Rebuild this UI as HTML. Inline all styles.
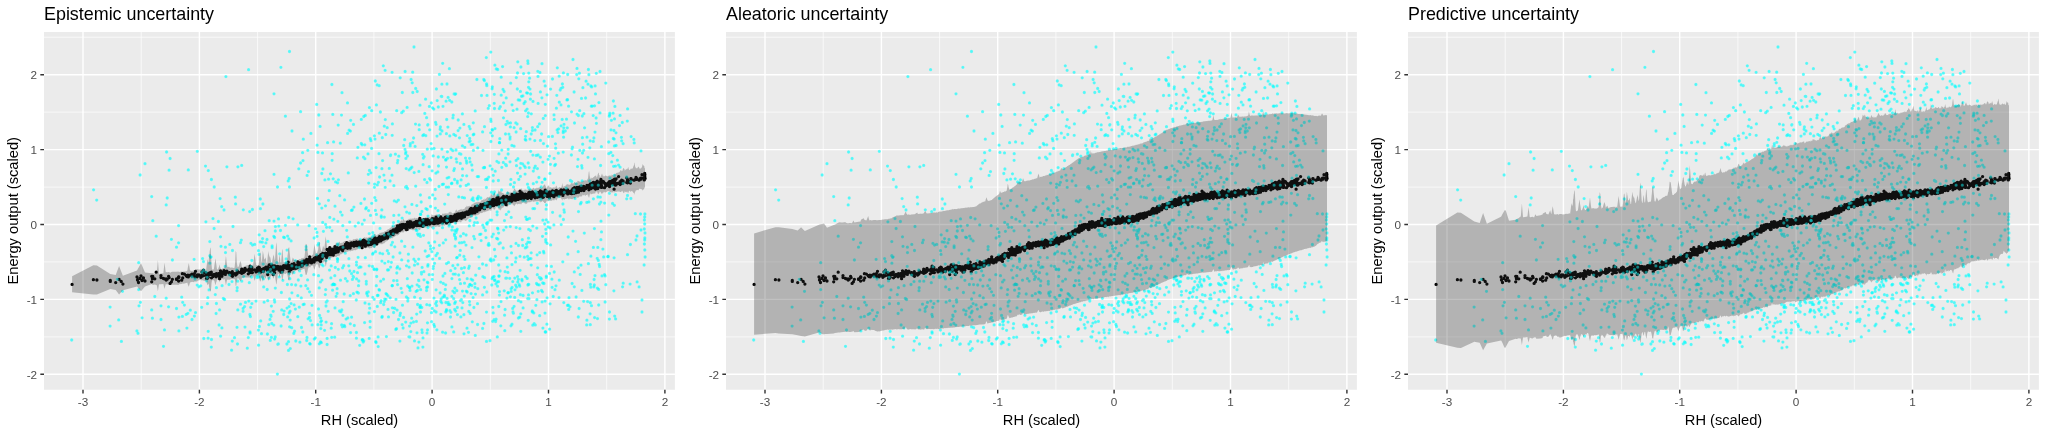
<!DOCTYPE html>
<html><head><meta charset="utf-8"><title>Uncertainty plots</title>
<style>html,body{margin:0;padding:0;background:#fff}svg{display:block;will-change:transform}text{font-family:"Liberation Sans",Arial,Helvetica,sans-serif}</style>
</head><body>
<svg width="2046" height="436" viewBox="0 0 2046 436">
<rect width="2046" height="436" fill="#fff"/>
<g transform="translate(0,0)"><rect x="44" y="31.96" width="630.9" height="357.79" fill="#ebebeb"/><path d="M141.2 31.96V389.75M257.6 31.96V389.75M373.9 31.96V389.75M490.3 31.96V389.75M606.7 31.96V389.75M44 336.9H674.9M44 261.9H674.9M44 187.1H674.9M44 112.1H674.9M44 37.2H674.9" stroke="#fff" stroke-width=".71" fill="none"/><path d="M83 31.96V389.75M199.4 31.96V389.75M315.7 31.96V389.75M432.1 31.96V389.75M548.5 31.96V389.75M664.9 31.96V389.75M44 374.3H674.9M44 299.4H674.9M44 224.5H674.9M44 149.6H674.9M44 74.7H674.9" stroke="#fff" stroke-width="1.42" fill="none"/><path d="M72.1 284.4h0M93.4 279.7h0M96.9 280h0M110.3 280.5h0M110.3 281.4h0M115.7 282.6h0M119.1 279.3h0M121.2 281.4h0M122.9 284.1h0M137 277h0M137.5 280h0M138.5 282.5h0M140 278.5h0M141 276h0M142 280.5h0M143.5 278h0M145 281h0M151.7 281.8h0M151.7 276.3h0M152.4 278.7h0M152.8 276.5h0M154.8 278.8h0M156.2 272.2h0M161 275.7h0M161 277.6h0M163.5 278.5h0M164.5 278.8h0M166.2 278.8h0M166.2 280h0M166.6 279.2h0M167.2 279.3h0M168.6 276.3h0M169.1 277.7h0M170.1 283.4h0M171.4 281.8h0M172.4 279.3h0M176.5 278.9h0M176.5 279.4h0M178.6 276.9h0M178.6 281h0M178.9 276.9h0M178.9 277.4h0M181.7 280.2h0M182.4 273.7h0M182.7 277.9h0M184.4 274.1h0M186.2 275.7h0M186.9 276.6h0M187.9 275.2h0M188.3 276.9h0M190.3 275.1h0M192 276.1h0M192 274.2h0M194.1 275.3h0M194.4 273.6h0M195 277h0M195.5 271.3h0M197.2 276.8h0M197.3 274.9h0M198.9 275h0M200.8 277.3h0M201.7 275.4h0M202 272h0M202.6 276.1h0M203.5 270.2h0M203.5 275.6h0M203.8 272.3h0M205.5 272.7h0M205.9 275.2h0M206.1 274.5h0M206.5 278.4h0M207.2 274.2h0M207.4 278.3h0M207.8 277.3h0M208.1 273.9h0M208.2 273.5h0M208.3 277.2h0M209 274.6h0M209.8 272.9h0M209.8 274.4h0M209.9 272.8h0M210.6 274.2h0M211.1 273.1h0M211.3 272.2h0M211.4 274.3h0M211.5 277.8h0M213 276.5h0M214.1 274.5h0M214.2 274.8h0M215.3 275.4h0M216.1 276.8h0M216.4 275h0M216.4 273.7h0M218.4 273.7h0M219.1 276.3h0M219.6 278.7h0M220.1 273.2h0M220.5 270.8h0M220.6 275.6h0M221 274.1h0M221.7 274.5h0M221.9 276.3h0M222.1 274.3h0M223.3 271.9h0M224 270.7h0M224.6 273.9h0M225.2 271.9h0M225.4 274.4h0M225.5 271.7h0M225.9 273.2h0M226.9 271.2h0M229 272.8h0M229.7 272.6h0M229.8 274.3h0M231.6 275.4h0M232 272.7h0M232.3 271.6h0M232.5 276.3h0M233 273.5h0M234.5 273.8h0M235.3 273.7h0M235.6 275.1h0M236.7 274.2h0M237 273.6h0M237 273.7h0M237.2 271h0M237.5 271.4h0M237.7 272.2h0M237.8 272.5h0M237.9 272.4h0M240.5 272.5h0M240.5 272.1h0M241.3 271.2h0M241.7 269.2h0M241.8 273.3h0M243.1 272.7h0M243.1 270.2h0M243.3 272.5h0M243.7 272.3h0M244.6 271.6h0M245 268.4h0M245.5 269.4h0M247.3 270.2h0M248.3 273.8h0M248.6 269.7h0M248.8 270.5h0M249.3 269.2h0M249.7 270.2h0M249.9 271.5h0M250 267.5h0M250.1 266.2h0M250.4 272h0M250.7 270.9h0M250.9 269.9h0M251.1 272.5h0M251.5 272.4h0M251.8 267.3h0M251.9 269.3h0M252.4 272.6h0M252.5 269.6h0M254.7 270h0M256 271.9h0M257.1 269.8h0M257.4 268.2h0M258.4 269h0M258.5 267.9h0M258.6 271h0M258.7 267.2h0M259 271.7h0M259.2 267.3h0M259.2 270.1h0M259.4 267.6h0M260.2 269.4h0M260.3 271.6h0M260.4 271.8h0M260.7 272h0M261.5 269.7h0M262.3 269.9h0M262.3 270.1h0M262.6 270.7h0M262.9 269h0M263.2 271.4h0M263.3 270.2h0M263.4 271.5h0M263.7 270.4h0M263.7 270.7h0M264.1 268.3h0M265 268.8h0M265.9 267.2h0M267 268.8h0M267.2 268.9h0M267.4 270.6h0M267.5 267.1h0M267.7 274.5h0M268.6 268.9h0M268.8 271.1h0M269.1 270.8h0M269.2 264.9h0M270 268.5h0M270.3 271.4h0M270.5 265h0M270.8 270.2h0M271.1 267.4h0M271.4 268.1h0M271.4 269.2h0M271.4 265.8h0M271.5 269.2h0M271.8 267.8h0M272.1 265.2h0M272.1 270h0M273.2 274.5h0M273.7 269.3h0M273.8 269.6h0M273.8 268.6h0M273.8 267.5h0M274 269.1h0M274 271.1h0M274 269h0M274.4 270.1h0M274.6 268.2h0M274.6 272.7h0M274.7 265.9h0M275.2 269.5h0M275.3 269.4h0M275.3 269h0M275.4 266.7h0M276.7 266.6h0M277.4 268h0M277.5 268.5h0M277.8 266.4h0M278.3 266.6h0M278.5 269.2h0M278.8 270h0M279.3 267.3h0M279.7 267.1h0M280.5 267h0M280.9 272.1h0M281.1 267h0M281.4 268h0M281.7 269.7h0M282.1 271.8h0M282.9 269.9h0M283.6 265.6h0M283.7 267.8h0M284.1 267.2h0M284.5 267.3h0M285.4 265.8h0M285.4 267.1h0M286.1 264.6h0M286.1 268.2h0M286.2 267.8h0M286.9 265.3h0M287 264.9h0M287 266.8h0M287.4 268.7h0M287.6 268.4h0M287.7 267.5h0M288.2 262.2h0M288.5 266.7h0M288.5 266.3h0M288.7 266.9h0M288.9 265.5h0M289.1 266.8h0M289.2 266.4h0M289.2 271.8h0M289.2 268.6h0M289.5 267.1h0M289.5 267.4h0M289.6 267.2h0M289.6 267.7h0M289.9 266.7h0M290.1 267.4h0M290.2 269h0M290.3 268.7h0M291.1 267.8h0M291.1 269.5h0M291.6 267.6h0M291.7 265.7h0M291.9 264.4h0M291.9 266.1h0M292 267.1h0M293.1 267.5h0M293.8 268.4h0M294 263.6h0M294.1 265.3h0M294.6 267.6h0M295.4 268.1h0M295.4 265.4h0M295.7 266.6h0M295.8 268.3h0M296.4 266.4h0M297.7 264.5h0M297.8 262h0M297.8 267.5h0M298.3 266.3h0M298.8 265.3h0M299.3 264.2h0M299.3 262.9h0M299.6 264.7h0M299.9 264.6h0M300.6 266.3h0M300.6 262.6h0M300.9 265.2h0M301.2 264.4h0M301.3 266.2h0M301.5 262.7h0M301.9 264.6h0M302.2 265.9h0M302.6 264h0M302.8 261.5h0M303 263.2h0M303.1 264.5h0M303.3 261.4h0M304.2 261h0M305.8 263.1h0M306 261.1h0M306.1 263.7h0M306.4 260.6h0M306.7 259.4h0M307 261h0M307.1 264.6h0M307.6 260.6h0M307.8 261.9h0M307.8 262.3h0M308.1 260.3h0M308.5 261.9h0M309.1 261.7h0M309.5 262h0M309.6 258.6h0M309.6 258.5h0M309.7 256.8h0M310.2 260.7h0M310.5 260.6h0M310.9 261.9h0M311.5 262.9h0M312 260h0M312.1 259.9h0M313.8 260.4h0M314.1 262h0M314.3 258.2h0M315.3 260.1h0M315.6 257.4h0M316.6 258.1h0M316.7 259.8h0M317 257.2h0M317.1 256.7h0M317.1 259.4h0M317.5 258.2h0M317.9 257.7h0M317.9 256.5h0M317.9 258.8h0M318.5 257.2h0M318.5 259h0M318.6 258.4h0M318.8 260h0M319.2 259.5h0M319.3 256.7h0M319.3 257.2h0M319.6 257.6h0M320.1 256.2h0M320.5 261.4h0M320.5 255.3h0M320.7 257.8h0M320.7 259h0M320.8 254.7h0M321.2 255.4h0M321.3 256h0M321.6 255h0M321.8 254.5h0M321.8 255.6h0M321.9 258.4h0M322 257.4h0M322.5 256.2h0M322.7 256.1h0M322.7 253.4h0M322.9 257h0M322.9 256.6h0M323.1 254.2h0M323.4 256h0M324.6 254.9h0M324.9 254.2h0M325.3 253.3h0M325.5 253.8h0M325.6 253.3h0M325.7 255.4h0M326 255.1h0M326 255h0M326.1 254.2h0M326.2 253.9h0M326.6 257.4h0M327.1 249.5h0M327.1 255.9h0M327.2 254.6h0M327.6 254h0M328 252.9h0M328.2 253.3h0M328.5 251.6h0M328.6 249.3h0M329.3 252.9h0M329.3 250.5h0M329.5 254.3h0M329.7 254.7h0M329.8 247.6h0M330.5 250.2h0M330.9 252.8h0M331.2 252.6h0M331.2 252.4h0M331.6 251.7h0M331.7 253.2h0M331.9 253.3h0M332 254.7h0M332.1 251.9h0M332.1 253.2h0M332.2 249.3h0M332.6 251.5h0M332.8 249.7h0M333.2 253.6h0M333.3 255h0M333.6 252.1h0M333.6 249.2h0M333.9 250.9h0M334 251.1h0M334.7 251.1h0M334.8 252.4h0M334.9 252.1h0M335 246.6h0M335 252.7h0M335.3 247.6h0M335.6 249.5h0M336.1 252.3h0M337.1 249.3h0M337.1 247.6h0M337.4 247.6h0M337.5 249.6h0M337.6 250.9h0M337.6 251.8h0M337.7 249.2h0M337.8 248.7h0M337.8 251.9h0M338.2 248.6h0M338.3 251.5h0M338.4 249.6h0M339.5 249.2h0M339.8 248.4h0M340.3 249.1h0M340.5 247.8h0M340.5 247.5h0M341 248.2h0M341.5 247.2h0M341.7 248.6h0M341.8 248.3h0M342 247.6h0M342.1 247.7h0M342.4 247.6h0M342.6 250.5h0M342.8 247.8h0M342.9 246.9h0M343 247.3h0M343.2 248.7h0M343.7 247.2h0M344.2 247.1h0M344.2 246.9h0M344.6 247.5h0M344.8 247.7h0M345.3 247.6h0M345.4 244.5h0M346.1 245.1h0M346.7 242.6h0M347.2 247.6h0M347.3 248.1h0M347.5 248.3h0M347.6 246.5h0M347.8 248h0M348.3 246h0M348.8 245.7h0M348.9 243.6h0M349.1 244.7h0M349.7 244.8h0M349.8 247.1h0M350.2 248.1h0M350.3 244.9h0M350.4 246.1h0M350.6 246h0M350.7 244.4h0M351.4 242.8h0M351.6 244.2h0M351.6 243.2h0M352.3 244.7h0M352.4 245h0M353.1 244.8h0M353.4 244.7h0M353.5 245.7h0M353.6 243.5h0M353.9 246.2h0M354 242.4h0M354.3 244.9h0M355.2 245.2h0M356.3 243.2h0M356.4 242h0M356.4 244.5h0M356.5 243.4h0M356.5 245.5h0M356.6 243.3h0M356.9 244.3h0M357.3 244.2h0M357.5 245.6h0M357.9 244.6h0M357.9 242.7h0M358.1 244.3h0M358.4 244.8h0M358.4 244.3h0M358.5 244.2h0M358.8 243.7h0M358.8 243.7h0M359.2 242.4h0M359.7 241.6h0M359.8 245.4h0M360.3 242.7h0M360.9 242.3h0M361 241.3h0M361.3 243.7h0M361.3 242.2h0M362.1 247.7h0M362.1 241.8h0M362.2 241.9h0M362.6 244.6h0M363.2 244.9h0M363.5 240.1h0M363.8 243.5h0M363.8 244.4h0M364.3 241.2h0M364.5 244h0M364.6 242.2h0M364.8 241.5h0M364.9 242.4h0M364.9 242.3h0M365 240.9h0M365.3 246.2h0M365.3 242.2h0M365.7 241.7h0M366.3 242.1h0M366.3 242.6h0M366.3 244.7h0M366.8 242.3h0M366.9 243.2h0M367.7 242.7h0M368 242.8h0M368.3 242.2h0M368.3 242.3h0M368.4 244.9h0M368.6 241.4h0M368.6 241.6h0M368.7 241.9h0M369 243.2h0M369.1 242.9h0M369.2 242.6h0M369.2 240.4h0M369.2 242.7h0M369.4 242.1h0M369.4 241.9h0M369.7 242.5h0M370.1 239.4h0M370.1 242.6h0M370.2 242.4h0M370.3 240.1h0M370.5 242h0M370.9 244.4h0M370.9 241.5h0M371.6 241.8h0M371.7 241.7h0M371.7 240.8h0M372.3 240.5h0M372.5 241.2h0M372.6 243.6h0M372.8 242.9h0M372.8 240.6h0M373.2 241.2h0M373.6 241.2h0M373.7 240.4h0M374.1 241.8h0M374.2 239.9h0M374.2 238.9h0M374.3 243h0M374.4 238.5h0M374.4 241.9h0M374.5 238.9h0M374.5 241h0M374.6 240.8h0M374.8 240.4h0M375 237.8h0M375.3 240.7h0M375.4 240.7h0M375.5 239.5h0M375.7 240.6h0M375.9 242h0M376.1 239.5h0M376.1 240.9h0M376.3 238.8h0M376.4 241h0M376.4 241.4h0M376.7 243.9h0M376.7 241.6h0M376.8 240.9h0M377.2 242.2h0M377.3 238.7h0M377.3 241.6h0M377.4 239.3h0M378.1 239h0M378.1 241.4h0M378.2 240.1h0M378.4 241.6h0M379 237.5h0M379 239.9h0M379.2 238.7h0M379.3 239h0M379.5 236.6h0M379.6 240.6h0M380 239.5h0M380 237.8h0M380.4 237.1h0M380.7 237.7h0M380.7 240.9h0M381.1 238.7h0M381.2 238.3h0M381.3 239.4h0M381.8 238.6h0M381.9 238.9h0M381.9 239.6h0M381.9 239h0M382.2 239.7h0M382.3 236.7h0M382.6 238.4h0M382.7 237.8h0M383.3 238.2h0M383.5 237.9h0M383.7 236.9h0M383.9 237.2h0M384.2 238.8h0M384.3 236.7h0M384.3 235.7h0M384.3 238.2h0M384.7 238.5h0M384.8 236.7h0M384.8 237.2h0M385.1 235.7h0M385.2 236.5h0M385.3 238.3h0M385.8 237.5h0M386 236.5h0M386 235.9h0M386.4 233.7h0M386.8 236.1h0M387.2 236.1h0M387.3 236.9h0M387.5 238h0M388 235.4h0M388 236.2h0M388.3 233.1h0M388.5 236.2h0M388.6 235.7h0M388.6 236.3h0M388.7 235.3h0M389.3 234.6h0M390.1 235.5h0M390.2 232.5h0M390.5 234.1h0M390.6 234.7h0M390.6 232.1h0M390.7 231.5h0M391.3 233.4h0M391.4 232.9h0M392 233.2h0M392.1 233.2h0M392.1 231.3h0M392.2 232.8h0M392.3 233.8h0M392.3 231.7h0M392.4 231.8h0M392.5 230.6h0M393.1 232.9h0M393.1 234.5h0M393.2 229.8h0M393.5 232.6h0M393.6 232.8h0M393.6 230.8h0M393.8 230.9h0M393.9 229.9h0M394.3 230.1h0M394.5 231.2h0M394.8 231.8h0M394.8 231h0M395.4 231.7h0M395.8 230.6h0M396 228.6h0M396.5 231.9h0M396.6 231.5h0M396.7 228.8h0M396.8 232.2h0M396.9 230.3h0M397 229.8h0M397.1 232.2h0M397.4 225.9h0M397.6 227h0M397.6 230.2h0M397.8 228.8h0M398.3 227.5h0M398.4 230.8h0M398.5 229.4h0M398.8 226.8h0M398.9 227.6h0M399.8 229.1h0M399.9 230.3h0M399.9 225.1h0M400 228.2h0M400.2 227.2h0M400.4 225.2h0M401.1 227h0M401.6 224.7h0M401.7 226.1h0M401.7 229h0M402 227.3h0M402.1 227.6h0M402.2 227.3h0M402.3 226.9h0M402.5 227.7h0M403.1 224.4h0M403.3 225.5h0M403.6 227.1h0M403.7 224.9h0M404.7 225.2h0M404.8 227.4h0M405 227.8h0M405 224.9h0M405.1 224.6h0M405.6 226.4h0M405.6 226h0M405.7 224.7h0M405.9 226.4h0M405.9 226.4h0M406.2 225.7h0M406.4 229.5h0M406.4 227.4h0M406.5 226.6h0M406.7 226.9h0M407.1 229.4h0M407.3 226.9h0M407.5 222.1h0M407.5 225.8h0M407.7 225.4h0M407.8 224.5h0M408 225.6h0M408.2 225.6h0M408.4 225.1h0M408.9 224.5h0M409.1 226.2h0M409.1 222.9h0M409.4 226.2h0M409.4 225.1h0M409.5 225.4h0M409.8 221.7h0M409.8 227.3h0M410 222.6h0M410.2 223.7h0M410.3 225.8h0M410.7 224h0M410.8 224.3h0M410.9 221.8h0M411.1 224.2h0M411.7 225h0M411.9 225.6h0M411.9 224.3h0M412 224.9h0M412.2 225.2h0M412.2 223.7h0M412.7 223.5h0M412.8 227.2h0M412.8 223.3h0M412.9 226.2h0M413.5 224.5h0M413.6 226.4h0M413.9 223.5h0M414 222.7h0M414.2 224.7h0M414.5 223.9h0M414.5 224.7h0M414.6 223.2h0M415.1 224h0M415.3 223.6h0M415.5 225.1h0M415.7 223.9h0M415.7 222.1h0M416.1 223.4h0M416.1 221.5h0M416.4 222.7h0M416.7 225.7h0M416.8 221.9h0M417 225h0M417 222.7h0M417.1 223.2h0M417.2 225.1h0M417.4 221.8h0M417.6 224.2h0M417.6 223.8h0M417.7 223h0M418 223.7h0M418.4 222.1h0M418.6 223.8h0M418.7 221.8h0M418.8 221.7h0M418.9 225.4h0M418.9 222.5h0M419.1 220.5h0M419.2 224.7h0M419.2 222.3h0M419.8 218.4h0M419.8 223.2h0M420 224.5h0M420 223.7h0M420.1 225.6h0M420.4 223h0M420.4 224h0M420.4 221.8h0M420.4 223.4h0M420.5 225.2h0M420.5 223.8h0M420.7 223.3h0M420.8 220.4h0M421.2 222.5h0M421.4 221.2h0M421.5 224h0M421.8 221.9h0M421.9 223.4h0M421.9 221.5h0M422.1 225.5h0M422.2 221.2h0M422.7 222.9h0M422.8 226.4h0M422.9 223h0M423 221.5h0M423 223.5h0M423.1 224h0M423.4 223.8h0M423.5 219.9h0M423.5 222.9h0M423.8 219.6h0M423.9 225.1h0M424 222.6h0M424.1 221.9h0M424.6 223.3h0M424.8 223h0M425.2 220.7h0M425.6 224.5h0M425.8 221.9h0M425.9 219.7h0M426.5 224h0M426.6 224.2h0M426.6 223.8h0M426.8 222.8h0M427 220.8h0M427 223.3h0M427.1 224.6h0M427.2 223.1h0M427.3 224.2h0M427.3 220.9h0M427.5 223.4h0M427.5 223.3h0M427.6 219.9h0M427.7 219.7h0M427.8 220.9h0M427.9 222h0M427.9 222.5h0M428 221.6h0M428 221.8h0M428 221.8h0M428.8 221.9h0M428.8 222.6h0M429.2 222.5h0M429.2 221.7h0M429.4 222.1h0M429.4 221.1h0M429.6 222.8h0M429.7 221h0M429.7 224h0M430.4 221.6h0M430.6 222h0M430.6 220.5h0M430.6 221.1h0M431.1 221.8h0M431.3 221.5h0M431.5 220.6h0M431.5 219.9h0M431.6 221.5h0M431.7 221.7h0M431.9 219.9h0M432.1 223.1h0M432.2 221h0M432.3 218.6h0M432.6 221.2h0M432.6 218.8h0M432.7 219.6h0M432.7 222.8h0M433.2 222.1h0M433.2 220.4h0M433.3 220.4h0M433.4 220.4h0M433.6 218.8h0M433.8 221.9h0M433.9 220.7h0M434 223.7h0M434.1 219.7h0M434.4 222.5h0M434.5 220.2h0M434.6 222.5h0M434.7 219.7h0M435.1 222.1h0M435.3 220.4h0M435.4 219.9h0M435.6 219.1h0M435.7 221.6h0M435.9 221.5h0M436 223.1h0M436.1 222.1h0M436.1 217.2h0M436.1 220.4h0M436.4 218.1h0M436.6 220.3h0M436.6 221.7h0M436.9 219h0M437 219.2h0M437.1 221h0M437.2 220.4h0M437.4 223h0M437.8 221.2h0M438 221.4h0M438.3 223.1h0M438.3 219.9h0M438.5 220.6h0M438.5 219.2h0M439 220.9h0M439.4 221.9h0M439.4 222.4h0M439.6 220.4h0M440.1 219.4h0M440.1 219.3h0M440.3 218.4h0M440.4 220.5h0M440.7 222.2h0M440.7 217h0M440.8 217.3h0M441.1 222.2h0M441.2 218h0M441.8 220.6h0M441.8 218.4h0M441.9 221.2h0M441.9 221.2h0M442 220.4h0M442.3 221.3h0M442.5 220.1h0M442.5 220.8h0M442.6 222.6h0M442.7 221.6h0M442.9 219.1h0M443 218.9h0M443 219.7h0M443.3 219.6h0M443.3 220.1h0M443.4 219.1h0M443.5 220.8h0M444.3 219.9h0M444.6 218.2h0M444.7 219.8h0M444.9 220.6h0M445.3 217.1h0M445.6 221.8h0M445.7 220.1h0M445.7 220.3h0M445.8 220.5h0M445.8 221.1h0M445.9 220.6h0M445.9 219.9h0M446.1 219.3h0M446.3 217.2h0M446.4 219.8h0M446.5 219.1h0M446.5 219.1h0M446.5 222.9h0M446.5 216.9h0M446.7 219.6h0M446.8 221.2h0M447 220.8h0M447.1 221.2h0M447.1 217.7h0M447.3 218.1h0M447.4 220.3h0M447.5 219h0M447.7 221.8h0M447.9 219.7h0M448.1 219.6h0M448.2 219.9h0M448.3 218.9h0M448.3 219.5h0M448.5 218.3h0M448.6 219.2h0M448.9 218.5h0M449 218.7h0M449.4 217.1h0M449.6 216.9h0M449.7 219.6h0M449.8 219.2h0M449.9 217.5h0M449.9 218.6h0M450.5 217.2h0M450.7 221.5h0M450.9 216.4h0M451 221h0M451 217.4h0M451.5 219h0M451.8 218h0M451.9 217.8h0M451.9 219.6h0M451.9 219.5h0M451.9 217.9h0M451.9 217h0M452.3 221.1h0M452.8 220h0M452.9 218.2h0M452.9 217.6h0M452.9 218.4h0M453.2 218h0M453.2 218.6h0M453.7 216.4h0M453.7 217.8h0M453.8 216.7h0M453.8 219.6h0M454.1 220.2h0M454.4 217.4h0M454.5 218.3h0M454.5 219.5h0M454.5 217.1h0M454.6 216.2h0M454.7 218.9h0M454.7 218.2h0M454.7 217.2h0M454.9 219.5h0M454.9 217.7h0M455.1 214.9h0M455.1 217.8h0M455.3 217.2h0M455.4 219.9h0M455.4 217.2h0M455.6 216.9h0M455.6 217.8h0M455.6 217.6h0M455.7 215.2h0M455.7 217.3h0M456 216.6h0M456.1 219h0M456.2 220.4h0M456.6 215.3h0M456.7 215.5h0M456.8 215.7h0M456.8 215.9h0M457.2 215.8h0M457.3 216.8h0M457.3 218.3h0M457.3 214.9h0M457.3 214.6h0M457.4 214.1h0M457.8 218.1h0M458.1 218.3h0M458.2 214.3h0M458.7 214h0M458.8 216.5h0M459.5 217.6h0M459.5 217.5h0M459.5 216.3h0M459.6 217h0M459.7 216.5h0M459.9 215.2h0M460.3 216.5h0M460.3 215.8h0M460.3 214.3h0M460.5 215.1h0M460.5 213.6h0M460.6 215.7h0M460.9 217.1h0M460.9 213.8h0M461.1 217.1h0M461.4 218.3h0M461.5 215.9h0M461.7 213.7h0M462 213.9h0M462.3 214.5h0M462.4 213.2h0M462.4 213.2h0M462.5 214.6h0M462.5 214.7h0M462.6 215.7h0M462.8 213.2h0M463.4 217.2h0M463.4 216h0M463.9 214.3h0M463.9 213.5h0M463.9 216.8h0M464 213.9h0M464.2 216.8h0M464.3 215.7h0M464.4 212.9h0M464.5 213.5h0M464.5 216.7h0M464.8 215.4h0M464.9 213.8h0M465.5 214h0M466 213.8h0M466.1 212.4h0M466.2 213.2h0M466.2 212.5h0M466.4 212.8h0M466.7 213.9h0M466.7 211.9h0M467 214.1h0M467.2 213.2h0M467.2 214.1h0M467.2 214.3h0M468.4 214.3h0M468.5 213.4h0M468.7 213.5h0M468.7 212.2h0M468.8 213.2h0M469.1 211h0M469.2 211.9h0M469.3 213.3h0M469.3 212.1h0M469.5 212.7h0M469.6 210.6h0M469.7 213.9h0M469.8 211.2h0M469.8 212.5h0M469.9 211.9h0M470 213.2h0M470.1 211.4h0M470.1 210.5h0M470.2 209.2h0M470.2 211.4h0M470.7 210h0M471.1 212.2h0M471.1 213.5h0M471.1 208.4h0M471.4 209.5h0M471.8 211.6h0M471.8 212.9h0M471.9 211.6h0M472 211.6h0M472.3 211.7h0M472.3 211.8h0M472.7 213.1h0M472.9 211.6h0M472.9 209h0M473.1 209.9h0M473.2 210.9h0M473.3 209.4h0M473.4 210.1h0M473.5 209.7h0M473.7 209.4h0M473.8 211.3h0M473.9 209.7h0M473.9 208.7h0M474.6 209h0M474.6 210h0M474.9 212.8h0M475 207.8h0M475.2 211.8h0M475.3 210.4h0M475.5 206.6h0M475.7 210h0M476.1 208.1h0M476.9 207.1h0M477 207.4h0M477.2 211.3h0M477.3 206.6h0M477.4 207.9h0M477.5 210.4h0M477.6 209.6h0M477.7 206.2h0M477.8 208.4h0M477.8 207.9h0M478.4 208h0M478.6 209.3h0M478.9 207.3h0M479.2 207.5h0M479.7 209.8h0M480.8 204.7h0M480.9 206.7h0M481.1 207.8h0M481.5 205.2h0M482.6 205.6h0M482.6 204.6h0M482.6 205.7h0M482.6 205.6h0M482.8 207.5h0M482.9 207.8h0M483 206.4h0M483.3 205.7h0M483.8 206.4h0M483.9 206h0M483.9 204.2h0M484.3 207.4h0M484.4 206.1h0M484.4 206.9h0M484.4 203.9h0M484.5 207h0M484.5 208.7h0M484.6 206.6h0M484.9 203.6h0M485.3 205.5h0M485.4 205.3h0M485.5 205.7h0M486 204.9h0M486.3 205.8h0M486.3 204.4h0M486.4 205.4h0M486.5 204.1h0M486.5 205.2h0M486.6 206.4h0M486.6 204.3h0M486.8 205.8h0M486.8 203.6h0M486.9 204.3h0M487 204.5h0M487 206.6h0M487.1 203.7h0M487.3 206.5h0M487.7 202.5h0M488.2 204.2h0M488.2 205.7h0M488.8 205.2h0M488.8 202.7h0M489.2 202.3h0M489.3 205.2h0M489.7 202.1h0M490 204.6h0M490 203h0M490.1 203.7h0M490.1 207h0M490.2 205.8h0M490.7 204.7h0M490.8 201.5h0M490.8 203.9h0M490.8 203.5h0M490.9 203.3h0M491 205.3h0M491.3 200.8h0M491.5 203.6h0M491.7 203.3h0M491.8 202h0M492 205.5h0M492 201.2h0M492.1 203h0M492.1 203.1h0M492.1 199.9h0M492.3 200.9h0M492.3 201.5h0M492.6 203.9h0M492.7 204.1h0M492.7 203.6h0M492.9 201.8h0M493.2 199.4h0M493.2 202.9h0M493.3 201.8h0M493.3 204.2h0M493.6 204.3h0M493.7 205.6h0M494.1 203.2h0M494.1 203.4h0M494.2 200.7h0M494.3 202.3h0M494.5 200.3h0M494.5 203.4h0M494.5 200.4h0M494.5 200h0M494.9 200.8h0M494.9 201.3h0M495 202.6h0M495.2 201.1h0M495.4 202.2h0M495.6 200.4h0M495.9 203.7h0M496.1 200.8h0M496.3 203.1h0M496.6 204.7h0M496.9 198.1h0M497.1 200.1h0M497.1 201.2h0M497.1 203.2h0M497.3 200.8h0M497.5 202h0M497.5 200.4h0M497.7 202.2h0M497.7 199.7h0M497.8 202.6h0M498 197.1h0M498.4 198.6h0M498.6 203.8h0M498.6 201.5h0M498.7 199.9h0M498.7 204.3h0M498.8 202.7h0M498.9 202.8h0M499 200.5h0M499 202h0M499 201.9h0M499 198.8h0M499.3 201.9h0M499.4 200.8h0M499.4 202.9h0M499.5 202.9h0M499.6 200.1h0M499.8 200.1h0M500.2 201.2h0M500.3 201.8h0M500.3 200.3h0M500.8 200.6h0M501 201.6h0M501.2 201.3h0M501.2 202.4h0M501.5 201h0M501.6 199.3h0M501.8 198h0M501.8 201.7h0M502.4 200h0M502.6 199.9h0M503 199.9h0M503.2 198h0M503.3 199.7h0M503.5 196.5h0M503.6 199.6h0M503.7 198.9h0M504.1 202.7h0M504.2 200.7h0M504.5 199.7h0M504.6 200.2h0M504.8 199.4h0M505.1 198.8h0M505.1 199.6h0M505.3 199.4h0M505.5 203.4h0M505.5 199.9h0M505.7 197h0M505.8 200.9h0M505.9 203.5h0M505.9 198.4h0M506.1 204.7h0M506.2 199.6h0M506.2 201.1h0M506.3 198.8h0M506.4 199.2h0M506.6 197.8h0M506.9 198h0M506.9 196.5h0M507.2 201.1h0M507.3 197.8h0M507.6 199.9h0M507.9 199.8h0M507.9 198.4h0M508.1 199.4h0M508.2 199.1h0M508.3 198.5h0M508.3 199.3h0M508.7 199.2h0M508.9 197.7h0M509.7 197.1h0M509.9 197.7h0M510 199.1h0M510 200.9h0M510.1 201h0M510.3 199.3h0M510.4 200.2h0M510.4 199h0M510.5 200.4h0M510.5 199h0M510.7 199.3h0M510.9 198.3h0M511 198.7h0M511 201.4h0M511.1 197h0M511.2 198.7h0M511.2 197.8h0M511.5 200h0M511.9 201.1h0M512 198.1h0M512 194.5h0M512 199.4h0M512.1 199.4h0M512.7 195.9h0M512.8 198h0M513 198.2h0M513.2 194.9h0M513.4 199.2h0M513.5 198.8h0M514.1 198.4h0M514.1 196.5h0M514.1 197h0M514.4 197.1h0M514.4 198.7h0M514.7 196.5h0M514.8 200.1h0M515 198.4h0M515.5 194.6h0M515.7 200.2h0M515.8 198h0M516 196.9h0M516 197.8h0M516.1 195h0M516.1 197.9h0M516.2 194.1h0M516.3 196.1h0M516.5 199.5h0M516.6 199.4h0M517 197h0M517.1 196.1h0M517.3 198.8h0M517.5 197.3h0M517.5 197.7h0M517.5 198.3h0M517.8 195.8h0M517.8 198.5h0M517.9 194.3h0M518.2 199.4h0M518.4 195h0M518.4 196.3h0M518.4 196.3h0M518.5 198.3h0M518.8 198.3h0M519.2 197.7h0M519.7 197.9h0M519.8 197.7h0M519.8 197h0M519.9 194.2h0M520 191.2h0M520.1 193.7h0M520.2 196.9h0M520.4 196.6h0M520.4 196.8h0M520.4 197.3h0M520.7 196.6h0M520.8 193.1h0M520.8 194.7h0M520.8 194.1h0M520.9 198.7h0M520.9 198.2h0M521.5 192.6h0M521.9 196.4h0M522.1 197.4h0M522.3 199h0M522.6 193.6h0M522.7 196.9h0M522.8 198.3h0M522.9 194.1h0M523 195.5h0M523.1 196.5h0M523.1 195.5h0M523.6 199.6h0M524 197.7h0M524.2 196.7h0M524.3 195h0M525.1 197.6h0M525.2 197.2h0M525.2 195.5h0M525.3 195.6h0M525.3 194.1h0M525.3 196.2h0M525.5 197.5h0M525.6 197.7h0M525.6 197.1h0M525.8 197.4h0M525.9 195.3h0M526.3 195.4h0M526.5 197.9h0M526.5 196.8h0M526.6 194.9h0M526.9 196.8h0M527.1 197.2h0M527.2 197h0M527.4 196.1h0M527.5 195.2h0M527.6 196.5h0M527.6 198.4h0M527.7 196.2h0M527.7 195h0M527.8 196.4h0M527.9 194.1h0M527.9 196.2h0M528 195.4h0M528.1 197.3h0M528.2 196h0M528.2 197.4h0M528.4 197.6h0M528.4 195.5h0M528.4 194.6h0M528.5 196.5h0M528.5 195.7h0M528.5 196h0M528.7 194.9h0M528.8 196.6h0M528.8 195.9h0M528.8 192.6h0M529 195.4h0M529.1 196.2h0M529.5 197.4h0M529.5 194.9h0M529.6 192.1h0M529.8 197.3h0M529.9 194.8h0M530 195.8h0M530 196.3h0M530.4 196.7h0M530.4 195.6h0M530.6 194h0M530.7 197.1h0M531 194.9h0M531.2 194.8h0M531.2 198.5h0M531.2 196.8h0M531.3 194h0M532.3 194.8h0M532.3 195.1h0M532.4 194.4h0M532.4 191.8h0M532.5 196.6h0M532.8 196.5h0M532.8 193.3h0M532.9 194.8h0M532.9 195.7h0M533 196.3h0M533.3 193.8h0M533.3 194.9h0M533.8 194.5h0M534.2 196.3h0M534.3 195.7h0M534.6 193.4h0M534.8 194.3h0M535.1 197.8h0M535.3 193.8h0M535.3 195.4h0M535.4 194.3h0M535.8 197h0M536.3 195h0M536.5 194.5h0M536.5 193.4h0M536.7 194.7h0M536.8 196.3h0M536.9 196h0M537.1 193.1h0M537.3 197.3h0M537.3 194.7h0M537.3 193.5h0M537.4 195.2h0M537.6 194.1h0M537.7 194.1h0M537.7 194.1h0M537.8 194.8h0M538 194.2h0M538.1 192.5h0M538.1 195.7h0M538.2 194.2h0M538.9 196.6h0M539.2 195.6h0M539.3 195.7h0M539.4 195.1h0M539.7 196.7h0M539.7 194.3h0M539.9 193.3h0M540.3 195.2h0M540.4 190.8h0M540.4 194.2h0M540.6 195h0M540.7 194.1h0M540.9 196.5h0M541.2 195.7h0M541.4 193.8h0M541.5 194.1h0M541.6 196.2h0M541.9 193.6h0M542 194h0M542.1 195.7h0M542.1 195.5h0M542.5 197.5h0M542.5 194.2h0M542.7 191.8h0M542.9 195.5h0M542.9 196.3h0M542.9 194.3h0M543.3 196.8h0M543.5 197.1h0M543.5 193.5h0M543.9 193.8h0M544 192.6h0M544.1 195.2h0M544.7 195.4h0M544.8 195.3h0M544.8 192.6h0M544.9 193.3h0M545 192.3h0M545.1 192h0M545.2 192.4h0M545.2 190.1h0M545.3 191.7h0M545.3 194.9h0M545.7 195.2h0M545.7 194.3h0M545.8 193.3h0M545.8 194.3h0M546.1 195.1h0M546.1 193.8h0M546.2 194.3h0M546.3 193.8h0M546.3 193.5h0M546.4 194.3h0M546.6 192.6h0M546.7 195.7h0M546.9 191.9h0M547 194.9h0M547.1 192.2h0M547.1 196.4h0M547.5 195.4h0M548.1 192.9h0M548.1 193.5h0M548.1 192.5h0M548.6 194h0M549.2 194.6h0M549.4 197.7h0M549.5 192h0M549.6 195.8h0M549.9 193.1h0M550 194.4h0M550.1 195.2h0M550.4 194.7h0M550.6 192.1h0M550.6 193.6h0M551.4 193.8h0M551.9 194h0M552.1 195.5h0M552.4 191.6h0M552.5 190.9h0M552.6 192h0M553.1 192.3h0M553.2 192.5h0M553.5 195.2h0M553.9 196.7h0M554 195.6h0M554.1 191.9h0M554.2 193.7h0M554.2 192h0M554.7 192.7h0M555 195.3h0M555.5 192.5h0M555.6 194.7h0M555.7 193.2h0M556 190.6h0M556.4 190.5h0M556.8 193.2h0M557.1 194.1h0M557.3 195.1h0M557.9 192.7h0M558.3 193.3h0M558.6 193.5h0M559 194.7h0M559 193h0M559.2 191.5h0M559.3 194.7h0M559.3 193.7h0M560.1 193.6h0M560.2 191.2h0M560.9 192.9h0M561 190.5h0M561.1 190h0M561.2 192.6h0M562.2 192.2h0M562.4 193.6h0M562.8 194.9h0M562.8 192.7h0M562.9 195.4h0M563.2 191.9h0M563.2 193.8h0M563.3 190.9h0M563.4 192.9h0M563.4 192.2h0M563.6 192.4h0M563.8 191.3h0M563.8 189.9h0M564 190.9h0M564 191.4h0M564.3 192.7h0M564.3 193.1h0M565.3 191.8h0M566.3 191.6h0M566.5 190.4h0M566.9 192.9h0M567.3 191h0M567.5 192.6h0M567.6 189.8h0M567.7 193.9h0M567.8 190.4h0M568.2 193.5h0M568.4 191.1h0M568.6 192.5h0M568.7 191.5h0M569 192.7h0M570 191.5h0M570.4 193.3h0M571.4 192.2h0M571.5 192.2h0M571.7 193.7h0M572.1 190h0M572.1 193h0M572.5 191.1h0M573 188.6h0M573 191.6h0M573.5 190.5h0M574 193.3h0M574.1 189.9h0M574.3 189.9h0M574.3 191h0M574.5 187.6h0M575 191.3h0M575.6 188.8h0M576.1 192.3h0M576.2 192.7h0M576.7 189.9h0M577 187.4h0M577.1 190.1h0M577.5 190h0M578 190.7h0M578.2 189h0M578.3 187.6h0M578.3 189.2h0M578.4 188h0M578.5 192.2h0M578.8 188.2h0M579.1 188.2h0M579.4 189h0M579.7 187h0M579.8 188.3h0M580.2 188.6h0M580.4 188h0M581 188.2h0M581.2 190.5h0M581.2 188.1h0M581.5 186.3h0M581.7 187.7h0M581.9 189.5h0M582 187.3h0M582.1 188.4h0M582.3 188.2h0M582.4 189.1h0M582.5 187.9h0M582.7 187.9h0M582.9 186.7h0M583.7 188.5h0M583.7 186.4h0M583.9 190.6h0M584.3 187.7h0M584.6 187.3h0M585.6 188.7h0M586.1 187.1h0M586.7 187.2h0M586.8 187h0M586.9 185.8h0M587 185.5h0M587.6 185.7h0M588 187.5h0M588 185.7h0M588.4 186h0M588.4 185.9h0M588.8 187.7h0M588.9 189.8h0M589.7 184.8h0M589.8 187.2h0M590.1 186.4h0M590.2 185.7h0M590.3 187h0M590.3 184h0M590.4 187.5h0M590.8 186.4h0M590.9 184.3h0M590.9 188.7h0M591.3 187.3h0M591.5 187.8h0M591.7 183.3h0M592.1 185.3h0M592.3 184.8h0M593.2 186.6h0M593.3 187.8h0M593.4 182.3h0M593.4 185.5h0M593.9 185.2h0M593.9 187.1h0M594.1 185.3h0M594.3 183.2h0M594.4 185h0M594.4 183.6h0M594.6 184h0M594.6 185.4h0M595 184.4h0M595 185.7h0M595.1 182.6h0M595.5 189.1h0M596.1 187.2h0M596.3 186.2h0M596.4 182.8h0M597.2 181.1h0M597.4 183.3h0M597.5 184.4h0M597.8 188.6h0M597.9 187h0M598.3 183.7h0M598.3 186.7h0M598.7 186.7h0M598.7 184.6h0M598.9 186.6h0M599.2 185.1h0M599.5 183.3h0M599.6 182.4h0M600 184.1h0M600 186.1h0M600.3 181.9h0M600.6 181.4h0M600.9 185.2h0M600.9 179.4h0M601 187.3h0M601.4 183.3h0M601.5 185.4h0M602 187.3h0M602.9 181.4h0M603.7 182h0M604.5 187.7h0M604.6 183.2h0M605.1 183.5h0M605.1 184.1h0M605.8 185.5h0M605.8 186h0M607.8 183.6h0M608.2 182.8h0M608.7 183.3h0M608.8 183.9h0M608.8 185.7h0M609.3 183.5h0M609.4 186.6h0M609.4 181.7h0M609.5 184.2h0M609.7 186.4h0M609.8 185.6h0M610 183.8h0M610.9 181.5h0M611 181.8h0M611.4 182.8h0M611.7 183.6h0M612.4 182.5h0M612.6 180.3h0M612.8 181.6h0M613.1 181.3h0M613.3 184.4h0M613.4 180.3h0M613.6 182.1h0M613.9 179.7h0M614 181.7h0M614.1 189.2h0M614.2 182.8h0M614.4 182h0M614.4 181.6h0M614.5 180.4h0M614.5 179.2h0M614.7 182.5h0M614.9 182.1h0M615.5 185.2h0M615.6 179.4h0M615.6 183.2h0M616 184.9h0M616.1 178.8h0M617.4 183.4h0M618.6 176.6h0M619.5 182.8h0M620.1 184.5h0M620.1 181.7h0M621.4 182h0M621.7 180.1h0M622.3 181.9h0M622.6 183.4h0M623.1 180.9h0M623.1 181h0M623.2 182h0M626.7 182.5h0M626.7 177.8h0M627.3 181h0M627.5 179.5h0M627.5 181.8h0M627.6 182.8h0M630.1 181.2h0M630.4 183h0M630.8 178.6h0M630.9 179.7h0M631.1 178.6h0M633.9 180.2h0M634.2 180.2h0M635.3 179.4h0M636 177.3h0M637 179.3h0M637.1 178.6h0M639.1 180.2h0M640.5 178.2h0M641 179.2h0M641 179.1h0M642 174.7h0M642 178.1h0M644.1 175.1h0M644.3 179.9h0M644.4 179.3h0M644.4 177.9h0M644.7 178.8h0M644.7 174.9h0M644.7 173.3h0M644.8 176.7h0M644.8 177.3h0M644.9 174.8h0M645 178h0M645.1 178.4h0" fill="none" stroke="#000" stroke-linecap="round" stroke-width="3.3"/><g fill="none" stroke="#0ff" stroke-linecap="round"><path d="M610.9 152.4h0M427.5 330h0M546.1 209.2h0M419.8 223h0M448.3 194.6h0M330.9 277.9h0M573 231.1h0M406.7 212.1h0M532.8 226.1h0M621.4 137.3h0M192 319.5h0M439.6 258.4h0M203.5 270.3h0M342 92.7h0M271.1 316.3h0M430.6 180.1h0M504.8 330.7h0M117.3 279.3h0M275.2 336.9h0M542.1 301.9h0M452.3 226.9h0M609.4 319.1h0M339.8 195.7h0M376.4 214.4h0M209.9 263.2h0M501.6 190h0M331.2 265.9h0M140.4 302.3h0M394.8 246.8h0M478.6 176.6h0M566.3 188.2h0M586.1 81.2h0M411.9 204.4h0M464.8 147.3h0M497.8 239h0M548.1 227h0M557.3 67.8h0M584.3 233.1h0M590.9 85.9h0M110.1 326.1h0M417.7 263.9h0M527.6 256.5h0M429.2 274.7h0M375.9 200.4h0M486.3 265.2h0M516 243.4h0M359.2 247.5h0M436.4 89h0M590.4 284.5h0M572.1 148.8h0M169.1 170.2h0M433.9 324.5h0M511.5 252.9h0M405 206.8h0M544 283.5h0M269.2 220.7h0M609.7 114.9h0M498 229h0M335 206.2h0M616 132.8h0M499.8 138.7h0M429.2 166.7h0M447.9 127.1h0M386.8 294.3h0M295.4 309.1h0M453.2 274.1h0M391.3 244.9h0M562.4 84h0M543.5 251.3h0M225.4 247.2h0M281.4 292.5h0M262.6 238.6h0M380.4 112h0M369.2 233.6h0M474.6 238.8h0M446.5 263.6h0M462.8 302.6h0M243.1 308.4h0M350.2 295.7h0M386 299.3h0M495.6 321.5h0M434.6 263.3h0M427.2 209.5h0M466 245.1h0M567.8 254.2h0M247.3 348.2h0M258.4 330.1h0M459.9 128.1h0M478.9 256.8h0M421.8 307.5h0M520.8 331.3h0M318.6 243.4h0M446.5 167.1h0M527.6 93.1h0M529.1 167.6h0M529.5 218.4h0M408.9 336.8h0M556 285.8h0M434.4 310.9h0M402 292.6h0M503.7 230.1h0M535.3 166.1h0M563.4 72.9h0M511.2 291.4h0M385.8 134.5h0M533.8 312.9h0M457.2 229.1h0M397.1 310.1h0M370.5 215.4h0M433.2 268.6h0M432.2 308.4h0M456.1 232.5h0M306.1 246.7h0M595 132.1h0M254.7 244.4h0M377.4 295.5h0M337.7 259.4h0M571.5 111.8h0M327.2 300.9h0M415.5 124.1h0M301.5 327.5h0M587.6 301.6h0M310.2 344.1h0M622.3 122.5h0M326.2 302.2h0M451 157.6h0M644.8 238h0M573.5 192.7h0M505.7 158.2h0M222.1 285.7h0M549.6 329.2h0M469.8 284.8h0M571.4 155h0M427.9 282.8h0M498.8 306.5h0M356.5 265.1h0M366.3 207.7h0M291.9 265.9h0M533.3 171.1h0M561 104.9h0M534.6 208.6h0M206.5 280.9h0M380 228.4h0M419.1 286.5h0M343.7 265.7h0M471.1 279.2h0M430.4 245.9h0M600 112.9h0M435.3 189.5h0M547.1 297.8h0M344.2 325.3h0M176.5 247.2h0M195.5 312.6h0M635.3 213.7h0M376.1 167.6h0M139 305.8h0M586.8 202.4h0M265.9 242.9h0M270.8 315.1h0M297.7 224.9h0M508.3 292.7h0M406.4 297h0M321.8 208.1h0M376.1 342.5h0M466.7 163h0M501 301.6h0M492.7 321.3h0M511.1 288.8h0M427.8 266.2h0M272.1 246h0M552.4 136.4h0M271.4 263.8h0M396.7 110.7h0M553.9 224.9h0M542.5 236.3h0M454.1 93.9h0M575 198.4h0M187.9 313.3h0M445.7 284.8h0M464 333.8h0M381.9 317.3h0M259 254.4h0M518.4 300.7h0M393.9 185.7h0M136.9 330.9h0M248.8 301.1h0M519.8 100.2h0M261.5 333.7h0M363.5 157.2h0M519.8 317.2h0M540.4 91.9h0M511.9 145.4h0M537.3 194.9h0M292 131h0M436.1 312h0M469.3 266.2h0M280.5 230.5h0M449.4 68.7h0M558.6 128.9h0M402.2 324.6h0M423.1 164.7h0M469.6 158.3h0M420.8 214.4h0M281.7 309.9h0M353.5 124.4h0M396.6 201.8h0M494.3 94.3h0M554.1 158.3h0M482.6 294.9h0M463.9 314.7h0M515.7 285.2h0M510.5 184.5h0M455.6 237.4h0M579.8 150.4h0M207.2 277.3h0M614.9 106.4h0M332.1 284.8h0M542.9 162.1h0M528.4 187.4h0M476.9 79.5h0M393.2 233.8h0M237 327.3h0M414.6 297.2h0M582 168h0M393.8 215.4h0M630.8 181.7h0M412.7 72.2h0M405.6 187.2h0M525.2 139.3h0M491.3 261h0M166.6 152h0M449.8 135.9h0M471.1 144.7h0M602 275.9h0M578.3 267.8h0M604.5 274.6h0M471.8 165h0M516.2 227.6h0M422.1 267.4h0M486.5 341.4h0M556.8 95.3h0M337.8 221.3h0M221.9 327.9h0M574 189.9h0M398.9 215.1h0M457.8 264.8h0M472.3 170.2h0M490.9 141.5h0M622.6 286.8h0M590.8 287.2h0M388.6 234h0M540.3 157.2h0M602.9 249.1h0M463.4 272.7h0M428.8 255.7h0M201.7 307.3h0M443.3 283.4h0M512 324.2h0M414 47h0M453.2 115.2h0M456.8 162.1h0M388.3 261.6h0M503 89.3h0M529.5 258.6h0M326 260.7h0M373.6 222.9h0M440.1 129.3h0M582.9 87.7h0M552.6 212.3h0M237.9 166.8h0M458.2 120h0M372.5 266.5h0M420 105.2h0M273.8 325.1h0M545 313.1h0M438 210.7h0M473.3 122.8h0M427 182.5h0M418.7 259.1h0M423.5 235.3h0M329.5 270.1h0M510.3 226.6h0M525.8 217.1h0M568.4 305.2h0M219.1 325h0M384.3 126.2h0M409.4 213.2h0M585.6 98h0M268.8 324.7h0M376.3 285.7h0M597.2 258.3h0M275.3 231h0M611.7 161.9h0M427.6 286.9h0M424.8 113.4h0M167.2 198h0M262.3 277h0M433.4 266.3h0M283.6 237.2h0M288.9 238.9h0M499.4 295.1h0M439.4 74.4h0M550.4 164.3h0M539.7 252.6h0M429.7 129.8h0M498.6 281.7h0M412.8 92.5h0M456.6 257.8h0M454.9 94.3h0M609.5 312h0M416.4 321.4h0M454.4 168.6h0M380.7 302.7h0M548.1 159.3h0M342.9 315.3h0M614.4 145.9h0M495.9 283.9h0M536.5 192.4h0M524.2 165.8h0M486.3 57.6h0M568.6 106.2h0M237.7 281.2h0M484.4 80.6h0M297.8 295.7h0M376.7 276.5h0M285.4 225.3h0M644.1 265h0M614.5 118.9h0M409.8 337h0M478.4 196.5h0M467 328.2h0M206.1 272.1h0M402.5 305.2h0M252.4 209.5h0M267.2 289.5h0M484.5 126.7h0M325.6 224.4h0M526.5 219.3h0M443.3 242.9h0M477.7 147.9h0M384.8 180.6h0M612.4 185.6h0M582.3 116h0M528.8 81.8h0M559.2 76.2h0M308.1 318.8h0M588.9 74.7h0M310.5 320.6h0M390.6 267.1h0M631.1 136.6h0M454.5 233.8h0M442.7 63.3h0M475.3 335.4h0M503.2 248h0M508.2 149.3h0M256 301.1h0M490.8 258.9h0M492.1 278.7h0M545.2 85.9h0M184.4 305.1h0M365.3 115.4h0M442.9 297.1h0M531.2 265.1h0M224.6 299.5h0M294.6 331.2h0M593.3 141.4h0M462.6 175.6h0M538.2 291.3h0M307.1 175.4h0M494.1 276.5h0M483 150.4h0M330.5 173.8h0M267.4 334h0M412.2 82.8h0M383.7 304.5h0M432.6 107.8h0M382.7 253.8h0M397.6 266.7h0M543.3 118.4h0M517.5 276.6h0M580.4 203.9h0M299.3 307.2h0M519.9 228.6h0M455.7 311.1h0M492.6 130.1h0M615.5 166.1h0M522.3 239.7h0M612.6 203.5h0M494.5 249.5h0M525.6 110.8h0M581.2 185.4h0M423.5 226h0M337.8 244h0M260.4 208.7h0M525.6 276.6h0M182.4 316.4h0M627.3 121.1h0M519.7 286.2h0M192 277h0M569 297.7h0M431.3 103h0M493.7 260h0M248.3 337.6h0M480.9 234.1h0M207.4 303.7h0M620.1 167.2h0M578.3 317h0M482.6 131.9h0M409.1 267.2h0M214.2 187h0M501.2 77.2h0M388.6 253.5h0M594.6 317.6h0M555.6 164.3h0M448.2 302.4h0M462 307.9h0M262.3 242.2h0M420.4 305.3h0M445.8 160.2h0M499.3 108.6h0M510.4 296.8h0M407.5 156h0M605.8 284.7h0M576.1 297h0M406.4 186.5h0M576.7 74.6h0M516.1 160.4h0M644.7 224h0M473.7 236.3h0M435.7 303.7h0M595.1 85.9h0M470.1 161.9h0M443 276h0M305.8 285.7h0M446.5 310.7h0M461.5 268.5h0M595 275.6h0M412 286.1h0M522.1 280.8h0M542.9 328.1h0M219.6 309.9h0M445.3 289.4h0M273.7 267.2h0M590.3 324.7h0M334.9 284.6h0M237.8 309.9h0M468.7 286.6h0M313.8 274.7h0M515.5 261.9h0M456.8 290.7h0M186.9 328.1h0M544.9 178.9h0M500.3 106.7h0M409.8 287.7h0M209.8 241.6h0M420.7 289.7h0M240.5 242.7h0M451.5 183.6h0M415.1 146.4h0M151.7 309.9h0M369.4 107.6h0M494.5 108.5h0M432.7 259.1h0M563.8 302.6h0M460.3 250.4h0M554.2 272h0M563.2 132.7h0M428 227.5h0M488.8 243.5h0M596.3 73.3h0M384.3 301.6h0M297.8 316.7h0M358.1 257.3h0M477.8 288.7h0M489.2 245.2h0M436 255.5h0M338.2 125.1h0M572.5 147.2h0M377.3 184.9h0M537.7 126.7h0M436.6 305.6h0M364.9 158.7h0" stroke-width="3.3" stroke-opacity=".5"/><path d="M610.9 152.4h0M427.5 330h0M546.1 209.2h0M419.8 223h0M448.3 194.6h0M330.9 277.9h0M573 231.1h0M406.7 212.1h0M532.8 226.1h0M621.4 137.3h0M192 319.5h0M439.6 258.4h0M203.5 270.3h0M342 92.7h0M271.1 316.3h0M430.6 180.1h0M504.8 330.7h0M117.3 279.3h0M275.2 336.9h0M542.1 301.9h0M452.3 226.9h0M609.4 319.1h0M339.8 195.7h0M376.4 214.4h0M209.9 263.2h0M501.6 190h0M331.2 265.9h0M140.4 302.3h0M394.8 246.8h0M478.6 176.6h0M566.3 188.2h0M586.1 81.2h0M411.9 204.4h0M464.8 147.3h0M497.8 239h0M548.1 227h0M557.3 67.8h0M584.3 233.1h0M590.9 85.9h0M110.1 326.1h0M417.7 263.9h0M527.6 256.5h0M429.2 274.7h0M375.9 200.4h0M486.3 265.2h0M516 243.4h0M359.2 247.5h0M436.4 89h0M590.4 284.5h0M572.1 148.8h0M169.1 170.2h0M433.9 324.5h0M511.5 252.9h0M405 206.8h0M544 283.5h0M269.2 220.7h0M609.7 114.9h0M498 229h0M335 206.2h0M616 132.8h0M499.8 138.7h0M429.2 166.7h0M447.9 127.1h0M386.8 294.3h0M295.4 309.1h0M453.2 274.1h0M391.3 244.9h0M562.4 84h0M543.5 251.3h0M225.4 247.2h0M281.4 292.5h0M262.6 238.6h0M380.4 112h0M369.2 233.6h0M474.6 238.8h0M446.5 263.6h0M462.8 302.6h0M243.1 308.4h0M350.2 295.7h0M386 299.3h0M495.6 321.5h0M434.6 263.3h0M427.2 209.5h0M466 245.1h0M567.8 254.2h0M247.3 348.2h0M258.4 330.1h0M459.9 128.1h0M478.9 256.8h0M421.8 307.5h0M520.8 331.3h0M318.6 243.4h0M446.5 167.1h0M527.6 93.1h0M529.1 167.6h0M529.5 218.4h0M408.9 336.8h0M556 285.8h0M434.4 310.9h0M402 292.6h0M503.7 230.1h0M535.3 166.1h0M563.4 72.9h0M511.2 291.4h0M385.8 134.5h0M533.8 312.9h0M457.2 229.1h0M397.1 310.1h0M370.5 215.4h0M433.2 268.6h0M432.2 308.4h0M456.1 232.5h0M306.1 246.7h0M595 132.1h0M254.7 244.4h0M377.4 295.5h0M337.7 259.4h0M571.5 111.8h0M327.2 300.9h0M415.5 124.1h0M301.5 327.5h0M587.6 301.6h0M310.2 344.1h0M622.3 122.5h0M326.2 302.2h0M451 157.6h0M644.8 238h0M573.5 192.7h0M505.7 158.2h0M222.1 285.7h0M549.6 329.2h0M469.8 284.8h0M571.4 155h0M427.9 282.8h0M498.8 306.5h0M356.5 265.1h0M366.3 207.7h0M291.9 265.9h0M533.3 171.1h0M561 104.9h0M534.6 208.6h0M206.5 280.9h0M380 228.4h0M419.1 286.5h0M343.7 265.7h0M471.1 279.2h0M430.4 245.9h0M600 112.9h0M435.3 189.5h0M547.1 297.8h0M344.2 325.3h0M176.5 247.2h0M195.5 312.6h0M635.3 213.7h0M376.1 167.6h0M139 305.8h0M586.8 202.4h0M265.9 242.9h0M270.8 315.1h0M297.7 224.9h0M508.3 292.7h0M406.4 297h0M321.8 208.1h0M376.1 342.5h0M466.7 163h0M501 301.6h0M492.7 321.3h0M511.1 288.8h0M427.8 266.2h0M272.1 246h0M552.4 136.4h0M271.4 263.8h0M396.7 110.7h0M553.9 224.9h0M542.5 236.3h0M454.1 93.9h0M575 198.4h0M187.9 313.3h0M445.7 284.8h0M464 333.8h0M381.9 317.3h0M259 254.4h0M518.4 300.7h0M393.9 185.7h0M136.9 330.9h0M248.8 301.1h0M519.8 100.2h0M261.5 333.7h0M363.5 157.2h0M519.8 317.2h0M540.4 91.9h0M511.9 145.4h0M537.3 194.9h0M292 131h0M436.1 312h0M469.3 266.2h0M280.5 230.5h0M449.4 68.7h0M558.6 128.9h0M402.2 324.6h0M423.1 164.7h0M469.6 158.3h0M420.8 214.4h0M281.7 309.9h0M353.5 124.4h0M396.6 201.8h0M494.3 94.3h0M554.1 158.3h0M482.6 294.9h0M463.9 314.7h0M515.7 285.2h0M510.5 184.5h0M455.6 237.4h0M579.8 150.4h0M207.2 277.3h0M614.9 106.4h0M332.1 284.8h0M542.9 162.1h0M528.4 187.4h0M476.9 79.5h0M393.2 233.8h0M237 327.3h0M414.6 297.2h0M582 168h0M393.8 215.4h0M630.8 181.7h0M412.7 72.2h0M405.6 187.2h0M525.2 139.3h0M491.3 261h0M166.6 152h0M449.8 135.9h0M471.1 144.7h0M602 275.9h0M578.3 267.8h0M604.5 274.6h0M471.8 165h0M516.2 227.6h0M422.1 267.4h0M486.5 341.4h0M556.8 95.3h0M337.8 221.3h0M221.9 327.9h0M574 189.9h0M398.9 215.1h0M457.8 264.8h0M472.3 170.2h0M490.9 141.5h0M622.6 286.8h0M590.8 287.2h0M388.6 234h0M540.3 157.2h0M602.9 249.1h0M463.4 272.7h0M428.8 255.7h0M201.7 307.3h0M443.3 283.4h0M512 324.2h0M414 47h0M453.2 115.2h0M456.8 162.1h0M388.3 261.6h0M503 89.3h0M529.5 258.6h0M326 260.7h0M373.6 222.9h0M440.1 129.3h0M582.9 87.7h0M552.6 212.3h0M237.9 166.8h0M458.2 120h0M372.5 266.5h0M420 105.2h0M273.8 325.1h0M545 313.1h0M438 210.7h0M473.3 122.8h0M427 182.5h0M418.7 259.1h0M423.5 235.3h0M329.5 270.1h0M510.3 226.6h0M525.8 217.1h0M568.4 305.2h0M219.1 325h0M384.3 126.2h0M409.4 213.2h0M585.6 98h0M268.8 324.7h0M376.3 285.7h0M597.2 258.3h0M275.3 231h0M611.7 161.9h0M427.6 286.9h0M424.8 113.4h0M167.2 198h0M262.3 277h0M433.4 266.3h0M283.6 237.2h0M288.9 238.9h0M499.4 295.1h0M439.4 74.4h0M550.4 164.3h0M539.7 252.6h0M429.7 129.8h0M498.6 281.7h0M412.8 92.5h0M456.6 257.8h0M454.9 94.3h0M609.5 312h0M416.4 321.4h0M454.4 168.6h0M380.7 302.7h0M548.1 159.3h0M342.9 315.3h0M614.4 145.9h0M495.9 283.9h0M536.5 192.4h0M524.2 165.8h0M486.3 57.6h0M568.6 106.2h0M237.7 281.2h0M484.4 80.6h0M297.8 295.7h0M376.7 276.5h0M285.4 225.3h0M644.1 265h0M614.5 118.9h0M409.8 337h0M478.4 196.5h0M467 328.2h0M206.1 272.1h0M402.5 305.2h0M252.4 209.5h0M267.2 289.5h0M484.5 126.7h0M325.6 224.4h0M526.5 219.3h0M443.3 242.9h0M477.7 147.9h0M384.8 180.6h0M612.4 185.6h0M582.3 116h0M528.8 81.8h0M559.2 76.2h0M308.1 318.8h0M588.9 74.7h0M310.5 320.6h0M390.6 267.1h0M631.1 136.6h0M454.5 233.8h0M442.7 63.3h0M475.3 335.4h0M503.2 248h0M508.2 149.3h0M256 301.1h0M490.8 258.9h0M492.1 278.7h0M545.2 85.9h0M184.4 305.1h0M365.3 115.4h0M442.9 297.1h0M531.2 265.1h0M224.6 299.5h0M294.6 331.2h0M593.3 141.4h0M462.6 175.6h0M538.2 291.3h0M307.1 175.4h0M494.1 276.5h0M483 150.4h0M330.5 173.8h0M267.4 334h0M412.2 82.8h0M383.7 304.5h0M432.6 107.8h0M382.7 253.8h0M397.6 266.7h0M543.3 118.4h0M517.5 276.6h0M580.4 203.9h0M299.3 307.2h0M519.9 228.6h0M455.7 311.1h0M492.6 130.1h0M615.5 166.1h0M522.3 239.7h0M612.6 203.5h0M494.5 249.5h0M525.6 110.8h0M581.2 185.4h0M423.5 226h0M337.8 244h0M260.4 208.7h0M525.6 276.6h0M182.4 316.4h0M627.3 121.1h0M519.7 286.2h0M192 277h0M569 297.7h0M431.3 103h0M493.7 260h0M248.3 337.6h0M480.9 234.1h0M207.4 303.7h0M620.1 167.2h0M578.3 317h0M482.6 131.9h0M409.1 267.2h0M214.2 187h0M501.2 77.2h0M388.6 253.5h0M594.6 317.6h0M555.6 164.3h0M448.2 302.4h0M462 307.9h0M262.3 242.2h0M420.4 305.3h0M445.8 160.2h0M499.3 108.6h0M510.4 296.8h0M407.5 156h0M605.8 284.7h0M576.1 297h0M406.4 186.5h0M576.7 74.6h0M516.1 160.4h0M644.7 224h0M473.7 236.3h0M435.7 303.7h0M595.1 85.9h0M470.1 161.9h0M443 276h0M305.8 285.7h0M446.5 310.7h0M461.5 268.5h0M595 275.6h0M412 286.1h0M522.1 280.8h0M542.9 328.1h0M219.6 309.9h0M445.3 289.4h0M273.7 267.2h0M590.3 324.7h0M334.9 284.6h0M237.8 309.9h0M468.7 286.6h0M313.8 274.7h0M515.5 261.9h0M456.8 290.7h0M186.9 328.1h0M544.9 178.9h0M500.3 106.7h0M409.8 287.7h0M209.8 241.6h0M420.7 289.7h0M240.5 242.7h0M451.5 183.6h0M415.1 146.4h0M151.7 309.9h0M369.4 107.6h0M494.5 108.5h0M432.7 259.1h0M563.8 302.6h0M460.3 250.4h0M554.2 272h0M563.2 132.7h0M428 227.5h0M488.8 243.5h0M596.3 73.3h0M384.3 301.6h0M297.8 316.7h0M358.1 257.3h0M477.8 288.7h0M489.2 245.2h0M436 255.5h0M338.2 125.1h0M572.5 147.2h0M377.3 184.9h0M537.7 126.7h0M436.6 305.6h0M364.9 158.7h0" stroke-width="2.3" stroke-opacity=".32"/><path d="M399.8 268.8h0M620.1 115.4h0M405.7 322.1h0M546.9 324.2h0M401.7 112.7h0M560.9 88.4h0M472.9 197.9h0M527.2 278.4h0M497.3 336.9h0M466.7 175.8h0M440.3 133.9h0M506.4 165.7h0M302.6 152.7h0M528.4 113h0M321.3 342.7h0M345.3 253.2h0M476.1 218h0M96.7 200.1h0M277.4 374.1h0M362.1 144.8h0M241.3 240.1h0M486.8 85.7h0M452.9 291.1h0M545.3 115.6h0M352.4 279.4h0M516.6 287.1h0M328 241.4h0M630.4 244.5h0M526.5 244.1h0M428 264.6h0M369 313h0M470.1 128.8h0M503.3 162.4h0M517.5 73h0M468.5 332.3h0M461.7 242.7h0M449.9 224.3h0M166.2 204.9h0M520.4 294.7h0M473.5 200.6h0M644.3 229h0M614 130.5h0M318.5 309h0M432.7 194.9h0M460.6 236.2h0M273.2 311.3h0M436.9 329.8h0M534.2 323.6h0M293.1 218.8h0M399.9 253h0M424.6 179.6h0M435.6 122.4h0M590.1 313.8h0M450.9 312.3h0M462.5 168.9h0M552.1 287.3h0M459.5 242.8h0M376.8 269.1h0M275.3 288.1h0M462.4 145.8h0M334.8 275.7h0M540.4 140.4h0M432.3 279.4h0M431.7 220h0M351.6 273.7h0M271.4 306.1h0M494.1 319.6h0M356.9 292.1h0M396.5 328.7h0M449.9 310.7h0M397.8 160.4h0M501.2 95.2h0M420.4 214.2h0M280.9 67.3h0M374.1 268.9h0M417 230.4h0M565.3 131h0M464.5 283.2h0M431.1 143.6h0M517.1 124h0M600.9 239.7h0M539.9 72.5h0M522.6 163.8h0M490 220.2h0M333.6 141.9h0M548.6 136.7h0M393.6 312.5h0M142.1 317.8h0M152.4 318.2h0M613.9 290.8h0M293.8 333.4h0M644.8 250h0M511.2 217.4h0M627.5 254.7h0M464.5 197.9h0M273.8 236.3h0M570 306.8h0M523.1 295.5h0M398.5 319.5h0M521.5 96.3h0M544.7 224h0M388.5 316.9h0M538.1 103.4h0M423.4 158h0M515.8 122.9h0M178.9 330.9h0M542.9 220.2h0M611.4 120.3h0M393.6 280.6h0M371.7 203.3h0M454.7 309.4h0M394.8 308.4h0M418.9 342.1h0M578.2 251.7h0M519.2 284.6h0M626.7 177h0M597.5 318.6h0M307.8 288.7h0M490.1 206.7h0M360.9 203.4h0M497.1 212h0M400.4 313.2h0M528.7 229.4h0M445.7 239.8h0M506.2 164.9h0M518.8 179.4h0M250.4 316.6h0M497.1 282h0M611 129.9h0M488.8 177.1h0M282.9 280.3h0M182.7 302.3h0M291.7 327.7h0M258.6 345.2h0M249.7 211.6h0M373.7 235.5h0M235.3 197.2h0M621.7 140.8h0M626.7 198.8h0M591.3 106.2h0M473.9 134.2h0M454.6 179.5h0M526.6 92.8h0M509.9 203.3h0M567.5 305.4h0M332.6 290.2h0M498.6 233.1h0M455.4 223.1h0M529.8 242.3h0M332.1 160.3h0M486.8 292h0M303 160.6h0M309.5 317.5h0M574.1 92h0M528.8 73.1h0M560.2 90h0M594.4 228.6h0M458.8 196.9h0M447.5 158.3h0M431.5 312.7h0M251.8 260.5h0M288.5 350.4h0M211.1 256.8h0M507.9 292.8h0M270.3 340.4h0M460.9 316.9h0M407.7 286h0M316.6 254.8h0M270.5 269.4h0M592.1 185.2h0M220.5 236.8h0M542.7 283h0M410 290.4h0M456.7 230.4h0M453.7 298.7h0M374.6 184.1h0M578 159.3h0M472.7 280.2h0M419.8 234.1h0M470.2 141.1h0M260.3 199h0M363.2 342.1h0M320.1 126.4h0M405.9 158.4h0M371.7 110.7h0M563.6 137.2h0M260.2 241.9h0M301.3 297.9h0M443.5 184.1h0M382.3 137.7h0M314.1 238h0M588 84.2h0M630.1 284.1h0M281.1 326h0M573 59.5h0M483.9 227.7h0M459.5 153.7h0M442.5 223.8h0M418.4 235.3h0M328.6 179.2h0M454.9 288.2h0M350.6 332.6h0M302.8 332h0M467.2 278.7h0M390.5 155.6h0M229.8 244.4h0M359.7 345.3h0M492.1 169.2h0M644.9 214h0M394.5 308.2h0M605.1 302h0M274 221.1h0M507.3 267.1h0M356.5 262.2h0M404.7 139.7h0M517.3 89h0M274.7 302h0M545.1 301.1h0M273.8 274.2h0M503.5 117.8h0M430.6 206.4h0M323.1 265.8h0M333.9 219.2h0M426.8 304.7h0M392.3 285.7h0M271.8 323.5h0M464.4 267.7h0M344.6 199.9h0M642 300h0M306.4 265.3h0M392.5 242.3h0M562.2 119.4h0M342.6 267.8h0M441.1 299h0M301.9 261.2h0M317.9 245.1h0M274 93.8h0M351.4 210.4h0M522.8 200.8h0M402.1 218.1h0M552.5 79h0M608.7 142h0M536.9 299.7h0M517.8 61.8h0M543.9 252.9h0M437.8 171.9h0M497.5 228.1h0M436.1 124.3h0M495.4 256.3h0M375 139.1h0M531.2 252.8h0M455.1 246.2h0M384.3 217.1h0M287.7 316.9h0M319.3 343.8h0M442.6 332.2h0M539.4 123.9h0M408.4 254.2h0M340.5 280.2h0M453.7 331.9h0M607.8 256.7h0M482.6 328.4h0M368.3 174.3h0M203.5 261.6h0M644.4 220h0M290.3 348.6h0M556.4 108.2h0M433.6 248.1h0M545.3 104.3h0M510.1 136.8h0M598.3 260.4h0M427.9 124.6h0M383.9 175.1h0M506.9 257.9h0M473.9 307.5h0M637.1 281.9h0M309.6 313.3h0M561.2 224.6h0M610 178.2h0M396.8 273h0M424.1 156.7h0M329.3 190.7h0M164.5 329.9h0M563.3 131h0M375.5 251.7h0M547 94.8h0M479.7 234.4h0M411.9 167.2h0M484.5 167.5h0M390.7 154.8h0M401.1 288.3h0M537.6 284.7h0M332.8 114.4h0M550.6 89.1h0M553.1 192.6h0M614.4 205.3h0M460.9 154.2h0M486.6 223.3h0M271.4 337.4h0M287 308.1h0M315.6 228.8h0M372.8 297.3h0M71.7 340h0M523 295.3h0M559 196.5h0M487 95.4h0M597.4 288.2h0M456 150h0M414.5 340.9h0M496.1 319.2h0M541.2 187h0M434.7 241.9h0M608.8 215.1h0M274.6 339.1h0M451.9 296.3h0M589.8 147.8h0M587 137.2h0M295.8 341h0M325.5 205.8h0M601.4 146.7h0M336.1 296.3h0M525.1 174.1h0M619.5 125.6h0M406.5 265.8h0M441.8 302.8h0M250.7 307.3h0M600.6 165.5h0M570.4 180.5h0M566.9 99.9h0M549.4 156.1h0M525.3 200.9h0M499 206.7h0M581 265.2h0M491.8 285h0M517.5 173.1h0M505.5 164.4h0M384.8 263.1h0M400.2 77.8h0M340.5 212.1h0M601 221.2h0M338.4 179.8h0M378.1 295.3h0M422.7 154.3h0M354 271.5h0M542 63.7h0M605.8 83.1h0M417.6 304.5h0M538 76.4h0M492.3 86.8h0M298.3 280h0M422.8 135.6h0M497.5 286.2h0M529.9 189.2h0M508.7 211.8h0M525.2 101.7h0M557.1 130h0M499.5 291.6h0M447.1 298.4h0M518.4 318h0M172.4 260h0M392.4 123.9h0M421.2 202h0M423 220.1h0M420.1 306.8h0M593.9 286.9h0M493.6 193.9h0M375.3 81h0M505.3 110.8h0M382.6 160.6h0M410.8 331.6h0M571.7 181.4h0M268.6 271.8h0M564 124.3h0M209.8 255.7h0M118.7 319.9h0M194.1 259.3h0M379.3 133.2h0M614.1 257.8h0M368 153.9h0M609.4 193.3h0M645.1 257h0M623.2 283.2h0M427.7 125.1h0M530.4 230.6h0M205.5 166.1h0M220.1 198.6h0M599.6 266.5h0M245 327.1h0M560.1 216h0M417.4 290.4h0M470.7 189.8h0M286.1 263h0M369.1 304.1h0M410.9 323.1h0M537.8 71.3h0M600.9 202.2h0M332 230.8h0M499.6 142.7h0M455.6 135.6h0M207.8 297.7h0M506.9 298.1h0M609.3 116.2h0M405 149.3h0M615.6 318.9h0M350.3 323.8h0M431.6 321.7h0M451.8 102h0M371.6 148.4h0M437 136.1h0M435.4 208.1h0M597.8 247.4h0M289.6 299h0M599.5 204h0M434.1 148.5h0M463.4 233.7h0M494.5 280.3h0M274.4 299.9h0M512.8 281.6h0M375.7 341.6h0M533 101.4h0M473.8 225.3h0M337.6 182.8h0M379 289.6h0M289.1 306.6h0M263.2 264.1h0M512.7 308.4h0M326.1 322.1h0M416.7 314.1h0M290.1 311.2h0M445.9 159.4h0M249.3 282.7h0M579.7 110.7h0M417 332.8h0M535.3 324.9h0M639.1 286.9h0M495 128.6h0M408.2 261h0M498.9 153.9h0M520.8 163.3h0M467.2 292h0M263.3 271.6h0M392.1 72.3h0M627.5 195.5h0M333.3 284.2h0M586.7 324.9h0M342.8 225.7h0M445.6 333h0M528 63.4h0M263.7 286.9h0M546.6 265.9h0M374.2 299.3h0M381.8 209.9h0M510.4 126.9h0M362.6 339.7h0M548.1 222.2h0M479.2 268.4h0M328.2 311.3h0M446.8 220.5h0M379.6 177h0M437.1 232.9h0M303.1 304.6h0M283.7 314.5h0M226.9 166.8h0M545.8 241.9h0M541.9 97.8h0M369.4 170.4h0M366.8 293.8h0M493.2 181h0M163.5 346.3h0M533.3 183.7h0M138.7 289.6h0M510 161.8h0M536.8 228.1h0M287.4 284.5h0M525.5 136.3h0M349.7 222.1h0M406.2 168.6h0M637 236h0M439.4 245.3h0M290.2 320.1h0M370.3 138.7h0M370.2 239.5h0" stroke-width="3.3" stroke-opacity=".5"/><path d="M399.8 268.8h0M620.1 115.4h0M405.7 322.1h0M546.9 324.2h0M401.7 112.7h0M560.9 88.4h0M472.9 197.9h0M527.2 278.4h0M497.3 336.9h0M466.7 175.8h0M440.3 133.9h0M506.4 165.7h0M302.6 152.7h0M528.4 113h0M321.3 342.7h0M345.3 253.2h0M476.1 218h0M96.7 200.1h0M277.4 374.1h0M362.1 144.8h0M241.3 240.1h0M486.8 85.7h0M452.9 291.1h0M545.3 115.6h0M352.4 279.4h0M516.6 287.1h0M328 241.4h0M630.4 244.5h0M526.5 244.1h0M428 264.6h0M369 313h0M470.1 128.8h0M503.3 162.4h0M517.5 73h0M468.5 332.3h0M461.7 242.7h0M449.9 224.3h0M166.2 204.9h0M520.4 294.7h0M473.5 200.6h0M644.3 229h0M614 130.5h0M318.5 309h0M432.7 194.9h0M460.6 236.2h0M273.2 311.3h0M436.9 329.8h0M534.2 323.6h0M293.1 218.8h0M399.9 253h0M424.6 179.6h0M435.6 122.4h0M590.1 313.8h0M450.9 312.3h0M462.5 168.9h0M552.1 287.3h0M459.5 242.8h0M376.8 269.1h0M275.3 288.1h0M462.4 145.8h0M334.8 275.7h0M540.4 140.4h0M432.3 279.4h0M431.7 220h0M351.6 273.7h0M271.4 306.1h0M494.1 319.6h0M356.9 292.1h0M396.5 328.7h0M449.9 310.7h0M397.8 160.4h0M501.2 95.2h0M420.4 214.2h0M280.9 67.3h0M374.1 268.9h0M417 230.4h0M565.3 131h0M464.5 283.2h0M431.1 143.6h0M517.1 124h0M600.9 239.7h0M539.9 72.5h0M522.6 163.8h0M490 220.2h0M333.6 141.9h0M548.6 136.7h0M393.6 312.5h0M142.1 317.8h0M152.4 318.2h0M613.9 290.8h0M293.8 333.4h0M644.8 250h0M511.2 217.4h0M627.5 254.7h0M464.5 197.9h0M273.8 236.3h0M570 306.8h0M523.1 295.5h0M398.5 319.5h0M521.5 96.3h0M544.7 224h0M388.5 316.9h0M538.1 103.4h0M423.4 158h0M515.8 122.9h0M178.9 330.9h0M542.9 220.2h0M611.4 120.3h0M393.6 280.6h0M371.7 203.3h0M454.7 309.4h0M394.8 308.4h0M418.9 342.1h0M578.2 251.7h0M519.2 284.6h0M626.7 177h0M597.5 318.6h0M307.8 288.7h0M490.1 206.7h0M360.9 203.4h0M497.1 212h0M400.4 313.2h0M528.7 229.4h0M445.7 239.8h0M506.2 164.9h0M518.8 179.4h0M250.4 316.6h0M497.1 282h0M611 129.9h0M488.8 177.1h0M282.9 280.3h0M182.7 302.3h0M291.7 327.7h0M258.6 345.2h0M249.7 211.6h0M373.7 235.5h0M235.3 197.2h0M621.7 140.8h0M626.7 198.8h0M591.3 106.2h0M473.9 134.2h0M454.6 179.5h0M526.6 92.8h0M509.9 203.3h0M567.5 305.4h0M332.6 290.2h0M498.6 233.1h0M455.4 223.1h0M529.8 242.3h0M332.1 160.3h0M486.8 292h0M303 160.6h0M309.5 317.5h0M574.1 92h0M528.8 73.1h0M560.2 90h0M594.4 228.6h0M458.8 196.9h0M447.5 158.3h0M431.5 312.7h0M251.8 260.5h0M288.5 350.4h0M211.1 256.8h0M507.9 292.8h0M270.3 340.4h0M460.9 316.9h0M407.7 286h0M316.6 254.8h0M270.5 269.4h0M592.1 185.2h0M220.5 236.8h0M542.7 283h0M410 290.4h0M456.7 230.4h0M453.7 298.7h0M374.6 184.1h0M578 159.3h0M472.7 280.2h0M419.8 234.1h0M470.2 141.1h0M260.3 199h0M363.2 342.1h0M320.1 126.4h0M405.9 158.4h0M371.7 110.7h0M563.6 137.2h0M260.2 241.9h0M301.3 297.9h0M443.5 184.1h0M382.3 137.7h0M314.1 238h0M588 84.2h0M630.1 284.1h0M281.1 326h0M573 59.5h0M483.9 227.7h0M459.5 153.7h0M442.5 223.8h0M418.4 235.3h0M328.6 179.2h0M454.9 288.2h0M350.6 332.6h0M302.8 332h0M467.2 278.7h0M390.5 155.6h0M229.8 244.4h0M359.7 345.3h0M492.1 169.2h0M644.9 214h0M394.5 308.2h0M605.1 302h0M274 221.1h0M507.3 267.1h0M356.5 262.2h0M404.7 139.7h0M517.3 89h0M274.7 302h0M545.1 301.1h0M273.8 274.2h0M503.5 117.8h0M430.6 206.4h0M323.1 265.8h0M333.9 219.2h0M426.8 304.7h0M392.3 285.7h0M271.8 323.5h0M464.4 267.7h0M344.6 199.9h0M642 300h0M306.4 265.3h0M392.5 242.3h0M562.2 119.4h0M342.6 267.8h0M441.1 299h0M301.9 261.2h0M317.9 245.1h0M274 93.8h0M351.4 210.4h0M522.8 200.8h0M402.1 218.1h0M552.5 79h0M608.7 142h0M536.9 299.7h0M517.8 61.8h0M543.9 252.9h0M437.8 171.9h0M497.5 228.1h0M436.1 124.3h0M495.4 256.3h0M375 139.1h0M531.2 252.8h0M455.1 246.2h0M384.3 217.1h0M287.7 316.9h0M319.3 343.8h0M442.6 332.2h0M539.4 123.9h0M408.4 254.2h0M340.5 280.2h0M453.7 331.9h0M607.8 256.7h0M482.6 328.4h0M368.3 174.3h0M203.5 261.6h0M644.4 220h0M290.3 348.6h0M556.4 108.2h0M433.6 248.1h0M545.3 104.3h0M510.1 136.8h0M598.3 260.4h0M427.9 124.6h0M383.9 175.1h0M506.9 257.9h0M473.9 307.5h0M637.1 281.9h0M309.6 313.3h0M561.2 224.6h0M610 178.2h0M396.8 273h0M424.1 156.7h0M329.3 190.7h0M164.5 329.9h0M563.3 131h0M375.5 251.7h0M547 94.8h0M479.7 234.4h0M411.9 167.2h0M484.5 167.5h0M390.7 154.8h0M401.1 288.3h0M537.6 284.7h0M332.8 114.4h0M550.6 89.1h0M553.1 192.6h0M614.4 205.3h0M460.9 154.2h0M486.6 223.3h0M271.4 337.4h0M287 308.1h0M315.6 228.8h0M372.8 297.3h0M71.7 340h0M523 295.3h0M559 196.5h0M487 95.4h0M597.4 288.2h0M456 150h0M414.5 340.9h0M496.1 319.2h0M541.2 187h0M434.7 241.9h0M608.8 215.1h0M274.6 339.1h0M451.9 296.3h0M589.8 147.8h0M587 137.2h0M295.8 341h0M325.5 205.8h0M601.4 146.7h0M336.1 296.3h0M525.1 174.1h0M619.5 125.6h0M406.5 265.8h0M441.8 302.8h0M250.7 307.3h0M600.6 165.5h0M570.4 180.5h0M566.9 99.9h0M549.4 156.1h0M525.3 200.9h0M499 206.7h0M581 265.2h0M491.8 285h0M517.5 173.1h0M505.5 164.4h0M384.8 263.1h0M400.2 77.8h0M340.5 212.1h0M601 221.2h0M338.4 179.8h0M378.1 295.3h0M422.7 154.3h0M354 271.5h0M542 63.7h0M605.8 83.1h0M417.6 304.5h0M538 76.4h0M492.3 86.8h0M298.3 280h0M422.8 135.6h0M497.5 286.2h0M529.9 189.2h0M508.7 211.8h0M525.2 101.7h0M557.1 130h0M499.5 291.6h0M447.1 298.4h0M518.4 318h0M172.4 260h0M392.4 123.9h0M421.2 202h0M423 220.1h0M420.1 306.8h0M593.9 286.9h0M493.6 193.9h0M375.3 81h0M505.3 110.8h0M382.6 160.6h0M410.8 331.6h0M571.7 181.4h0M268.6 271.8h0M564 124.3h0M209.8 255.7h0M118.7 319.9h0M194.1 259.3h0M379.3 133.2h0M614.1 257.8h0M368 153.9h0M609.4 193.3h0M645.1 257h0M623.2 283.2h0M427.7 125.1h0M530.4 230.6h0M205.5 166.1h0M220.1 198.6h0M599.6 266.5h0M245 327.1h0M560.1 216h0M417.4 290.4h0M470.7 189.8h0M286.1 263h0M369.1 304.1h0M410.9 323.1h0M537.8 71.3h0M600.9 202.2h0M332 230.8h0M499.6 142.7h0M455.6 135.6h0M207.8 297.7h0M506.9 298.1h0M609.3 116.2h0M405 149.3h0M615.6 318.9h0M350.3 323.8h0M431.6 321.7h0M451.8 102h0M371.6 148.4h0M437 136.1h0M435.4 208.1h0M597.8 247.4h0M289.6 299h0M599.5 204h0M434.1 148.5h0M463.4 233.7h0M494.5 280.3h0M274.4 299.9h0M512.8 281.6h0M375.7 341.6h0M533 101.4h0M473.8 225.3h0M337.6 182.8h0M379 289.6h0M289.1 306.6h0M263.2 264.1h0M512.7 308.4h0M326.1 322.1h0M416.7 314.1h0M290.1 311.2h0M445.9 159.4h0M249.3 282.7h0M579.7 110.7h0M417 332.8h0M535.3 324.9h0M639.1 286.9h0M495 128.6h0M408.2 261h0M498.9 153.9h0M520.8 163.3h0M467.2 292h0M263.3 271.6h0M392.1 72.3h0M627.5 195.5h0M333.3 284.2h0M586.7 324.9h0M342.8 225.7h0M445.6 333h0M528 63.4h0M263.7 286.9h0M546.6 265.9h0M374.2 299.3h0M381.8 209.9h0M510.4 126.9h0M362.6 339.7h0M548.1 222.2h0M479.2 268.4h0M328.2 311.3h0M446.8 220.5h0M379.6 177h0M437.1 232.9h0M303.1 304.6h0M283.7 314.5h0M226.9 166.8h0M545.8 241.9h0M541.9 97.8h0M369.4 170.4h0M366.8 293.8h0M493.2 181h0M163.5 346.3h0M533.3 183.7h0M138.7 289.6h0M510 161.8h0M536.8 228.1h0M287.4 284.5h0M525.5 136.3h0M349.7 222.1h0M406.2 168.6h0M637 236h0M439.4 245.3h0M290.2 320.1h0M370.3 138.7h0M370.2 239.5h0" stroke-width="2.3" stroke-opacity=".32"/><path d="M439 186.5h0M477.2 198.2h0M383.3 65.8h0M497.7 69.5h0M514.1 127.7h0M317.9 152.4h0M321.8 173.5h0M582.1 180.9h0M530.4 99.2h0M469.3 225.9h0M398.4 200.1h0M549.9 173.4h0M372.6 254.2h0M578.8 78.8h0M618.6 165.1h0M154.8 296.5h0M466.2 185.4h0M194.4 316.1h0M532.5 292.8h0M370.9 172.8h0M441.2 96.3h0M368.4 239.6h0M361.3 119.4h0M303.3 139.2h0M314.3 339.1h0M506.2 97.9h0M488.2 108.3h0M532.4 130.5h0M202 272.3h0M490.8 119.2h0M209 289.9h0M594.6 105.8h0M299.3 267.5h0M300.6 111.7h0M608.8 153.7h0M431.9 251.7h0M393.1 226h0M291.1 240.9h0M341 311.9h0M161 319.5h0M532.4 127.6h0M401.6 241.2h0M532.9 155.1h0M532.3 310.9h0M291.6 284.6h0M529.6 78.2h0M531.3 113.8h0M636 240h0M310.9 133.4h0M529 298.7h0M317.1 145.2h0M493.3 175.3h0M301.2 275.5h0M405.9 152h0M465.5 158.1h0M326.6 227.3h0M502.6 66.6h0M331.7 337.3h0M487.1 224.2h0M455.3 274.2h0M554.7 165.5h0M375.4 210.4h0M365.7 208.8h0M527.8 60.9h0M582.4 137.7h0M244.6 306.6h0M614.5 175.4h0M598.7 289.4h0M453.8 170.6h0M93.6 189.8h0M562.8 261.8h0M422.9 347.1h0M613.1 113.2h0M263.4 278.9h0M545.7 239.7h0M447.3 220.7h0M233 226.5h0M258.7 277h0M225.2 266.3h0M289.9 278.7h0M508.9 134.1h0M407.5 188.5h0M307.6 279.9h0M505.5 134h0M415.3 261.3h0M574.3 271.9h0M322 280.1h0M421.9 211.5h0M317.9 324.7h0M553.2 296.5h0M324.9 179.9h0M345.4 278.6h0M419.2 124.9h0M335.6 181.9h0M446.4 133.7h0M545.2 331.9h0M581.2 202.5h0M418.8 280.7h0M501.8 167.3h0M579.4 73.2h0M384.2 235.1h0M630.9 198.5h0M492.9 307.3h0M396.9 268.1h0M555.5 143.8h0M320.7 318.1h0M471.8 285.5h0M502.4 204.4h0M511 325.8h0M546.1 233.5h0M243.7 276.6h0M407.8 301h0M528.4 284.3h0M484.4 287.3h0M451 149.2h0M405.1 71.5h0M188.3 169.9h0M452.9 265.7h0M320.5 281.9h0M583.7 301.3h0M528.8 284.3h0M257.4 275.8h0M516.1 132h0M461.4 299.7h0M530 89.1h0M178.6 225.6h0M471.1 293.6h0M388 295.8h0M329.7 227.3h0M381.2 216h0M583.7 150.3h0M456.2 158.9h0M559 297.6h0M200.8 285.8h0M418.6 280.1h0M241.8 281.2h0M387.2 127.7h0M429.6 178.6h0M288.5 341.7h0M350.4 131.1h0M514.4 182.7h0M490.1 165.8h0M110.1 307.1h0M440.7 301.3h0M288.7 217.5h0M505.9 124.5h0M537.4 168.6h0M432.1 170.8h0M449 226.1h0M286.9 344h0M568.7 309.4h0M426.6 117.7h0M525.3 167.4h0M392 175.2h0M240.5 304.2h0M289.2 312.9h0M503.6 102.8h0M378.2 346.6h0M527.7 116.6h0M234.5 337.7h0M499 275.8h0M326 306h0M546.7 191.2h0M288.2 180.9h0M444.9 273.4h0M211.3 347.1h0M640.5 214h0M451.9 183.2h0M517.9 158.7h0M596.1 118h0M346.1 319.1h0M377.3 306.4h0M151.7 196.6h0M221.7 206.6h0M425.8 135.7h0M427.3 282.1h0M506.6 278.1h0M320.7 321.8h0M289.5 51.5h0M593.4 198.8h0M365 303h0M453.8 134.4h0M364.8 144.8h0M432.6 274.6h0M350.7 120.3h0M423.9 271.7h0M425.6 99.2h0M393.1 257h0M176.5 308.5h0M469.2 126.4h0M392.3 307.8h0M550.6 244.9h0M616.1 145.5h0M484.6 277.7h0M544.1 81.2h0M459.5 137.8h0M374.8 197.6h0M481.5 95.5h0M420.5 312h0M358.8 281h0M471.9 199.6h0M391.4 262.3h0M279.3 276.9h0M598.3 185.2h0M505.8 278.2h0M567.3 127.8h0M524.3 257.2h0M237 290.7h0M527.1 109.1h0M381.9 261.2h0M412.9 247.2h0M469.9 220.5h0M446.5 309.6h0M243.3 209.8h0M408 298.5h0M195 279h0M512 264.6h0M270 319.4h0M463.9 256.4h0M489.7 199.4h0M441.8 96.5h0M510.7 83.2h0M360.3 239.5h0M576.2 183.8h0M356.4 338.2h0M539.2 284.9h0M296.4 267.1h0M370.9 140.7h0M214.1 228.5h0M554 114.9h0M322.5 152.9h0M444.7 204.1h0M319.3 203.8h0M483.9 323.5h0M342.4 326.8h0M427.3 149.2h0M497.1 214.8h0M168.6 306.8h0M369.7 308.2h0M514.4 192.7h0M312 305.3h0M505.9 199.8h0M237.2 287.7h0M480.8 198h0M497.7 195.1h0M559.3 102.2h0M229 284.5h0M486.4 187.5h0M494.9 280h0M447 84h0M411.7 318.2h0M383.5 279.2h0M558.3 153.2h0M464.9 259.4h0M438.5 166h0M248.6 69.7h0M464.2 242.2h0M440.1 293h0M374.5 311.6h0M514.7 297.4h0M550.1 303.8h0M274 174.3h0M366.3 281.5h0M319.6 315.5h0M551.9 279.2h0M564 209.9h0M486 237.6h0M284.5 237.6h0M357.5 272.7h0M528.1 259.6h0M520.9 301.9h0M442 131h0M507.9 272.4h0M486.9 179h0M410.7 168.4h0M644.4 244h0M420.5 236.4h0M444.6 296.7h0M623.1 143.7h0M390.6 236.7h0M567.7 74.5h0M379.5 290.2h0M410.2 145.9h0M374.4 187.3h0M518.5 245.5h0M601.5 231.9h0M403.1 328h0M522.9 95.9h0M286.2 262.3h0M554.2 119.4h0M567.6 99.7h0M531.2 134h0M138.7 262.7h0M532.9 208.6h0M487 203h0M484.3 167.6h0M448.3 304.4h0M245.5 302.4h0M429.4 106.4h0M641 230h0M644.7 217h0M593.4 247.4h0M419.2 129.7h0M316.7 104.4h0M487.7 222.5h0M263.7 246.6h0M412.2 273h0M369.2 265.8h0M364.6 322.6h0M401.7 259.9h0M547.1 243.4h0M510.9 179.4h0M464.3 296.1h0M403.6 317.4h0M295.4 260.6h0M485.5 230.5h0M504.2 290.8h0M225.5 252.6h0M482.8 225.2h0M430.6 248.9h0M366.3 284h0M504.6 315.2h0M461.1 179.9h0M564.3 212.2h0M364.9 274h0M415.7 186.2h0M455.7 93.8h0M166.2 298.2h0M372.3 236.8h0M440.7 282.1h0M457.3 181.1h0M484.4 208.1h0M516.3 77.6h0M333.6 284.1h0M397.6 284.6h0M271.5 272.7h0M232 281.6h0M395.4 154.2h0M542.5 291.8h0M259.2 273.2h0M483.8 79.4h0M140.1 175h0M431.5 148.9h0M243.1 311.3h0M524 103.5h0M490.8 52.1h0M178.9 317.1h0M213 218.6h0M516.5 165.7h0M250 331.8h0M511 246.3h0M341.7 324.9h0M482.6 264h0M551.4 266.4h0M531 258.6h0M400 315.5h0M260.7 320.9h0M344.2 294h0M510.5 122.9h0M443.4 157.1h0M385.1 70.3h0M396 299.3h0M584.6 127.8h0M520.2 168.1h0M317.5 198.4h0M338.3 269.3h0M274.6 237.5h0M208.3 170.6h0M588.4 263.7h0M448.6 187.2h0M495.2 171.2h0M265 230.7h0M417.1 284.8h0M441.9 149.2h0M469.1 141.8h0M455.6 239.1h0M397.4 162.8h0M291.1 303.6h0M517.8 282h0M337.5 261.6h0M295.7 285h0M413.6 138h0M527.7 298.6h0M528.2 163h0M486.5 312.1h0M236.7 270h0M361 267.1h0M577.5 166.6h0M477.3 176.6h0M574.3 286.8h0M538.1 155h0M513.4 313.2h0M413.5 322h0M311.5 295.3h0M121.4 341.4h0M370.1 321.5h0M442.3 184.5h0M259.2 234.8h0M594.1 279.5h0M376.7 269.8h0M583.9 113.7h0M609.8 113.2h0M562.8 87.3h0M309.1 225.7h0M318.8 115h0M577.1 114.2h0M534.3 168.1h0M161 305.8h0M491.7 220.1h0M460.5 300.6h0M593.2 115.6h0M289.2 273.7h0M440.4 126.9h0M578.4 115.5h0M470.2 313.4h0M553.5 182.8h0M404.8 246.4h0M380 253.2h0M170.1 158.5h0M491.5 192.2h0M541.4 278.8h0M591.7 86.9h0M397 280.7h0M483.3 167.8h0M388 309.4h0M267.5 272.3h0M504.1 91.5h0M428.8 242.8h0M525.3 247.9h0M535.4 191.2h0M546.3 276.1h0M317 232.4h0M613.3 138.5h0M436.6 301.6h0M627.6 108.9h0M414.5 265.2h0M251.1 266.7h0M563.8 127.8h0M605.1 275.9h0M362.2 224.2h0M568.2 237h0M363.8 340.8h0M454.7 303.4h0M393.5 222.6h0M475.7 275.2h0M546.2 219.8h0M414.2 172.6h0M388.7 269.8h0M540.9 199.2h0M642 312h0M335.3 267.5h0M368.6 210.6h0M559.3 280.2h0M390.1 181h0M279.7 253.8h0M527.4 219.4h0M235.6 203.9h0M490 340.7h0M634.2 142.9h0M451.9 278.6h0M348.3 172.9h0M357.3 157.9h0M474.9 283.7h0M527.9 242.2h0M598.9 102.6h0M545.8 229.3h0M286.1 259h0M540.7 279.3h0M530.7 151.3h0M348.8 265.8h0M272.1 247.7h0M427.1 256.6h0M460.3 186.2h0M389.3 168.4h0M597.9 197h0M269.1 278.3h0M572.1 283.5h0M451.9 230.1h0M208.1 338.2h0M448.9 177.3h0M513 311.9h0M403.7 145.5h0" stroke-width="3.3" stroke-opacity=".5"/><path d="M439 186.5h0M477.2 198.2h0M383.3 65.8h0M497.7 69.5h0M514.1 127.7h0M317.9 152.4h0M321.8 173.5h0M582.1 180.9h0M530.4 99.2h0M469.3 225.9h0M398.4 200.1h0M549.9 173.4h0M372.6 254.2h0M578.8 78.8h0M618.6 165.1h0M154.8 296.5h0M466.2 185.4h0M194.4 316.1h0M532.5 292.8h0M370.9 172.8h0M441.2 96.3h0M368.4 239.6h0M361.3 119.4h0M303.3 139.2h0M314.3 339.1h0M506.2 97.9h0M488.2 108.3h0M532.4 130.5h0M202 272.3h0M490.8 119.2h0M209 289.9h0M594.6 105.8h0M299.3 267.5h0M300.6 111.7h0M608.8 153.7h0M431.9 251.7h0M393.1 226h0M291.1 240.9h0M341 311.9h0M161 319.5h0M532.4 127.6h0M401.6 241.2h0M532.9 155.1h0M532.3 310.9h0M291.6 284.6h0M529.6 78.2h0M531.3 113.8h0M636 240h0M310.9 133.4h0M529 298.7h0M317.1 145.2h0M493.3 175.3h0M301.2 275.5h0M405.9 152h0M465.5 158.1h0M326.6 227.3h0M502.6 66.6h0M331.7 337.3h0M487.1 224.2h0M455.3 274.2h0M554.7 165.5h0M375.4 210.4h0M365.7 208.8h0M527.8 60.9h0M582.4 137.7h0M244.6 306.6h0M614.5 175.4h0M598.7 289.4h0M453.8 170.6h0M93.6 189.8h0M562.8 261.8h0M422.9 347.1h0M613.1 113.2h0M263.4 278.9h0M545.7 239.7h0M447.3 220.7h0M233 226.5h0M258.7 277h0M225.2 266.3h0M289.9 278.7h0M508.9 134.1h0M407.5 188.5h0M307.6 279.9h0M505.5 134h0M415.3 261.3h0M574.3 271.9h0M322 280.1h0M421.9 211.5h0M317.9 324.7h0M553.2 296.5h0M324.9 179.9h0M345.4 278.6h0M419.2 124.9h0M335.6 181.9h0M446.4 133.7h0M545.2 331.9h0M581.2 202.5h0M418.8 280.7h0M501.8 167.3h0M579.4 73.2h0M384.2 235.1h0M630.9 198.5h0M492.9 307.3h0M396.9 268.1h0M555.5 143.8h0M320.7 318.1h0M471.8 285.5h0M502.4 204.4h0M511 325.8h0M546.1 233.5h0M243.7 276.6h0M407.8 301h0M528.4 284.3h0M484.4 287.3h0M451 149.2h0M405.1 71.5h0M188.3 169.9h0M452.9 265.7h0M320.5 281.9h0M583.7 301.3h0M528.8 284.3h0M257.4 275.8h0M516.1 132h0M461.4 299.7h0M530 89.1h0M178.6 225.6h0M471.1 293.6h0M388 295.8h0M329.7 227.3h0M381.2 216h0M583.7 150.3h0M456.2 158.9h0M559 297.6h0M200.8 285.8h0M418.6 280.1h0M241.8 281.2h0M387.2 127.7h0M429.6 178.6h0M288.5 341.7h0M350.4 131.1h0M514.4 182.7h0M490.1 165.8h0M110.1 307.1h0M440.7 301.3h0M288.7 217.5h0M505.9 124.5h0M537.4 168.6h0M432.1 170.8h0M449 226.1h0M286.9 344h0M568.7 309.4h0M426.6 117.7h0M525.3 167.4h0M392 175.2h0M240.5 304.2h0M289.2 312.9h0M503.6 102.8h0M378.2 346.6h0M527.7 116.6h0M234.5 337.7h0M499 275.8h0M326 306h0M546.7 191.2h0M288.2 180.9h0M444.9 273.4h0M211.3 347.1h0M640.5 214h0M451.9 183.2h0M517.9 158.7h0M596.1 118h0M346.1 319.1h0M377.3 306.4h0M151.7 196.6h0M221.7 206.6h0M425.8 135.7h0M427.3 282.1h0M506.6 278.1h0M320.7 321.8h0M289.5 51.5h0M593.4 198.8h0M365 303h0M453.8 134.4h0M364.8 144.8h0M432.6 274.6h0M350.7 120.3h0M423.9 271.7h0M425.6 99.2h0M393.1 257h0M176.5 308.5h0M469.2 126.4h0M392.3 307.8h0M550.6 244.9h0M616.1 145.5h0M484.6 277.7h0M544.1 81.2h0M459.5 137.8h0M374.8 197.6h0M481.5 95.5h0M420.5 312h0M358.8 281h0M471.9 199.6h0M391.4 262.3h0M279.3 276.9h0M598.3 185.2h0M505.8 278.2h0M567.3 127.8h0M524.3 257.2h0M237 290.7h0M527.1 109.1h0M381.9 261.2h0M412.9 247.2h0M469.9 220.5h0M446.5 309.6h0M243.3 209.8h0M408 298.5h0M195 279h0M512 264.6h0M270 319.4h0M463.9 256.4h0M489.7 199.4h0M441.8 96.5h0M510.7 83.2h0M360.3 239.5h0M576.2 183.8h0M356.4 338.2h0M539.2 284.9h0M296.4 267.1h0M370.9 140.7h0M214.1 228.5h0M554 114.9h0M322.5 152.9h0M444.7 204.1h0M319.3 203.8h0M483.9 323.5h0M342.4 326.8h0M427.3 149.2h0M497.1 214.8h0M168.6 306.8h0M369.7 308.2h0M514.4 192.7h0M312 305.3h0M505.9 199.8h0M237.2 287.7h0M480.8 198h0M497.7 195.1h0M559.3 102.2h0M229 284.5h0M486.4 187.5h0M494.9 280h0M447 84h0M411.7 318.2h0M383.5 279.2h0M558.3 153.2h0M464.9 259.4h0M438.5 166h0M248.6 69.7h0M464.2 242.2h0M440.1 293h0M374.5 311.6h0M514.7 297.4h0M550.1 303.8h0M274 174.3h0M366.3 281.5h0M319.6 315.5h0M551.9 279.2h0M564 209.9h0M486 237.6h0M284.5 237.6h0M357.5 272.7h0M528.1 259.6h0M520.9 301.9h0M442 131h0M507.9 272.4h0M486.9 179h0M410.7 168.4h0M644.4 244h0M420.5 236.4h0M444.6 296.7h0M623.1 143.7h0M390.6 236.7h0M567.7 74.5h0M379.5 290.2h0M410.2 145.9h0M374.4 187.3h0M518.5 245.5h0M601.5 231.9h0M403.1 328h0M522.9 95.9h0M286.2 262.3h0M554.2 119.4h0M567.6 99.7h0M531.2 134h0M138.7 262.7h0M532.9 208.6h0M487 203h0M484.3 167.6h0M448.3 304.4h0M245.5 302.4h0M429.4 106.4h0M641 230h0M644.7 217h0M593.4 247.4h0M419.2 129.7h0M316.7 104.4h0M487.7 222.5h0M263.7 246.6h0M412.2 273h0M369.2 265.8h0M364.6 322.6h0M401.7 259.9h0M547.1 243.4h0M510.9 179.4h0M464.3 296.1h0M403.6 317.4h0M295.4 260.6h0M485.5 230.5h0M504.2 290.8h0M225.5 252.6h0M482.8 225.2h0M430.6 248.9h0M366.3 284h0M504.6 315.2h0M461.1 179.9h0M564.3 212.2h0M364.9 274h0M415.7 186.2h0M455.7 93.8h0M166.2 298.2h0M372.3 236.8h0M440.7 282.1h0M457.3 181.1h0M484.4 208.1h0M516.3 77.6h0M333.6 284.1h0M397.6 284.6h0M271.5 272.7h0M232 281.6h0M395.4 154.2h0M542.5 291.8h0M259.2 273.2h0M483.8 79.4h0M140.1 175h0M431.5 148.9h0M243.1 311.3h0M524 103.5h0M490.8 52.1h0M178.9 317.1h0M213 218.6h0M516.5 165.7h0M250 331.8h0M511 246.3h0M341.7 324.9h0M482.6 264h0M551.4 266.4h0M531 258.6h0M400 315.5h0M260.7 320.9h0M344.2 294h0M510.5 122.9h0M443.4 157.1h0M385.1 70.3h0M396 299.3h0M584.6 127.8h0M520.2 168.1h0M317.5 198.4h0M338.3 269.3h0M274.6 237.5h0M208.3 170.6h0M588.4 263.7h0M448.6 187.2h0M495.2 171.2h0M265 230.7h0M417.1 284.8h0M441.9 149.2h0M469.1 141.8h0M455.6 239.1h0M397.4 162.8h0M291.1 303.6h0M517.8 282h0M337.5 261.6h0M295.7 285h0M413.6 138h0M527.7 298.6h0M528.2 163h0M486.5 312.1h0M236.7 270h0M361 267.1h0M577.5 166.6h0M477.3 176.6h0M574.3 286.8h0M538.1 155h0M513.4 313.2h0M413.5 322h0M311.5 295.3h0M121.4 341.4h0M370.1 321.5h0M442.3 184.5h0M259.2 234.8h0M594.1 279.5h0M376.7 269.8h0M583.9 113.7h0M609.8 113.2h0M562.8 87.3h0M309.1 225.7h0M318.8 115h0M577.1 114.2h0M534.3 168.1h0M161 305.8h0M491.7 220.1h0M460.5 300.6h0M593.2 115.6h0M289.2 273.7h0M440.4 126.9h0M578.4 115.5h0M470.2 313.4h0M553.5 182.8h0M404.8 246.4h0M380 253.2h0M170.1 158.5h0M491.5 192.2h0M541.4 278.8h0M591.7 86.9h0M397 280.7h0M483.3 167.8h0M388 309.4h0M267.5 272.3h0M504.1 91.5h0M428.8 242.8h0M525.3 247.9h0M535.4 191.2h0M546.3 276.1h0M317 232.4h0M613.3 138.5h0M436.6 301.6h0M627.6 108.9h0M414.5 265.2h0M251.1 266.7h0M563.8 127.8h0M605.1 275.9h0M362.2 224.2h0M568.2 237h0M363.8 340.8h0M454.7 303.4h0M393.5 222.6h0M475.7 275.2h0M546.2 219.8h0M414.2 172.6h0M388.7 269.8h0M540.9 199.2h0M642 312h0M335.3 267.5h0M368.6 210.6h0M559.3 280.2h0M390.1 181h0M279.7 253.8h0M527.4 219.4h0M235.6 203.9h0M490 340.7h0M634.2 142.9h0M451.9 278.6h0M348.3 172.9h0M357.3 157.9h0M474.9 283.7h0M527.9 242.2h0M598.9 102.6h0M545.8 229.3h0M286.1 259h0M540.7 279.3h0M530.7 151.3h0M348.8 265.8h0M272.1 247.7h0M427.1 256.6h0M460.3 186.2h0M389.3 168.4h0M597.9 197h0M269.1 278.3h0M572.1 283.5h0M451.9 230.1h0M208.1 338.2h0M448.9 177.3h0M513 311.9h0M403.7 145.5h0" stroke-width="2.3" stroke-opacity=".32"/><path d="M532.3 311.9h0M482.9 276.7h0M251.9 303.6h0M469.7 138.4h0M543.5 143.6h0M418.9 171.4h0M341.5 115.1h0M562.9 204h0M374.4 135.8h0M337.1 293.4h0M594.3 285h0M537.3 274.7h0M541.5 290.4h0M395.8 329.5h0M447.4 151.8h0M347.6 133.4h0M203.8 338.5h0M333.2 178.8h0M331.6 323.7h0M258.5 250.7h0M318.5 275.7h0M500.3 242.9h0M470 284.5h0M224 210h0M449.6 100.3h0M343 247.3h0M452.9 117.9h0M466.2 291.1h0M298.8 168.8h0M510 139h0M424 279.8h0M592.3 106.1h0M186.2 314.4h0M361.3 143.4h0M287.6 236.1h0M537.3 203.3h0M417.2 91.5h0M262.9 204h0M468.4 184.2h0M530.6 94h0M325.7 289.6h0M445.9 302.5h0M501.5 200.5h0M409.1 169.9h0M446.7 119.5h0M466.4 160.8h0M513.5 187h0M578.5 211.6h0M428 216.1h0M291.9 292.8h0M152.8 220.7h0M411.1 79.5h0M412.8 142.3h0M398.8 156.2h0M250.9 243.3h0M435.1 198.7h0M463.9 124.4h0M433.2 155.9h0M485.3 203.5h0M426.5 287.6h0M615.6 194.7h0M540.6 277.9h0M450.5 317h0M351.6 317.2h0M547.5 146.2h0M596.4 123.3h0M487.3 179.6h0M459.7 255.2h0M488.2 245h0M392.2 135.3h0M216.1 313.5h0M525.9 140.2h0M354.3 325.5h0M347.5 102.9h0M322.9 255.1h0M329.3 258.7h0M477 205.5h0M536.3 155.4h0M520.4 91.4h0M382.2 316.5h0M390.2 297.8h0M493.3 234.2h0M498.7 265h0M475.2 110.9h0M394.3 200.9h0M257.1 277.5h0M304.2 304.2h0M538.9 177.5h0M211.5 339.5h0M513.2 110.6h0M522.7 245.5h0M315.3 337.8h0M446.1 101.2h0M514.1 146.2h0M122.5 291.3h0M460.5 283.7h0M322.9 169h0M317.1 236.3h0M468.7 268.3h0M527.9 285h0M321.6 320.8h0M374.5 245.5h0M549.2 199.1h0M319.2 287.9h0M359.8 266.9h0M536.7 182.1h0M403.3 111.2h0M413.9 259.2h0M386 293.6h0M472.9 144.3h0M356.4 332.5h0M512 104.8h0M521.9 279.4h0M332.2 153.7h0M210.6 257.3h0M423.8 134.7h0M494.5 191.9h0M500.2 271h0M437.2 100.6h0M410.3 143.7h0M178.6 242.8h0M321.9 264.6h0M612.8 155.6h0M370.1 327.3h0M309.6 291.8h0M458.7 275h0M369.2 338.4h0M462.5 291.1h0M457.3 257.3h0M365.3 257.7h0M501.8 150.1h0M278.5 218.9h0M528.2 320.3h0M197.3 151.3h0M378.4 182.3h0M425.2 251h0M358.5 285.7h0M427 333.1h0M220.6 336.2h0M324.6 330.3h0M181.7 297.2h0M331.2 328.2h0M489.3 105.7h0M486.6 83.9h0M334.7 337.2h0M499 243.8h0M438.3 157h0M520.9 67h0M306.7 340.5h0M435.9 173.2h0M385.3 119.6h0M451.9 326.9h0M613.6 166.3h0M425.9 208.6h0M368.3 291.9h0M517 109.2h0M515 289.8h0M492.3 135.8h0M532.8 325.2h0M544.8 195.5h0M466.1 235h0M581.9 290.4h0M491 121.4h0M537.1 254.8h0M277.5 187h0M307.8 150.3h0M460.3 163.4h0M526.9 247h0M588.4 69.5h0M536.5 283.5h0M218.4 221.5h0M582.5 153h0M485.4 179.6h0M523.1 307.9h0M302.2 265.4h0M327.1 338.4h0M528.5 238.2h0M595.5 93.9h0M380.7 281.2h0M469.5 301.6h0M337.1 288.7h0M416.1 230.2h0M434 298.1h0M386.4 336.6h0M415.7 88.5h0M555 289.7h0M138 333.3h0M387.3 250.7h0M504.5 220.6h0M353.1 276.3h0M577 68.4h0M588.8 201.9h0M416.8 205.6h0M384.7 299.1h0M321.2 324.9h0M416.1 291.4h0M484.9 207.2h0M156.2 236.2h0M366.9 292.4h0M323.4 231.3h0M353.9 207.1h0M381.9 168.7h0M534.8 140.6h0M429.7 305.2h0M398.3 221.4h0M285.4 116.2h0M471.4 215.9h0M347.2 281.1h0M542.1 182.3h0M223.3 298.5h0M508.3 123.1h0M241.7 165.4h0M477.4 222.7h0M477.6 324.5h0M341.8 309.9h0M299.6 270.9h0M392.1 285.7h0M537.7 267.8h0M473.4 150.4h0M171.4 239.3h0M580.2 274.4h0M507.6 193.2h0M229.7 275.1h0M426.6 290.5h0M347.3 236.9h0M564.3 192.4h0M237.5 344h0M528.5 87.3h0M409.4 287.4h0M591.5 305.7h0M514.1 306.3h0M376.4 104.9h0M320.8 328.6h0M475 287.3h0M472.3 321.8h0M590.3 302.7h0M518.2 99.9h0M276.7 262.7h0M506.1 227.1h0M402.3 92.5h0M252.5 245h0M231.6 350.2h0M457.3 307.5h0M493.2 312.9h0M294 272.5h0M492 236.7h0M438.3 107h0M516 258h0M420 307.5h0M225.9 76.6h0M594.4 158.9h0M344.8 326.7h0M477.5 303.7h0M544.8 179.4h0M190.3 310.2h0M306 249.6h0M467.2 135.6h0M603.7 256.9h0M325.3 294.6h0M518.4 279.3h0M348.9 258.7h0M499.4 142.7h0M457.4 314.6h0M374.2 269.6h0M407.3 278.7h0M307 337.5h0M509.7 278.3h0M349.8 271h0M549.5 273.4h0M399.9 341.1h0M232.3 341.1h0M440.8 314.3h0M443 106.3h0M582.7 144.2h0M372.8 232.6h0M436.1 289.8h0M462.3 197.4h0M259.4 326.5h0M374.3 246.3h0M211.4 179.5h0M477.8 199.2h0M340.3 143.2h0M328.5 200.3h0M598.7 305h0M329.8 217.4h0M645 233h0M232.5 250.5h0M514.8 278.1h0M208.2 331.3h0M355.2 226.1h0M614.2 139.1h0M267 239.5h0M462.4 113.9h0M322.7 222.4h0M342.1 215.1h0M494.2 103.3h0M364.3 220.1h0M417.6 233.9h0M422.2 332.5h0M600.3 197.2h0M343.2 301.7h0M535.8 305.3h0M429.4 197.7h0M420.4 298.3h0M346.7 230.3h0M275.4 226.6h0M448.5 262.4h0M334 284.6h0M442.5 227.7h0M356.3 300h0M507.2 121.3h0M512.1 287.3h0M546.3 277.4h0M561.1 125.9h0M520.7 128.7h0M535.1 130h0M550 227.9h0M492 129.6h0M287 250.1h0M250.1 333.2h0M449.7 304.6h0M434.5 326.5h0M202.6 258.6h0M289.2 178.5h0M590.9 256.2h0M379 153.7h0M496.6 238.3h0M520.4 176.4h0M331.9 84.5h0M473.2 134.8h0M490.2 260.2h0M385.2 187.3h0M356.6 278.9h0M445.8 311.9h0M327.1 344.5h0M433.3 228h0M282.1 272.3h0M496.3 68.9h0M407.1 107.4h0M251.5 277h0M421.9 329.8h0M357.9 292.6h0M446.3 187.2h0M452.8 150.7h0M198.9 286.8h0M335 307.9h0M358.8 267.6h0M498.4 180.5h0M447.7 216.3h0M205.9 221.8h0M367.7 295.8h0M377.2 84.9h0M608.2 256.5h0M300.9 286.1h0M498.7 162.6h0M528.5 294.9h0M381.3 217.3h0M588 157.3h0M418 347.9h0M448.1 97.4h0M267.7 300.7h0M221 246.3h0M444.3 295.2h0M309.7 343.6h0M427.5 322.8h0M472 247.6h0M409.5 326.1h0M539.7 315.7h0M581.5 98.4h0M358.4 222.9h0M505.1 271.7h0M496.9 161.3h0M563.4 219.5h0M589.7 181h0M299.9 342.2h0M581.7 165.6h0M364.5 199h0M379.2 85.7h0M473.1 297.6h0M614.7 316.1h0M579.1 308.5h0M454.5 235.5h0M421.4 272.5h0M278.3 343.9h0M289.5 187h0M575.6 241.3h0M145 163.7h0M352.3 210h0M437.4 253.3h0M349.1 130.2h0M492.1 88.8h0M566.5 119.2h0M455.4 301.9h0M368.6 242.7h0M337.6 244.9h0M294.1 304.9h0M405.6 153.7h0M623.1 183.5h0M490.7 132.8h0M599.2 264.3h0M264.1 302.2h0M541.6 134h0M458.1 130.6h0M644.7 240h0M438.5 215.6h0M450.7 270.7h0M387.5 270h0M278.8 226.1h0M459.6 279.6h0M474.6 222.6h0M284.1 311.1h0M454.5 292.7h0M378.1 336.9h0M312.1 324.9h0M505.1 309.5h0M357.9 147.3h0M590.2 140.9h0M339.5 311h0M527.5 184.2h0M381.1 300.6h0M604.6 203.1h0M249.9 314.5h0M337.4 258.6h0M539.3 277.4h0M530 139.1h0M641 150.9h0M523.6 73.6h0M600 71.5h0M520.1 270.3h0M454.7 230.6h0M492.7 277.2h0M322.7 256.6h0M613.4 101h0M520.8 313.8h0M520 256.3h0M586.9 320.2h0M277.8 344.3h0M555.7 148.2h0M557.9 132.6h0M353.4 293.7h0M363.8 116.5h0M362.1 340h0M500.8 325.8h0M494.9 65.2h0M347.8 317.9h0M308.5 171.6h0M633.9 139.4h0M368.7 183.1h0M197.2 285.1h0M289.6 326.8h0M216.4 287.7h0M320.5 342h0M468.8 311.4h0M420.4 195h0M353.6 277.2h0M433.8 109.1h0M423 337.9h0M469.8 304.8h0M506.3 214.4h0M215.3 294.6h0M455.1 268.3h0M499 276.3h0M447.1 178.1h0M574.5 123h0M481.1 240.6h0M421.5 274.1h0M475.5 294.1h0M508.1 154h0M593.9 138h0M300.6 163h0M358.4 293.1h0M546.4 205h0M545.7 332h0M457.3 183.1h0M373.2 253.1h0M327.6 142.7h0M563.2 152.1h0M216.4 303.5h0M526.3 131.7h0M617.4 160.2h0M441.9 84.2h0" stroke-width="3.3" stroke-opacity=".5"/><path d="M532.3 311.9h0M482.9 276.7h0M251.9 303.6h0M469.7 138.4h0M543.5 143.6h0M418.9 171.4h0M341.5 115.1h0M562.9 204h0M374.4 135.8h0M337.1 293.4h0M594.3 285h0M537.3 274.7h0M541.5 290.4h0M395.8 329.5h0M447.4 151.8h0M347.6 133.4h0M203.8 338.5h0M333.2 178.8h0M331.6 323.7h0M258.5 250.7h0M318.5 275.7h0M500.3 242.9h0M470 284.5h0M224 210h0M449.6 100.3h0M343 247.3h0M452.9 117.9h0M466.2 291.1h0M298.8 168.8h0M510 139h0M424 279.8h0M592.3 106.1h0M186.2 314.4h0M361.3 143.4h0M287.6 236.1h0M537.3 203.3h0M417.2 91.5h0M262.9 204h0M468.4 184.2h0M530.6 94h0M325.7 289.6h0M445.9 302.5h0M501.5 200.5h0M409.1 169.9h0M446.7 119.5h0M466.4 160.8h0M513.5 187h0M578.5 211.6h0M428 216.1h0M291.9 292.8h0M152.8 220.7h0M411.1 79.5h0M412.8 142.3h0M398.8 156.2h0M250.9 243.3h0M435.1 198.7h0M463.9 124.4h0M433.2 155.9h0M485.3 203.5h0M426.5 287.6h0M615.6 194.7h0M540.6 277.9h0M450.5 317h0M351.6 317.2h0M547.5 146.2h0M596.4 123.3h0M487.3 179.6h0M459.7 255.2h0M488.2 245h0M392.2 135.3h0M216.1 313.5h0M525.9 140.2h0M354.3 325.5h0M347.5 102.9h0M322.9 255.1h0M329.3 258.7h0M477 205.5h0M536.3 155.4h0M520.4 91.4h0M382.2 316.5h0M390.2 297.8h0M493.3 234.2h0M498.7 265h0M475.2 110.9h0M394.3 200.9h0M257.1 277.5h0M304.2 304.2h0M538.9 177.5h0M211.5 339.5h0M513.2 110.6h0M522.7 245.5h0M315.3 337.8h0M446.1 101.2h0M514.1 146.2h0M122.5 291.3h0M460.5 283.7h0M322.9 169h0M317.1 236.3h0M468.7 268.3h0M527.9 285h0M321.6 320.8h0M374.5 245.5h0M549.2 199.1h0M319.2 287.9h0M359.8 266.9h0M536.7 182.1h0M403.3 111.2h0M413.9 259.2h0M386 293.6h0M472.9 144.3h0M356.4 332.5h0M512 104.8h0M521.9 279.4h0M332.2 153.7h0M210.6 257.3h0M423.8 134.7h0M494.5 191.9h0M500.2 271h0M437.2 100.6h0M410.3 143.7h0M178.6 242.8h0M321.9 264.6h0M612.8 155.6h0M370.1 327.3h0M309.6 291.8h0M458.7 275h0M369.2 338.4h0M462.5 291.1h0M457.3 257.3h0M365.3 257.7h0M501.8 150.1h0M278.5 218.9h0M528.2 320.3h0M197.3 151.3h0M378.4 182.3h0M425.2 251h0M358.5 285.7h0M427 333.1h0M220.6 336.2h0M324.6 330.3h0M181.7 297.2h0M331.2 328.2h0M489.3 105.7h0M486.6 83.9h0M334.7 337.2h0M499 243.8h0M438.3 157h0M520.9 67h0M306.7 340.5h0M435.9 173.2h0M385.3 119.6h0M451.9 326.9h0M613.6 166.3h0M425.9 208.6h0M368.3 291.9h0M517 109.2h0M515 289.8h0M492.3 135.8h0M532.8 325.2h0M544.8 195.5h0M466.1 235h0M581.9 290.4h0M491 121.4h0M537.1 254.8h0M277.5 187h0M307.8 150.3h0M460.3 163.4h0M526.9 247h0M588.4 69.5h0M536.5 283.5h0M218.4 221.5h0M582.5 153h0M485.4 179.6h0M523.1 307.9h0M302.2 265.4h0M327.1 338.4h0M528.5 238.2h0M595.5 93.9h0M380.7 281.2h0M469.5 301.6h0M337.1 288.7h0M416.1 230.2h0M434 298.1h0M386.4 336.6h0M415.7 88.5h0M555 289.7h0M138 333.3h0M387.3 250.7h0M504.5 220.6h0M353.1 276.3h0M577 68.4h0M588.8 201.9h0M416.8 205.6h0M384.7 299.1h0M321.2 324.9h0M416.1 291.4h0M484.9 207.2h0M156.2 236.2h0M366.9 292.4h0M323.4 231.3h0M353.9 207.1h0M381.9 168.7h0M534.8 140.6h0M429.7 305.2h0M398.3 221.4h0M285.4 116.2h0M471.4 215.9h0M347.2 281.1h0M542.1 182.3h0M223.3 298.5h0M508.3 123.1h0M241.7 165.4h0M477.4 222.7h0M477.6 324.5h0M341.8 309.9h0M299.6 270.9h0M392.1 285.7h0M537.7 267.8h0M473.4 150.4h0M171.4 239.3h0M580.2 274.4h0M507.6 193.2h0M229.7 275.1h0M426.6 290.5h0M347.3 236.9h0M564.3 192.4h0M237.5 344h0M528.5 87.3h0M409.4 287.4h0M591.5 305.7h0M514.1 306.3h0M376.4 104.9h0M320.8 328.6h0M475 287.3h0M472.3 321.8h0M590.3 302.7h0M518.2 99.9h0M276.7 262.7h0M506.1 227.1h0M402.3 92.5h0M252.5 245h0M231.6 350.2h0M457.3 307.5h0M493.2 312.9h0M294 272.5h0M492 236.7h0M438.3 107h0M516 258h0M420 307.5h0M225.9 76.6h0M594.4 158.9h0M344.8 326.7h0M477.5 303.7h0M544.8 179.4h0M190.3 310.2h0M306 249.6h0M467.2 135.6h0M603.7 256.9h0M325.3 294.6h0M518.4 279.3h0M348.9 258.7h0M499.4 142.7h0M457.4 314.6h0M374.2 269.6h0M407.3 278.7h0M307 337.5h0M509.7 278.3h0M349.8 271h0M549.5 273.4h0M399.9 341.1h0M232.3 341.1h0M440.8 314.3h0M443 106.3h0M582.7 144.2h0M372.8 232.6h0M436.1 289.8h0M462.3 197.4h0M259.4 326.5h0M374.3 246.3h0M211.4 179.5h0M477.8 199.2h0M340.3 143.2h0M328.5 200.3h0M598.7 305h0M329.8 217.4h0M645 233h0M232.5 250.5h0M514.8 278.1h0M208.2 331.3h0M355.2 226.1h0M614.2 139.1h0M267 239.5h0M462.4 113.9h0M322.7 222.4h0M342.1 215.1h0M494.2 103.3h0M364.3 220.1h0M417.6 233.9h0M422.2 332.5h0M600.3 197.2h0M343.2 301.7h0M535.8 305.3h0M429.4 197.7h0M420.4 298.3h0M346.7 230.3h0M275.4 226.6h0M448.5 262.4h0M334 284.6h0M442.5 227.7h0M356.3 300h0M507.2 121.3h0M512.1 287.3h0M546.3 277.4h0M561.1 125.9h0M520.7 128.7h0M535.1 130h0M550 227.9h0M492 129.6h0M287 250.1h0M250.1 333.2h0M449.7 304.6h0M434.5 326.5h0M202.6 258.6h0M289.2 178.5h0M590.9 256.2h0M379 153.7h0M496.6 238.3h0M520.4 176.4h0M331.9 84.5h0M473.2 134.8h0M490.2 260.2h0M385.2 187.3h0M356.6 278.9h0M445.8 311.9h0M327.1 344.5h0M433.3 228h0M282.1 272.3h0M496.3 68.9h0M407.1 107.4h0M251.5 277h0M421.9 329.8h0M357.9 292.6h0M446.3 187.2h0M452.8 150.7h0M198.9 286.8h0M335 307.9h0M358.8 267.6h0M498.4 180.5h0M447.7 216.3h0M205.9 221.8h0M367.7 295.8h0M377.2 84.9h0M608.2 256.5h0M300.9 286.1h0M498.7 162.6h0M528.5 294.9h0M381.3 217.3h0M588 157.3h0M418 347.9h0M448.1 97.4h0M267.7 300.7h0M221 246.3h0M444.3 295.2h0M309.7 343.6h0M427.5 322.8h0M472 247.6h0M409.5 326.1h0M539.7 315.7h0M581.5 98.4h0M358.4 222.9h0M505.1 271.7h0M496.9 161.3h0M563.4 219.5h0M589.7 181h0M299.9 342.2h0M581.7 165.6h0M364.5 199h0M379.2 85.7h0M473.1 297.6h0M614.7 316.1h0M579.1 308.5h0M454.5 235.5h0M421.4 272.5h0M278.3 343.9h0M289.5 187h0M575.6 241.3h0M145 163.7h0M352.3 210h0M437.4 253.3h0M349.1 130.2h0M492.1 88.8h0M566.5 119.2h0M455.4 301.9h0M368.6 242.7h0M337.6 244.9h0M294.1 304.9h0M405.6 153.7h0M623.1 183.5h0M490.7 132.8h0M599.2 264.3h0M264.1 302.2h0M541.6 134h0M458.1 130.6h0M644.7 240h0M438.5 215.6h0M450.7 270.7h0M387.5 270h0M278.8 226.1h0M459.6 279.6h0M474.6 222.6h0M284.1 311.1h0M454.5 292.7h0M378.1 336.9h0M312.1 324.9h0M505.1 309.5h0M357.9 147.3h0M590.2 140.9h0M339.5 311h0M527.5 184.2h0M381.1 300.6h0M604.6 203.1h0M249.9 314.5h0M337.4 258.6h0M539.3 277.4h0M530 139.1h0M641 150.9h0M523.6 73.6h0M600 71.5h0M520.1 270.3h0M454.7 230.6h0M492.7 277.2h0M322.7 256.6h0M613.4 101h0M520.8 313.8h0M520 256.3h0M586.9 320.2h0M277.8 344.3h0M555.7 148.2h0M557.9 132.6h0M353.4 293.7h0M363.8 116.5h0M362.1 340h0M500.8 325.8h0M494.9 65.2h0M347.8 317.9h0M308.5 171.6h0M633.9 139.4h0M368.7 183.1h0M197.2 285.1h0M289.6 326.8h0M216.4 287.7h0M320.5 342h0M468.8 311.4h0M420.4 195h0M353.6 277.2h0M433.8 109.1h0M423 337.9h0M469.8 304.8h0M506.3 214.4h0M215.3 294.6h0M455.1 268.3h0M499 276.3h0M447.1 178.1h0M574.5 123h0M481.1 240.6h0M421.5 274.1h0M475.5 294.1h0M508.1 154h0M593.9 138h0M300.6 163h0M358.4 293.1h0M546.4 205h0M545.7 332h0M457.3 183.1h0M373.2 253.1h0M327.6 142.7h0M563.2 152.1h0M216.4 303.5h0M526.3 131.7h0M617.4 160.2h0M441.9 84.2h0" stroke-width="2.3" stroke-opacity=".32"/></g><polygon points="72.1,276.2 93.4,265.2 96.9,265.5 110.3,274 115.7,274.9 119.1,265.9 121.2,271.4 122.9,275.8 137,270.5 137.5,269.6 138.5,267.8 140,265 141,263.2 142,265.5 143.5,269 145,272.5 151.7,273.3 152.4,273.2 152.8,273.2 154.8,273.9 156.2,273 156.8,273.2 157.9,260 159,273.9 161,273.4 163.4,273.3 163.5,271.8 164.5,262.9 164.6,263 165.7,272.2 166.2,272.1 166.6,272.3 167.2,272.2 168.6,272 169.1,272 170.1,272.7 171.4,271.9 172.4,271.7 176.5,271.7 178.6,271.4 178.9,271.9 181.7,271.5 182.4,272 182.7,271.4 184.4,271.4 186.2,271.2 186.9,271.1 187.4,270.5 187.9,267.3 188.3,265.6 188.8,263 190.1,270.8 190.3,270.6 192,271 194.1,270.2 194.4,271 195,270.1 195.5,269.5 197.2,269 197.3,269.3 198.9,269.6 200.8,269.6 201.7,269 202,269.3 202.6,269.2 203.5,269.6 203.8,269.7 205.5,269.6 205.9,269.2 206.1,270.6 206.2,269.3 206.5,267 207.2,261.7 207.4,260 207.5,259.2 207.8,260.4 208,262.1 208.1,262.5 208.2,261.7 208.3,261.9 208.7,260.9 208.9,258.8 209,257.1 209.1,255.3 209.3,255.6 209.8,250.5 209.9,250.5 210.2,248.2 210.6,247.6 210.7,248.8 211.1,256.4 211.3,260.1 211.4,261.6 211.5,263.5 211.6,265.2 212,269.3 213,269.8 213.9,269 214.1,267.5 214.2,267 215.3,259.3 215.5,258.4 216.1,263.1 216.4,265.1 217,269.6 218,269.3 218.4,268.2 219.1,266.5 219.4,264.7 219.6,264.5 220.1,267.3 220.5,268.1 220.6,267.8 220.8,268.9 221,269.4 221.7,269 221.9,268.9 222.1,268.8 223.3,268.2 224,267.7 224.5,267.4 224.6,267 225.2,262 225.4,260.1 225.5,259.7 225.9,256.3 226,256.3 226.9,264 227.4,267.1 229,266.8 229.7,267 229.8,267.7 231.6,267.5 232,267.7 232.3,267.2 232.5,267.7 233,267.9 234.5,267.7 234.6,267.5 235.2,261.4 235.3,259.5 235.6,252.9 235.7,251 236.3,252.6 236.7,260.5 236.8,262 237,263.9 237.2,265.1 237.4,266.1 237.5,267 237.7,267.6 237.8,267 237.9,266.8 238.7,266.8 240.3,260.7 240.5,261.5 241.3,263.8 241.7,266.3 241.8,266.7 241.9,266.7 243.1,267.4 243.3,266.7 243.7,266.7 244.6,266.5 245,266.4 245.5,265.8 247.3,265.3 248.3,265.2 248.6,265.4 248.8,265.4 249.3,265.2 249.7,265.3 249.9,264.7 250,265.9 250.1,265.3 250.4,265.5 250.7,265.4 250.9,265.4 251.1,265.4 251.5,265.4 251.8,265.7 251.9,264.8 252.4,265 252.5,264.8 253.1,264.9 254.6,253.9 254.7,254.2 256,264.1 256.1,264.8 257.1,265.5 257.4,265.4 258.4,265.6 258.5,265.4 258.6,265.3 258.7,264.1 259,261.9 259.1,261.5 259.2,259.5 259.4,256.7 260,251.6 260.2,252 260.3,253.2 260.4,253 260.6,253 260.7,255.2 261.3,261.1 261.5,262.6 261.6,262.5 262.1,259.7 262.3,256.7 262.6,253.5 262.8,250.9 262.9,250.9 263.2,253 263.3,253.6 263.4,253.6 263.7,255.7 264.1,258.6 264.4,259.6 265,258.9 265.5,257.3 265.6,257.7 265.9,258.8 266.6,263 267,263.2 267.1,263.2 267.2,261.8 267.4,260.4 267.5,258.4 267.7,256.7 268.3,251.1 268.6,253.2 268.8,254.2 269.1,255.5 269.2,255.5 269.5,257.7 269.9,256 270,256.6 270.3,257.8 270.5,258.6 270.8,260.3 271.1,261.4 271.4,262.7 271.5,263.3 271.8,262.6 271.9,262.9 272.1,261.8 273.2,255.9 273.5,254.3 273.7,255.5 273.8,255.7 274,256.2 274.4,258.7 274.6,260 274.7,260.3 274.8,260.5 275.1,258.8 275.2,257.9 275.3,255.9 275.4,254.7 276.2,242.3 276.6,244.5 276.7,245.9 277.4,256.1 277.5,258.1 277.7,260.7 277.8,260.8 278,262.2 278.3,262.4 278.5,262.4 278.8,260.7 279.3,256.5 279.6,254.8 279.7,255.2 280.5,262.2 280.7,262.5 280.9,262.3 281.1,262.5 281.2,262 281.4,259.2 281.7,255.1 282.1,250.1 282.2,248.9 282.5,249.9 282.9,255.1 283.3,260.2 283.6,261.9 283.7,262.1 283.8,262.6 284.1,262.4 284.5,262.6 285.4,262.1 286.1,262.1 286.2,261.9 286.9,261.8 287,260.8 287.4,257.7 287.6,255.1 287.7,254.8 287.9,253.2 288.2,248.4 288.5,248 288.7,247.8 288.9,247.6 289.1,247.4 289.2,247.2 289.3,248.1 289.4,250.4 289.5,250.5 289.6,252 289.9,254.8 290.1,257 290.2,257.8 290.3,258.5 290.6,261.3 291.1,261.8 291.4,261.7 291.6,261.3 291.7,261.4 291.9,260.4 292,260.3 292.8,257.6 293.1,258.1 293.8,259.1 294,259.8 294.1,260 294.3,260.1 294.6,260.2 295.4,260.3 295.7,259.7 295.8,260.1 296.4,260.6 297.7,259.9 297.8,259.9 298.3,260.1 298.8,259.6 299.3,259.1 299.6,259.2 299.9,259.1 300.6,259.2 300.9,258.9 301.2,258.6 301.3,258.5 301.5,258.2 301.9,257.9 302.2,258.2 302.6,257.9 302.8,258.2 303,257.5 303.1,257.4 303.3,258.3 304.2,257.4 304.4,258.1 305.2,250.4 305.7,243.6 305.8,244.1 306,244.3 306.1,244.2 306.4,244.6 306.7,243.7 306.8,244.5 306.9,245.7 307,246.3 307.1,247.2 307.6,250.8 307.8,252.7 308.1,254.5 308.4,256.9 308.5,256.5 309.1,256.8 309.5,256.8 309.6,257 309.7,256.8 310.2,256.1 310.5,256.1 310.9,256.5 311.5,255.6 312,255.4 312.1,254.8 313,254.8 313.8,249 314.1,247.1 314.3,245.7 314.5,244.1 315.3,249.6 315.6,251 316,253.3 316.6,253 316.7,253.5 317,252.3 317.1,252.3 317.4,252.8 317.5,251.7 317.9,250.3 318.1,250.3 318.5,246.4 318.6,245.7 318.8,243.7 318.9,242.5 319.2,242 319.3,242.6 319.6,242.3 320.1,246.1 320.3,247.2 320.5,248 320.7,249.2 320.8,249.3 321.1,250.7 321.2,250.9 321.3,250.7 321.6,251.1 321.8,250.7 321.9,250.7 322,250.2 322.5,248.5 322.7,247.3 322.9,246.5 323.1,245.6 323.4,246.4 324.3,248.6 324.4,247.9 324.6,246.5 324.9,243.7 325.3,240.1 325.5,237.4 325.6,237.4 325.7,236.2 326,238.8 326.1,238.9 326.2,240.3 326.6,243.5 327.1,248.3 327.2,248.3 327.6,248 328,247.5 328.2,248.1 328.5,248 328.6,247.9 328.7,248.3 329.3,246.8 329.5,247.1 329.7,247.1 329.8,247.4 330,246.7 330.5,246.9 330.9,246.5 331.2,246.9 331.3,246.4 331.6,246.4 331.7,247 331.9,247 332,246.8 332.1,247.6 332.2,246.9 332.6,246.3 332.8,246.9 333.2,246.3 333.3,246 333.6,245.5 333.9,245.4 334,245.4 334.7,244.9 334.8,245 334.9,244.7 335,244.8 335.3,244.2 335.6,244 336,242.3 336.1,242.5 337,243.4 337.1,243.5 337.4,242.8 337.5,243.2 337.6,243.2 337.7,243.6 337.8,243.5 338.2,243.2 338.3,243.4 338.4,243.5 339.2,241.5 339.5,242.1 339.8,242.4 340.1,243 340.3,242.9 340.5,243.4 341,242.8 341.5,242.7 341.7,243.1 341.8,242.9 342,243.1 342.1,243.5 342.4,242.8 342.6,242.7 342.8,242 342.9,242.3 343,242.2 343.2,242 343.7,241.8 344.2,241 344.6,241.1 344.8,241.9 345.3,241.6 345.4,240.8 346.1,241.4 346.7,241.6 347.2,241.2 347.3,241.1 347.5,240.9 347.6,240.6 347.8,241.2 348.3,240.9 348.8,240.7 348.9,240.7 349.1,240.6 349.7,239.9 349.8,239.9 350.2,239.8 350.3,239.8 350.4,239.9 350.6,240.7 350.7,240.3 351.4,240.4 351.6,240.3 352.3,240.2 352.4,240.2 353.1,239.2 353.4,239.6 353.5,239.6 353.6,239.1 353.9,239.1 354,239.4 354.3,239.2 355.2,239.1 356.3,238.8 356.4,238.3 356.5,238.3 356.6,238.5 356.9,239 357.3,239 357.5,238.8 357.9,238.3 358.1,239.6 358.4,240.1 358.5,239.6 358.8,240.1 359.2,238.8 359.7,239.7 359.8,239.7 360.3,239.7 360.9,239.2 361,239.1 361.3,239.1 362.1,238.9 362.2,238.5 362.6,239.3 363.2,238.5 363.5,237.5 363.8,237.9 364.3,237.7 364.5,237 364.6,236.9 364.8,237.1 364.9,236.9 365,237.2 365.3,237.4 365.7,238 366.3,237.7 366.8,237.4 366.9,236.8 367.7,238.3 368,238 368.3,236.9 368.4,237.1 368.6,237.7 368.7,237 369,237 369.1,236.8 369.2,237.8 369.4,237.1 369.7,236.7 370.1,236.9 370.2,237.4 370.3,237 370.5,237.2 370.9,236.4 371.6,236.9 371.7,236.5 372.3,236.6 372.5,236.9 372.6,237 372.8,236.6 373.2,236.3 373.4,236.1 373.6,235.8 373.7,235.6 374.1,234.4 374.2,234.2 374.3,234.1 374.4,233.3 374.5,233.4 374.6,233.9 374.8,233.7 375,233.9 375.2,234.1 375.3,233.6 375.4,234.5 375.5,234.7 375.7,234.4 375.9,234.8 376.1,234.9 376.3,235.2 376.4,235.4 376.7,235.2 376.8,235.6 377.2,235.4 377.3,235.2 377.4,234.8 378.1,234.1 378.2,234.4 378.4,234.1 379,234.1 379.2,234.3 379.3,233.6 379.5,232.9 379.6,232.8 380,233.3 380.4,232.4 380.7,233.3 381.1,233.1 381.2,233 381.3,232.4 381.8,232.4 381.9,232.3 382.2,233 382.3,232.6 382.6,232.4 382.7,232 383.3,232.3 383.5,231.8 383.7,232.5 383.9,232.6 384.2,232.3 384.3,231.4 384.7,231.2 384.8,231.6 385.1,231 385.2,231.4 385.3,231.3 385.8,231.2 386,231 386.4,230.6 386.8,230.4 387.2,230.1 387.3,229.8 387.5,229.5 388,229.2 388.3,228.9 388.5,229.3 388.6,228.9 388.7,229.3 389.3,228.7 390.1,228 390.2,227.6 390.5,227.4 390.6,228 390.7,228 391.3,227.3 391.4,227.1 392,226.1 392.1,226 392.2,226.2 392.3,225.8 392.4,226 392.5,225.7 393.1,225.5 393.2,225.9 393.5,226.6 393.6,226.7 393.8,226.7 393.9,226.6 394.3,225.3 394.5,225.1 394.8,224.2 395.4,224.6 395.8,224.1 396,224.2 396.5,224.1 396.6,223.8 396.7,224.1 396.8,224.4 396.9,224.2 397,224.4 397.1,224.4 397.4,224.4 397.6,223.5 397.8,223.7 398.3,223.2 398.4,223.5 398.5,223.4 398.8,223 398.9,223.3 399.8,222.5 399.9,221.5 400,221.5 400.2,221.5 400.4,221.4 401.1,220.8 401.6,220.3 401.7,220.7 402,220.1 402.1,220.8 402.2,221 402.3,221.9 402.4,221.3 402.5,220.9 403.1,219.1 403.3,219.1 403.4,218.6 403.6,219 403.7,219.5 404.5,220.6 404.7,220.6 404.8,220.7 405,221.1 405.1,221.1 405.6,220.5 405.7,220.5 405.9,219.8 406.2,220.5 406.4,220.4 406.5,220.2 406.7,220.7 407.1,220.1 407.3,220.2 407.5,220.1 407.7,219.5 407.8,220.1 408,219.6 408.2,219.7 408.4,219.3 408.9,218.8 409.1,218.9 409.4,218.8 409.5,219.1 409.8,218.6 410,218.9 410.2,218.9 410.3,218.5 410.7,218.8 410.8,218.3 410.9,218.6 411.1,218.6 411.7,218.7 411.9,219.2 412,218.6 412.2,218.8 412.7,218.6 412.8,218.7 412.9,218 413.5,218.8 413.6,218.7 413.9,218.2 414,218.4 414.2,218.1 414.5,217.7 414.6,217.7 415.1,217.8 415.3,218.6 415.5,218.3 415.7,218.4 416.1,218.2 416.4,218 416.7,218.3 416.8,218.1 417,217.8 417.1,218.7 417.2,218 417.4,218.3 417.6,218 417.7,218.1 418,218.4 418.4,218.4 418.6,218.4 418.7,218.4 418.8,218.1 418.9,218.6 419.1,217.8 419.2,218.3 419.8,217.5 420,218 420.1,217.7 420.4,217.2 420.5,217.7 420.7,217.7 420.8,217.2 421.2,217.3 421.4,217.3 421.5,217.8 421.8,217.9 421.9,218.4 422.1,218.3 422.2,218.1 422.7,218.4 422.8,218.3 422.9,218.9 423,218.7 423.1,218.8 423.4,218.1 423.5,217.4 423.8,218 423.9,217.9 424,218 424.1,218 424.6,217.9 424.8,217.8 425.2,216.8 425.6,217.6 425.8,217.7 425.9,217.7 426.5,217.2 426.6,217.2 426.8,217.5 427,217.2 427.1,216.7 427.2,216.9 427.3,216.9 427.5,217 427.6,216.5 427.7,216.7 427.8,216.8 427.9,217.1 428,217.3 428.8,217.2 429.2,216.7 429.4,217.3 429.6,217.5 429.7,217.3 430.4,217.4 430.6,217.1 430.9,216.5 431.1,216 431.3,215.1 431.5,214.7 431.6,214.4 431.7,214.3 431.9,214 432.1,214.8 432.2,214.7 432.3,214.9 432.6,214.7 432.7,215 433,215.4 433.2,215.4 433.3,215.5 433.4,215.2 433.6,215.3 433.8,215.4 433.9,215.4 434,215.3 434.1,215.1 434.4,215.1 434.5,215.5 434.6,215.2 434.7,215 435.1,214.9 435.3,214.9 435.4,214.4 435.6,214.9 435.7,215.4 435.9,214.7 436,214.4 436.1,214.3 436.4,214.5 436.6,214.7 436.9,214.8 437,214.5 437.1,214.9 437.2,214.8 437.4,214.7 437.8,214.9 438,215 438.3,215.4 438.5,215.4 439,214.6 439.4,214.1 439.6,214.2 440.1,214.6 440.3,215.2 440.4,215.4 440.7,215.9 440.8,215.6 441.1,214.9 441.2,215 441.8,215.1 441.9,214.9 442,214.4 442.3,214.1 442.5,213.6 442.6,213.6 442.7,213.3 442.9,213.7 443,213.4 443.3,213.4 443.4,213.8 443.5,213.9 444.3,213.6 444.6,213.5 444.7,213.8 444.9,213.5 445.3,213.4 445.6,213.3 445.7,213.6 445.8,213.4 445.9,213.3 446.1,213.4 446.3,213.9 446.4,213.3 446.5,213.7 446.7,213.5 446.8,213.1 447,213.1 447.1,213 447.3,213.4 447.4,213.3 447.5,213.8 447.7,213.6 447.9,213.4 448,213.8 448.1,214.1 448.2,213.5 448.3,213.6 448.5,213.2 448.6,212.7 448.9,212.3 449,211.5 449.4,212.3 449.6,212.4 449.7,212.3 449.8,212.2 449.9,211.8 450.5,211.8 450.7,212.4 450.9,212 451,212.3 451.5,212.2 451.8,212.5 451.9,213.3 452.3,213.4 452.8,213.1 452.9,213.3 453.2,212.8 453.7,213.1 453.8,213 454.1,213.6 454.4,212.6 454.5,212.6 454.6,212.4 454.7,212.7 454.9,212.2 455.1,212.1 455.2,211.4 455.3,211.5 455.4,211 455.6,210.9 455.7,210.3 456,209.8 456.1,209.2 456.2,209.8 456.3,209.3 456.6,210.2 456.7,210.3 456.8,210.5 457.2,210.6 457.3,210.9 457.4,211.3 457.8,211.2 458.1,210.4 458.2,209.9 458.7,210.5 458.8,210.2 459.5,209.6 459.6,210.3 459.7,210.1 459.9,209.7 460.3,209.7 460.5,209.5 460.6,209.2 460.9,209.1 461.1,209.6 461.4,208.6 461.5,209.3 461.7,209.6 462,209.8 462.3,209.6 462.4,209 462.5,209.7 462.6,209.1 462.8,209.5 463.4,209.1 463.9,209.1 464,209.6 464.2,209 464.3,208.8 464.4,209.1 464.5,208.8 464.6,208.7 464.8,208.1 464.9,208 465.5,207.1 466,207.3 466.1,207.3 466.2,207.4 466.4,206.4 466.7,206.1 466.8,205.8 467,205.6 467.2,206.4 467.7,206.6 468.4,206.1 468.5,206 468.7,206.5 468.8,206.3 469.1,206 469.2,206.2 469.3,206 469.5,205.3 469.6,206.2 469.7,206.1 469.8,205.9 469.9,206.2 470,206.3 470.1,206.3 470.2,206.6 470.7,205.8 471.1,205.9 471.2,205.1 471.4,204.9 471.8,204.6 471.9,203.8 472,204 472.3,203.8 472.7,204.3 472.9,204.9 473.1,203.9 473.2,204.8 473.3,203.7 473.4,203.8 473.5,203.8 473.7,203.1 473.8,202.9 473.9,203.5 474.6,202.8 474.9,202.6 475,202.4 475.2,202 475.3,202.2 475.5,202.6 475.7,202.9 476.1,202.6 476.9,202.1 477,202 477.2,201.4 477.3,202.3 477.4,202.5 477.5,202.3 477.6,202.4 477.7,202.6 477.8,201.5 478.4,201.7 478.6,202.1 478.9,202.2 479.2,201.8 479.7,202.2 480.8,201.5 480.9,200.8 481.1,200.4 481.5,200.6 482.6,199.7 482.8,200.2 482.9,200.7 483,199.3 483.3,199.4 483.8,199.4 483.9,199.4 484.3,200.1 484.4,200.1 484.5,199.6 484.6,198.8 484.9,198.6 485.3,199.5 485.4,198.7 485.5,198.9 486,198.4 486.3,198.6 486.4,197.7 486.5,198.2 486.6,197.8 486.8,198.2 486.9,197.2 487,197.2 487.1,197.1 487.3,197.2 487.7,197.3 488.2,197.4 488.8,197.2 489.2,196.5 489.3,196.5 489.7,197.1 490,196.8 490.1,196.7 490.2,197 490.3,196.2 490.7,194.2 490.8,193.9 490.9,193.4 491,192.9 491.3,193.8 491.5,194.3 491.6,194.3 491.7,194.7 491.8,195 491.9,194.7 492,195 492.1,194.8 492.3,195.4 492.6,195.5 492.7,195.2 492.9,195.7 493.2,195.6 493.3,194.9 493.6,194.1 493.7,194.1 494.1,192.8 494.2,192.4 494.3,192.7 494.5,192.4 494.9,192.6 495,193 495.2,193.7 495.4,195.1 495.6,195.2 495.8,196 495.9,196.2 496.1,194.8 496.3,195.9 496.6,195.3 496.9,195 497.1,195.2 497.3,194.1 497.5,194.3 497.7,193.8 497.8,193.4 498,192.7 498.4,191.2 498.5,191 498.6,190.1 498.7,189.6 498.8,190.2 498.9,190.6 499,190.9 499.3,191.3 499.4,191.6 499.5,191.9 499.6,192.3 499.8,191 500.2,192.7 500.3,191.6 500.8,191 501,190.5 501.2,191.4 501.5,192.4 501.6,192.6 501.8,192.7 502.4,192.9 502.6,192.7 503,193.3 503.2,192.9 503.3,193.1 503.5,193.5 503.6,194 503.7,193.7 504.1,193.6 504.2,194.2 504.5,194.8 504.6,193.8 504.8,194.4 505.1,193.3 505.3,194.1 505.5,194.1 505.7,193.9 505.8,194.3 505.9,194.4 506.1,193.9 506.2,193.9 506.3,194.5 506.4,193.6 506.6,193.2 506.9,192.2 507.2,191.2 507.3,190.7 507.6,191.4 507.9,192.1 508.1,192.6 508.2,192.4 508.3,192.3 508.7,191.5 508.9,192.5 509.7,192.7 509.9,191.7 510,191.9 510.1,191.6 510.3,192.1 510.4,192.4 510.5,193 510.7,193.3 510.9,192.1 511,191.8 511.1,192.1 511.2,192.6 511.5,192.4 511.9,192.5 512,192.3 512.1,193.2 512.7,191.7 512.8,191.1 513,191.9 513.2,191.1 513.4,190.6 513.5,190.7 514.1,188.7 514.4,188.4 514.7,188.6 514.8,188.7 515,189.2 515.5,189.7 515.7,190.5 515.8,190.1 516,190.3 516.1,189.7 516.2,190.2 516.3,191.1 516.5,190.6 516.6,191.3 517,191.2 517.1,190.8 517.3,190.3 517.5,190.6 517.8,190.7 517.9,191.1 518.2,191.3 518.4,191.3 518.5,191.1 518.8,191 519.2,191.1 519.7,191 519.8,190.5 519.9,191.1 520,190.3 520.1,189.7 520.2,190.4 520.4,190.1 520.7,188.9 520.8,188.9 520.9,188.5 521.1,187.8 521.5,189.1 521.9,189.3 522.1,190 522.2,189.7 522.3,190 522.6,190.1 522.7,189.8 522.8,190.3 522.9,190.3 523,190.2 523.1,190.3 523.6,190.6 524,190.5 524.2,190.5 524.3,190.1 525.1,189.2 525.2,190.6 525.3,189.4 525.5,189.8 525.6,189.5 525.8,190.1 525.9,189.1 526.3,190.3 526.5,189.9 526.6,189.6 526.9,190.2 527.1,190.7 527.2,190.1 527.4,190.5 527.5,190.1 527.6,190.2 527.7,190.1 527.8,189 527.9,189.1 528,190 528.1,189.2 528.2,189.3 528.4,188.8 528.5,190 528.7,189 528.8,189.2 529,189.5 529.1,189.4 529.5,189.1 529.6,188.3 529.8,189.2 529.9,189.3 530,189 530.4,188.7 530.6,189.6 530.7,190 531,189 531.2,189.2 531.3,189.3 532.3,189 532.4,188.5 532.5,189.3 532.8,187.9 532.9,188 533,187.9 533.3,188.3 533.8,187.4 534.2,188.7 534.3,188.2 534.6,189.8 534.8,188.5 535.1,188.1 535.3,189 535.4,189 535.8,188 536.3,187.7 536.5,187.6 536.7,188.4 536.8,188.2 536.9,188.8 537.1,187.6 537.3,188.3 537.4,187.9 537.6,188.2 537.7,188 537.8,187.3 538,187.9 538.1,187.1 538.2,187.6 538.9,187.9 539.2,187.5 539.3,187.2 539.4,187.3 539.7,187.3 539.9,187.8 540.3,186.9 540.4,186.8 540.6,186.8 540.7,187.1 540.9,188.8 541.2,188 541.4,188.1 541.5,187.9 541.6,187.7 541.9,187.4 542,187.8 542.1,187.5 542.4,187.6 542.5,187.1 542.7,187.1 542.9,186.4 543.3,185.3 543.5,185.4 543.7,185.5 543.9,185.6 544,185.2 544.1,184.8 544.7,184.6 544.8,184.8 544.9,184.4 545,184.4 545.1,184.6 545.2,185 545.3,186.1 545.7,185.7 545.8,186.3 546.1,187.7 546.2,187.5 546.3,188 546.4,187.5 546.6,188.1 546.7,187.7 546.9,187.6 547,187.2 547.1,187.4 547.5,186.5 548.1,185.2 548.3,185.3 548.6,185.9 549.2,185.8 549.4,187.1 549.5,187.3 549.6,187.3 549.9,187.6 550,187.2 550.1,187.5 550.4,187.1 550.6,187.2 551.4,187.4 551.9,188 552.1,187.5 552.4,187.4 552.5,186.9 552.6,188 553.1,188.1 553.2,186.8 553.5,187.2 553.9,187.7 554,186.8 554.1,186.5 554.2,187 554.7,188.1 555,187.5 555.3,187.5 555.5,186.9 555.6,187.3 555.7,186.1 556,186.6 556.4,185.5 556.8,186.2 557.1,186.7 557.3,187.3 557.5,188.5 557.9,187.9 558.3,187.7 558.6,188 559,186.7 559.2,186.8 559.3,187.1 560.1,187.2 560.2,187.6 560.9,187.4 561,187.7 561.1,186.8 561.2,186.9 561.4,187.2 562.2,183.9 562.3,182.6 562.4,183.3 562.8,185.9 562.9,186.1 563.1,186.6 563.2,186.1 563.3,186.7 563.4,186.6 563.6,186.6 563.8,186.9 564,186.5 564.3,186.1 565.3,186 566.3,184.6 566.5,185.3 566.9,184 567.3,184 567.5,184.5 567.6,184.6 567.7,184.7 567.8,184.2 568.2,184.9 568.4,184.3 568.6,183.9 568.7,184.9 569,184.3 570,185.3 570.4,184.3 570.5,184.3 571.4,182.7 571.5,182.5 571.7,183.2 572.1,183.3 572.5,183 572.6,183.2 573,183.9 573.2,183.2 573.5,183.4 574,182.9 574.1,182.3 574.3,182.1 574.4,182.1 574.5,182.1 575,182.5 575.6,183 576.1,183.5 576.2,182.4 576.7,182.3 576.9,182.7 577,182.5 577.1,183.2 577.5,181.1 577.9,180.8 578,180.4 578.2,181.2 578.3,180.7 578.4,181 578.5,181.2 578.8,181.3 578.9,181.1 579.1,181.9 579.4,181.6 579.7,181.6 579.8,181.3 580.2,181.3 580.4,182.1 581,182.3 581.2,181.8 581.5,181.8 581.7,181.5 581.9,181.4 582,181.1 582.1,181.5 582.3,181.5 582.4,181.2 582.5,181.4 582.7,181.7 582.9,181.3 583.7,180.7 583.9,180.1 584.3,179.8 584.6,181.1 585.6,180.1 586.1,180.8 586.7,180.2 586.8,179.9 586.9,180.6 587,180 587.6,179.3 587.9,178.6 588,178.1 588.1,177.9 588.4,174.9 588.8,171.8 588.9,171.5 589,171.9 589.2,171.1 589.7,175.9 589.8,175.9 590,177.7 590.1,177.1 590.2,178.1 590.3,177.8 590.4,179.7 590.8,178.2 590.9,178.5 591.3,178.5 591.5,178.1 591.7,177.5 592.1,178.1 592.3,178.3 592.9,177.7 593.2,177.4 593.3,177.1 593.4,177.2 593.9,177.1 594.1,176.9 594.3,175.8 594.4,175.9 594.6,176.5 595,175.9 595.1,175.1 595.5,176.1 595.6,176 596.1,175.8 596.3,175.4 596.4,177 596.9,177.7 597,176.8 597.2,175.9 597.3,176.8 597.4,177 597.5,175.4 597.8,173.9 597.9,173.9 598,173.6 598.3,172.6 598.6,173 598.7,173 598.9,174.3 599,174.9 599.2,174.9 599.5,175.1 599.6,176.4 600,176.9 600.3,177 600.6,175.9 600.7,176.7 600.9,176.6 601,175.8 601.4,175.2 601.5,174.8 602,173.5 602.9,175.9 603.3,176.8 603.7,175.6 604.5,176.6 604.6,176.6 605.1,175.8 605.8,175.4 607.8,176.4 608.2,175.8 608.7,175.6 608.8,176.3 609.3,175.3 609.4,175.6 609.5,175.8 609.7,175.4 609.8,175.5 610,175.4 610.9,175.7 611,175.2 611.4,176.2 611.7,174.6 612.4,175.2 612.6,174.9 612.8,175 613.1,174.4 613.3,174.5 613.4,175.5 613.6,176.1 613.9,174.9 614,174.7 614.1,174.7 614.2,174.3 614.4,173.9 614.5,173.5 614.7,173.9 614.9,174.7 615.5,173.4 615.6,173.3 616,174.7 616.1,173 617.4,172.8 618.6,172.5 619.5,171.9 620.1,170.9 620.7,170 621.4,170.6 621.7,171.3 621.8,171.4 621.9,170.5 622.3,171.3 622.6,169.9 623,168.7 623.1,168.6 623.2,167.8 624.2,169 624.3,168.4 624.9,171.1 625.3,169.8 626.2,169.6 626.7,168.8 627.1,169.4 627.2,169.1 627.3,169.1 627.5,168.4 627.6,168.5 627.9,167.9 628,167 628.2,166.9 628.9,169.4 629.4,170.2 630.1,169.5 630.4,169.5 630.8,168.4 630.9,168.4 631.1,168.7 632.7,168.4 633.7,165.6 633.9,165.4 634.1,165.1 634.2,162.8 634.5,162.8 635.3,167.6 635.4,166.7 636,168.5 637,167.9 637.1,169 637.2,168.2 638.5,166.4 639.1,167.4 639.7,168.8 640.5,168.4 641,168.4 641.8,167.2 642,166.9 642.7,164.1 642.8,164.2 643.7,166 644,165.3 644.1,166 644.3,166.2 644.4,168 644.7,168 644.8,167.4 644.9,168.7 645,168.8 645,187 644.9,186.7 644.8,188.1 644.7,187.6 644.4,187.4 644.3,188.7 644.1,188.6 644,189.2 643.7,188.9 642.8,190.4 642.7,190.6 642,189.3 641.8,189.6 641,188.8 640.5,188.9 639.7,188.4 639.1,189.1 638.5,190.3 637.2,189.9 637.1,189.4 637,190.5 636,190.1 635.4,191.9 635.3,191 634.5,194.1 634.2,194.8 634.1,192.8 633.9,192.9 633.7,193.2 632.7,191.4 631.1,190.9 630.9,191.7 630.8,192 630.4,191.3 630.1,191.5 629.4,190.5 628.9,191.2 628.2,192.9 628,193.5 627.9,193.1 627.6,192.2 627.5,192.2 627.3,191.3 627.2,191.7 627.1,191.8 626.7,192.6 626.2,191.6 625.3,192.3 624.9,190.8 624.3,193.3 624.2,192.2 623.2,193.2 623.1,192.4 623,192.1 622.6,191.3 622.3,190.6 621.9,191.9 621.8,190.9 621.7,190.9 621.4,191.6 620.7,191.9 620.1,191.9 619.5,191.6 618.6,191.5 617.4,191.4 616.1,191.9 616,191 615.6,192.3 615.5,192.2 614.9,191.6 614.7,192.2 614.5,192.8 614.4,192.2 614.2,192.4 614.1,192.1 614,191.5 613.9,191.5 613.6,190.9 613.4,191.5 613.3,192.4 613.1,192.7 612.8,192.5 612.6,192.2 612.4,192.1 611.7,193.1 611.4,191.4 611,192.2 610.9,192 610,191.9 609.8,191.8 609.7,191.6 609.5,191.3 609.4,191.1 609.3,191.8 608.8,191 608.7,191.4 608.2,191.1 607.8,191.1 605.8,192.5 605.1,192.3 604.6,191.6 604.5,191.9 603.7,192.9 603.3,191.6 602.9,192.7 602,194.1 601.5,193.4 601.4,193.2 601,192.9 600.9,191.9 600.7,191.9 600.6,192.7 600.3,191.8 600,191.5 599.6,191.6 599.5,193.1 599.2,192.6 599,192.8 598.9,193.3 598.7,194 598.6,193.9 598.3,194.3 598,193.4 597.9,193.7 597.8,193.4 597.5,193.2 597.4,191.3 597.3,192 597.2,192.6 597,191.5 596.9,191 596.4,191.7 596.3,192.7 596.1,192.3 595.6,192.1 595.5,192.4 595.1,193.8 595,193.3 594.6,193 594.4,193.7 594.3,194.2 594.1,193.7 593.9,193.6 593.4,193.4 593.3,194 593.2,193.6 592.9,193.8 592.3,193.8 592.1,194.1 591.7,194.4 591.5,193.9 591.3,193.8 590.9,194.5 590.8,194.2 590.4,192.7 590.3,194.5 590.2,193.7 590.1,193.9 590,193 589.8,194.7 589.7,194.8 589.2,197.7 589,196.9 588.9,197.5 588.8,197.6 588.4,196.4 588.1,195 588,195.9 587.9,195.7 587.6,194.6 587,194.6 586.9,194.5 586.8,195.2 586.7,195 586.1,195 585.6,195.9 584.6,194.6 584.3,195.6 583.9,195.7 583.7,195.2 582.9,194.7 582.7,194.8 582.5,194.9 582.4,195.6 582.3,195.5 582.1,196.3 582,196.8 581.9,196.8 581.7,196.5 581.5,196.4 581.2,196 581,196 580.4,196.4 580.2,197.1 579.8,196.8 579.7,196.6 579.4,196.5 579.1,196.2 578.9,197.1 578.8,197.7 578.5,197.3 578.4,197.3 578.3,197.7 578.2,197.3 578,198 577.9,197.7 577.5,198 577.1,196.5 577,196.5 576.9,196.6 576.7,197.3 576.2,197.9 576.1,196.9 575.6,197.4 575,197.9 574.5,198.4 574.4,198.1 574.3,198.3 574.1,199.1 574,198.2 573.5,197.9 573.2,198.4 573,198.4 572.6,199 572.5,199.3 572.1,199.2 571.7,199 571.5,199.2 571.4,199.1 570.5,199 570.4,199 570,198 569,199.8 568.7,198.8 568.6,199.4 568.4,199.3 568.2,198.2 567.8,198.8 567.7,197.9 567.6,197.8 567.5,198.1 567.3,198.5 566.9,199 566.5,198.3 566.3,198.9 565.3,199.1 564.3,199.5 564,199.5 563.8,199.2 563.6,199 563.4,198.9 563.3,198.9 563.2,199.5 563.1,199 562.9,198.4 562.8,198.7 562.4,200.1 562.3,201 562.2,200.3 561.4,198.6 561.2,198.8 561.1,198.5 561,197.5 560.9,197.7 560.2,197.5 560.1,198 559.3,197.6 559.2,197.5 559,198.5 558.6,197.1 558.3,197.8 557.9,198.2 557.5,198.1 557.3,199.1 557.1,199.3 556.8,200 556.4,200.4 556,199.4 555.7,200.1 555.6,199.2 555.5,199.8 555.3,199.2 555,199.5 554.7,199.2 554.2,200.4 554.1,200.7 554,200.5 553.9,199.9 553.5,200.3 553.2,200.8 553.1,199.7 552.6,199.6 552.5,200.7 552.4,200.2 552.1,200.6 551.9,200.3 551.4,200.9 550.6,200.9 550.4,200.7 550.1,199.9 550,199.9 549.9,199.9 549.6,200.3 549.5,200.2 549.4,200.2 549.2,200.9 548.6,201 548.3,201.3 548.1,201.4 547.5,200.9 547.1,200.4 547,200.6 546.9,200.2 546.7,201.1 546.6,201.3 546.4,201.4 546.3,200.9 546.2,202.2 546.1,202 545.8,202.7 545.7,203.4 545.3,202.4 545.2,202.9 545.1,202.9 545,203 544.9,203.1 544.8,202.7 544.7,202.9 544.1,203.1 544,202.2 543.9,201.6 543.7,201.9 543.5,201.9 543.3,202.1 542.9,201.3 542.7,200.7 542.5,200.9 542.4,200.9 542.1,201.4 542,201.5 541.9,201.7 541.6,201.6 541.5,201.9 541.4,202 541.2,201.9 540.9,201.2 540.7,202.5 540.6,202.5 540.4,202.3 540.3,202.2 539.9,201.4 539.7,201.6 539.4,201.7 539.3,201.7 539.2,200.9 538.9,201 538.2,201.2 538.1,201.7 538,200.9 537.8,201.6 537.7,201 537.6,200.9 537.4,201.2 537.3,201 537.1,201.7 536.9,200.7 536.8,200.9 536.7,200.8 536.5,201.4 536.3,201.8 535.8,201.5 535.4,200.7 535.3,200.9 535.1,201.7 534.8,201.6 534.6,200.8 534.3,202.2 534.2,201.6 533.8,202.3 533.3,201.2 533,201.7 532.9,201.4 532.8,201.7 532.5,200.3 532.4,201.4 532.3,201.3 531.3,201.6 531.2,202 531,202.2 530.7,201.4 530.6,202 530.4,202.3 530,201.9 529.9,201.7 529.8,202.3 529.6,203 529.5,202 529.1,202.2 529,202.1 528.8,202.2 528.7,202.9 528.5,202.2 528.4,202.5 528.2,201.7 528.1,201.9 528,201.5 527.9,202.2 527.8,202.9 527.7,202.3 527.6,202.2 527.5,202.5 527.4,203.1 527.2,203.8 527.1,202.4 526.9,203.3 526.6,204.3 526.5,203.8 526.3,203.4 525.9,204.4 525.8,203.4 525.6,203.7 525.5,203.2 525.3,204 525.2,202.7 525.1,203.9 524.3,202.8 524.2,202.2 524,202.8 523.6,202.5 523.1,202.6 523,202.3 522.9,202.7 522.8,202.8 522.7,203.3 522.6,202.6 522.3,202.9 522.2,202.6 522.1,202.4 521.9,203.2 521.5,203.8 521.1,204.5 520.9,204 520.8,203.9 520.7,204.4 520.4,203.6 520.2,203.6 520.1,204.7 520,204.2 519.9,203.7 519.8,204.6 519.7,203.9 519.2,203.7 518.8,204 518.5,204 518.4,204.2 518.2,203.6 517.9,204.2 517.8,204.3 517.5,204.3 517.3,204.3 517.1,204.4 517,204.1 516.6,203.5 516.5,203.7 516.3,203.4 516.2,203.6 516.1,204.1 516,203.8 515.8,204.6 515.7,203.9 515.5,204.2 515,205.3 514.8,205.6 514.7,205.5 514.4,206 514.1,206.2 513.5,205 513.4,205.2 513.2,204.8 513,204.8 512.8,205.2 512.7,204.5 512.1,203.5 512,204.5 511.9,203.9 511.5,204.3 511.2,204 511.1,204.6 511,204.4 510.9,204.2 510.7,203.7 510.5,203.6 510.4,204.2 510.3,204.8 510.1,205 510,205 509.9,205.7 509.7,204.3 508.9,204.7 508.7,205.5 508.3,205.6 508.2,205.5 508.1,205.6 507.9,206.5 507.6,206.7 507.3,207.1 507.2,207.3 506.9,207.1 506.6,206.7 506.4,206.5 506.3,205.7 506.2,205.9 506.1,205.9 505.9,205.5 505.8,206 505.7,206.3 505.5,205.7 505.3,205.8 505.1,206.6 504.8,205.7 504.6,206.4 504.5,205.4 504.2,206.1 504.1,206.4 503.7,206.8 503.6,206.9 503.5,207.7 503.3,207.8 503.2,207.5 503,206.9 502.6,207.8 502.4,208 501.8,208.2 501.6,208.2 501.5,208.5 501.2,209.1 501,210 500.8,210.3 500.3,210.3 500.2,209.1 499.8,210.1 499.6,209.1 499.5,209.3 499.4,209.3 499.3,209.7 499,209.5 498.9,209.4 498.8,209.4 498.7,209.6 498.6,209.3 498.5,208.9 498.4,208.2 498,207.4 497.8,207.1 497.7,207 497.5,206.8 497.3,207.1 497.1,206.6 496.9,207.1 496.6,206.6 496.3,206.6 496.1,208 495.9,206.7 495.8,207.1 495.6,207.7 495.4,207.9 495.2,208.9 495,209 494.9,209.3 494.5,209.6 494.3,209.7 494.2,209.8 494.1,209.5 493.7,209.2 493.6,209.5 493.3,208.8 493.2,208 492.9,208 492.7,208.4 492.6,207.8 492.3,208.3 492.1,209.1 492,208.4 491.9,208.6 491.8,208.6 491.7,209.2 491.6,209.6 491.5,209.6 491.3,210.5 491,211 490.9,211 490.8,211 490.7,210.8 490.3,210.3 490.2,210.1 490.1,210.4 490,210.1 489.7,209.8 489.3,210.7 489.2,210.4 488.8,210.4 488.2,210.7 487.7,211.1 487.3,211.1 487.1,211.5 487,211.6 486.9,211.6 486.8,211.2 486.6,211.8 486.5,211.3 486.4,211.7 486.3,210.8 486,211.4 485.5,211.8 485.4,212.3 485.3,211.6 484.9,212.3 484.6,212.5 484.5,211.5 484.4,211.7 484.3,211.7 483.9,212.5 483.8,211.8 483.3,212 483,212.8 482.9,211.5 482.8,212.3 482.6,213.1 481.5,213.1 481.1,213.3 480.9,213.1 480.8,212.8 479.7,213.5 479.2,214.2 478.9,214.2 478.6,214.2 478.4,214.8 477.8,215.4 477.7,214.6 477.6,214.8 477.5,214.8 477.4,214.6 477.3,214.3 477.2,215.1 477,215.4 476.9,215.3 476.1,215.3 475.7,215.3 475.5,215.7 475.3,216.3 475.2,216.2 475,216.2 474.9,216.1 474.6,215.3 473.9,215.2 473.8,215.7 473.7,215.6 473.5,215.5 473.4,215.7 473.3,216.1 473.2,215.4 473.1,216.2 472.9,215.6 472.7,216.2 472.3,216.7 472,216.9 471.9,216.9 471.8,216.6 471.4,217.3 471.2,217.4 471.1,217.4 470.7,217.9 470.2,217.5 470.1,217.9 470,218.1 469.9,218.4 469.8,218.4 469.7,217.9 469.6,217.7 469.5,218.1 469.3,217.2 469.2,217.3 469.1,217.9 468.8,217.8 468.7,218 468.5,218.7 468.4,218.8 467.7,219.2 467.2,219.6 467,220.5 466.8,220.5 466.7,220.5 466.4,220.6 466.2,219.8 466.1,220.3 466,220.5 465.5,221 464.9,220.6 464.8,220.7 464.6,219.9 464.5,220.2 464.4,220.1 464.3,220.4 464.2,219.9 464,220 463.9,220.1 463.4,220.3 462.8,220.2 462.6,220.6 462.5,220.2 462.4,220.9 462.3,220.8 462,221.1 461.7,220.8 461.5,221.6 461.4,222.5 461.1,221.7 460.9,222.6 460.6,222.4 460.5,222.2 460.3,221.7 459.9,221.7 459.7,221.8 459.6,221.3 459.5,221.7 458.8,221.7 458.7,221.6 458.2,222.2 458.1,222.1 457.8,222 457.4,221.7 457.3,222.3 457.2,222.5 456.8,223.3 456.7,223.5 456.6,223.6 456.3,224.7 456.2,223.9 456.1,223.9 456,223.8 455.7,223.8 455.6,223.8 455.4,223.3 455.3,223.2 455.2,223.3 455.1,222.5 454.9,222.6 454.7,222.6 454.6,222.6 454.5,222.8 454.4,222.8 454.1,222.3 453.8,222.9 453.7,222.4 453.2,223.1 452.9,223.2 452.8,222.7 452.3,223.1 451.9,222.8 451.8,223.5 451.5,223.2 451,223.3 450.9,223.7 450.7,223.3 450.5,223.7 449.9,224.8 449.8,224.4 449.7,224.4 449.6,224.4 449.4,225.3 449,226.1 448.9,226 448.6,226 448.5,225.7 448.3,225.2 448.2,225.3 448.1,224.7 448,224.8 447.9,225.2 447.7,224.9 447.5,224.4 447.4,225.1 447.3,224.9 447.1,225.3 447,225.1 446.8,225.2 446.7,225.2 446.5,224.3 446.4,225 446.3,224.2 446.1,224.6 445.9,224.5 445.8,224.6 445.7,224.3 445.6,224.9 445.3,225 444.9,226 444.7,225.1 444.6,225.8 444.3,225.5 443.5,225.2 443.4,225.3 443.3,225.7 443,225.6 442.9,225.5 442.7,225.4 442.6,225.9 442.5,225.8 442.3,225.6 442,225.8 441.9,225.6 441.8,225.2 441.2,225.7 441.1,225.5 440.8,225 440.7,225 440.4,226.1 440.3,226.4 440.1,226.9 439.6,226.6 439.4,226.9 439,226.9 438.5,226.6 438.3,226.9 438,226.6 437.8,226.3 437.4,226.5 437.2,226.2 437.1,226.8 437,227.1 436.9,226.6 436.6,226.6 436.4,226.4 436.1,227.2 436,227.2 435.9,227 435.7,226.4 435.6,226.9 435.4,227.3 435.3,226.8 435.1,226.8 434.7,226.8 434.6,226.2 434.5,226.2 434.4,226.4 434.1,226.8 434,226.1 433.9,226.4 433.8,226.3 433.6,226.6 433.4,226.9 433.3,227.2 433.2,226.9 433,227.1 432.7,227.1 432.6,227.5 432.3,227.3 432.2,227.4 432.1,227.2 431.9,228.1 431.7,227.8 431.6,228.5 431.5,228.4 431.3,228 431.1,227.8 430.9,227.6 430.6,227 430.4,227.2 429.7,227.6 429.6,227.6 429.4,227 429.2,227.3 428.8,227.1 428,226.8 427.9,226.6 427.8,227.3 427.7,227.2 427.6,227.2 427.5,226.8 427.3,227.4 427.2,227.6 427.1,227.7 427,227.1 426.8,227.1 426.6,227.4 426.5,227.7 425.9,227.2 425.8,227.3 425.6,227 425.2,228.1 424.8,227.4 424.6,227.4 424.1,227.8 424,227.6 423.9,227.6 423.8,227.6 423.5,227.7 423.4,227.5 423.1,227.2 423,227.6 422.9,227.5 422.8,227.7 422.7,227.6 422.2,228 422.1,227.2 421.9,227.3 421.8,228 421.5,227.9 421.4,227.9 421.2,228.2 420.8,228.3 420.7,228.3 420.5,228.7 420.4,229.6 420.1,229.7 420,229.3 419.8,230 419.2,229.8 419.1,230.5 418.9,229.9 418.8,230 418.7,229.7 418.6,229.7 418.4,228.8 418,228.8 417.7,229 417.6,228.8 417.4,228.3 417.2,228.9 417.1,228.2 417,229.1 416.8,229.2 416.7,229.5 416.4,229.6 416.1,229.7 415.7,229.4 415.5,229.5 415.3,229.4 415.1,229.9 414.6,230 414.5,229.7 414.2,229.4 414,230 413.9,229.9 413.6,230.2 413.5,230.1 412.9,230.7 412.8,229.8 412.7,229.9 412.2,230 412,230.4 411.9,229.5 411.7,229.7 411.1,229.8 410.9,229.4 410.8,229.8 410.7,229.6 410.3,229.7 410.2,229.4 410,229.3 409.8,229.8 409.5,229.6 409.4,229.8 409.1,230 408.9,230.4 408.4,230.3 408.2,230.7 408,230.6 407.8,230.5 407.7,230.9 407.5,230.4 407.3,230.7 407.1,231.4 406.7,231 406.5,231.4 406.4,231.2 406.2,231.1 405.9,231.9 405.7,231.3 405.6,231.6 405.1,231.2 405,230.7 404.8,231 404.7,231.1 404.5,231.2 403.7,232.1 403.6,232.6 403.4,232.8 403.3,232.3 403.1,232.6 402.5,232.4 402.4,232.1 402.3,231.7 402.2,232.5 402.1,231.9 402,232.1 401.7,232.1 401.6,232.4 401.1,232.2 400.4,232.9 400.2,233.1 400,233.2 399.9,233.3 399.8,233.3 398.9,234.6 398.8,235.1 398.5,234.8 398.4,235.3 398.3,235.1 397.8,235.1 397.6,235.6 397.4,235.5 397.1,235.5 397,235.1 396.9,235.2 396.8,235.2 396.7,235.1 396.6,235.4 396.5,235.3 396,235.7 395.8,236 395.4,236 394.8,236.8 394.5,236.4 394.3,237.3 393.9,236.5 393.8,236.8 393.6,237 393.5,237 393.2,237.5 393.1,237.9 392.5,238.6 392.4,238.3 392.3,238.1 392.2,237.5 392.1,237.7 392,237.8 391.4,237.8 391.3,238.2 390.7,238.5 390.6,238.4 390.5,238.8 390.2,238.4 390.1,238.8 389.3,239.2 388.7,239.7 388.6,240.3 388.5,239.8 388.3,240.1 388,240.1 387.5,241.1 387.3,241.2 387.2,240.8 386.8,241.2 386.4,241.2 386,241.5 385.8,241.4 385.3,242.1 385.2,242.3 385.1,242.6 384.8,242.4 384.7,243 384.3,243.4 384.2,242.9 383.9,242.9 383.7,243.3 383.5,243.7 383.3,243.5 382.7,244 382.6,244.1 382.3,244.4 382.2,243.4 381.9,244.2 381.8,244.1 381.3,244.4 381.2,244 381.1,243.9 380.7,243.8 380.4,244.5 380,243.4 379.6,244.2 379.5,244.2 379.3,243.9 379.2,243.8 379,244.1 378.4,244.6 378.2,244.5 378.1,245.1 377.4,245.3 377.3,245.3 377.2,245.2 376.8,245.1 376.7,245.3 376.4,245.6 376.3,245.4 376.1,245.7 375.9,245.9 375.7,246.1 375.5,246.1 375.4,246.6 375.3,247.4 375.2,247.1 375,247.2 374.8,247.7 374.6,248.1 374.5,248.4 374.4,248.5 374.3,248 374.2,247.8 374.1,248.1 373.7,247.5 373.6,247.5 373.4,247.7 373.2,247 372.8,247.1 372.6,247 372.5,246.9 372.3,247.5 371.7,248.1 371.6,247.8 370.9,248.4 370.5,247.6 370.3,248 370.2,247.9 370.1,248.3 369.7,248.6 369.4,248.2 369.2,247.7 369.1,248.5 369,248.2 368.7,248 368.6,247.4 368.4,248.2 368.3,248.3 368,247.7 367.7,247.3 366.9,248.2 366.8,247.7 366.3,248 365.7,248.2 365.3,248.7 365,248.2 364.9,248.4 364.8,247.8 364.6,248.1 364.5,248.3 364.3,248.1 363.8,247.7 363.5,248 363.2,247.6 362.6,247.6 362.2,248.5 362.1,248.2 361.3,248.1 361,248.1 360.9,248.1 360.3,248 359.8,248.2 359.7,247.9 359.2,248.8 358.8,248.1 358.5,248.7 358.4,248.1 358.1,248.2 357.9,249.5 357.5,249.2 357.3,249 356.9,249.5 356.6,249.9 356.5,249.7 356.4,249.8 356.3,249.6 355.2,250.6 354.3,249.9 354,249.9 353.9,250.1 353.6,250.2 353.5,250.1 353.4,250.3 353.1,251.1 352.4,250.7 352.3,250.5 351.6,251 351.4,250.5 350.7,251 350.6,251 350.4,251.6 350.3,251.7 350.2,251.6 349.8,251.5 349.7,251.1 349.1,251 348.9,251.3 348.8,251.3 348.3,251.3 347.8,251.2 347.6,252 347.5,251.8 347.3,251.5 347.2,251.8 346.7,251.7 346.1,252 345.4,252.7 345.3,251.8 344.8,252.2 344.6,252.7 344.2,252.9 343.7,252.7 343.2,253.3 343,253 342.9,253.2 342.8,253.6 342.6,253.4 342.4,253.1 342.1,253.4 342,253.7 341.8,253.7 341.7,253.2 341.5,254.1 341,254.5 340.5,254.2 340.3,254.3 340.1,254.6 339.8,255.1 339.5,255.7 339.2,256.2 338.4,255.6 338.3,255.9 338.2,256 337.8,256 337.7,256 337.6,256.4 337.5,256.1 337.4,256.1 337.1,256 337,256.4 336.1,257 336,257.6 335.6,256.4 335.3,257.1 335,256.7 334.9,257 334.8,256.9 334.7,256.7 334,256.6 333.9,256.8 333.6,257 333.3,257.5 333.2,257.3 332.8,257.1 332.6,257.6 332.2,257.2 332.1,256.9 332,257.2 331.9,257.4 331.7,257.3 331.6,258 331.3,257.7 331.2,257.1 330.9,258 330.5,258.1 330,258.4 329.8,258.4 329.7,258.8 329.5,258.9 329.3,258.7 328.7,258 328.6,258.7 328.5,258.5 328.2,258.4 328,259 327.6,259.1 327.2,259 327.1,259.4 326.6,262.6 326.2,264.4 326.1,265.4 326,265.3 325.7,267 325.6,266.1 325.5,266.2 325.3,264.3 324.9,262.5 324.6,261.6 324.4,261.3 324.3,260.7 323.4,262.5 323.1,262.9 322.9,263.1 322.7,263.4 322.5,262.8 322,262.2 321.9,261.4 321.8,262 321.6,261.9 321.3,262.6 321.2,262.8 321.1,263 320.8,263.7 320.7,263.6 320.5,264.4 320.3,265.2 320.1,265.7 319.6,268.1 319.3,268.1 319.2,268.3 318.9,268.1 318.8,267.6 318.6,266.5 318.5,266.8 318.1,264.7 317.9,265 317.5,264.2 317.4,263 317.1,264 317,264.1 316.7,263.4 316.6,264.5 316,264.7 315.6,266.2 315.3,266.5 314.5,269.8 314.3,269.2 314.1,268.9 313.8,268.2 313,265.3 312.1,266.1 312,265.6 311.5,265.9 310.9,266.1 310.5,267.1 310.2,267.4 309.7,267.2 309.6,267 309.5,267.3 309.1,267.1 308.5,267.7 308.4,267.3 308.1,268.7 307.8,269.8 307.6,271 307.1,273 307,273.4 306.9,273.8 306.8,274.5 306.7,275.1 306.4,274.6 306.1,274.9 306,274.4 305.8,274.9 305.7,275.3 305.2,272.4 304.4,268.2 304.2,269 303.3,269 303.1,269.3 303,269.5 302.8,269.1 302.6,269.7 302.2,269.2 301.9,269.4 301.5,269.7 301.3,269.9 301.2,270 300.9,270.2 300.6,269.9 299.9,270 299.6,269.6 299.3,270.1 298.8,270.8 298.3,270.7 297.8,270.6 297.7,270.3 296.4,270.3 295.8,270.7 295.7,270.9 295.4,270.9 294.6,271.2 294.3,271.2 294.1,271.4 294,271.7 293.8,272.4 293.1,273.7 292.8,274.7 292,273.9 291.9,273.9 291.7,273 291.6,273.4 291.4,272.3 291.1,272.6 290.6,273.1 290.3,273.9 290.2,273.9 290.1,274.8 289.9,275.6 289.6,277.4 289.5,278.7 289.4,278.9 289.3,280.4 289.2,280.8 289.1,280.5 288.9,280.6 288.7,280.1 288.5,280.2 288.2,279.9 287.9,277.2 287.7,276.3 287.6,276 287.4,274.5 287,273.6 286.9,273.1 286.2,273.2 286.1,273.5 285.4,274 284.5,273.5 284.1,273.7 283.8,273.7 283.7,274.1 283.6,274.1 283.3,274.9 282.9,277.4 282.5,279.9 282.2,280.1 282.1,279.7 281.7,277.4 281.4,275.2 281.2,273.9 281.1,273.7 280.9,273.7 280.7,273.9 280.5,273.2 279.7,277.1 279.6,276.9 279.3,276.4 278.8,274.2 278.5,273.4 278.3,273.5 278,274 277.8,274.6 277.7,275.2 277.5,276.5 277.4,278 276.7,282.8 276.6,283.6 276.2,284.4 275.4,278.6 275.3,277.8 275.2,276.8 275.1,276 274.8,275.3 274.7,275.2 274.6,275.1 274.4,275.7 274,277.6 273.8,277.8 273.7,277.9 273.5,278.8 273.2,278.1 272.1,275.4 271.9,274.9 271.8,275.5 271.5,275.3 271.4,275.7 271.1,275.9 270.8,276.2 270.5,276.8 270.3,277.5 270,277.8 269.9,278.6 269.5,277.6 269.2,278.8 269.1,279.1 268.8,279.5 268.6,279.9 268.3,281.1 267.7,278.2 267.5,277.6 267.4,276.4 267.2,276.1 267.1,275.1 267,275 266.6,275.6 265.9,277.7 265.6,278.6 265.5,279.2 265,277.7 264.4,277.3 264.1,277.2 263.7,279 263.4,280.1 263.3,279.5 263.2,280.1 262.9,281.4 262.8,281.5 262.6,280.7 262.3,279.1 262.1,278.2 261.6,277.4 261.5,277.2 261.3,278.1 260.7,280.9 260.6,281.6 260.4,281.2 260.3,280.8 260.2,281.6 260,281.4 259.4,279.1 259.2,278.1 259.1,276.7 259,276.7 258.7,276.2 258.6,275.3 258.5,275.3 258.4,275.2 257.4,275.6 257.1,275.3 256.1,275.6 256,275.7 254.7,281 254.6,280.6 253.1,275.4 252.5,275.6 252.4,276 251.9,276.5 251.8,275.7 251.5,275.9 251.1,276.5 250.9,277 250.7,277.5 250.4,277.5 250.1,277.7 250,276.6 249.9,277.8 249.7,277.2 249.3,277.7 248.8,277.4 248.6,277.6 248.3,277.5 247.3,277.6 245.5,277.6 245,277.2 244.6,277.1 243.7,277.4 243.3,278.1 243.1,277.6 241.9,278.3 241.8,278.2 241.7,278.4 241.3,280 240.5,281.2 240.3,281.1 238.7,278.4 237.9,278.2 237.8,277.9 237.7,277.5 237.5,278 237.4,279 237.2,279.3 237,279.2 236.8,280.6 236.7,281.2 236.3,285.4 235.7,286.1 235.6,285.2 235.3,281.9 235.2,281 234.6,278.8 234.5,278.9 233,279 232.5,279.2 232.3,279.1 232,278.8 231.6,279.1 229.8,279.4 229.7,279.8 229,279.8 227.4,279.4 226.9,280.5 226,284.9 225.9,284.9 225.5,282.7 225.4,282.6 225.2,281.6 224.6,279.1 224.5,278.9 224,279.4 223.3,279.4 222.1,279 221.9,279.3 221.7,279.5 221,279.5 220.8,279.4 220.6,280.4 220.5,280.4 220.1,280.3 219.6,282.2 219.4,281.9 219.1,280.6 218.4,280.1 218,279.6 217,279.7 216.4,282.1 216.1,282.6 215.5,285.2 215.3,284.7 214.2,280.6 214.1,281 213.9,280.4 213,280 212,280.4 211.6,282.4 211.5,283.6 211.4,284.8 211.3,286.2 211.1,288.4 210.7,291.5 210.6,291.6 210.2,290.9 209.9,289.5 209.8,290.2 209.3,287.2 209.1,287.2 209,286 208.9,285 208.7,284.2 208.3,283.8 208.2,283.7 208.1,283.4 208,283.9 207.8,284.7 207.5,285.2 207.4,285 207.2,284.6 206.5,281.9 206.2,281.3 206.1,280.2 205.9,281.1 205.5,280.7 203.8,280.8 203.5,280.5 202.6,280.2 202,280.2 201.7,280.6 200.8,280.1 198.9,280.3 197.3,281 197.2,281.4 195.5,281.5 195,281.8 194.4,281.3 194.1,282.2 192,281.7 190.3,282.4 190.1,282.2 188.8,286.7 188.3,285.6 187.9,284.7 187.4,282.8 186.9,282.7 186.2,282.9 184.4,283.5 182.7,283.7 182.4,283.3 181.7,284 178.9,284.3 178.6,285.1 176.5,284.8 172.4,284.7 171.4,284.5 170.1,283.8 169.1,284.4 168.6,284.5 167.2,284.3 166.6,284.4 166.2,283.9 165.7,284.3 164.6,288.5 164.5,288.9 163.5,284.8 163.4,284.1 161,284.3 159,284.2 157.9,291.3 156.8,285.2 156.2,285 154.8,284.6 152.8,285 152.4,284.4 151.7,283.9 145,286.5 143.5,288.3 142,290 141,291.2 140,290 138.5,288.3 137.5,287.1 137,286.5 122.9,290.2 121.2,292.1 119.1,294.5 115.7,289.9 110.3,289 96.9,294.5 93.4,294.6 72.1,292.2" fill="#333" fill-opacity=".3"/><path d="M83 389.75v3.67M199.4 389.75v3.67M315.7 389.75v3.67M432.1 389.75v3.67M548.5 389.75v3.67M664.9 389.75v3.67M44 374.3h-3.67M44 299.4h-3.67M44 224.5h-3.67M44 149.6h-3.67M44 74.7h-3.67" stroke="#333" stroke-width="1.42" fill="none"/><g font-size="11.73" fill="#4d4d4d"><text x="83" y="405.9" text-anchor="middle">-3</text><text x="199.4" y="405.9" text-anchor="middle">-2</text><text x="315.7" y="405.9" text-anchor="middle">-1</text><text x="432.1" y="405.9" text-anchor="middle">0</text><text x="548.5" y="405.9" text-anchor="middle">1</text><text x="664.9" y="405.9" text-anchor="middle">2</text><text x="37.1" y="378.5" text-anchor="end">-2</text><text x="37.1" y="303.6" text-anchor="end">-1</text><text x="37.1" y="228.7" text-anchor="end">0</text><text x="37.1" y="153.8" text-anchor="end">1</text><text x="37.1" y="78.9" text-anchor="end">2</text></g><text x="359.5" y="425" text-anchor="middle" font-size="14.67">RH (scaled)</text><text transform="translate(17.9,210.8) rotate(-90)" text-anchor="middle" font-size="14.67">Energy output (scaled)</text><text x="44" y="20" font-size="17.9">Epistemic uncertainty</text></g>
<g transform="translate(682,0)"><rect x="44" y="31.96" width="630.9" height="357.79" fill="#ebebeb"/><path d="M141.2 31.96V389.75M257.6 31.96V389.75M373.9 31.96V389.75M490.3 31.96V389.75M606.7 31.96V389.75M44 336.9H674.9M44 261.9H674.9M44 187.1H674.9M44 112.1H674.9M44 37.2H674.9" stroke="#fff" stroke-width=".71" fill="none"/><path d="M83 31.96V389.75M199.4 31.96V389.75M315.7 31.96V389.75M432.1 31.96V389.75M548.5 31.96V389.75M664.9 31.96V389.75M44 374.3H674.9M44 299.4H674.9M44 224.5H674.9M44 149.6H674.9M44 74.7H674.9" stroke="#fff" stroke-width="1.42" fill="none"/><path d="M72.1 284.4h0M93.4 279.7h0M96.9 280h0M110.3 280.5h0M110.3 281.4h0M115.7 282.6h0M119.1 279.3h0M121.2 281.4h0M122.9 284.1h0M137 277h0M137.5 280h0M138.5 282.5h0M140 278.5h0M141 276h0M142 280.5h0M143.5 278h0M145 281h0M151.7 281.8h0M151.7 276.3h0M152.4 278.7h0M152.8 276.5h0M154.8 278.8h0M156.2 272.2h0M161 275.7h0M161 277.6h0M163.5 278.5h0M164.5 278.8h0M166.2 278.8h0M166.2 280h0M166.6 279.2h0M167.2 279.3h0M168.6 276.3h0M169.1 277.7h0M170.1 283.4h0M171.4 281.8h0M172.4 279.3h0M176.5 278.9h0M176.5 279.4h0M178.6 276.9h0M178.6 281h0M178.9 276.9h0M178.9 277.4h0M181.7 280.2h0M182.4 273.7h0M182.7 277.9h0M184.4 274.1h0M186.2 275.7h0M186.9 276.6h0M187.9 275.2h0M188.3 276.9h0M190.3 275.1h0M192 276.1h0M192 274.2h0M194.1 275.3h0M194.4 273.6h0M195 277h0M195.5 271.3h0M197.2 276.8h0M197.3 274.9h0M198.9 275h0M200.8 277.3h0M201.7 275.4h0M202 272h0M202.6 276.1h0M203.5 270.2h0M203.5 275.6h0M203.8 272.3h0M205.5 272.7h0M205.9 275.2h0M206.1 274.5h0M206.5 278.4h0M207.2 274.2h0M207.4 278.3h0M207.8 277.3h0M208.1 273.9h0M208.2 273.5h0M208.3 277.2h0M209 274.6h0M209.8 272.9h0M209.8 274.4h0M209.9 272.8h0M210.6 274.2h0M211.1 273.1h0M211.3 272.2h0M211.4 274.3h0M211.5 277.8h0M213 276.5h0M214.1 274.5h0M214.2 274.8h0M215.3 275.4h0M216.1 276.8h0M216.4 275h0M216.4 273.7h0M218.4 273.7h0M219.1 276.3h0M219.6 278.7h0M220.1 273.2h0M220.5 270.8h0M220.6 275.6h0M221 274.1h0M221.7 274.5h0M221.9 276.3h0M222.1 274.3h0M223.3 271.9h0M224 270.7h0M224.6 273.9h0M225.2 271.9h0M225.4 274.4h0M225.5 271.7h0M225.9 273.2h0M226.9 271.2h0M229 272.8h0M229.7 272.6h0M229.8 274.3h0M231.6 275.4h0M232 272.7h0M232.3 271.6h0M232.5 276.3h0M233 273.5h0M234.5 273.8h0M235.3 273.7h0M235.6 275.1h0M236.7 274.2h0M237 273.6h0M237 273.7h0M237.2 271h0M237.5 271.4h0M237.7 272.2h0M237.8 272.5h0M237.9 272.4h0M240.5 272.5h0M240.5 272.1h0M241.3 271.2h0M241.7 269.2h0M241.8 273.3h0M243.1 272.7h0M243.1 270.2h0M243.3 272.5h0M243.7 272.3h0M244.6 271.6h0M245 268.4h0M245.5 269.4h0M247.3 270.2h0M248.3 273.8h0M248.6 269.7h0M248.8 270.5h0M249.3 269.2h0M249.7 270.2h0M249.9 271.5h0M250 267.5h0M250.1 266.2h0M250.4 272h0M250.7 270.9h0M250.9 269.9h0M251.1 272.5h0M251.5 272.4h0M251.8 267.3h0M251.9 269.3h0M252.4 272.6h0M252.5 269.6h0M254.7 270h0M256 271.9h0M257.1 269.8h0M257.4 268.2h0M258.4 269h0M258.5 267.9h0M258.6 271h0M258.7 267.2h0M259 271.7h0M259.2 267.3h0M259.2 270.1h0M259.4 267.6h0M260.2 269.4h0M260.3 271.6h0M260.4 271.8h0M260.7 272h0M261.5 269.7h0M262.3 269.9h0M262.3 270.1h0M262.6 270.7h0M262.9 269h0M263.2 271.4h0M263.3 270.2h0M263.4 271.5h0M263.7 270.4h0M263.7 270.7h0M264.1 268.3h0M265 268.8h0M265.9 267.2h0M267 268.8h0M267.2 268.9h0M267.4 270.6h0M267.5 267.1h0M267.7 274.5h0M268.6 268.9h0M268.8 271.1h0M269.1 270.8h0M269.2 264.9h0M270 268.5h0M270.3 271.4h0M270.5 265h0M270.8 270.2h0M271.1 267.4h0M271.4 268.1h0M271.4 269.2h0M271.4 265.8h0M271.5 269.2h0M271.8 267.8h0M272.1 265.2h0M272.1 270h0M273.2 274.5h0M273.7 269.3h0M273.8 269.6h0M273.8 268.6h0M273.8 267.5h0M274 269.1h0M274 271.1h0M274 269h0M274.4 270.1h0M274.6 268.2h0M274.6 272.7h0M274.7 265.9h0M275.2 269.5h0M275.3 269.4h0M275.3 269h0M275.4 266.7h0M276.7 266.6h0M277.4 268h0M277.5 268.5h0M277.8 266.4h0M278.3 266.6h0M278.5 269.2h0M278.8 270h0M279.3 267.3h0M279.7 267.1h0M280.5 267h0M280.9 272.1h0M281.1 267h0M281.4 268h0M281.7 269.7h0M282.1 271.8h0M282.9 269.9h0M283.6 265.6h0M283.7 267.8h0M284.1 267.2h0M284.5 267.3h0M285.4 265.8h0M285.4 267.1h0M286.1 264.6h0M286.1 268.2h0M286.2 267.8h0M286.9 265.3h0M287 264.9h0M287 266.8h0M287.4 268.7h0M287.6 268.4h0M287.7 267.5h0M288.2 262.2h0M288.5 266.7h0M288.5 266.3h0M288.7 266.9h0M288.9 265.5h0M289.1 266.8h0M289.2 266.4h0M289.2 271.8h0M289.2 268.6h0M289.5 267.1h0M289.5 267.4h0M289.6 267.2h0M289.6 267.7h0M289.9 266.7h0M290.1 267.4h0M290.2 269h0M290.3 268.7h0M291.1 267.8h0M291.1 269.5h0M291.6 267.6h0M291.7 265.7h0M291.9 264.4h0M291.9 266.1h0M292 267.1h0M293.1 267.5h0M293.8 268.4h0M294 263.6h0M294.1 265.3h0M294.6 267.6h0M295.4 268.1h0M295.4 265.4h0M295.7 266.6h0M295.8 268.3h0M296.4 266.4h0M297.7 264.5h0M297.8 262h0M297.8 267.5h0M298.3 266.3h0M298.8 265.3h0M299.3 264.2h0M299.3 262.9h0M299.6 264.7h0M299.9 264.6h0M300.6 266.3h0M300.6 262.6h0M300.9 265.2h0M301.2 264.4h0M301.3 266.2h0M301.5 262.7h0M301.9 264.6h0M302.2 265.9h0M302.6 264h0M302.8 261.5h0M303 263.2h0M303.1 264.5h0M303.3 261.4h0M304.2 261h0M305.8 263.1h0M306 261.1h0M306.1 263.7h0M306.4 260.6h0M306.7 259.4h0M307 261h0M307.1 264.6h0M307.6 260.6h0M307.8 261.9h0M307.8 262.3h0M308.1 260.3h0M308.5 261.9h0M309.1 261.7h0M309.5 262h0M309.6 258.6h0M309.6 258.5h0M309.7 256.8h0M310.2 260.7h0M310.5 260.6h0M310.9 261.9h0M311.5 262.9h0M312 260h0M312.1 259.9h0M313.8 260.4h0M314.1 262h0M314.3 258.2h0M315.3 260.1h0M315.6 257.4h0M316.6 258.1h0M316.7 259.8h0M317 257.2h0M317.1 256.7h0M317.1 259.4h0M317.5 258.2h0M317.9 257.7h0M317.9 256.5h0M317.9 258.8h0M318.5 257.2h0M318.5 259h0M318.6 258.4h0M318.8 260h0M319.2 259.5h0M319.3 256.7h0M319.3 257.2h0M319.6 257.6h0M320.1 256.2h0M320.5 261.4h0M320.5 255.3h0M320.7 257.8h0M320.7 259h0M320.8 254.7h0M321.2 255.4h0M321.3 256h0M321.6 255h0M321.8 254.5h0M321.8 255.6h0M321.9 258.4h0M322 257.4h0M322.5 256.2h0M322.7 256.1h0M322.7 253.4h0M322.9 257h0M322.9 256.6h0M323.1 254.2h0M323.4 256h0M324.6 254.9h0M324.9 254.2h0M325.3 253.3h0M325.5 253.8h0M325.6 253.3h0M325.7 255.4h0M326 255.1h0M326 255h0M326.1 254.2h0M326.2 253.9h0M326.6 257.4h0M327.1 249.5h0M327.1 255.9h0M327.2 254.6h0M327.6 254h0M328 252.9h0M328.2 253.3h0M328.5 251.6h0M328.6 249.3h0M329.3 252.9h0M329.3 250.5h0M329.5 254.3h0M329.7 254.7h0M329.8 247.6h0M330.5 250.2h0M330.9 252.8h0M331.2 252.6h0M331.2 252.4h0M331.6 251.7h0M331.7 253.2h0M331.9 253.3h0M332 254.7h0M332.1 251.9h0M332.1 253.2h0M332.2 249.3h0M332.6 251.5h0M332.8 249.7h0M333.2 253.6h0M333.3 255h0M333.6 252.1h0M333.6 249.2h0M333.9 250.9h0M334 251.1h0M334.7 251.1h0M334.8 252.4h0M334.9 252.1h0M335 246.6h0M335 252.7h0M335.3 247.6h0M335.6 249.5h0M336.1 252.3h0M337.1 249.3h0M337.1 247.6h0M337.4 247.6h0M337.5 249.6h0M337.6 250.9h0M337.6 251.8h0M337.7 249.2h0M337.8 248.7h0M337.8 251.9h0M338.2 248.6h0M338.3 251.5h0M338.4 249.6h0M339.5 249.2h0M339.8 248.4h0M340.3 249.1h0M340.5 247.8h0M340.5 247.5h0M341 248.2h0M341.5 247.2h0M341.7 248.6h0M341.8 248.3h0M342 247.6h0M342.1 247.7h0M342.4 247.6h0M342.6 250.5h0M342.8 247.8h0M342.9 246.9h0M343 247.3h0M343.2 248.7h0M343.7 247.2h0M344.2 247.1h0M344.2 246.9h0M344.6 247.5h0M344.8 247.7h0M345.3 247.6h0M345.4 244.5h0M346.1 245.1h0M346.7 242.6h0M347.2 247.6h0M347.3 248.1h0M347.5 248.3h0M347.6 246.5h0M347.8 248h0M348.3 246h0M348.8 245.7h0M348.9 243.6h0M349.1 244.7h0M349.7 244.8h0M349.8 247.1h0M350.2 248.1h0M350.3 244.9h0M350.4 246.1h0M350.6 246h0M350.7 244.4h0M351.4 242.8h0M351.6 244.2h0M351.6 243.2h0M352.3 244.7h0M352.4 245h0M353.1 244.8h0M353.4 244.7h0M353.5 245.7h0M353.6 243.5h0M353.9 246.2h0M354 242.4h0M354.3 244.9h0M355.2 245.2h0M356.3 243.2h0M356.4 242h0M356.4 244.5h0M356.5 243.4h0M356.5 245.5h0M356.6 243.3h0M356.9 244.3h0M357.3 244.2h0M357.5 245.6h0M357.9 244.6h0M357.9 242.7h0M358.1 244.3h0M358.4 244.8h0M358.4 244.3h0M358.5 244.2h0M358.8 243.7h0M358.8 243.7h0M359.2 242.4h0M359.7 241.6h0M359.8 245.4h0M360.3 242.7h0M360.9 242.3h0M361 241.3h0M361.3 243.7h0M361.3 242.2h0M362.1 247.7h0M362.1 241.8h0M362.2 241.9h0M362.6 244.6h0M363.2 244.9h0M363.5 240.1h0M363.8 243.5h0M363.8 244.4h0M364.3 241.2h0M364.5 244h0M364.6 242.2h0M364.8 241.5h0M364.9 242.4h0M364.9 242.3h0M365 240.9h0M365.3 246.2h0M365.3 242.2h0M365.7 241.7h0M366.3 242.1h0M366.3 242.6h0M366.3 244.7h0M366.8 242.3h0M366.9 243.2h0M367.7 242.7h0M368 242.8h0M368.3 242.2h0M368.3 242.3h0M368.4 244.9h0M368.6 241.4h0M368.6 241.6h0M368.7 241.9h0M369 243.2h0M369.1 242.9h0M369.2 242.6h0M369.2 240.4h0M369.2 242.7h0M369.4 242.1h0M369.4 241.9h0M369.7 242.5h0M370.1 239.4h0M370.1 242.6h0M370.2 242.4h0M370.3 240.1h0M370.5 242h0M370.9 244.4h0M370.9 241.5h0M371.6 241.8h0M371.7 241.7h0M371.7 240.8h0M372.3 240.5h0M372.5 241.2h0M372.6 243.6h0M372.8 242.9h0M372.8 240.6h0M373.2 241.2h0M373.6 241.2h0M373.7 240.4h0M374.1 241.8h0M374.2 239.9h0M374.2 238.9h0M374.3 243h0M374.4 238.5h0M374.4 241.9h0M374.5 238.9h0M374.5 241h0M374.6 240.8h0M374.8 240.4h0M375 237.8h0M375.3 240.7h0M375.4 240.7h0M375.5 239.5h0M375.7 240.6h0M375.9 242h0M376.1 239.5h0M376.1 240.9h0M376.3 238.8h0M376.4 241h0M376.4 241.4h0M376.7 243.9h0M376.7 241.6h0M376.8 240.9h0M377.2 242.2h0M377.3 238.7h0M377.3 241.6h0M377.4 239.3h0M378.1 239h0M378.1 241.4h0M378.2 240.1h0M378.4 241.6h0M379 237.5h0M379 239.9h0M379.2 238.7h0M379.3 239h0M379.5 236.6h0M379.6 240.6h0M380 239.5h0M380 237.8h0M380.4 237.1h0M380.7 237.7h0M380.7 240.9h0M381.1 238.7h0M381.2 238.3h0M381.3 239.4h0M381.8 238.6h0M381.9 238.9h0M381.9 239.6h0M381.9 239h0M382.2 239.7h0M382.3 236.7h0M382.6 238.4h0M382.7 237.8h0M383.3 238.2h0M383.5 237.9h0M383.7 236.9h0M383.9 237.2h0M384.2 238.8h0M384.3 236.7h0M384.3 235.7h0M384.3 238.2h0M384.7 238.5h0M384.8 236.7h0M384.8 237.2h0M385.1 235.7h0M385.2 236.5h0M385.3 238.3h0M385.8 237.5h0M386 236.5h0M386 235.9h0M386.4 233.7h0M386.8 236.1h0M387.2 236.1h0M387.3 236.9h0M387.5 238h0M388 235.4h0M388 236.2h0M388.3 233.1h0M388.5 236.2h0M388.6 235.7h0M388.6 236.3h0M388.7 235.3h0M389.3 234.6h0M390.1 235.5h0M390.2 232.5h0M390.5 234.1h0M390.6 234.7h0M390.6 232.1h0M390.7 231.5h0M391.3 233.4h0M391.4 232.9h0M392 233.2h0M392.1 233.2h0M392.1 231.3h0M392.2 232.8h0M392.3 233.8h0M392.3 231.7h0M392.4 231.8h0M392.5 230.6h0M393.1 232.9h0M393.1 234.5h0M393.2 229.8h0M393.5 232.6h0M393.6 232.8h0M393.6 230.8h0M393.8 230.9h0M393.9 229.9h0M394.3 230.1h0M394.5 231.2h0M394.8 231.8h0M394.8 231h0M395.4 231.7h0M395.8 230.6h0M396 228.6h0M396.5 231.9h0M396.6 231.5h0M396.7 228.8h0M396.8 232.2h0M396.9 230.3h0M397 229.8h0M397.1 232.2h0M397.4 225.9h0M397.6 227h0M397.6 230.2h0M397.8 228.8h0M398.3 227.5h0M398.4 230.8h0M398.5 229.4h0M398.8 226.8h0M398.9 227.6h0M399.8 229.1h0M399.9 230.3h0M399.9 225.1h0M400 228.2h0M400.2 227.2h0M400.4 225.2h0M401.1 227h0M401.6 224.7h0M401.7 226.1h0M401.7 229h0M402 227.3h0M402.1 227.6h0M402.2 227.3h0M402.3 226.9h0M402.5 227.7h0M403.1 224.4h0M403.3 225.5h0M403.6 227.1h0M403.7 224.9h0M404.7 225.2h0M404.8 227.4h0M405 227.8h0M405 224.9h0M405.1 224.6h0M405.6 226.4h0M405.6 226h0M405.7 224.7h0M405.9 226.4h0M405.9 226.4h0M406.2 225.7h0M406.4 229.5h0M406.4 227.4h0M406.5 226.6h0M406.7 226.9h0M407.1 229.4h0M407.3 226.9h0M407.5 222.1h0M407.5 225.8h0M407.7 225.4h0M407.8 224.5h0M408 225.6h0M408.2 225.6h0M408.4 225.1h0M408.9 224.5h0M409.1 226.2h0M409.1 222.9h0M409.4 226.2h0M409.4 225.1h0M409.5 225.4h0M409.8 221.7h0M409.8 227.3h0M410 222.6h0M410.2 223.7h0M410.3 225.8h0M410.7 224h0M410.8 224.3h0M410.9 221.8h0M411.1 224.2h0M411.7 225h0M411.9 225.6h0M411.9 224.3h0M412 224.9h0M412.2 225.2h0M412.2 223.7h0M412.7 223.5h0M412.8 227.2h0M412.8 223.3h0M412.9 226.2h0M413.5 224.5h0M413.6 226.4h0M413.9 223.5h0M414 222.7h0M414.2 224.7h0M414.5 223.9h0M414.5 224.7h0M414.6 223.2h0M415.1 224h0M415.3 223.6h0M415.5 225.1h0M415.7 223.9h0M415.7 222.1h0M416.1 223.4h0M416.1 221.5h0M416.4 222.7h0M416.7 225.7h0M416.8 221.9h0M417 225h0M417 222.7h0M417.1 223.2h0M417.2 225.1h0M417.4 221.8h0M417.6 224.2h0M417.6 223.8h0M417.7 223h0M418 223.7h0M418.4 222.1h0M418.6 223.8h0M418.7 221.8h0M418.8 221.7h0M418.9 225.4h0M418.9 222.5h0M419.1 220.5h0M419.2 224.7h0M419.2 222.3h0M419.8 218.4h0M419.8 223.2h0M420 224.5h0M420 223.7h0M420.1 225.6h0M420.4 223h0M420.4 224h0M420.4 221.8h0M420.4 223.4h0M420.5 225.2h0M420.5 223.8h0M420.7 223.3h0M420.8 220.4h0M421.2 222.5h0M421.4 221.2h0M421.5 224h0M421.8 221.9h0M421.9 223.4h0M421.9 221.5h0M422.1 225.5h0M422.2 221.2h0M422.7 222.9h0M422.8 226.4h0M422.9 223h0M423 221.5h0M423 223.5h0M423.1 224h0M423.4 223.8h0M423.5 219.9h0M423.5 222.9h0M423.8 219.6h0M423.9 225.1h0M424 222.6h0M424.1 221.9h0M424.6 223.3h0M424.8 223h0M425.2 220.7h0M425.6 224.5h0M425.8 221.9h0M425.9 219.7h0M426.5 224h0M426.6 224.2h0M426.6 223.8h0M426.8 222.8h0M427 220.8h0M427 223.3h0M427.1 224.6h0M427.2 223.1h0M427.3 224.2h0M427.3 220.9h0M427.5 223.4h0M427.5 223.3h0M427.6 219.9h0M427.7 219.7h0M427.8 220.9h0M427.9 222h0M427.9 222.5h0M428 221.6h0M428 221.8h0M428 221.8h0M428.8 221.9h0M428.8 222.6h0M429.2 222.5h0M429.2 221.7h0M429.4 222.1h0M429.4 221.1h0M429.6 222.8h0M429.7 221h0M429.7 224h0M430.4 221.6h0M430.6 222h0M430.6 220.5h0M430.6 221.1h0M431.1 221.8h0M431.3 221.5h0M431.5 220.6h0M431.5 219.9h0M431.6 221.5h0M431.7 221.7h0M431.9 219.9h0M432.1 223.1h0M432.2 221h0M432.3 218.6h0M432.6 221.2h0M432.6 218.8h0M432.7 219.6h0M432.7 222.8h0M433.2 222.1h0M433.2 220.4h0M433.3 220.4h0M433.4 220.4h0M433.6 218.8h0M433.8 221.9h0M433.9 220.7h0M434 223.7h0M434.1 219.7h0M434.4 222.5h0M434.5 220.2h0M434.6 222.5h0M434.7 219.7h0M435.1 222.1h0M435.3 220.4h0M435.4 219.9h0M435.6 219.1h0M435.7 221.6h0M435.9 221.5h0M436 223.1h0M436.1 222.1h0M436.1 217.2h0M436.1 220.4h0M436.4 218.1h0M436.6 220.3h0M436.6 221.7h0M436.9 219h0M437 219.2h0M437.1 221h0M437.2 220.4h0M437.4 223h0M437.8 221.2h0M438 221.4h0M438.3 223.1h0M438.3 219.9h0M438.5 220.6h0M438.5 219.2h0M439 220.9h0M439.4 221.9h0M439.4 222.4h0M439.6 220.4h0M440.1 219.4h0M440.1 219.3h0M440.3 218.4h0M440.4 220.5h0M440.7 222.2h0M440.7 217h0M440.8 217.3h0M441.1 222.2h0M441.2 218h0M441.8 220.6h0M441.8 218.4h0M441.9 221.2h0M441.9 221.2h0M442 220.4h0M442.3 221.3h0M442.5 220.1h0M442.5 220.8h0M442.6 222.6h0M442.7 221.6h0M442.9 219.1h0M443 218.9h0M443 219.7h0M443.3 219.6h0M443.3 220.1h0M443.4 219.1h0M443.5 220.8h0M444.3 219.9h0M444.6 218.2h0M444.7 219.8h0M444.9 220.6h0M445.3 217.1h0M445.6 221.8h0M445.7 220.1h0M445.7 220.3h0M445.8 220.5h0M445.8 221.1h0M445.9 220.6h0M445.9 219.9h0M446.1 219.3h0M446.3 217.2h0M446.4 219.8h0M446.5 219.1h0M446.5 219.1h0M446.5 222.9h0M446.5 216.9h0M446.7 219.6h0M446.8 221.2h0M447 220.8h0M447.1 221.2h0M447.1 217.7h0M447.3 218.1h0M447.4 220.3h0M447.5 219h0M447.7 221.8h0M447.9 219.7h0M448.1 219.6h0M448.2 219.9h0M448.3 218.9h0M448.3 219.5h0M448.5 218.3h0M448.6 219.2h0M448.9 218.5h0M449 218.7h0M449.4 217.1h0M449.6 216.9h0M449.7 219.6h0M449.8 219.2h0M449.9 217.5h0M449.9 218.6h0M450.5 217.2h0M450.7 221.5h0M450.9 216.4h0M451 221h0M451 217.4h0M451.5 219h0M451.8 218h0M451.9 217.8h0M451.9 219.6h0M451.9 219.5h0M451.9 217.9h0M451.9 217h0M452.3 221.1h0M452.8 220h0M452.9 218.2h0M452.9 217.6h0M452.9 218.4h0M453.2 218h0M453.2 218.6h0M453.7 216.4h0M453.7 217.8h0M453.8 216.7h0M453.8 219.6h0M454.1 220.2h0M454.4 217.4h0M454.5 218.3h0M454.5 219.5h0M454.5 217.1h0M454.6 216.2h0M454.7 218.9h0M454.7 218.2h0M454.7 217.2h0M454.9 219.5h0M454.9 217.7h0M455.1 214.9h0M455.1 217.8h0M455.3 217.2h0M455.4 219.9h0M455.4 217.2h0M455.6 216.9h0M455.6 217.8h0M455.6 217.6h0M455.7 215.2h0M455.7 217.3h0M456 216.6h0M456.1 219h0M456.2 220.4h0M456.6 215.3h0M456.7 215.5h0M456.8 215.7h0M456.8 215.9h0M457.2 215.8h0M457.3 216.8h0M457.3 218.3h0M457.3 214.9h0M457.3 214.6h0M457.4 214.1h0M457.8 218.1h0M458.1 218.3h0M458.2 214.3h0M458.7 214h0M458.8 216.5h0M459.5 217.6h0M459.5 217.5h0M459.5 216.3h0M459.6 217h0M459.7 216.5h0M459.9 215.2h0M460.3 216.5h0M460.3 215.8h0M460.3 214.3h0M460.5 215.1h0M460.5 213.6h0M460.6 215.7h0M460.9 217.1h0M460.9 213.8h0M461.1 217.1h0M461.4 218.3h0M461.5 215.9h0M461.7 213.7h0M462 213.9h0M462.3 214.5h0M462.4 213.2h0M462.4 213.2h0M462.5 214.6h0M462.5 214.7h0M462.6 215.7h0M462.8 213.2h0M463.4 217.2h0M463.4 216h0M463.9 214.3h0M463.9 213.5h0M463.9 216.8h0M464 213.9h0M464.2 216.8h0M464.3 215.7h0M464.4 212.9h0M464.5 213.5h0M464.5 216.7h0M464.8 215.4h0M464.9 213.8h0M465.5 214h0M466 213.8h0M466.1 212.4h0M466.2 213.2h0M466.2 212.5h0M466.4 212.8h0M466.7 213.9h0M466.7 211.9h0M467 214.1h0M467.2 213.2h0M467.2 214.1h0M467.2 214.3h0M468.4 214.3h0M468.5 213.4h0M468.7 213.5h0M468.7 212.2h0M468.8 213.2h0M469.1 211h0M469.2 211.9h0M469.3 213.3h0M469.3 212.1h0M469.5 212.7h0M469.6 210.6h0M469.7 213.9h0M469.8 211.2h0M469.8 212.5h0M469.9 211.9h0M470 213.2h0M470.1 211.4h0M470.1 210.5h0M470.2 209.2h0M470.2 211.4h0M470.7 210h0M471.1 212.2h0M471.1 213.5h0M471.1 208.4h0M471.4 209.5h0M471.8 211.6h0M471.8 212.9h0M471.9 211.6h0M472 211.6h0M472.3 211.7h0M472.3 211.8h0M472.7 213.1h0M472.9 211.6h0M472.9 209h0M473.1 209.9h0M473.2 210.9h0M473.3 209.4h0M473.4 210.1h0M473.5 209.7h0M473.7 209.4h0M473.8 211.3h0M473.9 209.7h0M473.9 208.7h0M474.6 209h0M474.6 210h0M474.9 212.8h0M475 207.8h0M475.2 211.8h0M475.3 210.4h0M475.5 206.6h0M475.7 210h0M476.1 208.1h0M476.9 207.1h0M477 207.4h0M477.2 211.3h0M477.3 206.6h0M477.4 207.9h0M477.5 210.4h0M477.6 209.6h0M477.7 206.2h0M477.8 208.4h0M477.8 207.9h0M478.4 208h0M478.6 209.3h0M478.9 207.3h0M479.2 207.5h0M479.7 209.8h0M480.8 204.7h0M480.9 206.7h0M481.1 207.8h0M481.5 205.2h0M482.6 205.6h0M482.6 204.6h0M482.6 205.7h0M482.6 205.6h0M482.8 207.5h0M482.9 207.8h0M483 206.4h0M483.3 205.7h0M483.8 206.4h0M483.9 206h0M483.9 204.2h0M484.3 207.4h0M484.4 206.1h0M484.4 206.9h0M484.4 203.9h0M484.5 207h0M484.5 208.7h0M484.6 206.6h0M484.9 203.6h0M485.3 205.5h0M485.4 205.3h0M485.5 205.7h0M486 204.9h0M486.3 205.8h0M486.3 204.4h0M486.4 205.4h0M486.5 204.1h0M486.5 205.2h0M486.6 206.4h0M486.6 204.3h0M486.8 205.8h0M486.8 203.6h0M486.9 204.3h0M487 204.5h0M487 206.6h0M487.1 203.7h0M487.3 206.5h0M487.7 202.5h0M488.2 204.2h0M488.2 205.7h0M488.8 205.2h0M488.8 202.7h0M489.2 202.3h0M489.3 205.2h0M489.7 202.1h0M490 204.6h0M490 203h0M490.1 203.7h0M490.1 207h0M490.2 205.8h0M490.7 204.7h0M490.8 201.5h0M490.8 203.9h0M490.8 203.5h0M490.9 203.3h0M491 205.3h0M491.3 200.8h0M491.5 203.6h0M491.7 203.3h0M491.8 202h0M492 205.5h0M492 201.2h0M492.1 203h0M492.1 203.1h0M492.1 199.9h0M492.3 200.9h0M492.3 201.5h0M492.6 203.9h0M492.7 204.1h0M492.7 203.6h0M492.9 201.8h0M493.2 199.4h0M493.2 202.9h0M493.3 201.8h0M493.3 204.2h0M493.6 204.3h0M493.7 205.6h0M494.1 203.2h0M494.1 203.4h0M494.2 200.7h0M494.3 202.3h0M494.5 200.3h0M494.5 203.4h0M494.5 200.4h0M494.5 200h0M494.9 200.8h0M494.9 201.3h0M495 202.6h0M495.2 201.1h0M495.4 202.2h0M495.6 200.4h0M495.9 203.7h0M496.1 200.8h0M496.3 203.1h0M496.6 204.7h0M496.9 198.1h0M497.1 200.1h0M497.1 201.2h0M497.1 203.2h0M497.3 200.8h0M497.5 202h0M497.5 200.4h0M497.7 202.2h0M497.7 199.7h0M497.8 202.6h0M498 197.1h0M498.4 198.6h0M498.6 203.8h0M498.6 201.5h0M498.7 199.9h0M498.7 204.3h0M498.8 202.7h0M498.9 202.8h0M499 200.5h0M499 202h0M499 201.9h0M499 198.8h0M499.3 201.9h0M499.4 200.8h0M499.4 202.9h0M499.5 202.9h0M499.6 200.1h0M499.8 200.1h0M500.2 201.2h0M500.3 201.8h0M500.3 200.3h0M500.8 200.6h0M501 201.6h0M501.2 201.3h0M501.2 202.4h0M501.5 201h0M501.6 199.3h0M501.8 198h0M501.8 201.7h0M502.4 200h0M502.6 199.9h0M503 199.9h0M503.2 198h0M503.3 199.7h0M503.5 196.5h0M503.6 199.6h0M503.7 198.9h0M504.1 202.7h0M504.2 200.7h0M504.5 199.7h0M504.6 200.2h0M504.8 199.4h0M505.1 198.8h0M505.1 199.6h0M505.3 199.4h0M505.5 203.4h0M505.5 199.9h0M505.7 197h0M505.8 200.9h0M505.9 203.5h0M505.9 198.4h0M506.1 204.7h0M506.2 199.6h0M506.2 201.1h0M506.3 198.8h0M506.4 199.2h0M506.6 197.8h0M506.9 198h0M506.9 196.5h0M507.2 201.1h0M507.3 197.8h0M507.6 199.9h0M507.9 199.8h0M507.9 198.4h0M508.1 199.4h0M508.2 199.1h0M508.3 198.5h0M508.3 199.3h0M508.7 199.2h0M508.9 197.7h0M509.7 197.1h0M509.9 197.7h0M510 199.1h0M510 200.9h0M510.1 201h0M510.3 199.3h0M510.4 200.2h0M510.4 199h0M510.5 200.4h0M510.5 199h0M510.7 199.3h0M510.9 198.3h0M511 198.7h0M511 201.4h0M511.1 197h0M511.2 198.7h0M511.2 197.8h0M511.5 200h0M511.9 201.1h0M512 198.1h0M512 194.5h0M512 199.4h0M512.1 199.4h0M512.7 195.9h0M512.8 198h0M513 198.2h0M513.2 194.9h0M513.4 199.2h0M513.5 198.8h0M514.1 198.4h0M514.1 196.5h0M514.1 197h0M514.4 197.1h0M514.4 198.7h0M514.7 196.5h0M514.8 200.1h0M515 198.4h0M515.5 194.6h0M515.7 200.2h0M515.8 198h0M516 196.9h0M516 197.8h0M516.1 195h0M516.1 197.9h0M516.2 194.1h0M516.3 196.1h0M516.5 199.5h0M516.6 199.4h0M517 197h0M517.1 196.1h0M517.3 198.8h0M517.5 197.3h0M517.5 197.7h0M517.5 198.3h0M517.8 195.8h0M517.8 198.5h0M517.9 194.3h0M518.2 199.4h0M518.4 195h0M518.4 196.3h0M518.4 196.3h0M518.5 198.3h0M518.8 198.3h0M519.2 197.7h0M519.7 197.9h0M519.8 197.7h0M519.8 197h0M519.9 194.2h0M520 191.2h0M520.1 193.7h0M520.2 196.9h0M520.4 196.6h0M520.4 196.8h0M520.4 197.3h0M520.7 196.6h0M520.8 193.1h0M520.8 194.7h0M520.8 194.1h0M520.9 198.7h0M520.9 198.2h0M521.5 192.6h0M521.9 196.4h0M522.1 197.4h0M522.3 199h0M522.6 193.6h0M522.7 196.9h0M522.8 198.3h0M522.9 194.1h0M523 195.5h0M523.1 196.5h0M523.1 195.5h0M523.6 199.6h0M524 197.7h0M524.2 196.7h0M524.3 195h0M525.1 197.6h0M525.2 197.2h0M525.2 195.5h0M525.3 195.6h0M525.3 194.1h0M525.3 196.2h0M525.5 197.5h0M525.6 197.7h0M525.6 197.1h0M525.8 197.4h0M525.9 195.3h0M526.3 195.4h0M526.5 197.9h0M526.5 196.8h0M526.6 194.9h0M526.9 196.8h0M527.1 197.2h0M527.2 197h0M527.4 196.1h0M527.5 195.2h0M527.6 196.5h0M527.6 198.4h0M527.7 196.2h0M527.7 195h0M527.8 196.4h0M527.9 194.1h0M527.9 196.2h0M528 195.4h0M528.1 197.3h0M528.2 196h0M528.2 197.4h0M528.4 197.6h0M528.4 195.5h0M528.4 194.6h0M528.5 196.5h0M528.5 195.7h0M528.5 196h0M528.7 194.9h0M528.8 196.6h0M528.8 195.9h0M528.8 192.6h0M529 195.4h0M529.1 196.2h0M529.5 197.4h0M529.5 194.9h0M529.6 192.1h0M529.8 197.3h0M529.9 194.8h0M530 195.8h0M530 196.3h0M530.4 196.7h0M530.4 195.6h0M530.6 194h0M530.7 197.1h0M531 194.9h0M531.2 194.8h0M531.2 198.5h0M531.2 196.8h0M531.3 194h0M532.3 194.8h0M532.3 195.1h0M532.4 194.4h0M532.4 191.8h0M532.5 196.6h0M532.8 196.5h0M532.8 193.3h0M532.9 194.8h0M532.9 195.7h0M533 196.3h0M533.3 193.8h0M533.3 194.9h0M533.8 194.5h0M534.2 196.3h0M534.3 195.7h0M534.6 193.4h0M534.8 194.3h0M535.1 197.8h0M535.3 193.8h0M535.3 195.4h0M535.4 194.3h0M535.8 197h0M536.3 195h0M536.5 194.5h0M536.5 193.4h0M536.7 194.7h0M536.8 196.3h0M536.9 196h0M537.1 193.1h0M537.3 197.3h0M537.3 194.7h0M537.3 193.5h0M537.4 195.2h0M537.6 194.1h0M537.7 194.1h0M537.7 194.1h0M537.8 194.8h0M538 194.2h0M538.1 192.5h0M538.1 195.7h0M538.2 194.2h0M538.9 196.6h0M539.2 195.6h0M539.3 195.7h0M539.4 195.1h0M539.7 196.7h0M539.7 194.3h0M539.9 193.3h0M540.3 195.2h0M540.4 190.8h0M540.4 194.2h0M540.6 195h0M540.7 194.1h0M540.9 196.5h0M541.2 195.7h0M541.4 193.8h0M541.5 194.1h0M541.6 196.2h0M541.9 193.6h0M542 194h0M542.1 195.7h0M542.1 195.5h0M542.5 197.5h0M542.5 194.2h0M542.7 191.8h0M542.9 195.5h0M542.9 196.3h0M542.9 194.3h0M543.3 196.8h0M543.5 197.1h0M543.5 193.5h0M543.9 193.8h0M544 192.6h0M544.1 195.2h0M544.7 195.4h0M544.8 195.3h0M544.8 192.6h0M544.9 193.3h0M545 192.3h0M545.1 192h0M545.2 192.4h0M545.2 190.1h0M545.3 191.7h0M545.3 194.9h0M545.7 195.2h0M545.7 194.3h0M545.8 193.3h0M545.8 194.3h0M546.1 195.1h0M546.1 193.8h0M546.2 194.3h0M546.3 193.8h0M546.3 193.5h0M546.4 194.3h0M546.6 192.6h0M546.7 195.7h0M546.9 191.9h0M547 194.9h0M547.1 192.2h0M547.1 196.4h0M547.5 195.4h0M548.1 192.9h0M548.1 193.5h0M548.1 192.5h0M548.6 194h0M549.2 194.6h0M549.4 197.7h0M549.5 192h0M549.6 195.8h0M549.9 193.1h0M550 194.4h0M550.1 195.2h0M550.4 194.7h0M550.6 192.1h0M550.6 193.6h0M551.4 193.8h0M551.9 194h0M552.1 195.5h0M552.4 191.6h0M552.5 190.9h0M552.6 192h0M553.1 192.3h0M553.2 192.5h0M553.5 195.2h0M553.9 196.7h0M554 195.6h0M554.1 191.9h0M554.2 193.7h0M554.2 192h0M554.7 192.7h0M555 195.3h0M555.5 192.5h0M555.6 194.7h0M555.7 193.2h0M556 190.6h0M556.4 190.5h0M556.8 193.2h0M557.1 194.1h0M557.3 195.1h0M557.9 192.7h0M558.3 193.3h0M558.6 193.5h0M559 194.7h0M559 193h0M559.2 191.5h0M559.3 194.7h0M559.3 193.7h0M560.1 193.6h0M560.2 191.2h0M560.9 192.9h0M561 190.5h0M561.1 190h0M561.2 192.6h0M562.2 192.2h0M562.4 193.6h0M562.8 194.9h0M562.8 192.7h0M562.9 195.4h0M563.2 191.9h0M563.2 193.8h0M563.3 190.9h0M563.4 192.9h0M563.4 192.2h0M563.6 192.4h0M563.8 191.3h0M563.8 189.9h0M564 190.9h0M564 191.4h0M564.3 192.7h0M564.3 193.1h0M565.3 191.8h0M566.3 191.6h0M566.5 190.4h0M566.9 192.9h0M567.3 191h0M567.5 192.6h0M567.6 189.8h0M567.7 193.9h0M567.8 190.4h0M568.2 193.5h0M568.4 191.1h0M568.6 192.5h0M568.7 191.5h0M569 192.7h0M570 191.5h0M570.4 193.3h0M571.4 192.2h0M571.5 192.2h0M571.7 193.7h0M572.1 190h0M572.1 193h0M572.5 191.1h0M573 188.6h0M573 191.6h0M573.5 190.5h0M574 193.3h0M574.1 189.9h0M574.3 189.9h0M574.3 191h0M574.5 187.6h0M575 191.3h0M575.6 188.8h0M576.1 192.3h0M576.2 192.7h0M576.7 189.9h0M577 187.4h0M577.1 190.1h0M577.5 190h0M578 190.7h0M578.2 189h0M578.3 187.6h0M578.3 189.2h0M578.4 188h0M578.5 192.2h0M578.8 188.2h0M579.1 188.2h0M579.4 189h0M579.7 187h0M579.8 188.3h0M580.2 188.6h0M580.4 188h0M581 188.2h0M581.2 190.5h0M581.2 188.1h0M581.5 186.3h0M581.7 187.7h0M581.9 189.5h0M582 187.3h0M582.1 188.4h0M582.3 188.2h0M582.4 189.1h0M582.5 187.9h0M582.7 187.9h0M582.9 186.7h0M583.7 188.5h0M583.7 186.4h0M583.9 190.6h0M584.3 187.7h0M584.6 187.3h0M585.6 188.7h0M586.1 187.1h0M586.7 187.2h0M586.8 187h0M586.9 185.8h0M587 185.5h0M587.6 185.7h0M588 187.5h0M588 185.7h0M588.4 186h0M588.4 185.9h0M588.8 187.7h0M588.9 189.8h0M589.7 184.8h0M589.8 187.2h0M590.1 186.4h0M590.2 185.7h0M590.3 187h0M590.3 184h0M590.4 187.5h0M590.8 186.4h0M590.9 184.3h0M590.9 188.7h0M591.3 187.3h0M591.5 187.8h0M591.7 183.3h0M592.1 185.3h0M592.3 184.8h0M593.2 186.6h0M593.3 187.8h0M593.4 182.3h0M593.4 185.5h0M593.9 185.2h0M593.9 187.1h0M594.1 185.3h0M594.3 183.2h0M594.4 185h0M594.4 183.6h0M594.6 184h0M594.6 185.4h0M595 184.4h0M595 185.7h0M595.1 182.6h0M595.5 189.1h0M596.1 187.2h0M596.3 186.2h0M596.4 182.8h0M597.2 181.1h0M597.4 183.3h0M597.5 184.4h0M597.8 188.6h0M597.9 187h0M598.3 183.7h0M598.3 186.7h0M598.7 186.7h0M598.7 184.6h0M598.9 186.6h0M599.2 185.1h0M599.5 183.3h0M599.6 182.4h0M600 184.1h0M600 186.1h0M600.3 181.9h0M600.6 181.4h0M600.9 185.2h0M600.9 179.4h0M601 187.3h0M601.4 183.3h0M601.5 185.4h0M602 187.3h0M602.9 181.4h0M603.7 182h0M604.5 187.7h0M604.6 183.2h0M605.1 183.5h0M605.1 184.1h0M605.8 185.5h0M605.8 186h0M607.8 183.6h0M608.2 182.8h0M608.7 183.3h0M608.8 183.9h0M608.8 185.7h0M609.3 183.5h0M609.4 186.6h0M609.4 181.7h0M609.5 184.2h0M609.7 186.4h0M609.8 185.6h0M610 183.8h0M610.9 181.5h0M611 181.8h0M611.4 182.8h0M611.7 183.6h0M612.4 182.5h0M612.6 180.3h0M612.8 181.6h0M613.1 181.3h0M613.3 184.4h0M613.4 180.3h0M613.6 182.1h0M613.9 179.7h0M614 181.7h0M614.1 189.2h0M614.2 182.8h0M614.4 182h0M614.4 181.6h0M614.5 180.4h0M614.5 179.2h0M614.7 182.5h0M614.9 182.1h0M615.5 185.2h0M615.6 179.4h0M615.6 183.2h0M616 184.9h0M616.1 178.8h0M617.4 183.4h0M618.6 176.6h0M619.5 182.8h0M620.1 184.5h0M620.1 181.7h0M621.4 182h0M621.7 180.1h0M622.3 181.9h0M622.6 183.4h0M623.1 180.9h0M623.1 181h0M623.2 182h0M626.7 182.5h0M626.7 177.8h0M627.3 181h0M627.5 179.5h0M627.5 181.8h0M627.6 182.8h0M630.1 181.2h0M630.4 183h0M630.8 178.6h0M630.9 179.7h0M631.1 178.6h0M633.9 180.2h0M634.2 180.2h0M635.3 179.4h0M636 177.3h0M637 179.3h0M637.1 178.6h0M639.1 180.2h0M640.5 178.2h0M641 179.2h0M641 179.1h0M642 174.7h0M642 178.1h0M644.1 175.1h0M644.3 179.9h0M644.4 179.3h0M644.4 177.9h0M644.7 178.8h0M644.7 174.9h0M644.7 173.3h0M644.8 176.7h0M644.8 177.3h0M644.9 174.8h0M645 178h0M645.1 178.4h0" fill="none" stroke="#000" stroke-linecap="round" stroke-width="3.3"/><g fill="none" stroke="#0ff" stroke-linecap="round"><path d="M610.9 152.4h0M427.5 330h0M546.1 209.2h0M419.8 223h0M448.3 194.6h0M330.9 277.9h0M573 231.1h0M406.7 212.1h0M532.8 226.1h0M621.4 137.3h0M192 319.5h0M439.6 258.4h0M203.5 270.3h0M342 92.7h0M271.1 316.3h0M430.6 180.1h0M504.8 330.7h0M117.3 279.3h0M275.2 336.9h0M542.1 301.9h0M452.3 226.9h0M609.4 319.1h0M339.8 195.7h0M376.4 214.4h0M209.9 263.2h0M501.6 190h0M331.2 265.9h0M140.4 302.3h0M394.8 246.8h0M478.6 176.6h0M566.3 188.2h0M586.1 81.2h0M411.9 204.4h0M464.8 147.3h0M497.8 239h0M548.1 227h0M557.3 67.8h0M584.3 233.1h0M590.9 85.9h0M110.1 326.1h0M417.7 263.9h0M527.6 256.5h0M429.2 274.7h0M375.9 200.4h0M486.3 265.2h0M516 243.4h0M359.2 247.5h0M436.4 89h0M590.4 284.5h0M572.1 148.8h0M169.1 170.2h0M433.9 324.5h0M511.5 252.9h0M405 206.8h0M544 283.5h0M269.2 220.7h0M609.7 114.9h0M498 229h0M335 206.2h0M616 132.8h0M499.8 138.7h0M429.2 166.7h0M447.9 127.1h0M386.8 294.3h0M295.4 309.1h0M453.2 274.1h0M391.3 244.9h0M562.4 84h0M543.5 251.3h0M225.4 247.2h0M281.4 292.5h0M262.6 238.6h0M380.4 112h0M369.2 233.6h0M474.6 238.8h0M446.5 263.6h0M462.8 302.6h0M243.1 308.4h0M350.2 295.7h0M386 299.3h0M495.6 321.5h0M434.6 263.3h0M427.2 209.5h0M466 245.1h0M567.8 254.2h0M247.3 348.2h0M258.4 330.1h0M459.9 128.1h0M478.9 256.8h0M421.8 307.5h0M520.8 331.3h0M318.6 243.4h0M446.5 167.1h0M527.6 93.1h0M529.1 167.6h0M529.5 218.4h0M408.9 336.8h0M556 285.8h0M434.4 310.9h0M402 292.6h0M503.7 230.1h0M535.3 166.1h0M563.4 72.9h0M511.2 291.4h0M385.8 134.5h0M533.8 312.9h0M457.2 229.1h0M397.1 310.1h0M370.5 215.4h0M433.2 268.6h0M432.2 308.4h0M456.1 232.5h0M306.1 246.7h0M595 132.1h0M254.7 244.4h0M377.4 295.5h0M337.7 259.4h0M571.5 111.8h0M327.2 300.9h0M415.5 124.1h0M301.5 327.5h0M587.6 301.6h0M310.2 344.1h0M622.3 122.5h0M326.2 302.2h0M451 157.6h0M644.8 238h0M573.5 192.7h0M505.7 158.2h0M222.1 285.7h0M549.6 329.2h0M469.8 284.8h0M571.4 155h0M427.9 282.8h0M498.8 306.5h0M356.5 265.1h0M366.3 207.7h0M291.9 265.9h0M533.3 171.1h0M561 104.9h0M534.6 208.6h0M206.5 280.9h0M380 228.4h0M419.1 286.5h0M343.7 265.7h0M471.1 279.2h0M430.4 245.9h0M600 112.9h0M435.3 189.5h0M547.1 297.8h0M344.2 325.3h0M176.5 247.2h0M195.5 312.6h0M635.3 213.7h0M376.1 167.6h0M139 305.8h0M586.8 202.4h0M265.9 242.9h0M270.8 315.1h0M297.7 224.9h0M508.3 292.7h0M406.4 297h0M321.8 208.1h0M376.1 342.5h0M466.7 163h0M501 301.6h0M492.7 321.3h0M511.1 288.8h0M427.8 266.2h0M272.1 246h0M552.4 136.4h0M271.4 263.8h0M396.7 110.7h0M553.9 224.9h0M542.5 236.3h0M454.1 93.9h0M575 198.4h0M187.9 313.3h0M445.7 284.8h0M464 333.8h0M381.9 317.3h0M259 254.4h0M518.4 300.7h0M393.9 185.7h0M136.9 330.9h0M248.8 301.1h0M519.8 100.2h0M261.5 333.7h0M363.5 157.2h0M519.8 317.2h0M540.4 91.9h0M511.9 145.4h0M537.3 194.9h0M292 131h0M436.1 312h0M469.3 266.2h0M280.5 230.5h0M449.4 68.7h0M558.6 128.9h0M402.2 324.6h0M423.1 164.7h0M469.6 158.3h0M420.8 214.4h0M281.7 309.9h0M353.5 124.4h0M396.6 201.8h0M494.3 94.3h0M554.1 158.3h0M482.6 294.9h0M463.9 314.7h0M515.7 285.2h0M510.5 184.5h0M455.6 237.4h0M579.8 150.4h0M207.2 277.3h0M614.9 106.4h0M332.1 284.8h0M542.9 162.1h0M528.4 187.4h0M476.9 79.5h0M393.2 233.8h0M237 327.3h0M414.6 297.2h0M582 168h0M393.8 215.4h0M630.8 181.7h0M412.7 72.2h0M405.6 187.2h0M525.2 139.3h0M491.3 261h0M166.6 152h0M449.8 135.9h0M471.1 144.7h0M602 275.9h0M578.3 267.8h0M604.5 274.6h0M471.8 165h0M516.2 227.6h0M422.1 267.4h0M486.5 341.4h0M556.8 95.3h0M337.8 221.3h0M221.9 327.9h0M574 189.9h0M398.9 215.1h0M457.8 264.8h0M472.3 170.2h0M490.9 141.5h0M622.6 286.8h0M590.8 287.2h0M388.6 234h0M540.3 157.2h0M602.9 249.1h0M463.4 272.7h0M428.8 255.7h0M201.7 307.3h0M443.3 283.4h0M512 324.2h0M414 47h0M453.2 115.2h0M456.8 162.1h0M388.3 261.6h0M503 89.3h0M529.5 258.6h0M326 260.7h0M373.6 222.9h0M440.1 129.3h0M582.9 87.7h0M552.6 212.3h0M237.9 166.8h0M458.2 120h0M372.5 266.5h0M420 105.2h0M273.8 325.1h0M545 313.1h0M438 210.7h0M473.3 122.8h0M427 182.5h0M418.7 259.1h0M423.5 235.3h0M329.5 270.1h0M510.3 226.6h0M525.8 217.1h0M568.4 305.2h0M219.1 325h0M384.3 126.2h0M409.4 213.2h0M585.6 98h0M268.8 324.7h0M376.3 285.7h0M597.2 258.3h0M275.3 231h0M611.7 161.9h0M427.6 286.9h0M424.8 113.4h0M167.2 198h0M262.3 277h0M433.4 266.3h0M283.6 237.2h0M288.9 238.9h0M499.4 295.1h0M439.4 74.4h0M550.4 164.3h0M539.7 252.6h0M429.7 129.8h0M498.6 281.7h0M412.8 92.5h0M456.6 257.8h0M454.9 94.3h0M609.5 312h0M416.4 321.4h0M454.4 168.6h0M380.7 302.7h0M548.1 159.3h0M342.9 315.3h0M614.4 145.9h0M495.9 283.9h0M536.5 192.4h0M524.2 165.8h0M486.3 57.6h0M568.6 106.2h0M237.7 281.2h0M484.4 80.6h0M297.8 295.7h0M376.7 276.5h0M285.4 225.3h0M644.1 265h0M614.5 118.9h0M409.8 337h0M478.4 196.5h0M467 328.2h0M206.1 272.1h0M402.5 305.2h0M252.4 209.5h0M267.2 289.5h0M484.5 126.7h0M325.6 224.4h0M526.5 219.3h0M443.3 242.9h0M477.7 147.9h0M384.8 180.6h0M612.4 185.6h0M582.3 116h0M528.8 81.8h0M559.2 76.2h0M308.1 318.8h0M588.9 74.7h0M310.5 320.6h0M390.6 267.1h0M631.1 136.6h0M454.5 233.8h0M442.7 63.3h0M475.3 335.4h0M503.2 248h0M508.2 149.3h0M256 301.1h0M490.8 258.9h0M492.1 278.7h0M545.2 85.9h0M184.4 305.1h0M365.3 115.4h0M442.9 297.1h0M531.2 265.1h0M224.6 299.5h0M294.6 331.2h0M593.3 141.4h0M462.6 175.6h0M538.2 291.3h0M307.1 175.4h0M494.1 276.5h0M483 150.4h0M330.5 173.8h0M267.4 334h0M412.2 82.8h0M383.7 304.5h0M432.6 107.8h0M382.7 253.8h0M397.6 266.7h0M543.3 118.4h0M517.5 276.6h0M580.4 203.9h0M299.3 307.2h0M519.9 228.6h0M455.7 311.1h0M492.6 130.1h0M615.5 166.1h0M522.3 239.7h0M612.6 203.5h0M494.5 249.5h0M525.6 110.8h0M581.2 185.4h0M423.5 226h0M337.8 244h0M260.4 208.7h0M525.6 276.6h0M182.4 316.4h0M627.3 121.1h0M519.7 286.2h0M192 277h0M569 297.7h0M431.3 103h0M493.7 260h0M248.3 337.6h0M480.9 234.1h0M207.4 303.7h0M620.1 167.2h0M578.3 317h0M482.6 131.9h0M409.1 267.2h0M214.2 187h0M501.2 77.2h0M388.6 253.5h0M594.6 317.6h0M555.6 164.3h0M448.2 302.4h0M462 307.9h0M262.3 242.2h0M420.4 305.3h0M445.8 160.2h0M499.3 108.6h0M510.4 296.8h0M407.5 156h0M605.8 284.7h0M576.1 297h0M406.4 186.5h0M576.7 74.6h0M516.1 160.4h0M644.7 224h0M473.7 236.3h0M435.7 303.7h0M595.1 85.9h0M470.1 161.9h0M443 276h0M305.8 285.7h0M446.5 310.7h0M461.5 268.5h0M595 275.6h0M412 286.1h0M522.1 280.8h0M542.9 328.1h0M219.6 309.9h0M445.3 289.4h0M273.7 267.2h0M590.3 324.7h0M334.9 284.6h0M237.8 309.9h0M468.7 286.6h0M313.8 274.7h0M515.5 261.9h0M456.8 290.7h0M186.9 328.1h0M544.9 178.9h0M500.3 106.7h0M409.8 287.7h0M209.8 241.6h0M420.7 289.7h0M240.5 242.7h0M451.5 183.6h0M415.1 146.4h0M151.7 309.9h0M369.4 107.6h0M494.5 108.5h0M432.7 259.1h0M563.8 302.6h0M460.3 250.4h0M554.2 272h0M563.2 132.7h0M428 227.5h0M488.8 243.5h0M596.3 73.3h0M384.3 301.6h0M297.8 316.7h0M358.1 257.3h0M477.8 288.7h0M489.2 245.2h0M436 255.5h0M338.2 125.1h0M572.5 147.2h0M377.3 184.9h0M537.7 126.7h0M436.6 305.6h0M364.9 158.7h0" stroke-width="3.3" stroke-opacity=".5"/><path d="M610.9 152.4h0M427.5 330h0M546.1 209.2h0M419.8 223h0M448.3 194.6h0M330.9 277.9h0M573 231.1h0M406.7 212.1h0M532.8 226.1h0M621.4 137.3h0M192 319.5h0M439.6 258.4h0M203.5 270.3h0M342 92.7h0M271.1 316.3h0M430.6 180.1h0M504.8 330.7h0M117.3 279.3h0M275.2 336.9h0M542.1 301.9h0M452.3 226.9h0M609.4 319.1h0M339.8 195.7h0M376.4 214.4h0M209.9 263.2h0M501.6 190h0M331.2 265.9h0M140.4 302.3h0M394.8 246.8h0M478.6 176.6h0M566.3 188.2h0M586.1 81.2h0M411.9 204.4h0M464.8 147.3h0M497.8 239h0M548.1 227h0M557.3 67.8h0M584.3 233.1h0M590.9 85.9h0M110.1 326.1h0M417.7 263.9h0M527.6 256.5h0M429.2 274.7h0M375.9 200.4h0M486.3 265.2h0M516 243.4h0M359.2 247.5h0M436.4 89h0M590.4 284.5h0M572.1 148.8h0M169.1 170.2h0M433.9 324.5h0M511.5 252.9h0M405 206.8h0M544 283.5h0M269.2 220.7h0M609.7 114.9h0M498 229h0M335 206.2h0M616 132.8h0M499.8 138.7h0M429.2 166.7h0M447.9 127.1h0M386.8 294.3h0M295.4 309.1h0M453.2 274.1h0M391.3 244.9h0M562.4 84h0M543.5 251.3h0M225.4 247.2h0M281.4 292.5h0M262.6 238.6h0M380.4 112h0M369.2 233.6h0M474.6 238.8h0M446.5 263.6h0M462.8 302.6h0M243.1 308.4h0M350.2 295.7h0M386 299.3h0M495.6 321.5h0M434.6 263.3h0M427.2 209.5h0M466 245.1h0M567.8 254.2h0M247.3 348.2h0M258.4 330.1h0M459.9 128.1h0M478.9 256.8h0M421.8 307.5h0M520.8 331.3h0M318.6 243.4h0M446.5 167.1h0M527.6 93.1h0M529.1 167.6h0M529.5 218.4h0M408.9 336.8h0M556 285.8h0M434.4 310.9h0M402 292.6h0M503.7 230.1h0M535.3 166.1h0M563.4 72.9h0M511.2 291.4h0M385.8 134.5h0M533.8 312.9h0M457.2 229.1h0M397.1 310.1h0M370.5 215.4h0M433.2 268.6h0M432.2 308.4h0M456.1 232.5h0M306.1 246.7h0M595 132.1h0M254.7 244.4h0M377.4 295.5h0M337.7 259.4h0M571.5 111.8h0M327.2 300.9h0M415.5 124.1h0M301.5 327.5h0M587.6 301.6h0M310.2 344.1h0M622.3 122.5h0M326.2 302.2h0M451 157.6h0M644.8 238h0M573.5 192.7h0M505.7 158.2h0M222.1 285.7h0M549.6 329.2h0M469.8 284.8h0M571.4 155h0M427.9 282.8h0M498.8 306.5h0M356.5 265.1h0M366.3 207.7h0M291.9 265.9h0M533.3 171.1h0M561 104.9h0M534.6 208.6h0M206.5 280.9h0M380 228.4h0M419.1 286.5h0M343.7 265.7h0M471.1 279.2h0M430.4 245.9h0M600 112.9h0M435.3 189.5h0M547.1 297.8h0M344.2 325.3h0M176.5 247.2h0M195.5 312.6h0M635.3 213.7h0M376.1 167.6h0M139 305.8h0M586.8 202.4h0M265.9 242.9h0M270.8 315.1h0M297.7 224.9h0M508.3 292.7h0M406.4 297h0M321.8 208.1h0M376.1 342.5h0M466.7 163h0M501 301.6h0M492.7 321.3h0M511.1 288.8h0M427.8 266.2h0M272.1 246h0M552.4 136.4h0M271.4 263.8h0M396.7 110.7h0M553.9 224.9h0M542.5 236.3h0M454.1 93.9h0M575 198.4h0M187.9 313.3h0M445.7 284.8h0M464 333.8h0M381.9 317.3h0M259 254.4h0M518.4 300.7h0M393.9 185.7h0M136.9 330.9h0M248.8 301.1h0M519.8 100.2h0M261.5 333.7h0M363.5 157.2h0M519.8 317.2h0M540.4 91.9h0M511.9 145.4h0M537.3 194.9h0M292 131h0M436.1 312h0M469.3 266.2h0M280.5 230.5h0M449.4 68.7h0M558.6 128.9h0M402.2 324.6h0M423.1 164.7h0M469.6 158.3h0M420.8 214.4h0M281.7 309.9h0M353.5 124.4h0M396.6 201.8h0M494.3 94.3h0M554.1 158.3h0M482.6 294.9h0M463.9 314.7h0M515.7 285.2h0M510.5 184.5h0M455.6 237.4h0M579.8 150.4h0M207.2 277.3h0M614.9 106.4h0M332.1 284.8h0M542.9 162.1h0M528.4 187.4h0M476.9 79.5h0M393.2 233.8h0M237 327.3h0M414.6 297.2h0M582 168h0M393.8 215.4h0M630.8 181.7h0M412.7 72.2h0M405.6 187.2h0M525.2 139.3h0M491.3 261h0M166.6 152h0M449.8 135.9h0M471.1 144.7h0M602 275.9h0M578.3 267.8h0M604.5 274.6h0M471.8 165h0M516.2 227.6h0M422.1 267.4h0M486.5 341.4h0M556.8 95.3h0M337.8 221.3h0M221.9 327.9h0M574 189.9h0M398.9 215.1h0M457.8 264.8h0M472.3 170.2h0M490.9 141.5h0M622.6 286.8h0M590.8 287.2h0M388.6 234h0M540.3 157.2h0M602.9 249.1h0M463.4 272.7h0M428.8 255.7h0M201.7 307.3h0M443.3 283.4h0M512 324.2h0M414 47h0M453.2 115.2h0M456.8 162.1h0M388.3 261.6h0M503 89.3h0M529.5 258.6h0M326 260.7h0M373.6 222.9h0M440.1 129.3h0M582.9 87.7h0M552.6 212.3h0M237.9 166.8h0M458.2 120h0M372.5 266.5h0M420 105.2h0M273.8 325.1h0M545 313.1h0M438 210.7h0M473.3 122.8h0M427 182.5h0M418.7 259.1h0M423.5 235.3h0M329.5 270.1h0M510.3 226.6h0M525.8 217.1h0M568.4 305.2h0M219.1 325h0M384.3 126.2h0M409.4 213.2h0M585.6 98h0M268.8 324.7h0M376.3 285.7h0M597.2 258.3h0M275.3 231h0M611.7 161.9h0M427.6 286.9h0M424.8 113.4h0M167.2 198h0M262.3 277h0M433.4 266.3h0M283.6 237.2h0M288.9 238.9h0M499.4 295.1h0M439.4 74.4h0M550.4 164.3h0M539.7 252.6h0M429.7 129.8h0M498.6 281.7h0M412.8 92.5h0M456.6 257.8h0M454.9 94.3h0M609.5 312h0M416.4 321.4h0M454.4 168.6h0M380.7 302.7h0M548.1 159.3h0M342.9 315.3h0M614.4 145.9h0M495.9 283.9h0M536.5 192.4h0M524.2 165.8h0M486.3 57.6h0M568.6 106.2h0M237.7 281.2h0M484.4 80.6h0M297.8 295.7h0M376.7 276.5h0M285.4 225.3h0M644.1 265h0M614.5 118.9h0M409.8 337h0M478.4 196.5h0M467 328.2h0M206.1 272.1h0M402.5 305.2h0M252.4 209.5h0M267.2 289.5h0M484.5 126.7h0M325.6 224.4h0M526.5 219.3h0M443.3 242.9h0M477.7 147.9h0M384.8 180.6h0M612.4 185.6h0M582.3 116h0M528.8 81.8h0M559.2 76.2h0M308.1 318.8h0M588.9 74.7h0M310.5 320.6h0M390.6 267.1h0M631.1 136.6h0M454.5 233.8h0M442.7 63.3h0M475.3 335.4h0M503.2 248h0M508.2 149.3h0M256 301.1h0M490.8 258.9h0M492.1 278.7h0M545.2 85.9h0M184.4 305.1h0M365.3 115.4h0M442.9 297.1h0M531.2 265.1h0M224.6 299.5h0M294.6 331.2h0M593.3 141.4h0M462.6 175.6h0M538.2 291.3h0M307.1 175.4h0M494.1 276.5h0M483 150.4h0M330.5 173.8h0M267.4 334h0M412.2 82.8h0M383.7 304.5h0M432.6 107.8h0M382.7 253.8h0M397.6 266.7h0M543.3 118.4h0M517.5 276.6h0M580.4 203.9h0M299.3 307.2h0M519.9 228.6h0M455.7 311.1h0M492.6 130.1h0M615.5 166.1h0M522.3 239.7h0M612.6 203.5h0M494.5 249.5h0M525.6 110.8h0M581.2 185.4h0M423.5 226h0M337.8 244h0M260.4 208.7h0M525.6 276.6h0M182.4 316.4h0M627.3 121.1h0M519.7 286.2h0M192 277h0M569 297.7h0M431.3 103h0M493.7 260h0M248.3 337.6h0M480.9 234.1h0M207.4 303.7h0M620.1 167.2h0M578.3 317h0M482.6 131.9h0M409.1 267.2h0M214.2 187h0M501.2 77.2h0M388.6 253.5h0M594.6 317.6h0M555.6 164.3h0M448.2 302.4h0M462 307.9h0M262.3 242.2h0M420.4 305.3h0M445.8 160.2h0M499.3 108.6h0M510.4 296.8h0M407.5 156h0M605.8 284.7h0M576.1 297h0M406.4 186.5h0M576.7 74.6h0M516.1 160.4h0M644.7 224h0M473.7 236.3h0M435.7 303.7h0M595.1 85.9h0M470.1 161.9h0M443 276h0M305.8 285.7h0M446.5 310.7h0M461.5 268.5h0M595 275.6h0M412 286.1h0M522.1 280.8h0M542.9 328.1h0M219.6 309.9h0M445.3 289.4h0M273.7 267.2h0M590.3 324.7h0M334.9 284.6h0M237.8 309.9h0M468.7 286.6h0M313.8 274.7h0M515.5 261.9h0M456.8 290.7h0M186.9 328.1h0M544.9 178.9h0M500.3 106.7h0M409.8 287.7h0M209.8 241.6h0M420.7 289.7h0M240.5 242.7h0M451.5 183.6h0M415.1 146.4h0M151.7 309.9h0M369.4 107.6h0M494.5 108.5h0M432.7 259.1h0M563.8 302.6h0M460.3 250.4h0M554.2 272h0M563.2 132.7h0M428 227.5h0M488.8 243.5h0M596.3 73.3h0M384.3 301.6h0M297.8 316.7h0M358.1 257.3h0M477.8 288.7h0M489.2 245.2h0M436 255.5h0M338.2 125.1h0M572.5 147.2h0M377.3 184.9h0M537.7 126.7h0M436.6 305.6h0M364.9 158.7h0" stroke-width="2.3" stroke-opacity=".32"/><path d="M399.8 268.8h0M620.1 115.4h0M405.7 322.1h0M546.9 324.2h0M401.7 112.7h0M560.9 88.4h0M472.9 197.9h0M527.2 278.4h0M497.3 336.9h0M466.7 175.8h0M440.3 133.9h0M506.4 165.7h0M302.6 152.7h0M528.4 113h0M321.3 342.7h0M345.3 253.2h0M476.1 218h0M96.7 200.1h0M277.4 374.1h0M362.1 144.8h0M241.3 240.1h0M486.8 85.7h0M452.9 291.1h0M545.3 115.6h0M352.4 279.4h0M516.6 287.1h0M328 241.4h0M630.4 244.5h0M526.5 244.1h0M428 264.6h0M369 313h0M470.1 128.8h0M503.3 162.4h0M517.5 73h0M468.5 332.3h0M461.7 242.7h0M449.9 224.3h0M166.2 204.9h0M520.4 294.7h0M473.5 200.6h0M644.3 229h0M614 130.5h0M318.5 309h0M432.7 194.9h0M460.6 236.2h0M273.2 311.3h0M436.9 329.8h0M534.2 323.6h0M293.1 218.8h0M399.9 253h0M424.6 179.6h0M435.6 122.4h0M590.1 313.8h0M450.9 312.3h0M462.5 168.9h0M552.1 287.3h0M459.5 242.8h0M376.8 269.1h0M275.3 288.1h0M462.4 145.8h0M334.8 275.7h0M540.4 140.4h0M432.3 279.4h0M431.7 220h0M351.6 273.7h0M271.4 306.1h0M494.1 319.6h0M356.9 292.1h0M396.5 328.7h0M449.9 310.7h0M397.8 160.4h0M501.2 95.2h0M420.4 214.2h0M280.9 67.3h0M374.1 268.9h0M417 230.4h0M565.3 131h0M464.5 283.2h0M431.1 143.6h0M517.1 124h0M600.9 239.7h0M539.9 72.5h0M522.6 163.8h0M490 220.2h0M333.6 141.9h0M548.6 136.7h0M393.6 312.5h0M142.1 317.8h0M152.4 318.2h0M613.9 290.8h0M293.8 333.4h0M644.8 250h0M511.2 217.4h0M627.5 254.7h0M464.5 197.9h0M273.8 236.3h0M570 306.8h0M523.1 295.5h0M398.5 319.5h0M521.5 96.3h0M544.7 224h0M388.5 316.9h0M538.1 103.4h0M423.4 158h0M515.8 122.9h0M178.9 330.9h0M542.9 220.2h0M611.4 120.3h0M393.6 280.6h0M371.7 203.3h0M454.7 309.4h0M394.8 308.4h0M418.9 342.1h0M578.2 251.7h0M519.2 284.6h0M626.7 177h0M597.5 318.6h0M307.8 288.7h0M490.1 206.7h0M360.9 203.4h0M497.1 212h0M400.4 313.2h0M528.7 229.4h0M445.7 239.8h0M506.2 164.9h0M518.8 179.4h0M250.4 316.6h0M497.1 282h0M611 129.9h0M488.8 177.1h0M282.9 280.3h0M182.7 302.3h0M291.7 327.7h0M258.6 345.2h0M249.7 211.6h0M373.7 235.5h0M235.3 197.2h0M621.7 140.8h0M626.7 198.8h0M591.3 106.2h0M473.9 134.2h0M454.6 179.5h0M526.6 92.8h0M509.9 203.3h0M567.5 305.4h0M332.6 290.2h0M498.6 233.1h0M455.4 223.1h0M529.8 242.3h0M332.1 160.3h0M486.8 292h0M303 160.6h0M309.5 317.5h0M574.1 92h0M528.8 73.1h0M560.2 90h0M594.4 228.6h0M458.8 196.9h0M447.5 158.3h0M431.5 312.7h0M251.8 260.5h0M288.5 350.4h0M211.1 256.8h0M507.9 292.8h0M270.3 340.4h0M460.9 316.9h0M407.7 286h0M316.6 254.8h0M270.5 269.4h0M592.1 185.2h0M220.5 236.8h0M542.7 283h0M410 290.4h0M456.7 230.4h0M453.7 298.7h0M374.6 184.1h0M578 159.3h0M472.7 280.2h0M419.8 234.1h0M470.2 141.1h0M260.3 199h0M363.2 342.1h0M320.1 126.4h0M405.9 158.4h0M371.7 110.7h0M563.6 137.2h0M260.2 241.9h0M301.3 297.9h0M443.5 184.1h0M382.3 137.7h0M314.1 238h0M588 84.2h0M630.1 284.1h0M281.1 326h0M573 59.5h0M483.9 227.7h0M459.5 153.7h0M442.5 223.8h0M418.4 235.3h0M328.6 179.2h0M454.9 288.2h0M350.6 332.6h0M302.8 332h0M467.2 278.7h0M390.5 155.6h0M229.8 244.4h0M359.7 345.3h0M492.1 169.2h0M644.9 214h0M394.5 308.2h0M605.1 302h0M274 221.1h0M507.3 267.1h0M356.5 262.2h0M404.7 139.7h0M517.3 89h0M274.7 302h0M545.1 301.1h0M273.8 274.2h0M503.5 117.8h0M430.6 206.4h0M323.1 265.8h0M333.9 219.2h0M426.8 304.7h0M392.3 285.7h0M271.8 323.5h0M464.4 267.7h0M344.6 199.9h0M642 300h0M306.4 265.3h0M392.5 242.3h0M562.2 119.4h0M342.6 267.8h0M441.1 299h0M301.9 261.2h0M317.9 245.1h0M274 93.8h0M351.4 210.4h0M522.8 200.8h0M402.1 218.1h0M552.5 79h0M608.7 142h0M536.9 299.7h0M517.8 61.8h0M543.9 252.9h0M437.8 171.9h0M497.5 228.1h0M436.1 124.3h0M495.4 256.3h0M375 139.1h0M531.2 252.8h0M455.1 246.2h0M384.3 217.1h0M287.7 316.9h0M319.3 343.8h0M442.6 332.2h0M539.4 123.9h0M408.4 254.2h0M340.5 280.2h0M453.7 331.9h0M607.8 256.7h0M482.6 328.4h0M368.3 174.3h0M203.5 261.6h0M644.4 220h0M290.3 348.6h0M556.4 108.2h0M433.6 248.1h0M545.3 104.3h0M510.1 136.8h0M598.3 260.4h0M427.9 124.6h0M383.9 175.1h0M506.9 257.9h0M473.9 307.5h0M637.1 281.9h0M309.6 313.3h0M561.2 224.6h0M610 178.2h0M396.8 273h0M424.1 156.7h0M329.3 190.7h0M164.5 329.9h0M563.3 131h0M375.5 251.7h0M547 94.8h0M479.7 234.4h0M411.9 167.2h0M484.5 167.5h0M390.7 154.8h0M401.1 288.3h0M537.6 284.7h0M332.8 114.4h0M550.6 89.1h0M553.1 192.6h0M614.4 205.3h0M460.9 154.2h0M486.6 223.3h0M271.4 337.4h0M287 308.1h0M315.6 228.8h0M372.8 297.3h0M71.7 340h0M523 295.3h0M559 196.5h0M487 95.4h0M597.4 288.2h0M456 150h0M414.5 340.9h0M496.1 319.2h0M541.2 187h0M434.7 241.9h0M608.8 215.1h0M274.6 339.1h0M451.9 296.3h0M589.8 147.8h0M587 137.2h0M295.8 341h0M325.5 205.8h0M601.4 146.7h0M336.1 296.3h0M525.1 174.1h0M619.5 125.6h0M406.5 265.8h0M441.8 302.8h0M250.7 307.3h0M600.6 165.5h0M570.4 180.5h0M566.9 99.9h0M549.4 156.1h0M525.3 200.9h0M499 206.7h0M581 265.2h0M491.8 285h0M517.5 173.1h0M505.5 164.4h0M384.8 263.1h0M400.2 77.8h0M340.5 212.1h0M601 221.2h0M338.4 179.8h0M378.1 295.3h0M422.7 154.3h0M354 271.5h0M542 63.7h0M605.8 83.1h0M417.6 304.5h0M538 76.4h0M492.3 86.8h0M298.3 280h0M422.8 135.6h0M497.5 286.2h0M529.9 189.2h0M508.7 211.8h0M525.2 101.7h0M557.1 130h0M499.5 291.6h0M447.1 298.4h0M518.4 318h0M172.4 260h0M392.4 123.9h0M421.2 202h0M423 220.1h0M420.1 306.8h0M593.9 286.9h0M493.6 193.9h0M375.3 81h0M505.3 110.8h0M382.6 160.6h0M410.8 331.6h0M571.7 181.4h0M268.6 271.8h0M564 124.3h0M209.8 255.7h0M118.7 319.9h0M194.1 259.3h0M379.3 133.2h0M614.1 257.8h0M368 153.9h0M609.4 193.3h0M645.1 257h0M623.2 283.2h0M427.7 125.1h0M530.4 230.6h0M205.5 166.1h0M220.1 198.6h0M599.6 266.5h0M245 327.1h0M560.1 216h0M417.4 290.4h0M470.7 189.8h0M286.1 263h0M369.1 304.1h0M410.9 323.1h0M537.8 71.3h0M600.9 202.2h0M332 230.8h0M499.6 142.7h0M455.6 135.6h0M207.8 297.7h0M506.9 298.1h0M609.3 116.2h0M405 149.3h0M615.6 318.9h0M350.3 323.8h0M431.6 321.7h0M451.8 102h0M371.6 148.4h0M437 136.1h0M435.4 208.1h0M597.8 247.4h0M289.6 299h0M599.5 204h0M434.1 148.5h0M463.4 233.7h0M494.5 280.3h0M274.4 299.9h0M512.8 281.6h0M375.7 341.6h0M533 101.4h0M473.8 225.3h0M337.6 182.8h0M379 289.6h0M289.1 306.6h0M263.2 264.1h0M512.7 308.4h0M326.1 322.1h0M416.7 314.1h0M290.1 311.2h0M445.9 159.4h0M249.3 282.7h0M579.7 110.7h0M417 332.8h0M535.3 324.9h0M639.1 286.9h0M495 128.6h0M408.2 261h0M498.9 153.9h0M520.8 163.3h0M467.2 292h0M263.3 271.6h0M392.1 72.3h0M627.5 195.5h0M333.3 284.2h0M586.7 324.9h0M342.8 225.7h0M445.6 333h0M528 63.4h0M263.7 286.9h0M546.6 265.9h0M374.2 299.3h0M381.8 209.9h0M510.4 126.9h0M362.6 339.7h0M548.1 222.2h0M479.2 268.4h0M328.2 311.3h0M446.8 220.5h0M379.6 177h0M437.1 232.9h0M303.1 304.6h0M283.7 314.5h0M226.9 166.8h0M545.8 241.9h0M541.9 97.8h0M369.4 170.4h0M366.8 293.8h0M493.2 181h0M163.5 346.3h0M533.3 183.7h0M138.7 289.6h0M510 161.8h0M536.8 228.1h0M287.4 284.5h0M525.5 136.3h0M349.7 222.1h0M406.2 168.6h0M637 236h0M439.4 245.3h0M290.2 320.1h0M370.3 138.7h0M370.2 239.5h0" stroke-width="3.3" stroke-opacity=".5"/><path d="M399.8 268.8h0M620.1 115.4h0M405.7 322.1h0M546.9 324.2h0M401.7 112.7h0M560.9 88.4h0M472.9 197.9h0M527.2 278.4h0M497.3 336.9h0M466.7 175.8h0M440.3 133.9h0M506.4 165.7h0M302.6 152.7h0M528.4 113h0M321.3 342.7h0M345.3 253.2h0M476.1 218h0M96.7 200.1h0M277.4 374.1h0M362.1 144.8h0M241.3 240.1h0M486.8 85.7h0M452.9 291.1h0M545.3 115.6h0M352.4 279.4h0M516.6 287.1h0M328 241.4h0M630.4 244.5h0M526.5 244.1h0M428 264.6h0M369 313h0M470.1 128.8h0M503.3 162.4h0M517.5 73h0M468.5 332.3h0M461.7 242.7h0M449.9 224.3h0M166.2 204.9h0M520.4 294.7h0M473.5 200.6h0M644.3 229h0M614 130.5h0M318.5 309h0M432.7 194.9h0M460.6 236.2h0M273.2 311.3h0M436.9 329.8h0M534.2 323.6h0M293.1 218.8h0M399.9 253h0M424.6 179.6h0M435.6 122.4h0M590.1 313.8h0M450.9 312.3h0M462.5 168.9h0M552.1 287.3h0M459.5 242.8h0M376.8 269.1h0M275.3 288.1h0M462.4 145.8h0M334.8 275.7h0M540.4 140.4h0M432.3 279.4h0M431.7 220h0M351.6 273.7h0M271.4 306.1h0M494.1 319.6h0M356.9 292.1h0M396.5 328.7h0M449.9 310.7h0M397.8 160.4h0M501.2 95.2h0M420.4 214.2h0M280.9 67.3h0M374.1 268.9h0M417 230.4h0M565.3 131h0M464.5 283.2h0M431.1 143.6h0M517.1 124h0M600.9 239.7h0M539.9 72.5h0M522.6 163.8h0M490 220.2h0M333.6 141.9h0M548.6 136.7h0M393.6 312.5h0M142.1 317.8h0M152.4 318.2h0M613.9 290.8h0M293.8 333.4h0M644.8 250h0M511.2 217.4h0M627.5 254.7h0M464.5 197.9h0M273.8 236.3h0M570 306.8h0M523.1 295.5h0M398.5 319.5h0M521.5 96.3h0M544.7 224h0M388.5 316.9h0M538.1 103.4h0M423.4 158h0M515.8 122.9h0M178.9 330.9h0M542.9 220.2h0M611.4 120.3h0M393.6 280.6h0M371.7 203.3h0M454.7 309.4h0M394.8 308.4h0M418.9 342.1h0M578.2 251.7h0M519.2 284.6h0M626.7 177h0M597.5 318.6h0M307.8 288.7h0M490.1 206.7h0M360.9 203.4h0M497.1 212h0M400.4 313.2h0M528.7 229.4h0M445.7 239.8h0M506.2 164.9h0M518.8 179.4h0M250.4 316.6h0M497.1 282h0M611 129.9h0M488.8 177.1h0M282.9 280.3h0M182.7 302.3h0M291.7 327.7h0M258.6 345.2h0M249.7 211.6h0M373.7 235.5h0M235.3 197.2h0M621.7 140.8h0M626.7 198.8h0M591.3 106.2h0M473.9 134.2h0M454.6 179.5h0M526.6 92.8h0M509.9 203.3h0M567.5 305.4h0M332.6 290.2h0M498.6 233.1h0M455.4 223.1h0M529.8 242.3h0M332.1 160.3h0M486.8 292h0M303 160.6h0M309.5 317.5h0M574.1 92h0M528.8 73.1h0M560.2 90h0M594.4 228.6h0M458.8 196.9h0M447.5 158.3h0M431.5 312.7h0M251.8 260.5h0M288.5 350.4h0M211.1 256.8h0M507.9 292.8h0M270.3 340.4h0M460.9 316.9h0M407.7 286h0M316.6 254.8h0M270.5 269.4h0M592.1 185.2h0M220.5 236.8h0M542.7 283h0M410 290.4h0M456.7 230.4h0M453.7 298.7h0M374.6 184.1h0M578 159.3h0M472.7 280.2h0M419.8 234.1h0M470.2 141.1h0M260.3 199h0M363.2 342.1h0M320.1 126.4h0M405.9 158.4h0M371.7 110.7h0M563.6 137.2h0M260.2 241.9h0M301.3 297.9h0M443.5 184.1h0M382.3 137.7h0M314.1 238h0M588 84.2h0M630.1 284.1h0M281.1 326h0M573 59.5h0M483.9 227.7h0M459.5 153.7h0M442.5 223.8h0M418.4 235.3h0M328.6 179.2h0M454.9 288.2h0M350.6 332.6h0M302.8 332h0M467.2 278.7h0M390.5 155.6h0M229.8 244.4h0M359.7 345.3h0M492.1 169.2h0M644.9 214h0M394.5 308.2h0M605.1 302h0M274 221.1h0M507.3 267.1h0M356.5 262.2h0M404.7 139.7h0M517.3 89h0M274.7 302h0M545.1 301.1h0M273.8 274.2h0M503.5 117.8h0M430.6 206.4h0M323.1 265.8h0M333.9 219.2h0M426.8 304.7h0M392.3 285.7h0M271.8 323.5h0M464.4 267.7h0M344.6 199.9h0M642 300h0M306.4 265.3h0M392.5 242.3h0M562.2 119.4h0M342.6 267.8h0M441.1 299h0M301.9 261.2h0M317.9 245.1h0M274 93.8h0M351.4 210.4h0M522.8 200.8h0M402.1 218.1h0M552.5 79h0M608.7 142h0M536.9 299.7h0M517.8 61.8h0M543.9 252.9h0M437.8 171.9h0M497.5 228.1h0M436.1 124.3h0M495.4 256.3h0M375 139.1h0M531.2 252.8h0M455.1 246.2h0M384.3 217.1h0M287.7 316.9h0M319.3 343.8h0M442.6 332.2h0M539.4 123.9h0M408.4 254.2h0M340.5 280.2h0M453.7 331.9h0M607.8 256.7h0M482.6 328.4h0M368.3 174.3h0M203.5 261.6h0M644.4 220h0M290.3 348.6h0M556.4 108.2h0M433.6 248.1h0M545.3 104.3h0M510.1 136.8h0M598.3 260.4h0M427.9 124.6h0M383.9 175.1h0M506.9 257.9h0M473.9 307.5h0M637.1 281.9h0M309.6 313.3h0M561.2 224.6h0M610 178.2h0M396.8 273h0M424.1 156.7h0M329.3 190.7h0M164.5 329.9h0M563.3 131h0M375.5 251.7h0M547 94.8h0M479.7 234.4h0M411.9 167.2h0M484.5 167.5h0M390.7 154.8h0M401.1 288.3h0M537.6 284.7h0M332.8 114.4h0M550.6 89.1h0M553.1 192.6h0M614.4 205.3h0M460.9 154.2h0M486.6 223.3h0M271.4 337.4h0M287 308.1h0M315.6 228.8h0M372.8 297.3h0M71.7 340h0M523 295.3h0M559 196.5h0M487 95.4h0M597.4 288.2h0M456 150h0M414.5 340.9h0M496.1 319.2h0M541.2 187h0M434.7 241.9h0M608.8 215.1h0M274.6 339.1h0M451.9 296.3h0M589.8 147.8h0M587 137.2h0M295.8 341h0M325.5 205.8h0M601.4 146.7h0M336.1 296.3h0M525.1 174.1h0M619.5 125.6h0M406.5 265.8h0M441.8 302.8h0M250.7 307.3h0M600.6 165.5h0M570.4 180.5h0M566.9 99.9h0M549.4 156.1h0M525.3 200.9h0M499 206.7h0M581 265.2h0M491.8 285h0M517.5 173.1h0M505.5 164.4h0M384.8 263.1h0M400.2 77.8h0M340.5 212.1h0M601 221.2h0M338.4 179.8h0M378.1 295.3h0M422.7 154.3h0M354 271.5h0M542 63.7h0M605.8 83.1h0M417.6 304.5h0M538 76.4h0M492.3 86.8h0M298.3 280h0M422.8 135.6h0M497.5 286.2h0M529.9 189.2h0M508.7 211.8h0M525.2 101.7h0M557.1 130h0M499.5 291.6h0M447.1 298.4h0M518.4 318h0M172.4 260h0M392.4 123.9h0M421.2 202h0M423 220.1h0M420.1 306.8h0M593.9 286.9h0M493.6 193.9h0M375.3 81h0M505.3 110.8h0M382.6 160.6h0M410.8 331.6h0M571.7 181.4h0M268.6 271.8h0M564 124.3h0M209.8 255.7h0M118.7 319.9h0M194.1 259.3h0M379.3 133.2h0M614.1 257.8h0M368 153.9h0M609.4 193.3h0M645.1 257h0M623.2 283.2h0M427.7 125.1h0M530.4 230.6h0M205.5 166.1h0M220.1 198.6h0M599.6 266.5h0M245 327.1h0M560.1 216h0M417.4 290.4h0M470.7 189.8h0M286.1 263h0M369.1 304.1h0M410.9 323.1h0M537.8 71.3h0M600.9 202.2h0M332 230.8h0M499.6 142.7h0M455.6 135.6h0M207.8 297.7h0M506.9 298.1h0M609.3 116.2h0M405 149.3h0M615.6 318.9h0M350.3 323.8h0M431.6 321.7h0M451.8 102h0M371.6 148.4h0M437 136.1h0M435.4 208.1h0M597.8 247.4h0M289.6 299h0M599.5 204h0M434.1 148.5h0M463.4 233.7h0M494.5 280.3h0M274.4 299.9h0M512.8 281.6h0M375.7 341.6h0M533 101.4h0M473.8 225.3h0M337.6 182.8h0M379 289.6h0M289.1 306.6h0M263.2 264.1h0M512.7 308.4h0M326.1 322.1h0M416.7 314.1h0M290.1 311.2h0M445.9 159.4h0M249.3 282.7h0M579.7 110.7h0M417 332.8h0M535.3 324.9h0M639.1 286.9h0M495 128.6h0M408.2 261h0M498.9 153.9h0M520.8 163.3h0M467.2 292h0M263.3 271.6h0M392.1 72.3h0M627.5 195.5h0M333.3 284.2h0M586.7 324.9h0M342.8 225.7h0M445.6 333h0M528 63.4h0M263.7 286.9h0M546.6 265.9h0M374.2 299.3h0M381.8 209.9h0M510.4 126.9h0M362.6 339.7h0M548.1 222.2h0M479.2 268.4h0M328.2 311.3h0M446.8 220.5h0M379.6 177h0M437.1 232.9h0M303.1 304.6h0M283.7 314.5h0M226.9 166.8h0M545.8 241.9h0M541.9 97.8h0M369.4 170.4h0M366.8 293.8h0M493.2 181h0M163.5 346.3h0M533.3 183.7h0M138.7 289.6h0M510 161.8h0M536.8 228.1h0M287.4 284.5h0M525.5 136.3h0M349.7 222.1h0M406.2 168.6h0M637 236h0M439.4 245.3h0M290.2 320.1h0M370.3 138.7h0M370.2 239.5h0" stroke-width="2.3" stroke-opacity=".32"/><path d="M439 186.5h0M477.2 198.2h0M383.3 65.8h0M497.7 69.5h0M514.1 127.7h0M317.9 152.4h0M321.8 173.5h0M582.1 180.9h0M530.4 99.2h0M469.3 225.9h0M398.4 200.1h0M549.9 173.4h0M372.6 254.2h0M578.8 78.8h0M618.6 165.1h0M154.8 296.5h0M466.2 185.4h0M194.4 316.1h0M532.5 292.8h0M370.9 172.8h0M441.2 96.3h0M368.4 239.6h0M361.3 119.4h0M303.3 139.2h0M314.3 339.1h0M506.2 97.9h0M488.2 108.3h0M532.4 130.5h0M202 272.3h0M490.8 119.2h0M209 289.9h0M594.6 105.8h0M299.3 267.5h0M300.6 111.7h0M608.8 153.7h0M431.9 251.7h0M393.1 226h0M291.1 240.9h0M341 311.9h0M161 319.5h0M532.4 127.6h0M401.6 241.2h0M532.9 155.1h0M532.3 310.9h0M291.6 284.6h0M529.6 78.2h0M531.3 113.8h0M636 240h0M310.9 133.4h0M529 298.7h0M317.1 145.2h0M493.3 175.3h0M301.2 275.5h0M405.9 152h0M465.5 158.1h0M326.6 227.3h0M502.6 66.6h0M331.7 337.3h0M487.1 224.2h0M455.3 274.2h0M554.7 165.5h0M375.4 210.4h0M365.7 208.8h0M527.8 60.9h0M582.4 137.7h0M244.6 306.6h0M614.5 175.4h0M598.7 289.4h0M453.8 170.6h0M93.6 189.8h0M562.8 261.8h0M422.9 347.1h0M613.1 113.2h0M263.4 278.9h0M545.7 239.7h0M447.3 220.7h0M233 226.5h0M258.7 277h0M225.2 266.3h0M289.9 278.7h0M508.9 134.1h0M407.5 188.5h0M307.6 279.9h0M505.5 134h0M415.3 261.3h0M574.3 271.9h0M322 280.1h0M421.9 211.5h0M317.9 324.7h0M553.2 296.5h0M324.9 179.9h0M345.4 278.6h0M419.2 124.9h0M335.6 181.9h0M446.4 133.7h0M545.2 331.9h0M581.2 202.5h0M418.8 280.7h0M501.8 167.3h0M579.4 73.2h0M384.2 235.1h0M630.9 198.5h0M492.9 307.3h0M396.9 268.1h0M555.5 143.8h0M320.7 318.1h0M471.8 285.5h0M502.4 204.4h0M511 325.8h0M546.1 233.5h0M243.7 276.6h0M407.8 301h0M528.4 284.3h0M484.4 287.3h0M451 149.2h0M405.1 71.5h0M188.3 169.9h0M452.9 265.7h0M320.5 281.9h0M583.7 301.3h0M528.8 284.3h0M257.4 275.8h0M516.1 132h0M461.4 299.7h0M530 89.1h0M178.6 225.6h0M471.1 293.6h0M388 295.8h0M329.7 227.3h0M381.2 216h0M583.7 150.3h0M456.2 158.9h0M559 297.6h0M200.8 285.8h0M418.6 280.1h0M241.8 281.2h0M387.2 127.7h0M429.6 178.6h0M288.5 341.7h0M350.4 131.1h0M514.4 182.7h0M490.1 165.8h0M110.1 307.1h0M440.7 301.3h0M288.7 217.5h0M505.9 124.5h0M537.4 168.6h0M432.1 170.8h0M449 226.1h0M286.9 344h0M568.7 309.4h0M426.6 117.7h0M525.3 167.4h0M392 175.2h0M240.5 304.2h0M289.2 312.9h0M503.6 102.8h0M378.2 346.6h0M527.7 116.6h0M234.5 337.7h0M499 275.8h0M326 306h0M546.7 191.2h0M288.2 180.9h0M444.9 273.4h0M211.3 347.1h0M640.5 214h0M451.9 183.2h0M517.9 158.7h0M596.1 118h0M346.1 319.1h0M377.3 306.4h0M151.7 196.6h0M221.7 206.6h0M425.8 135.7h0M427.3 282.1h0M506.6 278.1h0M320.7 321.8h0M289.5 51.5h0M593.4 198.8h0M365 303h0M453.8 134.4h0M364.8 144.8h0M432.6 274.6h0M350.7 120.3h0M423.9 271.7h0M425.6 99.2h0M393.1 257h0M176.5 308.5h0M469.2 126.4h0M392.3 307.8h0M550.6 244.9h0M616.1 145.5h0M484.6 277.7h0M544.1 81.2h0M459.5 137.8h0M374.8 197.6h0M481.5 95.5h0M420.5 312h0M358.8 281h0M471.9 199.6h0M391.4 262.3h0M279.3 276.9h0M598.3 185.2h0M505.8 278.2h0M567.3 127.8h0M524.3 257.2h0M237 290.7h0M527.1 109.1h0M381.9 261.2h0M412.9 247.2h0M469.9 220.5h0M446.5 309.6h0M243.3 209.8h0M408 298.5h0M195 279h0M512 264.6h0M270 319.4h0M463.9 256.4h0M489.7 199.4h0M441.8 96.5h0M510.7 83.2h0M360.3 239.5h0M576.2 183.8h0M356.4 338.2h0M539.2 284.9h0M296.4 267.1h0M370.9 140.7h0M214.1 228.5h0M554 114.9h0M322.5 152.9h0M444.7 204.1h0M319.3 203.8h0M483.9 323.5h0M342.4 326.8h0M427.3 149.2h0M497.1 214.8h0M168.6 306.8h0M369.7 308.2h0M514.4 192.7h0M312 305.3h0M505.9 199.8h0M237.2 287.7h0M480.8 198h0M497.7 195.1h0M559.3 102.2h0M229 284.5h0M486.4 187.5h0M494.9 280h0M447 84h0M411.7 318.2h0M383.5 279.2h0M558.3 153.2h0M464.9 259.4h0M438.5 166h0M248.6 69.7h0M464.2 242.2h0M440.1 293h0M374.5 311.6h0M514.7 297.4h0M550.1 303.8h0M274 174.3h0M366.3 281.5h0M319.6 315.5h0M551.9 279.2h0M564 209.9h0M486 237.6h0M284.5 237.6h0M357.5 272.7h0M528.1 259.6h0M520.9 301.9h0M442 131h0M507.9 272.4h0M486.9 179h0M410.7 168.4h0M644.4 244h0M420.5 236.4h0M444.6 296.7h0M623.1 143.7h0M390.6 236.7h0M567.7 74.5h0M379.5 290.2h0M410.2 145.9h0M374.4 187.3h0M518.5 245.5h0M601.5 231.9h0M403.1 328h0M522.9 95.9h0M286.2 262.3h0M554.2 119.4h0M567.6 99.7h0M531.2 134h0M138.7 262.7h0M532.9 208.6h0M487 203h0M484.3 167.6h0M448.3 304.4h0M245.5 302.4h0M429.4 106.4h0M641 230h0M644.7 217h0M593.4 247.4h0M419.2 129.7h0M316.7 104.4h0M487.7 222.5h0M263.7 246.6h0M412.2 273h0M369.2 265.8h0M364.6 322.6h0M401.7 259.9h0M547.1 243.4h0M510.9 179.4h0M464.3 296.1h0M403.6 317.4h0M295.4 260.6h0M485.5 230.5h0M504.2 290.8h0M225.5 252.6h0M482.8 225.2h0M430.6 248.9h0M366.3 284h0M504.6 315.2h0M461.1 179.9h0M564.3 212.2h0M364.9 274h0M415.7 186.2h0M455.7 93.8h0M166.2 298.2h0M372.3 236.8h0M440.7 282.1h0M457.3 181.1h0M484.4 208.1h0M516.3 77.6h0M333.6 284.1h0M397.6 284.6h0M271.5 272.7h0M232 281.6h0M395.4 154.2h0M542.5 291.8h0M259.2 273.2h0M483.8 79.4h0M140.1 175h0M431.5 148.9h0M243.1 311.3h0M524 103.5h0M490.8 52.1h0M178.9 317.1h0M213 218.6h0M516.5 165.7h0M250 331.8h0M511 246.3h0M341.7 324.9h0M482.6 264h0M551.4 266.4h0M531 258.6h0M400 315.5h0M260.7 320.9h0M344.2 294h0M510.5 122.9h0M443.4 157.1h0M385.1 70.3h0M396 299.3h0M584.6 127.8h0M520.2 168.1h0M317.5 198.4h0M338.3 269.3h0M274.6 237.5h0M208.3 170.6h0M588.4 263.7h0M448.6 187.2h0M495.2 171.2h0M265 230.7h0M417.1 284.8h0M441.9 149.2h0M469.1 141.8h0M455.6 239.1h0M397.4 162.8h0M291.1 303.6h0M517.8 282h0M337.5 261.6h0M295.7 285h0M413.6 138h0M527.7 298.6h0M528.2 163h0M486.5 312.1h0M236.7 270h0M361 267.1h0M577.5 166.6h0M477.3 176.6h0M574.3 286.8h0M538.1 155h0M513.4 313.2h0M413.5 322h0M311.5 295.3h0M121.4 341.4h0M370.1 321.5h0M442.3 184.5h0M259.2 234.8h0M594.1 279.5h0M376.7 269.8h0M583.9 113.7h0M609.8 113.2h0M562.8 87.3h0M309.1 225.7h0M318.8 115h0M577.1 114.2h0M534.3 168.1h0M161 305.8h0M491.7 220.1h0M460.5 300.6h0M593.2 115.6h0M289.2 273.7h0M440.4 126.9h0M578.4 115.5h0M470.2 313.4h0M553.5 182.8h0M404.8 246.4h0M380 253.2h0M170.1 158.5h0M491.5 192.2h0M541.4 278.8h0M591.7 86.9h0M397 280.7h0M483.3 167.8h0M388 309.4h0M267.5 272.3h0M504.1 91.5h0M428.8 242.8h0M525.3 247.9h0M535.4 191.2h0M546.3 276.1h0M317 232.4h0M613.3 138.5h0M436.6 301.6h0M627.6 108.9h0M414.5 265.2h0M251.1 266.7h0M563.8 127.8h0M605.1 275.9h0M362.2 224.2h0M568.2 237h0M363.8 340.8h0M454.7 303.4h0M393.5 222.6h0M475.7 275.2h0M546.2 219.8h0M414.2 172.6h0M388.7 269.8h0M540.9 199.2h0M642 312h0M335.3 267.5h0M368.6 210.6h0M559.3 280.2h0M390.1 181h0M279.7 253.8h0M527.4 219.4h0M235.6 203.9h0M490 340.7h0M634.2 142.9h0M451.9 278.6h0M348.3 172.9h0M357.3 157.9h0M474.9 283.7h0M527.9 242.2h0M598.9 102.6h0M545.8 229.3h0M286.1 259h0M540.7 279.3h0M530.7 151.3h0M348.8 265.8h0M272.1 247.7h0M427.1 256.6h0M460.3 186.2h0M389.3 168.4h0M597.9 197h0M269.1 278.3h0M572.1 283.5h0M451.9 230.1h0M208.1 338.2h0M448.9 177.3h0M513 311.9h0M403.7 145.5h0" stroke-width="3.3" stroke-opacity=".5"/><path d="M439 186.5h0M477.2 198.2h0M383.3 65.8h0M497.7 69.5h0M514.1 127.7h0M317.9 152.4h0M321.8 173.5h0M582.1 180.9h0M530.4 99.2h0M469.3 225.9h0M398.4 200.1h0M549.9 173.4h0M372.6 254.2h0M578.8 78.8h0M618.6 165.1h0M154.8 296.5h0M466.2 185.4h0M194.4 316.1h0M532.5 292.8h0M370.9 172.8h0M441.2 96.3h0M368.4 239.6h0M361.3 119.4h0M303.3 139.2h0M314.3 339.1h0M506.2 97.9h0M488.2 108.3h0M532.4 130.5h0M202 272.3h0M490.8 119.2h0M209 289.9h0M594.6 105.8h0M299.3 267.5h0M300.6 111.7h0M608.8 153.7h0M431.9 251.7h0M393.1 226h0M291.1 240.9h0M341 311.9h0M161 319.5h0M532.4 127.6h0M401.6 241.2h0M532.9 155.1h0M532.3 310.9h0M291.6 284.6h0M529.6 78.2h0M531.3 113.8h0M636 240h0M310.9 133.4h0M529 298.7h0M317.1 145.2h0M493.3 175.3h0M301.2 275.5h0M405.9 152h0M465.5 158.1h0M326.6 227.3h0M502.6 66.6h0M331.7 337.3h0M487.1 224.2h0M455.3 274.2h0M554.7 165.5h0M375.4 210.4h0M365.7 208.8h0M527.8 60.9h0M582.4 137.7h0M244.6 306.6h0M614.5 175.4h0M598.7 289.4h0M453.8 170.6h0M93.6 189.8h0M562.8 261.8h0M422.9 347.1h0M613.1 113.2h0M263.4 278.9h0M545.7 239.7h0M447.3 220.7h0M233 226.5h0M258.7 277h0M225.2 266.3h0M289.9 278.7h0M508.9 134.1h0M407.5 188.5h0M307.6 279.9h0M505.5 134h0M415.3 261.3h0M574.3 271.9h0M322 280.1h0M421.9 211.5h0M317.9 324.7h0M553.2 296.5h0M324.9 179.9h0M345.4 278.6h0M419.2 124.9h0M335.6 181.9h0M446.4 133.7h0M545.2 331.9h0M581.2 202.5h0M418.8 280.7h0M501.8 167.3h0M579.4 73.2h0M384.2 235.1h0M630.9 198.5h0M492.9 307.3h0M396.9 268.1h0M555.5 143.8h0M320.7 318.1h0M471.8 285.5h0M502.4 204.4h0M511 325.8h0M546.1 233.5h0M243.7 276.6h0M407.8 301h0M528.4 284.3h0M484.4 287.3h0M451 149.2h0M405.1 71.5h0M188.3 169.9h0M452.9 265.7h0M320.5 281.9h0M583.7 301.3h0M528.8 284.3h0M257.4 275.8h0M516.1 132h0M461.4 299.7h0M530 89.1h0M178.6 225.6h0M471.1 293.6h0M388 295.8h0M329.7 227.3h0M381.2 216h0M583.7 150.3h0M456.2 158.9h0M559 297.6h0M200.8 285.8h0M418.6 280.1h0M241.8 281.2h0M387.2 127.7h0M429.6 178.6h0M288.5 341.7h0M350.4 131.1h0M514.4 182.7h0M490.1 165.8h0M110.1 307.1h0M440.7 301.3h0M288.7 217.5h0M505.9 124.5h0M537.4 168.6h0M432.1 170.8h0M449 226.1h0M286.9 344h0M568.7 309.4h0M426.6 117.7h0M525.3 167.4h0M392 175.2h0M240.5 304.2h0M289.2 312.9h0M503.6 102.8h0M378.2 346.6h0M527.7 116.6h0M234.5 337.7h0M499 275.8h0M326 306h0M546.7 191.2h0M288.2 180.9h0M444.9 273.4h0M211.3 347.1h0M640.5 214h0M451.9 183.2h0M517.9 158.7h0M596.1 118h0M346.1 319.1h0M377.3 306.4h0M151.7 196.6h0M221.7 206.6h0M425.8 135.7h0M427.3 282.1h0M506.6 278.1h0M320.7 321.8h0M289.5 51.5h0M593.4 198.8h0M365 303h0M453.8 134.4h0M364.8 144.8h0M432.6 274.6h0M350.7 120.3h0M423.9 271.7h0M425.6 99.2h0M393.1 257h0M176.5 308.5h0M469.2 126.4h0M392.3 307.8h0M550.6 244.9h0M616.1 145.5h0M484.6 277.7h0M544.1 81.2h0M459.5 137.8h0M374.8 197.6h0M481.5 95.5h0M420.5 312h0M358.8 281h0M471.9 199.6h0M391.4 262.3h0M279.3 276.9h0M598.3 185.2h0M505.8 278.2h0M567.3 127.8h0M524.3 257.2h0M237 290.7h0M527.1 109.1h0M381.9 261.2h0M412.9 247.2h0M469.9 220.5h0M446.5 309.6h0M243.3 209.8h0M408 298.5h0M195 279h0M512 264.6h0M270 319.4h0M463.9 256.4h0M489.7 199.4h0M441.8 96.5h0M510.7 83.2h0M360.3 239.5h0M576.2 183.8h0M356.4 338.2h0M539.2 284.9h0M296.4 267.1h0M370.9 140.7h0M214.1 228.5h0M554 114.9h0M322.5 152.9h0M444.7 204.1h0M319.3 203.8h0M483.9 323.5h0M342.4 326.8h0M427.3 149.2h0M497.1 214.8h0M168.6 306.8h0M369.7 308.2h0M514.4 192.7h0M312 305.3h0M505.9 199.8h0M237.2 287.7h0M480.8 198h0M497.7 195.1h0M559.3 102.2h0M229 284.5h0M486.4 187.5h0M494.9 280h0M447 84h0M411.7 318.2h0M383.5 279.2h0M558.3 153.2h0M464.9 259.4h0M438.5 166h0M248.6 69.7h0M464.2 242.2h0M440.1 293h0M374.5 311.6h0M514.7 297.4h0M550.1 303.8h0M274 174.3h0M366.3 281.5h0M319.6 315.5h0M551.9 279.2h0M564 209.9h0M486 237.6h0M284.5 237.6h0M357.5 272.7h0M528.1 259.6h0M520.9 301.9h0M442 131h0M507.9 272.4h0M486.9 179h0M410.7 168.4h0M644.4 244h0M420.5 236.4h0M444.6 296.7h0M623.1 143.7h0M390.6 236.7h0M567.7 74.5h0M379.5 290.2h0M410.2 145.9h0M374.4 187.3h0M518.5 245.5h0M601.5 231.9h0M403.1 328h0M522.9 95.9h0M286.2 262.3h0M554.2 119.4h0M567.6 99.7h0M531.2 134h0M138.7 262.7h0M532.9 208.6h0M487 203h0M484.3 167.6h0M448.3 304.4h0M245.5 302.4h0M429.4 106.4h0M641 230h0M644.7 217h0M593.4 247.4h0M419.2 129.7h0M316.7 104.4h0M487.7 222.5h0M263.7 246.6h0M412.2 273h0M369.2 265.8h0M364.6 322.6h0M401.7 259.9h0M547.1 243.4h0M510.9 179.4h0M464.3 296.1h0M403.6 317.4h0M295.4 260.6h0M485.5 230.5h0M504.2 290.8h0M225.5 252.6h0M482.8 225.2h0M430.6 248.9h0M366.3 284h0M504.6 315.2h0M461.1 179.9h0M564.3 212.2h0M364.9 274h0M415.7 186.2h0M455.7 93.8h0M166.2 298.2h0M372.3 236.8h0M440.7 282.1h0M457.3 181.1h0M484.4 208.1h0M516.3 77.6h0M333.6 284.1h0M397.6 284.6h0M271.5 272.7h0M232 281.6h0M395.4 154.2h0M542.5 291.8h0M259.2 273.2h0M483.8 79.4h0M140.1 175h0M431.5 148.9h0M243.1 311.3h0M524 103.5h0M490.8 52.1h0M178.9 317.1h0M213 218.6h0M516.5 165.7h0M250 331.8h0M511 246.3h0M341.7 324.9h0M482.6 264h0M551.4 266.4h0M531 258.6h0M400 315.5h0M260.7 320.9h0M344.2 294h0M510.5 122.9h0M443.4 157.1h0M385.1 70.3h0M396 299.3h0M584.6 127.8h0M520.2 168.1h0M317.5 198.4h0M338.3 269.3h0M274.6 237.5h0M208.3 170.6h0M588.4 263.7h0M448.6 187.2h0M495.2 171.2h0M265 230.7h0M417.1 284.8h0M441.9 149.2h0M469.1 141.8h0M455.6 239.1h0M397.4 162.8h0M291.1 303.6h0M517.8 282h0M337.5 261.6h0M295.7 285h0M413.6 138h0M527.7 298.6h0M528.2 163h0M486.5 312.1h0M236.7 270h0M361 267.1h0M577.5 166.6h0M477.3 176.6h0M574.3 286.8h0M538.1 155h0M513.4 313.2h0M413.5 322h0M311.5 295.3h0M121.4 341.4h0M370.1 321.5h0M442.3 184.5h0M259.2 234.8h0M594.1 279.5h0M376.7 269.8h0M583.9 113.7h0M609.8 113.2h0M562.8 87.3h0M309.1 225.7h0M318.8 115h0M577.1 114.2h0M534.3 168.1h0M161 305.8h0M491.7 220.1h0M460.5 300.6h0M593.2 115.6h0M289.2 273.7h0M440.4 126.9h0M578.4 115.5h0M470.2 313.4h0M553.5 182.8h0M404.8 246.4h0M380 253.2h0M170.1 158.5h0M491.5 192.2h0M541.4 278.8h0M591.7 86.9h0M397 280.7h0M483.3 167.8h0M388 309.4h0M267.5 272.3h0M504.1 91.5h0M428.8 242.8h0M525.3 247.9h0M535.4 191.2h0M546.3 276.1h0M317 232.4h0M613.3 138.5h0M436.6 301.6h0M627.6 108.9h0M414.5 265.2h0M251.1 266.7h0M563.8 127.8h0M605.1 275.9h0M362.2 224.2h0M568.2 237h0M363.8 340.8h0M454.7 303.4h0M393.5 222.6h0M475.7 275.2h0M546.2 219.8h0M414.2 172.6h0M388.7 269.8h0M540.9 199.2h0M642 312h0M335.3 267.5h0M368.6 210.6h0M559.3 280.2h0M390.1 181h0M279.7 253.8h0M527.4 219.4h0M235.6 203.9h0M490 340.7h0M634.2 142.9h0M451.9 278.6h0M348.3 172.9h0M357.3 157.9h0M474.9 283.7h0M527.9 242.2h0M598.9 102.6h0M545.8 229.3h0M286.1 259h0M540.7 279.3h0M530.7 151.3h0M348.8 265.8h0M272.1 247.7h0M427.1 256.6h0M460.3 186.2h0M389.3 168.4h0M597.9 197h0M269.1 278.3h0M572.1 283.5h0M451.9 230.1h0M208.1 338.2h0M448.9 177.3h0M513 311.9h0M403.7 145.5h0" stroke-width="2.3" stroke-opacity=".32"/><path d="M532.3 311.9h0M482.9 276.7h0M251.9 303.6h0M469.7 138.4h0M543.5 143.6h0M418.9 171.4h0M341.5 115.1h0M562.9 204h0M374.4 135.8h0M337.1 293.4h0M594.3 285h0M537.3 274.7h0M541.5 290.4h0M395.8 329.5h0M447.4 151.8h0M347.6 133.4h0M203.8 338.5h0M333.2 178.8h0M331.6 323.7h0M258.5 250.7h0M318.5 275.7h0M500.3 242.9h0M470 284.5h0M224 210h0M449.6 100.3h0M343 247.3h0M452.9 117.9h0M466.2 291.1h0M298.8 168.8h0M510 139h0M424 279.8h0M592.3 106.1h0M186.2 314.4h0M361.3 143.4h0M287.6 236.1h0M537.3 203.3h0M417.2 91.5h0M262.9 204h0M468.4 184.2h0M530.6 94h0M325.7 289.6h0M445.9 302.5h0M501.5 200.5h0M409.1 169.9h0M446.7 119.5h0M466.4 160.8h0M513.5 187h0M578.5 211.6h0M428 216.1h0M291.9 292.8h0M152.8 220.7h0M411.1 79.5h0M412.8 142.3h0M398.8 156.2h0M250.9 243.3h0M435.1 198.7h0M463.9 124.4h0M433.2 155.9h0M485.3 203.5h0M426.5 287.6h0M615.6 194.7h0M540.6 277.9h0M450.5 317h0M351.6 317.2h0M547.5 146.2h0M596.4 123.3h0M487.3 179.6h0M459.7 255.2h0M488.2 245h0M392.2 135.3h0M216.1 313.5h0M525.9 140.2h0M354.3 325.5h0M347.5 102.9h0M322.9 255.1h0M329.3 258.7h0M477 205.5h0M536.3 155.4h0M520.4 91.4h0M382.2 316.5h0M390.2 297.8h0M493.3 234.2h0M498.7 265h0M475.2 110.9h0M394.3 200.9h0M257.1 277.5h0M304.2 304.2h0M538.9 177.5h0M211.5 339.5h0M513.2 110.6h0M522.7 245.5h0M315.3 337.8h0M446.1 101.2h0M514.1 146.2h0M122.5 291.3h0M460.5 283.7h0M322.9 169h0M317.1 236.3h0M468.7 268.3h0M527.9 285h0M321.6 320.8h0M374.5 245.5h0M549.2 199.1h0M319.2 287.9h0M359.8 266.9h0M536.7 182.1h0M403.3 111.2h0M413.9 259.2h0M386 293.6h0M472.9 144.3h0M356.4 332.5h0M512 104.8h0M521.9 279.4h0M332.2 153.7h0M210.6 257.3h0M423.8 134.7h0M494.5 191.9h0M500.2 271h0M437.2 100.6h0M410.3 143.7h0M178.6 242.8h0M321.9 264.6h0M612.8 155.6h0M370.1 327.3h0M309.6 291.8h0M458.7 275h0M369.2 338.4h0M462.5 291.1h0M457.3 257.3h0M365.3 257.7h0M501.8 150.1h0M278.5 218.9h0M528.2 320.3h0M197.3 151.3h0M378.4 182.3h0M425.2 251h0M358.5 285.7h0M427 333.1h0M220.6 336.2h0M324.6 330.3h0M181.7 297.2h0M331.2 328.2h0M489.3 105.7h0M486.6 83.9h0M334.7 337.2h0M499 243.8h0M438.3 157h0M520.9 67h0M306.7 340.5h0M435.9 173.2h0M385.3 119.6h0M451.9 326.9h0M613.6 166.3h0M425.9 208.6h0M368.3 291.9h0M517 109.2h0M515 289.8h0M492.3 135.8h0M532.8 325.2h0M544.8 195.5h0M466.1 235h0M581.9 290.4h0M491 121.4h0M537.1 254.8h0M277.5 187h0M307.8 150.3h0M460.3 163.4h0M526.9 247h0M588.4 69.5h0M536.5 283.5h0M218.4 221.5h0M582.5 153h0M485.4 179.6h0M523.1 307.9h0M302.2 265.4h0M327.1 338.4h0M528.5 238.2h0M595.5 93.9h0M380.7 281.2h0M469.5 301.6h0M337.1 288.7h0M416.1 230.2h0M434 298.1h0M386.4 336.6h0M415.7 88.5h0M555 289.7h0M138 333.3h0M387.3 250.7h0M504.5 220.6h0M353.1 276.3h0M577 68.4h0M588.8 201.9h0M416.8 205.6h0M384.7 299.1h0M321.2 324.9h0M416.1 291.4h0M484.9 207.2h0M156.2 236.2h0M366.9 292.4h0M323.4 231.3h0M353.9 207.1h0M381.9 168.7h0M534.8 140.6h0M429.7 305.2h0M398.3 221.4h0M285.4 116.2h0M471.4 215.9h0M347.2 281.1h0M542.1 182.3h0M223.3 298.5h0M508.3 123.1h0M241.7 165.4h0M477.4 222.7h0M477.6 324.5h0M341.8 309.9h0M299.6 270.9h0M392.1 285.7h0M537.7 267.8h0M473.4 150.4h0M171.4 239.3h0M580.2 274.4h0M507.6 193.2h0M229.7 275.1h0M426.6 290.5h0M347.3 236.9h0M564.3 192.4h0M237.5 344h0M528.5 87.3h0M409.4 287.4h0M591.5 305.7h0M514.1 306.3h0M376.4 104.9h0M320.8 328.6h0M475 287.3h0M472.3 321.8h0M590.3 302.7h0M518.2 99.9h0M276.7 262.7h0M506.1 227.1h0M402.3 92.5h0M252.5 245h0M231.6 350.2h0M457.3 307.5h0M493.2 312.9h0M294 272.5h0M492 236.7h0M438.3 107h0M516 258h0M420 307.5h0M225.9 76.6h0M594.4 158.9h0M344.8 326.7h0M477.5 303.7h0M544.8 179.4h0M190.3 310.2h0M306 249.6h0M467.2 135.6h0M603.7 256.9h0M325.3 294.6h0M518.4 279.3h0M348.9 258.7h0M499.4 142.7h0M457.4 314.6h0M374.2 269.6h0M407.3 278.7h0M307 337.5h0M509.7 278.3h0M349.8 271h0M549.5 273.4h0M399.9 341.1h0M232.3 341.1h0M440.8 314.3h0M443 106.3h0M582.7 144.2h0M372.8 232.6h0M436.1 289.8h0M462.3 197.4h0M259.4 326.5h0M374.3 246.3h0M211.4 179.5h0M477.8 199.2h0M340.3 143.2h0M328.5 200.3h0M598.7 305h0M329.8 217.4h0M645 233h0M232.5 250.5h0M514.8 278.1h0M208.2 331.3h0M355.2 226.1h0M614.2 139.1h0M267 239.5h0M462.4 113.9h0M322.7 222.4h0M342.1 215.1h0M494.2 103.3h0M364.3 220.1h0M417.6 233.9h0M422.2 332.5h0M600.3 197.2h0M343.2 301.7h0M535.8 305.3h0M429.4 197.7h0M420.4 298.3h0M346.7 230.3h0M275.4 226.6h0M448.5 262.4h0M334 284.6h0M442.5 227.7h0M356.3 300h0M507.2 121.3h0M512.1 287.3h0M546.3 277.4h0M561.1 125.9h0M520.7 128.7h0M535.1 130h0M550 227.9h0M492 129.6h0M287 250.1h0M250.1 333.2h0M449.7 304.6h0M434.5 326.5h0M202.6 258.6h0M289.2 178.5h0M590.9 256.2h0M379 153.7h0M496.6 238.3h0M520.4 176.4h0M331.9 84.5h0M473.2 134.8h0M490.2 260.2h0M385.2 187.3h0M356.6 278.9h0M445.8 311.9h0M327.1 344.5h0M433.3 228h0M282.1 272.3h0M496.3 68.9h0M407.1 107.4h0M251.5 277h0M421.9 329.8h0M357.9 292.6h0M446.3 187.2h0M452.8 150.7h0M198.9 286.8h0M335 307.9h0M358.8 267.6h0M498.4 180.5h0M447.7 216.3h0M205.9 221.8h0M367.7 295.8h0M377.2 84.9h0M608.2 256.5h0M300.9 286.1h0M498.7 162.6h0M528.5 294.9h0M381.3 217.3h0M588 157.3h0M418 347.9h0M448.1 97.4h0M267.7 300.7h0M221 246.3h0M444.3 295.2h0M309.7 343.6h0M427.5 322.8h0M472 247.6h0M409.5 326.1h0M539.7 315.7h0M581.5 98.4h0M358.4 222.9h0M505.1 271.7h0M496.9 161.3h0M563.4 219.5h0M589.7 181h0M299.9 342.2h0M581.7 165.6h0M364.5 199h0M379.2 85.7h0M473.1 297.6h0M614.7 316.1h0M579.1 308.5h0M454.5 235.5h0M421.4 272.5h0M278.3 343.9h0M289.5 187h0M575.6 241.3h0M145 163.7h0M352.3 210h0M437.4 253.3h0M349.1 130.2h0M492.1 88.8h0M566.5 119.2h0M455.4 301.9h0M368.6 242.7h0M337.6 244.9h0M294.1 304.9h0M405.6 153.7h0M623.1 183.5h0M490.7 132.8h0M599.2 264.3h0M264.1 302.2h0M541.6 134h0M458.1 130.6h0M644.7 240h0M438.5 215.6h0M450.7 270.7h0M387.5 270h0M278.8 226.1h0M459.6 279.6h0M474.6 222.6h0M284.1 311.1h0M454.5 292.7h0M378.1 336.9h0M312.1 324.9h0M505.1 309.5h0M357.9 147.3h0M590.2 140.9h0M339.5 311h0M527.5 184.2h0M381.1 300.6h0M604.6 203.1h0M249.9 314.5h0M337.4 258.6h0M539.3 277.4h0M530 139.1h0M641 150.9h0M523.6 73.6h0M600 71.5h0M520.1 270.3h0M454.7 230.6h0M492.7 277.2h0M322.7 256.6h0M613.4 101h0M520.8 313.8h0M520 256.3h0M586.9 320.2h0M277.8 344.3h0M555.7 148.2h0M557.9 132.6h0M353.4 293.7h0M363.8 116.5h0M362.1 340h0M500.8 325.8h0M494.9 65.2h0M347.8 317.9h0M308.5 171.6h0M633.9 139.4h0M368.7 183.1h0M197.2 285.1h0M289.6 326.8h0M216.4 287.7h0M320.5 342h0M468.8 311.4h0M420.4 195h0M353.6 277.2h0M433.8 109.1h0M423 337.9h0M469.8 304.8h0M506.3 214.4h0M215.3 294.6h0M455.1 268.3h0M499 276.3h0M447.1 178.1h0M574.5 123h0M481.1 240.6h0M421.5 274.1h0M475.5 294.1h0M508.1 154h0M593.9 138h0M300.6 163h0M358.4 293.1h0M546.4 205h0M545.7 332h0M457.3 183.1h0M373.2 253.1h0M327.6 142.7h0M563.2 152.1h0M216.4 303.5h0M526.3 131.7h0M617.4 160.2h0M441.9 84.2h0" stroke-width="3.3" stroke-opacity=".5"/><path d="M532.3 311.9h0M482.9 276.7h0M251.9 303.6h0M469.7 138.4h0M543.5 143.6h0M418.9 171.4h0M341.5 115.1h0M562.9 204h0M374.4 135.8h0M337.1 293.4h0M594.3 285h0M537.3 274.7h0M541.5 290.4h0M395.8 329.5h0M447.4 151.8h0M347.6 133.4h0M203.8 338.5h0M333.2 178.8h0M331.6 323.7h0M258.5 250.7h0M318.5 275.7h0M500.3 242.9h0M470 284.5h0M224 210h0M449.6 100.3h0M343 247.3h0M452.9 117.9h0M466.2 291.1h0M298.8 168.8h0M510 139h0M424 279.8h0M592.3 106.1h0M186.2 314.4h0M361.3 143.4h0M287.6 236.1h0M537.3 203.3h0M417.2 91.5h0M262.9 204h0M468.4 184.2h0M530.6 94h0M325.7 289.6h0M445.9 302.5h0M501.5 200.5h0M409.1 169.9h0M446.7 119.5h0M466.4 160.8h0M513.5 187h0M578.5 211.6h0M428 216.1h0M291.9 292.8h0M152.8 220.7h0M411.1 79.5h0M412.8 142.3h0M398.8 156.2h0M250.9 243.3h0M435.1 198.7h0M463.9 124.4h0M433.2 155.9h0M485.3 203.5h0M426.5 287.6h0M615.6 194.7h0M540.6 277.9h0M450.5 317h0M351.6 317.2h0M547.5 146.2h0M596.4 123.3h0M487.3 179.6h0M459.7 255.2h0M488.2 245h0M392.2 135.3h0M216.1 313.5h0M525.9 140.2h0M354.3 325.5h0M347.5 102.9h0M322.9 255.1h0M329.3 258.7h0M477 205.5h0M536.3 155.4h0M520.4 91.4h0M382.2 316.5h0M390.2 297.8h0M493.3 234.2h0M498.7 265h0M475.2 110.9h0M394.3 200.9h0M257.1 277.5h0M304.2 304.2h0M538.9 177.5h0M211.5 339.5h0M513.2 110.6h0M522.7 245.5h0M315.3 337.8h0M446.1 101.2h0M514.1 146.2h0M122.5 291.3h0M460.5 283.7h0M322.9 169h0M317.1 236.3h0M468.7 268.3h0M527.9 285h0M321.6 320.8h0M374.5 245.5h0M549.2 199.1h0M319.2 287.9h0M359.8 266.9h0M536.7 182.1h0M403.3 111.2h0M413.9 259.2h0M386 293.6h0M472.9 144.3h0M356.4 332.5h0M512 104.8h0M521.9 279.4h0M332.2 153.7h0M210.6 257.3h0M423.8 134.7h0M494.5 191.9h0M500.2 271h0M437.2 100.6h0M410.3 143.7h0M178.6 242.8h0M321.9 264.6h0M612.8 155.6h0M370.1 327.3h0M309.6 291.8h0M458.7 275h0M369.2 338.4h0M462.5 291.1h0M457.3 257.3h0M365.3 257.7h0M501.8 150.1h0M278.5 218.9h0M528.2 320.3h0M197.3 151.3h0M378.4 182.3h0M425.2 251h0M358.5 285.7h0M427 333.1h0M220.6 336.2h0M324.6 330.3h0M181.7 297.2h0M331.2 328.2h0M489.3 105.7h0M486.6 83.9h0M334.7 337.2h0M499 243.8h0M438.3 157h0M520.9 67h0M306.7 340.5h0M435.9 173.2h0M385.3 119.6h0M451.9 326.9h0M613.6 166.3h0M425.9 208.6h0M368.3 291.9h0M517 109.2h0M515 289.8h0M492.3 135.8h0M532.8 325.2h0M544.8 195.5h0M466.1 235h0M581.9 290.4h0M491 121.4h0M537.1 254.8h0M277.5 187h0M307.8 150.3h0M460.3 163.4h0M526.9 247h0M588.4 69.5h0M536.5 283.5h0M218.4 221.5h0M582.5 153h0M485.4 179.6h0M523.1 307.9h0M302.2 265.4h0M327.1 338.4h0M528.5 238.2h0M595.5 93.9h0M380.7 281.2h0M469.5 301.6h0M337.1 288.7h0M416.1 230.2h0M434 298.1h0M386.4 336.6h0M415.7 88.5h0M555 289.7h0M138 333.3h0M387.3 250.7h0M504.5 220.6h0M353.1 276.3h0M577 68.4h0M588.8 201.9h0M416.8 205.6h0M384.7 299.1h0M321.2 324.9h0M416.1 291.4h0M484.9 207.2h0M156.2 236.2h0M366.9 292.4h0M323.4 231.3h0M353.9 207.1h0M381.9 168.7h0M534.8 140.6h0M429.7 305.2h0M398.3 221.4h0M285.4 116.2h0M471.4 215.9h0M347.2 281.1h0M542.1 182.3h0M223.3 298.5h0M508.3 123.1h0M241.7 165.4h0M477.4 222.7h0M477.6 324.5h0M341.8 309.9h0M299.6 270.9h0M392.1 285.7h0M537.7 267.8h0M473.4 150.4h0M171.4 239.3h0M580.2 274.4h0M507.6 193.2h0M229.7 275.1h0M426.6 290.5h0M347.3 236.9h0M564.3 192.4h0M237.5 344h0M528.5 87.3h0M409.4 287.4h0M591.5 305.7h0M514.1 306.3h0M376.4 104.9h0M320.8 328.6h0M475 287.3h0M472.3 321.8h0M590.3 302.7h0M518.2 99.9h0M276.7 262.7h0M506.1 227.1h0M402.3 92.5h0M252.5 245h0M231.6 350.2h0M457.3 307.5h0M493.2 312.9h0M294 272.5h0M492 236.7h0M438.3 107h0M516 258h0M420 307.5h0M225.9 76.6h0M594.4 158.9h0M344.8 326.7h0M477.5 303.7h0M544.8 179.4h0M190.3 310.2h0M306 249.6h0M467.2 135.6h0M603.7 256.9h0M325.3 294.6h0M518.4 279.3h0M348.9 258.7h0M499.4 142.7h0M457.4 314.6h0M374.2 269.6h0M407.3 278.7h0M307 337.5h0M509.7 278.3h0M349.8 271h0M549.5 273.4h0M399.9 341.1h0M232.3 341.1h0M440.8 314.3h0M443 106.3h0M582.7 144.2h0M372.8 232.6h0M436.1 289.8h0M462.3 197.4h0M259.4 326.5h0M374.3 246.3h0M211.4 179.5h0M477.8 199.2h0M340.3 143.2h0M328.5 200.3h0M598.7 305h0M329.8 217.4h0M645 233h0M232.5 250.5h0M514.8 278.1h0M208.2 331.3h0M355.2 226.1h0M614.2 139.1h0M267 239.5h0M462.4 113.9h0M322.7 222.4h0M342.1 215.1h0M494.2 103.3h0M364.3 220.1h0M417.6 233.9h0M422.2 332.5h0M600.3 197.2h0M343.2 301.7h0M535.8 305.3h0M429.4 197.7h0M420.4 298.3h0M346.7 230.3h0M275.4 226.6h0M448.5 262.4h0M334 284.6h0M442.5 227.7h0M356.3 300h0M507.2 121.3h0M512.1 287.3h0M546.3 277.4h0M561.1 125.9h0M520.7 128.7h0M535.1 130h0M550 227.9h0M492 129.6h0M287 250.1h0M250.1 333.2h0M449.7 304.6h0M434.5 326.5h0M202.6 258.6h0M289.2 178.5h0M590.9 256.2h0M379 153.7h0M496.6 238.3h0M520.4 176.4h0M331.9 84.5h0M473.2 134.8h0M490.2 260.2h0M385.2 187.3h0M356.6 278.9h0M445.8 311.9h0M327.1 344.5h0M433.3 228h0M282.1 272.3h0M496.3 68.9h0M407.1 107.4h0M251.5 277h0M421.9 329.8h0M357.9 292.6h0M446.3 187.2h0M452.8 150.7h0M198.9 286.8h0M335 307.9h0M358.8 267.6h0M498.4 180.5h0M447.7 216.3h0M205.9 221.8h0M367.7 295.8h0M377.2 84.9h0M608.2 256.5h0M300.9 286.1h0M498.7 162.6h0M528.5 294.9h0M381.3 217.3h0M588 157.3h0M418 347.9h0M448.1 97.4h0M267.7 300.7h0M221 246.3h0M444.3 295.2h0M309.7 343.6h0M427.5 322.8h0M472 247.6h0M409.5 326.1h0M539.7 315.7h0M581.5 98.4h0M358.4 222.9h0M505.1 271.7h0M496.9 161.3h0M563.4 219.5h0M589.7 181h0M299.9 342.2h0M581.7 165.6h0M364.5 199h0M379.2 85.7h0M473.1 297.6h0M614.7 316.1h0M579.1 308.5h0M454.5 235.5h0M421.4 272.5h0M278.3 343.9h0M289.5 187h0M575.6 241.3h0M145 163.7h0M352.3 210h0M437.4 253.3h0M349.1 130.2h0M492.1 88.8h0M566.5 119.2h0M455.4 301.9h0M368.6 242.7h0M337.6 244.9h0M294.1 304.9h0M405.6 153.7h0M623.1 183.5h0M490.7 132.8h0M599.2 264.3h0M264.1 302.2h0M541.6 134h0M458.1 130.6h0M644.7 240h0M438.5 215.6h0M450.7 270.7h0M387.5 270h0M278.8 226.1h0M459.6 279.6h0M474.6 222.6h0M284.1 311.1h0M454.5 292.7h0M378.1 336.9h0M312.1 324.9h0M505.1 309.5h0M357.9 147.3h0M590.2 140.9h0M339.5 311h0M527.5 184.2h0M381.1 300.6h0M604.6 203.1h0M249.9 314.5h0M337.4 258.6h0M539.3 277.4h0M530 139.1h0M641 150.9h0M523.6 73.6h0M600 71.5h0M520.1 270.3h0M454.7 230.6h0M492.7 277.2h0M322.7 256.6h0M613.4 101h0M520.8 313.8h0M520 256.3h0M586.9 320.2h0M277.8 344.3h0M555.7 148.2h0M557.9 132.6h0M353.4 293.7h0M363.8 116.5h0M362.1 340h0M500.8 325.8h0M494.9 65.2h0M347.8 317.9h0M308.5 171.6h0M633.9 139.4h0M368.7 183.1h0M197.2 285.1h0M289.6 326.8h0M216.4 287.7h0M320.5 342h0M468.8 311.4h0M420.4 195h0M353.6 277.2h0M433.8 109.1h0M423 337.9h0M469.8 304.8h0M506.3 214.4h0M215.3 294.6h0M455.1 268.3h0M499 276.3h0M447.1 178.1h0M574.5 123h0M481.1 240.6h0M421.5 274.1h0M475.5 294.1h0M508.1 154h0M593.9 138h0M300.6 163h0M358.4 293.1h0M546.4 205h0M545.7 332h0M457.3 183.1h0M373.2 253.1h0M327.6 142.7h0M563.2 152.1h0M216.4 303.5h0M526.3 131.7h0M617.4 160.2h0M441.9 84.2h0" stroke-width="2.3" stroke-opacity=".32"/></g><polygon points="72.1,233.4 93.4,227.2 96.9,227.2 110.3,229.1 115.7,230.5 119.1,227.3 121.2,229.5 122.9,230.9 137,224.8 137.5,224.6 138.5,224.3 140,223.9 141,223.7 142,223.4 143.5,225.6 145,227.8 151.7,225.1 152.4,224.8 152.8,224.8 154.8,223.5 156.2,222.7 156.8,222.6 157.9,222.3 159,222.5 161,222.6 163.4,221.9 163.5,222.4 164.5,222.9 164.6,222.9 165.7,223.2 166.2,223.2 166.6,223.2 167.2,222.9 168.6,223 169.1,223.2 170.1,223 171.4,220.5 172.4,222.4 176.5,221.8 178.6,221.4 178.9,219.8 181.7,218.3 182.4,219.7 182.7,220 184.4,220.4 186.2,216.1 186.9,218.8 187.4,220.4 187.9,220.2 188.3,220 188.8,220.2 190.1,220.4 190.3,220.2 192,219.9 194.1,220.1 194.4,220.3 195,220.2 195.5,220.2 197.2,220.1 197.3,219.9 198.9,219.9 200.8,219.6 201.7,219.5 202,219.5 202.6,219.3 203.5,219.3 203.8,219.2 205.5,219.2 205.9,219 206.1,218.9 206.2,218.9 206.5,218.8 207.2,218.7 207.4,218.7 207.5,218.8 207.8,218.8 208,218.2 208.1,218.6 208.2,218.7 208.3,218.3 208.7,218.5 208.9,218.4 209,218.3 209.1,218.5 209.3,218.5 209.8,218.1 209.9,218.1 210.2,217.6 210.6,217.7 210.7,217.4 211.1,216.7 211.3,217.3 211.4,217.2 211.5,217.1 211.6,217.1 212,216.9 213,216.2 213.9,215.9 214.1,215.9 214.2,215.5 215.3,215.6 215.5,215.6 216.1,215.6 216.4,215.6 217,215.4 218,215.3 218.4,215.3 219.1,215.2 219.4,214.9 219.6,215.2 220.1,215.3 220.5,215.3 220.6,214.8 220.8,215.4 221,215.1 221.7,215.2 221.9,215.3 222.1,214.7 223.3,212.3 224,211.8 224.5,213.8 224.6,214.1 225.2,214.3 225.4,214.9 225.5,214.6 225.9,215 226,214.5 226.9,214.6 227.4,214.7 229,214.7 229.7,214.3 229.8,214.5 231.6,214.3 232,214.4 232.3,214.3 232.5,214.3 233,214 234.5,212.9 234.6,213 235.2,212.8 235.3,212.5 235.6,213.5 235.7,213.7 236.3,213.9 236.7,213.7 236.8,214.1 237,214.1 237.2,214 237.4,213.8 237.5,213.8 237.7,213.8 237.8,213.9 237.9,213.6 238.7,213.7 240.3,213.7 240.5,213.7 241.3,213.3 241.7,213.6 241.8,213.7 241.9,213 243.1,211 243.3,211.2 243.7,211.8 244.6,213.4 245,213.3 245.5,213.4 247.3,213.3 248.3,213.2 248.6,213 248.8,212.8 249.3,212.9 249.7,213 249.9,213.1 250,212.7 250.1,213 250.4,212.8 250.7,213 250.9,212.5 251.1,212.5 251.5,212.5 251.8,212.9 251.9,212.2 252.4,212.6 252.5,212.5 253.1,212.8 254.6,212.2 254.7,212.5 256,212.4 256.1,212 257.1,211.8 257.4,211.4 258.4,211.5 258.5,211.5 258.6,211.6 258.7,211.8 259,211.7 259.1,211.7 259.2,211.6 259.4,211.4 260,211.4 260.2,211.2 260.3,211.1 260.4,211.4 260.6,211.2 260.7,211.3 261.3,211 261.5,211.2 261.6,210.7 262.1,211 262.3,211.1 262.6,211 262.8,210.9 262.9,210.7 263.2,210.4 263.3,210.9 263.4,210.8 263.7,210.8 264.1,210.7 264.4,210.3 265,210.6 265.5,210.2 265.6,209.8 265.9,210.4 266.6,210.2 267,209.9 267.1,210 267.2,210.1 267.4,209.9 267.5,209.7 267.7,209.9 268.3,209.7 268.6,209.4 268.8,209.9 269.1,209.8 269.2,209.5 269.5,209.4 269.9,209.5 270,209.5 270.3,209.1 270.5,208.8 270.8,209.5 271.1,209.3 271.4,209.4 271.5,209.2 271.8,208.7 271.9,209.4 272.1,209.1 273.2,209.1 273.5,208.9 273.7,209.2 273.8,209.2 274,209 274.4,209.2 274.6,208.8 274.7,208.9 274.8,209 275.1,209 275.2,208.9 275.3,208.8 275.4,208.8 276.2,208.6 276.6,208.6 276.7,208.5 277.4,208.7 277.5,208.7 277.7,208.5 277.8,208.3 278,208.5 278.3,208.6 278.5,208.2 278.8,208.4 279.3,208.3 279.6,208.4 279.7,207.9 280.5,208.3 280.7,207.9 280.9,208.2 281.1,208.2 281.2,207.9 281.4,208.1 281.7,208.1 282.1,207.8 282.2,208.2 282.5,208.1 282.9,207.7 283.3,207.8 283.6,207.6 283.7,207.3 283.8,207.8 284.1,207.9 284.5,207.6 285.4,207.6 286.1,207.4 286.2,207.5 286.9,207.1 287,207.5 287.4,207.5 287.6,207.5 287.7,207.4 287.9,207.3 288.2,206.8 288.5,207.4 288.7,207.2 288.9,207.2 289.1,207.2 289.2,206.8 289.3,207.2 289.4,207.2 289.5,207.3 289.6,207.2 289.9,207.3 290.1,206.9 290.2,207 290.3,207.1 290.6,207.2 291.1,206.9 291.4,207 291.6,206.9 291.7,207 291.9,207 292,206.9 292.8,206.7 293.1,206.6 293.8,206.5 294,206.7 294.1,206.5 294.3,206.3 294.6,206.1 295.4,205.2 295.7,205.2 295.8,204.9 296.4,204.4 297.7,203.6 297.8,203.6 298.3,203.4 298.8,203.2 299.3,202.8 299.6,202.5 299.9,202.5 300.6,202.3 300.9,201.8 301.2,202.2 301.3,201.3 301.5,201.9 301.9,201.7 302.2,201.4 302.6,201.5 302.8,201.4 303,201.2 303.1,201.4 303.3,201.3 304.2,197.8 304.4,197.2 305.2,199.6 305.7,200.5 305.8,201 306,200.6 306.1,201 306.4,201 306.7,200.8 306.8,200.8 306.9,200.9 307,200.6 307.1,200.9 307.6,200.6 307.8,200.8 308.1,200.6 308.4,200 308.5,200.7 309.1,200.1 309.5,200.2 309.6,200.3 309.7,200.1 310.2,199.7 310.5,199.1 310.9,198.9 311.5,198.2 312,198.2 312.1,198.1 313,196.9 313.8,196.5 314.1,196.3 314.3,196.2 314.5,196 315.3,195.3 315.6,195.2 316,194.8 316.6,194.4 316.7,194.4 317,194 317.1,194 317.4,192.9 317.5,192.7 317.9,191.1 318.1,191 318.5,191.9 318.6,191.9 318.8,192.7 318.9,193 319.2,193.1 319.3,192.8 319.6,192.4 320.1,192.7 320.3,192.2 320.5,192.6 320.7,192.6 320.8,192 321.1,192.1 321.2,192.2 321.3,192 321.6,191.9 321.8,192.1 321.9,191.9 322,191.5 322.5,191.8 322.7,191.6 322.9,191 323.1,191.4 323.4,191.4 324.3,191.1 324.4,190.9 324.6,190.8 324.9,189.4 325.3,186.9 325.5,185.6 325.6,184.9 325.7,183.8 326,184.4 326.1,184.8 326.2,184.8 326.6,187.1 327.1,188.7 327.2,189.1 327.6,189.7 328,189.3 328.2,189.4 328.5,189.3 328.6,189.1 328.7,189.2 329.3,188.7 329.5,188.6 329.7,188.2 329.8,188.4 330,188.2 330.5,187.5 330.9,187.5 331.2,187.4 331.3,187.2 331.6,187 331.7,186.7 331.9,186.9 332,186.6 332.1,186.6 332.2,186.7 332.6,186.1 332.8,186.3 333.2,186.1 333.3,185.6 333.6,185.5 333.9,185.5 334,185 334.7,184.6 334.8,184.9 334.9,184.4 335,183.8 335.3,182.7 335.6,182.1 336,183.1 336.1,183 337,181.7 337.1,181.5 337.4,181.5 337.5,181.3 337.6,182 337.7,181.8 337.8,182.1 338.2,182.5 338.3,182.4 338.4,182.3 339.2,182 339.5,181.9 339.8,181.9 340.1,181.7 340.3,180.7 340.5,180.2 341,178.2 341.5,179.2 341.7,179.9 341.8,180.3 342,180.8 342.1,181.1 342.4,181.2 342.6,181.2 342.8,181.2 342.9,181.1 343,181.3 343.2,181.2 343.7,181.2 344.2,180.8 344.6,181 344.8,180.7 345.3,180.5 345.4,180.8 346.1,180.6 346.7,180.5 347.2,180.4 347.3,180.4 347.5,180.4 347.6,180.2 347.8,180.4 348.3,180.1 348.8,180.2 348.9,180.1 349.1,180.1 349.7,179.8 349.8,179.7 350.2,179.3 350.3,179.4 350.4,179.3 350.6,179.6 350.7,179.5 351.4,179.4 351.6,179.3 352.3,178.8 352.4,179 353.1,178.8 353.4,178.6 353.5,178.7 353.6,178.8 353.9,178.6 354,178.4 354.3,178.2 355.2,178.3 356.3,174.1 356.4,173.6 356.5,173.8 356.6,174.2 356.9,174.8 357.3,176.3 357.5,177.2 357.9,177.4 358.1,176.9 358.4,176.8 358.5,176.8 358.8,177 359.2,177.1 359.7,176.5 359.8,176.7 360.3,176.6 360.9,176.4 361,176.2 361.3,175.9 362.1,176.1 362.2,176.2 362.6,176 363.2,175.3 363.5,175.8 363.8,175.4 364.3,175.4 364.5,175.1 364.6,175.3 364.8,174.6 364.9,175.1 365,175.3 365.3,174.8 365.7,174.9 366.3,174.7 366.8,174.5 366.9,174.6 367.7,174 368,174.1 368.3,174.4 368.4,173.9 368.6,174.1 368.7,173.9 369,174.2 369.1,174 369.2,173.7 369.4,173.9 369.7,173.6 370.1,173.4 370.2,173.5 370.3,173.1 370.5,173.3 370.9,173.5 371.6,173 371.7,173.1 372.3,172.9 372.5,172.6 372.6,172.7 372.8,172.6 373.2,172.3 373.4,172.4 373.6,172.3 373.7,172.3 374.1,171.9 374.2,171.5 374.3,171.9 374.4,171.8 374.5,171.9 374.6,171.8 374.8,171.5 375,171.6 375.2,171.4 375.3,171.7 375.4,171.4 375.5,171.5 375.7,171.3 375.9,171.4 376.1,171.3 376.3,171.3 376.4,170.8 376.7,171.2 376.8,171.1 377.2,170.8 377.3,170.7 377.4,170.7 378.1,170.6 378.2,170.5 378.4,169.9 379,168.6 379.2,168.2 379.3,167.9 379.5,168.2 379.6,168.3 380,168.8 380.4,169.1 380.7,169.4 381.1,169.1 381.2,169 381.3,168.9 381.8,168.6 381.9,168.2 382.2,168.4 382.3,168.2 382.6,167.9 382.7,168.1 383.3,167.6 383.5,167.5 383.7,167.2 383.9,167.4 384.2,167.1 384.3,167 384.7,166.8 384.8,166.7 385.1,166.6 385.2,166.3 385.3,166 385.8,166 386,166 386.4,165.5 386.8,165.3 387.2,165 387.3,165 387.5,165.1 388,164.7 388.3,163.9 388.5,164.5 388.6,164.3 388.7,164.1 389.3,163.7 390.1,162.9 390.2,163 390.5,162.9 390.6,162.6 390.7,162.4 391.3,162.3 391.4,162.2 392,161.6 392.1,161.2 392.2,161.7 392.3,161.4 392.4,161.2 392.5,161.4 393.1,160.5 393.2,160.8 393.5,160.7 393.6,160.5 393.8,160.3 393.9,160.3 394.3,159.9 394.5,159.8 394.8,159.6 395.4,159.2 395.8,158.7 396,158.7 396.5,158.2 396.6,158.3 396.7,158.4 396.8,157.8 396.9,158 397,158 397.1,158.1 397.4,157.9 397.6,157.9 397.8,157.9 398.3,157.6 398.4,157.7 398.5,157.2 398.8,157.4 398.9,157.4 399.8,157.2 399.9,157.1 400,156.7 400.2,156.4 400.4,156.9 401.1,156.7 401.6,156.4 401.7,156.5 402,156.2 402.1,156.1 402.2,156.1 402.3,155.7 402.4,156.1 402.5,156 403.1,155.3 403.3,155.7 403.4,155.7 403.6,155.6 403.7,155.5 404.5,155.4 404.7,155.2 404.8,155 405,154.9 405.1,155.2 405.6,154.9 405.7,154.6 405.9,155 406.2,154.5 406.4,154.8 406.5,154.9 406.7,154.7 407.1,154.3 407.3,154.3 407.5,153.1 407.7,152.4 407.8,151.9 408,150.2 408.2,150.4 408.4,151.8 408.9,154.1 409.1,153.9 409.4,153 409.5,152.9 409.8,152.2 410,152 410.2,153.2 410.3,153.2 410.7,153.7 410.8,153.5 410.9,153.6 411.1,153.2 411.7,153.4 411.9,153.2 412,153.5 412.2,153.3 412.7,153.2 412.8,153.3 412.9,153.2 413.5,152.7 413.6,152.8 413.9,152.7 414,152.7 414.2,152.8 414.5,152.5 414.6,152.8 415.1,152.3 415.3,152.6 415.5,152 415.7,152.2 416.1,152.3 416.4,152.1 416.7,152.4 416.8,152.3 417,152.1 417.1,152 417.2,151.9 417.4,152.2 417.6,151.9 417.7,152 418,152 418.4,151.9 418.6,151.6 418.7,151.9 418.8,151.9 418.9,151.4 419.1,151 419.2,151.4 419.8,151.7 420,151.6 420.1,151.5 420.4,151.6 420.5,151.4 420.7,151.2 420.8,150.9 421.2,151.3 421.4,151.2 421.5,151.3 421.8,151 421.9,151.2 422.1,150.9 422.2,151.1 422.7,151.1 422.8,151 422.9,150.8 423,151.1 423.1,151.1 423.4,150.9 423.5,151 423.8,150.9 423.9,150.7 424,150.6 424.1,150.6 424.6,150.7 424.8,150.7 425.2,150.5 425.6,150.6 425.8,150.4 425.9,150.2 426.5,149.7 426.6,150.2 426.8,150.2 427,150.3 427.1,150.4 427.2,150.4 427.3,150 427.5,150.3 427.6,149.9 427.7,150.1 427.8,149.8 427.9,150.3 428,150.1 428.8,149.6 429.2,149.9 429.4,149.8 429.6,149.8 429.7,149.6 430.4,149.7 430.6,149.5 430.9,149.5 431.1,149.2 431.3,149.3 431.5,149.6 431.6,149.3 431.7,149.5 431.9,149.3 432.1,149 432.2,149.4 432.3,148.8 432.6,149.3 432.7,149.2 433,149.1 433.2,149.1 433.3,148.9 433.4,149.2 433.6,149.2 433.8,149.1 433.9,149.1 434,149 434.1,148.9 434.4,149 434.5,149.1 434.6,148.7 434.7,148.8 435.1,149 435.3,148.5 435.4,148.6 435.6,148.7 435.7,148.7 435.9,148.7 436,148.7 436.1,148.8 436.4,148.4 436.6,148.6 436.9,148.2 437,148.7 437.1,148.5 437.2,148.5 437.4,148.2 437.8,148.2 438,148 438.3,147.9 438.5,147.9 439,148 439.4,148.2 439.6,148.2 440.1,147.9 440.3,147.8 440.4,148 440.7,148.1 440.8,147.9 441.1,148 441.2,147.7 441.8,147.7 441.9,147.7 442,147.4 442.3,147.6 442.5,147.6 442.6,147.6 442.7,147.4 442.9,147.5 443,147.4 443.3,147.1 443.4,147.5 443.5,147.6 444.3,147.5 444.6,147.4 444.7,147.2 444.9,147.1 445.3,146.7 445.6,147.1 445.7,146.7 445.8,147 445.9,146.8 446.1,146.8 446.3,147.1 446.4,146.8 446.5,147 446.7,146.9 446.8,146.4 447,146.6 447.1,146.7 447.3,146.7 447.4,146.8 447.5,146.7 447.7,146.7 447.9,146.4 448,146.6 448.1,146.3 448.2,146.2 448.3,146.5 448.5,146.5 448.6,146.4 448.9,146.2 449,146.2 449.4,145.9 449.6,146 449.7,146.1 449.8,145.7 449.9,146.1 450.5,145.5 450.7,145.9 450.9,145.5 451,145.9 451.5,145.7 451.8,145.3 451.9,145.2 452.3,145.5 452.8,145.4 452.9,145.1 453.2,145.4 453.7,144.4 453.8,145.2 454.1,144.6 454.4,145 454.5,145 454.6,144.9 454.7,144.8 454.9,144.8 455.1,144.4 455.2,144.8 455.3,144.5 455.4,144.7 455.6,144.6 455.7,144.7 456,144.4 456.1,144.3 456.2,144.1 456.3,144.3 456.6,144.3 456.7,144.4 456.8,144.4 457.2,144.4 457.3,143.7 457.4,144.3 457.8,143.7 458.1,144.1 458.2,143.8 458.7,143.1 458.8,143.9 459.5,143.5 459.6,143.2 459.7,143.1 459.9,143.4 460.3,143.4 460.5,143 460.6,143.2 460.9,143.1 461.1,142.8 461.4,142.6 461.5,142.4 461.7,142.7 462,141.9 462.3,142.4 462.4,142.6 462.5,141.8 462.6,142.5 462.8,142 463.4,141.8 463.9,141.9 464,142 464.2,141.6 464.3,141.8 464.4,141.8 464.5,141.5 464.6,141.6 464.8,141.4 464.9,141.6 465.5,140.9 466,140.8 466.1,140.8 466.2,141 466.4,141 466.7,140.8 466.8,140.8 467,140.7 467.2,139.9 467.7,138.6 468.4,139.2 468.5,139.6 468.7,139.2 468.8,139.2 469.1,139.3 469.2,139.2 469.3,139.1 469.5,139.3 469.6,139 469.7,139.1 469.8,138.6 469.9,139.1 470,138.8 470.1,138.7 470.2,138.4 470.7,138.6 471.1,137.8 471.2,138.3 471.4,138.2 471.8,137.7 471.9,137.8 472,137.7 472.3,137.3 472.7,137.2 472.9,137.2 473.1,137.1 473.2,137.1 473.3,137 473.4,136.6 473.5,136.7 473.7,136.8 473.8,136.3 473.9,136.8 474.6,136.3 474.9,135.9 475,136.1 475.2,135.2 475.3,135.9 475.5,135.6 475.7,135.5 476.1,135.2 476.9,135 477,134.9 477.2,134.6 477.3,133.9 477.4,134.4 477.5,134.2 477.6,134.2 477.7,134.3 477.8,134.5 478.4,133.9 478.6,133.6 478.9,133.5 479.2,133.4 479.7,133.1 480.8,132.5 480.9,131.9 481.1,132.1 481.5,131.7 482.6,131.2 482.8,131 482.9,130.6 483,130.5 483.3,130.4 483.8,130.3 483.9,130.1 484.3,129.9 484.4,129.7 484.5,129.6 484.6,129.7 484.9,129.7 485.3,129.7 485.4,129.2 485.5,129.8 486,129.4 486.3,129.4 486.4,128.8 486.5,129.3 486.6,129.1 486.8,129.2 486.9,128.9 487,129 487.1,129 487.3,128.9 487.7,128.8 488.2,128.6 488.8,128.2 489.2,127.9 489.3,127.9 489.7,128.2 490,127.8 490.1,127.9 490.2,127.9 490.3,128 490.7,127.7 490.8,127.5 490.9,127.3 491,127.4 491.3,127.6 491.5,127.5 491.6,127.4 491.7,127.2 491.8,126.9 491.9,127.4 492,127.2 492.1,126.9 492.3,127.2 492.6,127 492.7,127 492.9,126.7 493.2,127 493.3,127 493.6,126.9 493.7,126.9 494.1,126.8 494.2,126.6 494.3,126.6 494.5,126.6 494.9,126.6 495,126 495.2,126.5 495.4,126.5 495.6,126.3 495.8,126.1 495.9,126.1 496.1,126.1 496.3,126.1 496.6,126 496.9,125.9 497.1,125.7 497.3,125.6 497.5,125.8 497.7,125.8 497.8,125.6 498,125.4 498.4,125.7 498.5,125.5 498.6,125.3 498.7,125.4 498.8,125.5 498.9,125.4 499,125.6 499.3,125.3 499.4,125.1 499.5,125.1 499.6,125.4 499.8,125.2 500.2,125.3 500.3,125.1 500.8,125 501,124.7 501.2,124.9 501.5,124.4 501.6,124.6 501.8,124.8 502.4,124.6 502.6,124.7 503,124.4 503.2,124.2 503.3,124.6 503.5,124.3 503.6,124.5 503.7,124.2 504.1,124.2 504.2,124 504.5,123.4 504.6,123.1 504.8,123 505.1,122.6 505.3,123.1 505.5,123.2 505.7,123.6 505.8,123.6 505.9,123.7 506.1,123.9 506.2,124 506.3,123.7 506.4,123.8 506.6,124 506.9,123.9 507.2,123.9 507.3,123.4 507.6,123.6 507.9,123.7 508.1,123.6 508.2,123.8 508.3,123.7 508.7,123.4 508.9,123.6 509.7,123.4 509.9,123.1 510,123.3 510.1,123.5 510.3,123.3 510.4,123 510.5,123.4 510.7,123.2 510.9,123 511,122.9 511.1,123.3 511.2,123.1 511.5,123.2 511.9,123.1 512,123 512.1,122.8 512.7,123 512.8,122.8 513,122.7 513.2,122.6 513.4,122.9 513.5,122.9 514.1,122.7 514.4,122.6 514.7,122.6 514.8,122.6 515,122.3 515.5,122.2 515.7,122.2 515.8,122.2 516,122.4 516.1,122.4 516.2,122.5 516.3,122.4 516.5,122.3 516.6,122.2 517,122.1 517.1,122.2 517.3,122.3 517.5,122 517.8,121.9 517.9,122.1 518.2,122.1 518.4,122 518.5,122.1 518.8,122 519.2,122 519.7,121.9 519.8,121.3 519.9,121.4 520,121.8 520.1,121.7 520.2,121.7 520.4,121.8 520.7,121.8 520.8,121.6 520.9,121.7 521.1,121.8 521.5,121.3 521.9,121.3 522.1,121.5 522.2,121.6 522.3,121.1 522.6,121.2 522.7,121.2 522.8,121.4 522.9,121.5 523,121.1 523.1,121.2 523.6,120.9 524,121.4 524.2,121.2 524.3,121 525.1,121.1 525.2,121.2 525.3,121.2 525.5,120.7 525.6,120.6 525.8,121.2 525.9,120.9 526.3,120.9 526.5,121 526.6,120.6 526.9,120.6 527.1,121 527.2,120.8 527.4,120.7 527.5,120.6 527.6,120.7 527.7,120.9 527.8,120.7 527.9,120.6 528,120.8 528.1,120.9 528.2,120.9 528.4,120.6 528.5,120.7 528.7,120.7 528.8,120.1 529,120.5 529.1,120.4 529.5,120.5 529.6,120.6 529.8,120.5 529.9,120.3 530,120.5 530.4,120.1 530.6,118.9 530.7,118.7 531,117.1 531.2,116.1 531.3,115.3 532.3,120.1 532.4,120 532.5,119.4 532.8,119.9 532.9,120.3 533,120.1 533.3,120.1 533.8,120.1 534.2,120.1 534.3,119.7 534.6,120 534.8,119.9 535.1,119.9 535.3,119.9 535.4,119.7 535.8,119.9 536.3,119.6 536.5,119.5 536.7,119.7 536.8,119.5 536.9,119.4 537.1,119.4 537.3,119.5 537.4,119.2 537.6,119.1 537.7,119.2 537.8,118.9 538,119.3 538.1,119.6 538.2,119.4 538.9,118.8 539.2,119 539.3,119.3 539.4,118.9 539.7,119.2 539.9,119 540.3,118.9 540.4,119.2 540.6,119.2 540.7,119.1 540.9,118.4 541.2,118.8 541.4,118.9 541.5,119 541.6,118.8 541.9,118.5 542,118.8 542.1,118.8 542.4,118.3 542.5,118.6 542.7,118.7 542.9,118.8 543.3,118.6 543.5,118.7 543.7,118.3 543.9,118.7 544,118.6 544.1,118.3 544.7,118.4 544.8,118.4 544.9,118.5 545,118.3 545.1,118.5 545.2,118.4 545.3,118.1 545.7,118.4 545.8,118.2 546.1,118.1 546.2,118.3 546.3,118.4 546.4,117.5 546.6,118.1 546.7,118.3 546.9,118.1 547,118.2 547.1,117.9 547.5,118 548.1,117.6 548.3,118 548.6,116.7 549.2,113.8 549.4,113 549.5,112.9 549.6,113.8 549.9,114.9 550,115.6 550.1,116 550.4,117.1 550.6,117.7 551.4,117.7 551.9,116.8 552.1,117.7 552.4,117.6 552.5,117.3 552.6,117.3 553.1,117.5 553.2,117 553.5,117.2 553.9,117.3 554,117.3 554.1,117.4 554.2,117.4 554.7,117.4 555,117.3 555.3,116.6 555.5,116.3 555.6,116.1 555.7,115.7 556,114.8 556.4,115.1 556.8,116.1 557.1,116.3 557.3,117 557.5,116.8 557.9,116.5 558.3,116.6 558.6,116.9 559,116.7 559.2,116.6 559.3,116.7 560.1,116.6 560.2,116.4 560.9,116.5 561,116.6 561.1,116.2 561.2,116.6 561.4,116.7 562.2,116.5 562.3,116.4 562.4,116.6 562.8,116.4 562.9,116.3 563.1,116.4 563.2,116.4 563.3,116.4 563.4,116.5 563.6,116.5 563.8,116.1 564,116.5 564.3,116.2 565.3,116 566.3,115.2 566.5,114 566.9,111.4 567.3,113.2 567.5,114.2 567.6,114.4 567.7,115 567.8,115.3 568.2,115.6 568.4,115.9 568.6,116.1 568.7,116 569,115.6 570,115.4 570.4,115.5 570.5,115.5 571.4,115.6 571.5,115.5 571.7,115.8 572.1,115.8 572.5,115.5 572.6,115.6 573,115.5 573.2,115.6 573.5,115.5 574,115.6 574.1,115.7 574.3,115.5 574.4,115.6 574.5,115.2 575,115.6 575.6,115.4 576.1,115.5 576.2,115.4 576.7,115.5 576.9,115.4 577,115.3 577.1,115.2 577.5,114.9 577.9,115.3 578,115.4 578.2,115.2 578.3,115 578.4,115.2 578.5,115.2 578.8,115.1 578.9,115.3 579.1,115.1 579.4,114.9 579.7,115.2 579.8,115.1 580.2,114.7 580.4,114.6 581,112 581.2,111.1 581.5,112.7 581.7,113.9 581.9,114.6 582,114.9 582.1,114.9 582.3,114.5 582.4,114.7 582.5,114.9 582.7,114.7 582.9,114.9 583.7,114.8 583.9,114.8 584.3,114.7 584.6,114.7 585.6,114.2 586.1,114.6 586.7,114.4 586.8,114.5 586.9,114.3 587,114.4 587.6,114.1 587.9,114.3 588,114.3 588.1,114.2 588.4,114 588.8,114.2 588.9,114 589,113.8 589.2,114.1 589.7,114 589.8,114 590,114 590.1,113.7 590.2,113.6 590.3,113.7 590.4,113.7 590.8,113.1 590.9,113.8 591.3,113.5 591.5,113.9 591.7,113.9 592.1,113.6 592.3,113.6 592.9,113.6 593.2,113.3 593.3,113.4 593.4,113.5 593.9,113.6 594.1,113.6 594.3,113.4 594.4,113.1 594.6,113.3 595,113.7 595.1,113.7 595.5,113.6 595.6,113.5 596.1,113.5 596.3,113.5 596.4,113.5 596.9,113.6 597,112.9 597.2,113.6 597.3,113.2 597.4,113.1 597.5,112.9 597.8,113.5 597.9,113.6 598,113.5 598.3,113.4 598.6,113.1 598.7,113 598.9,113.4 599,113.4 599.2,113.2 599.5,113.3 599.6,113.5 600,113.1 600.3,113.3 600.6,113.2 600.7,113.3 600.9,113.4 601,113.3 601.4,113.3 601.5,113.4 602,113.4 602.9,113.4 603.3,113.2 603.7,113.4 604.5,113.2 604.6,113.1 605.1,113.1 605.8,113.4 607.8,113.2 608.2,113.2 608.7,113.2 608.8,113.2 609.3,113.1 609.4,113.2 609.5,113.3 609.7,113.1 609.8,113 610,112.9 610.9,113.3 611,113.1 611.4,113.3 611.7,113.5 612.4,113.5 612.6,113.1 612.8,113.5 613.1,113.6 613.3,113.5 613.4,113.7 613.6,113.5 613.9,113.7 614,113.4 614.1,113.6 614.2,113.7 614.4,113.8 614.5,113.7 614.7,113.5 614.9,113.3 615.5,113.9 615.6,113.8 616,113.8 616.1,114 617.4,114.1 618.6,114.1 619.5,114 620.1,114.3 620.7,114.3 621.4,114.3 621.7,114.6 621.8,114.3 621.9,114.5 622.3,114.6 622.6,114.5 623,114.7 623.1,114.8 623.2,114.5 624.2,114.9 624.3,115 624.9,114.5 625.3,115 626.2,115 626.7,115.2 627.1,115.3 627.2,115.2 627.3,115.1 627.5,115.1 627.6,115.4 627.9,115.3 628,115.3 628.2,115.2 628.9,114.9 629.4,115.5 630.1,115.4 630.4,115.2 630.8,115.6 630.9,115.5 631.1,115.6 632.7,115.9 633.7,115.9 633.9,115.7 634.1,115.6 634.2,115.9 634.5,116 635.3,116.2 635.4,116.2 636,116.1 637,115.5 637.1,116 637.2,115.6 638.5,115.7 639.1,115.6 639.7,113.8 640.5,113.7 641,115.2 641.8,115.6 642,115.5 642.7,115.1 642.8,115.5 643.7,115.1 644,114.8 644.1,115.1 644.3,115.4 644.4,115.3 644.7,115.1 644.8,115.4 644.9,115.3 645,114.9 645,241.3 644.9,241 644.8,240.8 644.7,241.1 644.4,241.1 644.3,241 644.1,241.3 644,241.7 643.7,241.6 642.8,241.4 642.7,241.8 642,241.7 641.8,241.6 641,242.2 640.5,241.4 639.7,241 639.1,242.3 638.5,242.6 637.2,243.1 637.1,242.7 637,243.3 636,243.7 635.4,244.1 635.3,244.2 634.5,245 634.2,245.4 634.1,245.8 633.9,245.8 633.7,245.8 632.7,246.5 631.1,247 630.9,247.1 630.8,247 630.4,247.5 630.1,247.3 629.4,247.3 628.9,247.9 628.2,247.8 628,247.6 627.9,247.7 627.6,247.7 627.5,247.9 627.3,248 627.2,247.9 627.1,247.8 626.7,247.9 626.2,248.2 625.3,248.3 624.9,248.9 624.3,248.5 624.2,248.5 623.2,249.1 623.1,248.9 623,249 622.6,249.1 622.3,249.1 621.9,249.3 621.8,249.6 621.7,249.2 621.4,249.6 620.7,249.7 620.1,249.8 619.5,250.2 618.6,250.3 617.4,250.5 616.1,250.9 616,251.1 615.6,251.2 615.5,251 614.9,251.8 614.7,251.6 614.5,251.5 614.4,251.4 614.2,251.5 614.1,251.6 614,251.8 613.9,251.5 613.6,251.8 613.4,251.7 613.3,251.9 613.1,251.8 612.8,252 612.6,252.4 612.4,252 611.7,252.2 611.4,252.5 611,252.8 610.9,252.6 610,253.3 609.8,253.3 609.7,253.3 609.5,253.1 609.4,253.2 609.3,253.4 608.8,253.4 608.7,253.5 608.2,253.7 607.8,253.9 605.8,254.6 605.1,255.1 604.6,255.4 604.5,255.3 603.7,255.4 603.3,255.8 602.9,255.8 602,256.2 601.5,256.4 601.4,256.5 601,256.7 600.9,256.6 600.7,256.9 600.6,257 600.3,257.1 600,257.4 599.6,257.2 599.5,257.5 599.2,257.7 599,257.6 598.9,257.6 598.7,258.1 598.6,258.1 598.3,258 598,258 597.9,258 597.8,258.1 597.5,258.8 597.4,258.7 597.3,258.6 597.2,258.3 597,259.1 596.9,258.4 596.4,258.8 596.3,258.9 596.1,258.9 595.6,259.2 595.5,259.1 595.1,259.2 595,259.3 594.6,259.9 594.4,260.1 594.3,259.9 594.1,259.8 593.9,259.9 593.4,260.3 593.3,260.5 593.2,260.5 592.9,260.5 592.3,260.8 592.1,260.9 591.7,260.9 591.5,261 591.3,261.4 590.9,261.3 590.8,262.1 590.4,261.7 590.3,261.7 590.2,261.9 590.1,261.8 590,261.5 589.8,261.6 589.7,261.6 589.2,261.8 589,262.2 588.9,262 588.8,261.9 588.4,262.2 588.1,262.2 588,262.1 587.9,262.2 587.6,262.5 587,262.5 586.9,262.7 586.8,262.5 586.7,262.6 586.1,262.8 585.6,263.4 584.6,263.4 584.3,263.5 583.9,263.5 583.7,263.6 582.9,263.9 582.7,264.1 582.5,264.1 582.4,264.3 582.3,264.6 582.1,264.3 582,264.3 581.9,264.5 581.7,263.5 581.5,263 581.2,262.1 581,262.7 580.4,265.2 580.2,265.1 579.8,264.8 579.7,264.7 579.4,265.2 579.1,265.1 578.9,264.9 578.8,265.1 578.5,265.1 578.4,265.1 578.3,265.4 578.2,265.2 578,265 577.9,265.1 577.5,265.7 577.1,265.5 577,265.5 576.9,265.3 576.7,265.3 576.2,265.6 576.1,265.4 575.6,265.7 575,265.7 574.5,266.2 574.4,265.8 574.3,265.9 574.1,265.8 574,265.9 573.5,266.2 573.2,266.2 573,266.3 572.6,266.3 572.5,266.4 572.1,266.2 571.7,266.3 571.5,266.7 571.4,266.7 570.5,267 570.4,267 570,267.1 569,267.2 568.7,266.8 568.6,266.7 568.4,267 568.2,267.3 567.8,267.1 567.7,266.7 567.6,266.4 567.5,265.8 567.3,265.1 566.9,265.2 566.5,266 566.3,266.6 565.3,267.6 564.3,267.6 564,267.4 563.8,267.8 563.6,267.5 563.4,267.5 563.3,267.6 563.2,267.7 563.1,267.7 562.9,267.8 562.8,267.8 562.4,267.7 562.3,267.9 562.2,267.8 561.4,267.8 561.2,268 561.1,268.4 561,268 560.9,268.1 560.2,268.4 560.1,268.3 559.3,268.3 559.2,268.4 559,268.4 558.6,268.3 558.3,268.6 557.9,268.8 557.5,268.7 557.3,268.4 557.1,268.8 556.8,268 556.4,267.7 556,267.5 555.7,267.8 555.6,267.8 555.5,268 555.3,268.4 555,268.7 554.7,268.7 554.2,268.8 554.1,268.8 554,268.9 553.9,269 553.5,269.2 553.2,269.4 553.1,269 552.6,269.2 552.5,269.3 552.4,269 552.1,269 551.9,269.9 551.4,269.2 550.6,269.3 550.4,269.3 550.1,268.3 550,268 549.9,268 549.6,266.9 549.5,267.2 549.4,266.5 549.2,267.2 548.6,268.8 548.3,269.7 548.1,270.1 547.5,269.9 547.1,270.1 547,269.8 546.9,270 546.7,269.8 546.6,270 546.4,270.7 546.3,269.8 546.2,269.9 546.1,270.2 545.8,270.1 545.7,269.9 545.3,270.3 545.2,270.1 545.1,270 545,270.2 544.9,270.1 544.8,270.2 544.7,270.3 544.1,270.5 544,270.2 543.9,270.2 543.7,270.6 543.5,270.3 543.3,270.4 542.9,270.4 542.7,270.5 542.5,270.6 542.4,271 542.1,270.5 542,270.6 541.9,270.9 541.6,270.7 541.5,270.5 541.4,270.6 541.2,270.8 540.9,271.3 540.7,270.6 540.6,270.5 540.4,270.6 540.3,271 539.9,271 539.7,270.8 539.4,271.2 539.3,270.7 539.2,271.1 538.9,271.3 538.2,271 538.1,270.8 538,271.1 537.8,271.6 537.7,271.2 537.6,271.4 537.4,271.3 537.3,271.1 537.1,271.2 536.9,271.3 536.8,271.1 536.7,271 536.5,271.3 536.3,271.2 535.8,271 535.4,271.3 535.3,271.1 535.1,271.1 534.8,271.2 534.6,271.2 534.3,271.6 534.2,271.2 533.8,271.3 533.3,271.3 533,271.5 532.9,271.3 532.8,271.7 532.5,272.2 532.4,271.6 532.3,271.2 531.3,269.3 531.2,269.2 531,269.8 530.7,270.5 530.6,271 530.4,271.3 530,271.7 529.9,271.9 529.8,271.7 529.6,271.7 529.5,271.8 529.1,272 529,271.9 528.8,272.4 528.7,271.8 528.5,271.8 528.4,272 528.2,271.7 528.1,271.8 528,271.8 527.9,272.1 527.8,272 527.7,271.8 527.6,272 527.5,272.2 527.4,272 527.2,272.1 527.1,271.9 526.9,272.3 526.6,272.3 526.5,271.9 526.3,272.1 525.9,272.3 525.8,272 525.6,272.6 525.5,272.5 525.3,272 525.2,272.1 525.1,272.2 524.3,272.5 524.2,272.3 524,272.1 523.6,272.8 523.1,272.5 523,272.6 522.9,272.3 522.8,272.4 522.7,272.6 522.6,272.6 522.3,272.9 522.2,272.4 522.1,272.5 521.9,272.7 521.5,272.8 521.1,272.4 520.9,272.5 520.8,272.6 520.7,272.5 520.4,272.5 520.2,272.7 520.1,272.8 520,272.7 519.9,273.1 519.8,273.2 519.7,272.6 519.2,272.7 518.8,272.8 518.5,272.8 518.4,272.9 518.2,272.9 517.9,272.9 517.8,273.2 517.5,273.1 517.3,272.9 517.1,273.1 517,273.3 516.6,273.2 516.5,273.2 516.3,273.2 516.2,273.1 516.1,273.2 516,273.2 515.8,273.5 515.7,273.6 515.5,273.6 515,273.6 514.8,273.4 514.7,273.4 514.4,273.5 514.1,273.5 513.5,273.5 513.4,273.5 513.2,273.9 513,273.8 512.8,273.8 512.7,273.6 512.1,274 512,273.8 511.9,273.8 511.5,273.8 511.2,274 511.1,273.9 511,274.3 510.9,274.3 510.7,274.1 510.5,274 510.4,274.4 510.3,274.1 510.1,274 510,274.2 509.9,274.5 509.7,274.2 508.9,274.2 508.7,274.6 508.3,274.3 508.2,274.3 508.1,274.5 507.9,274.4 507.6,274.6 507.3,275 507.2,274.5 506.9,274.6 506.6,274.5 506.4,274.8 506.3,274.9 506.2,274.7 506.1,274.7 505.9,274.5 505.8,274.4 505.7,274.3 505.5,274.3 505.3,274 505.1,274.1 504.8,274.2 504.6,274.7 504.5,274.6 504.2,274.7 504.1,274.8 503.7,275.2 503.6,275 503.5,275.3 503.3,275 503.2,275.5 503,275.3 502.6,275.1 502.4,275.3 501.8,275.3 501.6,275.6 501.5,275.8 501.2,275.5 501,275.7 500.8,275.6 500.3,275.6 500.2,275.5 499.8,275.8 499.6,275.6 499.5,275.9 499.4,276 499.3,275.8 499,275.7 498.9,275.9 498.8,275.9 498.7,275.9 498.6,276.2 498.5,276 498.4,275.8 498,276.3 497.8,276.3 497.7,276.1 497.5,276.2 497.3,276.5 497.1,276.5 496.9,276.4 496.6,276.5 496.3,276.6 496.1,276.7 495.9,276.8 495.8,276.9 495.6,276.7 495.4,276.7 495.2,276.8 495,277.3 494.9,276.9 494.5,277 494.3,277.1 494.2,277.2 494.1,277.1 493.7,277.2 493.6,277.2 493.3,277.3 493.2,277.4 492.9,277.8 492.7,277.6 492.6,277.7 492.3,277.7 492.1,278.1 492,277.9 491.9,277.8 491.8,278.3 491.7,278 491.6,277.9 491.5,277.9 491.3,277.9 491,278.3 490.9,278.5 490.8,278.3 490.7,278.2 490.3,278.2 490.2,278.3 490.1,278.5 490,278.6 489.7,278.4 489.3,279 489.2,279 488.8,279 488.2,279 487.7,279.2 487.3,279.5 487.1,279.5 487,279.6 486.9,279.8 486.8,279.6 486.6,279.8 486.5,279.6 486.4,280.2 486.3,279.8 486,280 485.5,280.1 485.4,280.7 485.3,280.3 484.9,280.6 484.6,280.8 484.5,281 484.4,281 484.3,280.9 483.9,281 483.8,280.9 483.3,281.4 483,281.6 482.9,281.6 482.8,281.4 482.6,281.4 481.5,282.1 481.1,282.2 480.9,282.7 480.8,282.2 479.7,282.8 479.2,283.1 478.9,283.3 478.6,283.5 478.4,283.4 477.8,283.5 477.7,283.8 477.6,284 477.5,284.1 477.4,284.1 477.3,284.6 477.2,284 477,284 476.9,284 476.1,284.6 475.7,284.7 475.5,284.8 475.3,284.7 475.2,285.6 475,284.9 474.9,285.2 474.6,285.1 473.9,285.4 473.8,285.9 473.7,285.5 473.5,285.8 473.4,286 473.3,285.7 473.2,285.7 473.1,285.8 472.9,285.9 472.7,286.1 472.3,286.5 472,286.5 471.9,286.4 471.8,286.6 471.4,286.5 471.2,286.7 471.1,287.3 470.7,286.9 470.2,287.6 470.1,287.3 470,287.4 469.9,287.1 469.8,287.7 469.7,287.3 469.6,287.5 469.5,287.3 469.3,287.7 469.2,287.7 469.1,287.7 468.8,288.1 468.7,288.2 468.5,287.8 468.4,287.9 467.7,287.1 467.2,288.1 467,288.2 466.8,288.3 466.7,288.4 466.4,288.5 466.2,288.7 466.1,288.9 466,289 465.5,289.3 464.9,289.1 464.8,289.4 464.6,289.3 464.5,289.5 464.4,289.2 464.3,289.3 464.2,289.6 464,289.4 463.9,289.5 463.4,290 462.8,290.2 462.6,289.9 462.5,290.6 462.4,289.9 462.3,290.2 462,290.9 461.7,290.2 461.5,290.6 461.4,290.5 461.1,290.5 460.9,290.3 460.6,290.4 460.5,290.6 460.3,290.4 459.9,290.6 459.7,290.9 459.6,291 459.5,290.7 458.8,290.7 458.7,291.5 458.2,291.2 458.1,290.8 457.8,291.4 457.4,291 457.3,291.7 457.2,291 456.8,291.2 456.7,291.3 456.6,291.3 456.3,291.5 456.2,291.7 456.1,291.6 456,291.6 455.7,291.3 455.6,291.6 455.4,291.5 455.3,291.7 455.2,291.4 455.1,291.9 454.9,291.6 454.7,291.7 454.6,291.7 454.5,291.6 454.4,291.7 454.1,292.1 453.8,291.7 453.7,292.5 453.2,291.8 452.9,292.2 452.8,292 452.3,292.1 451.9,292.6 451.8,292.6 451.5,292.2 451,292.3 450.9,292.7 450.7,292.5 450.5,292.9 449.9,292.6 449.8,293 449.7,292.7 449.6,292.8 449.4,293 449,292.9 448.9,293 448.6,292.9 448.5,292.8 448.3,292.9 448.2,293.2 448.1,293.2 448,293 447.9,293.2 447.7,293 447.5,293.1 447.4,293 447.3,293.2 447.1,293.3 447,293.4 446.8,293.7 446.7,293.2 446.5,293.2 446.4,293.5 446.3,293.2 446.1,293.6 445.9,293.7 445.8,293.5 445.7,293.9 445.6,293.5 445.3,294 444.9,293.7 444.7,293.8 444.6,293.6 444.3,293.6 443.5,293.8 443.4,294 443.3,294.4 443,294.2 442.9,294.1 442.7,294.3 442.6,294.1 442.5,294.2 442.3,294.2 442,294.6 441.9,294.3 441.8,294.3 441.2,294.5 441.1,294.3 440.8,294.4 440.7,294.3 440.4,294.5 440.3,294.7 440.1,294.7 439.6,294.5 439.4,294.6 439,294.9 438.5,295.2 438.3,295.2 438,295.3 437.8,295.1 437.4,295.2 437.2,295 437.1,295 437,294.9 436.9,295.3 436.6,295.1 436.4,295.3 436.1,295 436,295.2 435.9,295.2 435.7,295.2 435.6,295.2 435.4,295.4 435.3,295.6 435.1,295.1 434.7,295.5 434.6,295.6 434.5,295.2 434.4,295.4 434.1,295.5 434,295.5 433.9,295.4 433.8,295.4 433.6,295.4 433.4,295.4 433.3,295.8 433.2,295.6 433,295.7 432.7,295.7 432.6,295.6 432.3,296.2 432.2,295.7 432.1,296 431.9,295.8 431.7,295.7 431.6,296 431.5,295.7 431.3,296 431.1,296.2 430.9,295.9 430.6,296 430.4,295.9 429.7,296.2 429.6,296.1 429.4,296.2 429.2,296.1 428.8,296.5 428,296.3 427.9,296.2 427.8,296.7 427.7,296.4 427.6,296.7 427.5,296.3 427.3,296.6 427.2,296.3 427.1,296.3 427,296.5 426.8,296.6 426.6,296.8 426.5,297.2 425.9,296.9 425.8,296.7 425.6,296.6 425.2,296.9 424.8,296.8 424.6,296.9 424.1,297.2 424,297.2 423.9,297.1 423.8,297 423.5,297 423.4,297.1 423.1,297 423,297 422.9,297.4 422.8,297.2 422.7,297.1 422.2,297.2 422.1,297.5 421.9,297.3 421.8,297.5 421.5,297.3 421.4,297.4 421.2,297.4 420.8,298 420.7,297.7 420.5,297.5 420.4,297.4 420.1,297.6 420,297.5 419.8,297.5 419.2,298 419.1,298.5 418.9,298.1 418.8,297.6 418.7,297.7 418.6,298 418.4,297.8 418,297.8 417.7,297.9 417.6,298 417.4,297.9 417.2,298.1 417.1,298.1 417,298.1 416.8,298 416.7,297.9 416.4,298.3 416.1,298.2 415.7,298.5 415.5,298.8 415.3,298.2 415.1,298.7 414.6,298.4 414.5,298.6 414.2,298.5 414,298.7 413.9,298.7 413.6,298.7 413.5,298.9 412.9,298.6 412.8,298.6 412.7,298.7 412.2,298.8 412,298.7 411.9,299.1 411.7,298.9 411.1,299.4 410.9,299.1 410.8,299.3 410.7,299.1 410.3,298.9 410.2,298.6 410,299.2 409.8,298.3 409.5,298.8 409.4,299.1 409.1,299.5 408.9,299.4 408.4,298.1 408.2,298 408,298.1 407.8,298.1 407.7,298.4 407.5,299.3 407.3,299.8 407.1,300.2 406.7,300.1 406.5,300 406.4,300.1 406.2,300.4 405.9,300.1 405.7,300.7 405.6,300.4 405.1,300.3 405,300.7 404.8,300.6 404.7,300.6 404.5,300.4 403.7,300.8 403.6,300.8 403.4,300.8 403.3,300.9 403.1,301.4 402.5,301 402.4,301 402.3,301.5 402.2,301.2 402.1,301.2 402,301.2 401.7,301.1 401.6,301.2 401.1,301.2 400.4,301.5 400.2,302.1 400,301.9 399.9,301.6 399.8,301.6 398.9,301.9 398.8,302 398.5,302.4 398.4,302 398.3,302.2 397.8,302.2 397.6,302.3 397.4,302.4 397.1,302.5 397,302.7 396.9,302.7 396.8,303 396.7,302.5 396.6,302.6 396.5,302.8 396,302.8 395.8,303 395.4,302.9 394.8,303.1 394.5,303.3 394.3,303.4 393.9,303.4 393.8,303.5 393.6,303.6 393.5,303.4 393.2,303.7 393.1,304.1 392.5,303.7 392.4,304.1 392.3,304 392.2,303.8 392.1,304.4 392,304.1 391.4,304.1 391.3,304.2 390.7,304.7 390.6,304.6 390.5,304.4 390.2,304.6 390.1,304.8 389.3,305 388.7,305.3 388.6,305.2 388.5,305.1 388.3,305.9 388,305.4 387.5,305.6 387.3,305.8 387.2,306 386.8,306.1 386.4,306.3 386,306.2 385.8,306.4 385.3,306.9 385.2,306.8 385.1,306.5 384.8,306.7 384.7,306.8 384.3,307 384.2,307 383.9,307 383.7,307.4 383.5,307.3 383.3,307.4 382.7,307.5 382.6,307.8 382.3,307.8 382.2,307.8 381.9,308.3 381.8,307.9 381.3,308.1 381.2,308.2 381.1,308.2 380.7,308.3 380.4,308.5 380,308.1 379.6,307.7 379.5,307.5 379.3,307.5 379.2,307.6 379,307.9 378.4,308.6 378.2,308.7 378.1,308.8 377.4,309.1 377.3,309.2 377.2,309.1 376.8,309 376.7,309 376.4,309.6 376.3,309.1 376.1,309.2 375.9,309.2 375.7,309.4 375.5,309.3 375.4,309.5 375.3,309.3 375.2,309.6 375,309.5 374.8,309.7 374.6,309.5 374.5,309.4 374.4,309.6 374.3,309.6 374.2,310.1 374.1,309.7 373.7,309.5 373.6,309.6 373.4,309.6 373.2,309.8 372.8,309.7 372.6,309.7 372.5,309.9 372.3,309.7 371.7,309.8 371.6,310 370.9,309.9 370.5,310.3 370.3,310.6 370.2,310.3 370.1,310.4 369.7,310.4 369.4,310.2 369.2,310.6 369.1,310.3 369,310.2 368.7,310.6 368.6,310.4 368.4,310.6 368.3,310.3 368,310.7 367.7,310.9 366.9,310.7 366.8,310.8 366.3,310.9 365.7,310.9 365.3,311.2 365,310.8 364.9,311 364.8,311.7 364.6,311 364.5,311.3 364.3,311 363.8,311.3 363.5,311 363.2,311.7 362.6,311.2 362.2,311.2 362.1,311.3 361.3,311.9 361,311.7 360.9,311.6 360.3,311.6 359.8,311.7 359.7,312 359.2,311.7 358.8,311.9 358.5,312.3 358.4,312.3 358.1,312.4 357.9,312 357.5,312 357.3,311.8 356.9,311 356.6,309.9 356.5,309.7 356.4,309.9 356.3,310 355.2,312.3 354.3,312.8 354,312.7 353.9,312.6 353.6,312.5 353.5,312.6 353.4,312.7 353.1,312.7 352.4,312.8 352.3,313 351.6,312.9 351.4,312.8 350.7,313.1 350.6,313.1 350.4,313.4 350.3,313.3 350.2,313.5 349.8,313.3 349.7,313.2 349.1,313.2 348.9,313.2 348.8,313.3 348.3,313.5 347.8,313.4 347.6,313.6 347.5,313.5 347.3,313.5 347.2,313.6 346.7,313.7 346.1,313.7 345.4,313.8 345.3,314.1 344.8,314.1 344.6,313.9 344.2,314.2 343.7,314 343.2,314.2 343,314.1 342.9,314.4 342.8,314.4 342.6,314.4 342.4,314.4 342.1,314.1 342,313.9 341.8,313.4 341.7,313.2 341.5,312.9 341,312.6 340.5,313.6 340.3,314.2 340.1,314.4 339.8,314.6 339.5,314.8 339.2,314.8 338.4,314.9 338.3,314.9 338.2,314.8 337.8,314.6 337.7,314.8 337.6,314.4 337.5,314.9 337.4,314.5 337.1,314.1 337,314.3 336.1,315.2 336,314.9 335.6,314.5 335.3,315.2 335,315.8 334.9,315.8 334.8,315.9 334.7,316.3 334,316.6 333.9,316.2 333.6,316.5 333.3,316.7 333.2,316.3 332.8,316.5 332.6,316.9 332.2,316.7 332.1,316.9 332,317 331.9,316.8 331.7,317.2 331.6,317 331.3,317.1 331.2,317 330.9,317.2 330.5,317.6 330,317.4 329.8,317.4 329.7,317.7 329.5,317.5 329.3,317.6 328.7,317.7 328.6,317.9 328.5,317.8 328.2,318 328,318.2 327.6,318 327.2,317.6 327.1,317.7 326.6,316.5 326.2,315.4 326.1,315.2 326,315.3 325.7,315 325.6,315.2 325.5,315.7 325.3,316.8 324.9,318.2 324.6,318.8 324.4,318.9 324.3,318.8 323.4,319.1 323.1,319.3 322.9,319.7 322.7,319.3 322.5,319.2 322,319.8 321.9,319.5 321.8,319.4 321.6,319.7 321.3,319.8 321.2,319.6 321.1,319.8 320.8,320.1 320.7,319.6 320.5,319.7 320.3,320.2 320.1,319.8 319.6,320.5 319.3,320.3 319.2,320 318.9,320.2 318.8,320.1 318.6,319.9 318.5,319.4 318.1,318.6 317.9,318.9 317.5,319.7 317.4,320.1 317.1,320.7 317,320.8 316.7,320.7 316.6,320.8 316,320.9 315.6,320.8 315.3,321 314.5,321.1 314.3,321.1 314.1,321.2 313.8,321.4 313,321.9 312.1,321.7 312,321.7 311.5,322.2 310.9,322.2 310.5,322.5 310.2,322.2 309.7,322.3 309.6,322.3 309.5,322.5 309.1,322.9 308.5,322.6 308.4,323.3 308.1,322.8 307.8,322.7 307.6,323 307.1,322.9 307,323.2 306.9,323 306.8,323.2 306.7,323.2 306.4,323.1 306.1,323.2 306,323.6 305.8,323.3 305.7,323.9 305.2,322.8 304.4,321.1 304.2,321.7 303.3,324 303.1,324.1 303,324.2 302.8,324.1 302.6,324.1 302.2,324.4 301.9,324.2 301.5,324.3 301.3,324.9 301.2,324.2 300.9,324.7 300.6,324.3 299.9,324.5 299.6,324.6 299.3,324.5 298.8,324.4 298.3,324.4 297.8,324.5 297.7,324.5 296.4,324.8 295.8,325 295.7,324.8 295.4,325.1 294.6,325 294.3,325.2 294.1,325.2 294,325 293.8,325.2 293.1,325.3 292.8,325.3 292,325.2 291.9,325.2 291.7,325.2 291.6,325.3 291.4,325.2 291.1,325.4 290.6,325.3 290.3,325.4 290.2,325.5 290.1,325.6 289.9,325.3 289.6,325.4 289.5,325.4 289.4,325.5 289.3,325.5 289.2,325.9 289.1,325.6 288.9,325.5 288.7,325.6 288.5,325.5 288.2,326.2 287.9,325.6 287.7,325.7 287.6,325.6 287.4,325.6 287,325.7 286.9,326.1 286.2,325.9 286.1,326 285.4,325.9 284.5,326.1 284.1,325.9 283.8,326 283.7,326.6 283.6,326.3 283.3,326.2 282.9,326.4 282.5,326.1 282.2,326.1 282.1,326.5 281.7,326.2 281.4,326.3 281.2,326.5 281.1,326.2 280.9,326.3 280.7,326.7 280.5,326.3 279.7,326.9 279.6,326.4 279.3,326.6 278.8,326.6 278.5,326.8 278.3,326.5 278,326.7 277.8,327 277.7,326.8 277.5,326.6 277.4,326.7 276.7,327 276.6,326.9 276.2,327 275.4,327 275.3,327 275.2,327 275.1,326.9 274.8,326.9 274.7,327 274.6,327.2 274.4,326.9 274,327.1 273.8,326.9 273.7,327 273.5,327.3 273.2,327.2 272.1,327.5 271.9,327.2 271.8,327.9 271.5,327.5 271.4,327.3 271.1,327.4 270.8,327.3 270.5,328.1 270.3,327.9 270,327.5 269.9,327.5 269.5,327.8 269.2,327.7 269.1,327.4 268.8,327.5 268.6,328 268.3,327.7 267.7,327.7 267.5,327.9 267.4,327.8 267.2,327.7 267.1,327.8 267,327.9 266.6,327.7 265.9,327.7 265.6,328.5 265.5,328 265,327.8 264.4,328.3 264.1,328 263.7,327.9 263.4,328.1 263.3,328 263.2,328.5 262.9,328.4 262.8,328.1 262.6,328.1 262.3,328.1 262.1,328.2 261.6,328.7 261.5,328.2 261.3,328.4 260.7,328.3 260.6,328.5 260.4,328.4 260.3,328.7 260.2,328.6 260,328.5 259.4,328.6 259.2,328.5 259.1,328.4 259,328.5 258.7,328.5 258.6,328.7 258.5,328.9 258.4,328.8 257.4,329.2 257.1,328.9 256.1,328.9 256,328.7 254.7,328.8 254.6,329.1 253.1,328.7 252.5,329.1 252.4,329 251.9,329.5 251.8,328.8 251.5,329.2 251.1,329.3 250.9,329.3 250.7,328.8 250.4,329 250.1,328.9 250,329.2 249.9,328.9 249.7,329 249.3,329.1 248.8,329.3 248.6,329.1 248.3,328.9 247.3,329 245.5,329 245,329.2 244.6,329.1 243.7,328.6 243.3,327.8 243.1,327.8 241.9,329.9 241.8,329.2 241.7,329.3 241.3,329.6 240.5,329.3 240.3,329.3 238.7,329.5 237.9,329.7 237.8,329.3 237.7,329.4 237.5,329.4 237.4,329.4 237.2,329.3 237,329.2 236.8,329.2 236.7,329.6 236.3,329.4 235.7,329 235.6,328.8 235.3,328.9 235.2,328.3 234.6,328.5 234.5,328.9 233,329.6 232.5,329.3 232.3,329.3 232,329.2 231.6,329.3 229.8,329.2 229.7,329.5 229,329.1 227.4,329.2 226.9,329.4 226,329.6 225.9,329.1 225.5,329.5 225.4,329.1 225.2,329.8 224.6,328.6 224.5,328.3 224,327.2 223.3,327.5 222.1,329.5 221.9,329 221.7,329.1 221,329.3 220.8,329 220.6,329.5 220.5,329.1 220.1,329.1 219.6,329.3 219.4,329.5 219.1,329.3 218.4,329.2 218,329.2 217,329.3 216.4,329.1 216.1,329.2 215.5,329.3 215.3,329.3 214.2,329.5 214.1,329.1 213.9,329.1 213,329.2 212,329.2 211.6,329.2 211.5,329.4 211.4,329.3 211.3,329.2 211.1,330 210.7,329.6 210.6,329.4 210.2,329.7 209.9,329.4 209.8,329.5 209.3,329.4 209.1,329.5 209,329.7 208.9,329.6 208.7,329.6 208.3,329.8 208.2,329.5 208.1,329.6 208,330 207.8,329.5 207.5,329.5 207.4,329.6 207.2,329.7 206.5,329.7 206.2,329.7 206.1,329.7 205.9,329.6 205.5,329.5 203.8,329.9 203.5,329.8 202.6,330.2 202,330.2 201.7,330.4 200.8,330.6 198.9,331 197.3,331.4 197.2,331.3 195.5,331.6 195,331.4 194.4,331.1 194.1,331.3 192,330 190.3,330 190.1,329.8 188.8,330.1 188.3,330.4 187.9,330.2 187.4,330.2 186.9,329.4 186.2,328.2 184.4,330.7 182.7,330.8 182.4,330.2 181.7,329.6 178.9,330.4 178.6,331.2 176.5,331.9 172.4,332.2 171.4,331 170.1,331.8 169.1,331.8 168.6,332.1 167.2,332.1 166.6,331.8 166.2,331.8 165.7,331.8 164.6,332 164.5,332 163.5,331.6 163.4,331.7 161,332 159,332.3 157.9,332.6 156.8,332.4 156.2,332.5 154.8,332.8 152.8,333.1 152.4,333.3 151.7,333.4 145,333.9 143.5,334.1 142,334.2 141,334.3 140,334 138.5,332.8 137.5,332.4 137,332.5 122.9,336.4 121.2,336.3 119.1,335.9 115.7,335.3 110.3,334.3 96.9,333.4 93.4,333.1 72.1,334.7" fill="#333" fill-opacity=".3"/><path d="M83 389.75v3.67M199.4 389.75v3.67M315.7 389.75v3.67M432.1 389.75v3.67M548.5 389.75v3.67M664.9 389.75v3.67M44 374.3h-3.67M44 299.4h-3.67M44 224.5h-3.67M44 149.6h-3.67M44 74.7h-3.67" stroke="#333" stroke-width="1.42" fill="none"/><g font-size="11.73" fill="#4d4d4d"><text x="83" y="405.9" text-anchor="middle">-3</text><text x="199.4" y="405.9" text-anchor="middle">-2</text><text x="315.7" y="405.9" text-anchor="middle">-1</text><text x="432.1" y="405.9" text-anchor="middle">0</text><text x="548.5" y="405.9" text-anchor="middle">1</text><text x="664.9" y="405.9" text-anchor="middle">2</text><text x="37.1" y="378.5" text-anchor="end">-2</text><text x="37.1" y="303.6" text-anchor="end">-1</text><text x="37.1" y="228.7" text-anchor="end">0</text><text x="37.1" y="153.8" text-anchor="end">1</text><text x="37.1" y="78.9" text-anchor="end">2</text></g><text x="359.5" y="425" text-anchor="middle" font-size="14.67">RH (scaled)</text><text transform="translate(17.9,210.8) rotate(-90)" text-anchor="middle" font-size="14.67">Energy output (scaled)</text><text x="44" y="20" font-size="17.9">Aleatoric uncertainty</text></g>
<g transform="translate(1364,0)"><rect x="44" y="31.96" width="630.9" height="357.79" fill="#ebebeb"/><path d="M141.2 31.96V389.75M257.6 31.96V389.75M373.9 31.96V389.75M490.3 31.96V389.75M606.7 31.96V389.75M44 336.9H674.9M44 261.9H674.9M44 187.1H674.9M44 112.1H674.9M44 37.2H674.9" stroke="#fff" stroke-width=".71" fill="none"/><path d="M83 31.96V389.75M199.4 31.96V389.75M315.7 31.96V389.75M432.1 31.96V389.75M548.5 31.96V389.75M664.9 31.96V389.75M44 374.3H674.9M44 299.4H674.9M44 224.5H674.9M44 149.6H674.9M44 74.7H674.9" stroke="#fff" stroke-width="1.42" fill="none"/><path d="M72.1 284.4h0M93.4 279.7h0M96.9 280h0M110.3 280.5h0M110.3 281.4h0M115.7 282.6h0M119.1 279.3h0M121.2 281.4h0M122.9 284.1h0M137 277h0M137.5 280h0M138.5 282.5h0M140 278.5h0M141 276h0M142 280.5h0M143.5 278h0M145 281h0M151.7 281.8h0M151.7 276.3h0M152.4 278.7h0M152.8 276.5h0M154.8 278.8h0M156.2 272.2h0M161 275.7h0M161 277.6h0M163.5 278.5h0M164.5 278.8h0M166.2 278.8h0M166.2 280h0M166.6 279.2h0M167.2 279.3h0M168.6 276.3h0M169.1 277.7h0M170.1 283.4h0M171.4 281.8h0M172.4 279.3h0M176.5 278.9h0M176.5 279.4h0M178.6 276.9h0M178.6 281h0M178.9 276.9h0M178.9 277.4h0M181.7 280.2h0M182.4 273.7h0M182.7 277.9h0M184.4 274.1h0M186.2 275.7h0M186.9 276.6h0M187.9 275.2h0M188.3 276.9h0M190.3 275.1h0M192 276.1h0M192 274.2h0M194.1 275.3h0M194.4 273.6h0M195 277h0M195.5 271.3h0M197.2 276.8h0M197.3 274.9h0M198.9 275h0M200.8 277.3h0M201.7 275.4h0M202 272h0M202.6 276.1h0M203.5 270.2h0M203.5 275.6h0M203.8 272.3h0M205.5 272.7h0M205.9 275.2h0M206.1 274.5h0M206.5 278.4h0M207.2 274.2h0M207.4 278.3h0M207.8 277.3h0M208.1 273.9h0M208.2 273.5h0M208.3 277.2h0M209 274.6h0M209.8 272.9h0M209.8 274.4h0M209.9 272.8h0M210.6 274.2h0M211.1 273.1h0M211.3 272.2h0M211.4 274.3h0M211.5 277.8h0M213 276.5h0M214.1 274.5h0M214.2 274.8h0M215.3 275.4h0M216.1 276.8h0M216.4 275h0M216.4 273.7h0M218.4 273.7h0M219.1 276.3h0M219.6 278.7h0M220.1 273.2h0M220.5 270.8h0M220.6 275.6h0M221 274.1h0M221.7 274.5h0M221.9 276.3h0M222.1 274.3h0M223.3 271.9h0M224 270.7h0M224.6 273.9h0M225.2 271.9h0M225.4 274.4h0M225.5 271.7h0M225.9 273.2h0M226.9 271.2h0M229 272.8h0M229.7 272.6h0M229.8 274.3h0M231.6 275.4h0M232 272.7h0M232.3 271.6h0M232.5 276.3h0M233 273.5h0M234.5 273.8h0M235.3 273.7h0M235.6 275.1h0M236.7 274.2h0M237 273.6h0M237 273.7h0M237.2 271h0M237.5 271.4h0M237.7 272.2h0M237.8 272.5h0M237.9 272.4h0M240.5 272.5h0M240.5 272.1h0M241.3 271.2h0M241.7 269.2h0M241.8 273.3h0M243.1 272.7h0M243.1 270.2h0M243.3 272.5h0M243.7 272.3h0M244.6 271.6h0M245 268.4h0M245.5 269.4h0M247.3 270.2h0M248.3 273.8h0M248.6 269.7h0M248.8 270.5h0M249.3 269.2h0M249.7 270.2h0M249.9 271.5h0M250 267.5h0M250.1 266.2h0M250.4 272h0M250.7 270.9h0M250.9 269.9h0M251.1 272.5h0M251.5 272.4h0M251.8 267.3h0M251.9 269.3h0M252.4 272.6h0M252.5 269.6h0M254.7 270h0M256 271.9h0M257.1 269.8h0M257.4 268.2h0M258.4 269h0M258.5 267.9h0M258.6 271h0M258.7 267.2h0M259 271.7h0M259.2 267.3h0M259.2 270.1h0M259.4 267.6h0M260.2 269.4h0M260.3 271.6h0M260.4 271.8h0M260.7 272h0M261.5 269.7h0M262.3 269.9h0M262.3 270.1h0M262.6 270.7h0M262.9 269h0M263.2 271.4h0M263.3 270.2h0M263.4 271.5h0M263.7 270.4h0M263.7 270.7h0M264.1 268.3h0M265 268.8h0M265.9 267.2h0M267 268.8h0M267.2 268.9h0M267.4 270.6h0M267.5 267.1h0M267.7 274.5h0M268.6 268.9h0M268.8 271.1h0M269.1 270.8h0M269.2 264.9h0M270 268.5h0M270.3 271.4h0M270.5 265h0M270.8 270.2h0M271.1 267.4h0M271.4 268.1h0M271.4 269.2h0M271.4 265.8h0M271.5 269.2h0M271.8 267.8h0M272.1 265.2h0M272.1 270h0M273.2 274.5h0M273.7 269.3h0M273.8 269.6h0M273.8 268.6h0M273.8 267.5h0M274 269.1h0M274 271.1h0M274 269h0M274.4 270.1h0M274.6 268.2h0M274.6 272.7h0M274.7 265.9h0M275.2 269.5h0M275.3 269.4h0M275.3 269h0M275.4 266.7h0M276.7 266.6h0M277.4 268h0M277.5 268.5h0M277.8 266.4h0M278.3 266.6h0M278.5 269.2h0M278.8 270h0M279.3 267.3h0M279.7 267.1h0M280.5 267h0M280.9 272.1h0M281.1 267h0M281.4 268h0M281.7 269.7h0M282.1 271.8h0M282.9 269.9h0M283.6 265.6h0M283.7 267.8h0M284.1 267.2h0M284.5 267.3h0M285.4 265.8h0M285.4 267.1h0M286.1 264.6h0M286.1 268.2h0M286.2 267.8h0M286.9 265.3h0M287 264.9h0M287 266.8h0M287.4 268.7h0M287.6 268.4h0M287.7 267.5h0M288.2 262.2h0M288.5 266.7h0M288.5 266.3h0M288.7 266.9h0M288.9 265.5h0M289.1 266.8h0M289.2 266.4h0M289.2 271.8h0M289.2 268.6h0M289.5 267.1h0M289.5 267.4h0M289.6 267.2h0M289.6 267.7h0M289.9 266.7h0M290.1 267.4h0M290.2 269h0M290.3 268.7h0M291.1 267.8h0M291.1 269.5h0M291.6 267.6h0M291.7 265.7h0M291.9 264.4h0M291.9 266.1h0M292 267.1h0M293.1 267.5h0M293.8 268.4h0M294 263.6h0M294.1 265.3h0M294.6 267.6h0M295.4 268.1h0M295.4 265.4h0M295.7 266.6h0M295.8 268.3h0M296.4 266.4h0M297.7 264.5h0M297.8 262h0M297.8 267.5h0M298.3 266.3h0M298.8 265.3h0M299.3 264.2h0M299.3 262.9h0M299.6 264.7h0M299.9 264.6h0M300.6 266.3h0M300.6 262.6h0M300.9 265.2h0M301.2 264.4h0M301.3 266.2h0M301.5 262.7h0M301.9 264.6h0M302.2 265.9h0M302.6 264h0M302.8 261.5h0M303 263.2h0M303.1 264.5h0M303.3 261.4h0M304.2 261h0M305.8 263.1h0M306 261.1h0M306.1 263.7h0M306.4 260.6h0M306.7 259.4h0M307 261h0M307.1 264.6h0M307.6 260.6h0M307.8 261.9h0M307.8 262.3h0M308.1 260.3h0M308.5 261.9h0M309.1 261.7h0M309.5 262h0M309.6 258.6h0M309.6 258.5h0M309.7 256.8h0M310.2 260.7h0M310.5 260.6h0M310.9 261.9h0M311.5 262.9h0M312 260h0M312.1 259.9h0M313.8 260.4h0M314.1 262h0M314.3 258.2h0M315.3 260.1h0M315.6 257.4h0M316.6 258.1h0M316.7 259.8h0M317 257.2h0M317.1 256.7h0M317.1 259.4h0M317.5 258.2h0M317.9 257.7h0M317.9 256.5h0M317.9 258.8h0M318.5 257.2h0M318.5 259h0M318.6 258.4h0M318.8 260h0M319.2 259.5h0M319.3 256.7h0M319.3 257.2h0M319.6 257.6h0M320.1 256.2h0M320.5 261.4h0M320.5 255.3h0M320.7 257.8h0M320.7 259h0M320.8 254.7h0M321.2 255.4h0M321.3 256h0M321.6 255h0M321.8 254.5h0M321.8 255.6h0M321.9 258.4h0M322 257.4h0M322.5 256.2h0M322.7 256.1h0M322.7 253.4h0M322.9 257h0M322.9 256.6h0M323.1 254.2h0M323.4 256h0M324.6 254.9h0M324.9 254.2h0M325.3 253.3h0M325.5 253.8h0M325.6 253.3h0M325.7 255.4h0M326 255.1h0M326 255h0M326.1 254.2h0M326.2 253.9h0M326.6 257.4h0M327.1 249.5h0M327.1 255.9h0M327.2 254.6h0M327.6 254h0M328 252.9h0M328.2 253.3h0M328.5 251.6h0M328.6 249.3h0M329.3 252.9h0M329.3 250.5h0M329.5 254.3h0M329.7 254.7h0M329.8 247.6h0M330.5 250.2h0M330.9 252.8h0M331.2 252.6h0M331.2 252.4h0M331.6 251.7h0M331.7 253.2h0M331.9 253.3h0M332 254.7h0M332.1 251.9h0M332.1 253.2h0M332.2 249.3h0M332.6 251.5h0M332.8 249.7h0M333.2 253.6h0M333.3 255h0M333.6 252.1h0M333.6 249.2h0M333.9 250.9h0M334 251.1h0M334.7 251.1h0M334.8 252.4h0M334.9 252.1h0M335 246.6h0M335 252.7h0M335.3 247.6h0M335.6 249.5h0M336.1 252.3h0M337.1 249.3h0M337.1 247.6h0M337.4 247.6h0M337.5 249.6h0M337.6 250.9h0M337.6 251.8h0M337.7 249.2h0M337.8 248.7h0M337.8 251.9h0M338.2 248.6h0M338.3 251.5h0M338.4 249.6h0M339.5 249.2h0M339.8 248.4h0M340.3 249.1h0M340.5 247.8h0M340.5 247.5h0M341 248.2h0M341.5 247.2h0M341.7 248.6h0M341.8 248.3h0M342 247.6h0M342.1 247.7h0M342.4 247.6h0M342.6 250.5h0M342.8 247.8h0M342.9 246.9h0M343 247.3h0M343.2 248.7h0M343.7 247.2h0M344.2 247.1h0M344.2 246.9h0M344.6 247.5h0M344.8 247.7h0M345.3 247.6h0M345.4 244.5h0M346.1 245.1h0M346.7 242.6h0M347.2 247.6h0M347.3 248.1h0M347.5 248.3h0M347.6 246.5h0M347.8 248h0M348.3 246h0M348.8 245.7h0M348.9 243.6h0M349.1 244.7h0M349.7 244.8h0M349.8 247.1h0M350.2 248.1h0M350.3 244.9h0M350.4 246.1h0M350.6 246h0M350.7 244.4h0M351.4 242.8h0M351.6 244.2h0M351.6 243.2h0M352.3 244.7h0M352.4 245h0M353.1 244.8h0M353.4 244.7h0M353.5 245.7h0M353.6 243.5h0M353.9 246.2h0M354 242.4h0M354.3 244.9h0M355.2 245.2h0M356.3 243.2h0M356.4 242h0M356.4 244.5h0M356.5 243.4h0M356.5 245.5h0M356.6 243.3h0M356.9 244.3h0M357.3 244.2h0M357.5 245.6h0M357.9 244.6h0M357.9 242.7h0M358.1 244.3h0M358.4 244.8h0M358.4 244.3h0M358.5 244.2h0M358.8 243.7h0M358.8 243.7h0M359.2 242.4h0M359.7 241.6h0M359.8 245.4h0M360.3 242.7h0M360.9 242.3h0M361 241.3h0M361.3 243.7h0M361.3 242.2h0M362.1 247.7h0M362.1 241.8h0M362.2 241.9h0M362.6 244.6h0M363.2 244.9h0M363.5 240.1h0M363.8 243.5h0M363.8 244.4h0M364.3 241.2h0M364.5 244h0M364.6 242.2h0M364.8 241.5h0M364.9 242.4h0M364.9 242.3h0M365 240.9h0M365.3 246.2h0M365.3 242.2h0M365.7 241.7h0M366.3 242.1h0M366.3 242.6h0M366.3 244.7h0M366.8 242.3h0M366.9 243.2h0M367.7 242.7h0M368 242.8h0M368.3 242.2h0M368.3 242.3h0M368.4 244.9h0M368.6 241.4h0M368.6 241.6h0M368.7 241.9h0M369 243.2h0M369.1 242.9h0M369.2 242.6h0M369.2 240.4h0M369.2 242.7h0M369.4 242.1h0M369.4 241.9h0M369.7 242.5h0M370.1 239.4h0M370.1 242.6h0M370.2 242.4h0M370.3 240.1h0M370.5 242h0M370.9 244.4h0M370.9 241.5h0M371.6 241.8h0M371.7 241.7h0M371.7 240.8h0M372.3 240.5h0M372.5 241.2h0M372.6 243.6h0M372.8 242.9h0M372.8 240.6h0M373.2 241.2h0M373.6 241.2h0M373.7 240.4h0M374.1 241.8h0M374.2 239.9h0M374.2 238.9h0M374.3 243h0M374.4 238.5h0M374.4 241.9h0M374.5 238.9h0M374.5 241h0M374.6 240.8h0M374.8 240.4h0M375 237.8h0M375.3 240.7h0M375.4 240.7h0M375.5 239.5h0M375.7 240.6h0M375.9 242h0M376.1 239.5h0M376.1 240.9h0M376.3 238.8h0M376.4 241h0M376.4 241.4h0M376.7 243.9h0M376.7 241.6h0M376.8 240.9h0M377.2 242.2h0M377.3 238.7h0M377.3 241.6h0M377.4 239.3h0M378.1 239h0M378.1 241.4h0M378.2 240.1h0M378.4 241.6h0M379 237.5h0M379 239.9h0M379.2 238.7h0M379.3 239h0M379.5 236.6h0M379.6 240.6h0M380 239.5h0M380 237.8h0M380.4 237.1h0M380.7 237.7h0M380.7 240.9h0M381.1 238.7h0M381.2 238.3h0M381.3 239.4h0M381.8 238.6h0M381.9 238.9h0M381.9 239.6h0M381.9 239h0M382.2 239.7h0M382.3 236.7h0M382.6 238.4h0M382.7 237.8h0M383.3 238.2h0M383.5 237.9h0M383.7 236.9h0M383.9 237.2h0M384.2 238.8h0M384.3 236.7h0M384.3 235.7h0M384.3 238.2h0M384.7 238.5h0M384.8 236.7h0M384.8 237.2h0M385.1 235.7h0M385.2 236.5h0M385.3 238.3h0M385.8 237.5h0M386 236.5h0M386 235.9h0M386.4 233.7h0M386.8 236.1h0M387.2 236.1h0M387.3 236.9h0M387.5 238h0M388 235.4h0M388 236.2h0M388.3 233.1h0M388.5 236.2h0M388.6 235.7h0M388.6 236.3h0M388.7 235.3h0M389.3 234.6h0M390.1 235.5h0M390.2 232.5h0M390.5 234.1h0M390.6 234.7h0M390.6 232.1h0M390.7 231.5h0M391.3 233.4h0M391.4 232.9h0M392 233.2h0M392.1 233.2h0M392.1 231.3h0M392.2 232.8h0M392.3 233.8h0M392.3 231.7h0M392.4 231.8h0M392.5 230.6h0M393.1 232.9h0M393.1 234.5h0M393.2 229.8h0M393.5 232.6h0M393.6 232.8h0M393.6 230.8h0M393.8 230.9h0M393.9 229.9h0M394.3 230.1h0M394.5 231.2h0M394.8 231.8h0M394.8 231h0M395.4 231.7h0M395.8 230.6h0M396 228.6h0M396.5 231.9h0M396.6 231.5h0M396.7 228.8h0M396.8 232.2h0M396.9 230.3h0M397 229.8h0M397.1 232.2h0M397.4 225.9h0M397.6 227h0M397.6 230.2h0M397.8 228.8h0M398.3 227.5h0M398.4 230.8h0M398.5 229.4h0M398.8 226.8h0M398.9 227.6h0M399.8 229.1h0M399.9 230.3h0M399.9 225.1h0M400 228.2h0M400.2 227.2h0M400.4 225.2h0M401.1 227h0M401.6 224.7h0M401.7 226.1h0M401.7 229h0M402 227.3h0M402.1 227.6h0M402.2 227.3h0M402.3 226.9h0M402.5 227.7h0M403.1 224.4h0M403.3 225.5h0M403.6 227.1h0M403.7 224.9h0M404.7 225.2h0M404.8 227.4h0M405 227.8h0M405 224.9h0M405.1 224.6h0M405.6 226.4h0M405.6 226h0M405.7 224.7h0M405.9 226.4h0M405.9 226.4h0M406.2 225.7h0M406.4 229.5h0M406.4 227.4h0M406.5 226.6h0M406.7 226.9h0M407.1 229.4h0M407.3 226.9h0M407.5 222.1h0M407.5 225.8h0M407.7 225.4h0M407.8 224.5h0M408 225.6h0M408.2 225.6h0M408.4 225.1h0M408.9 224.5h0M409.1 226.2h0M409.1 222.9h0M409.4 226.2h0M409.4 225.1h0M409.5 225.4h0M409.8 221.7h0M409.8 227.3h0M410 222.6h0M410.2 223.7h0M410.3 225.8h0M410.7 224h0M410.8 224.3h0M410.9 221.8h0M411.1 224.2h0M411.7 225h0M411.9 225.6h0M411.9 224.3h0M412 224.9h0M412.2 225.2h0M412.2 223.7h0M412.7 223.5h0M412.8 227.2h0M412.8 223.3h0M412.9 226.2h0M413.5 224.5h0M413.6 226.4h0M413.9 223.5h0M414 222.7h0M414.2 224.7h0M414.5 223.9h0M414.5 224.7h0M414.6 223.2h0M415.1 224h0M415.3 223.6h0M415.5 225.1h0M415.7 223.9h0M415.7 222.1h0M416.1 223.4h0M416.1 221.5h0M416.4 222.7h0M416.7 225.7h0M416.8 221.9h0M417 225h0M417 222.7h0M417.1 223.2h0M417.2 225.1h0M417.4 221.8h0M417.6 224.2h0M417.6 223.8h0M417.7 223h0M418 223.7h0M418.4 222.1h0M418.6 223.8h0M418.7 221.8h0M418.8 221.7h0M418.9 225.4h0M418.9 222.5h0M419.1 220.5h0M419.2 224.7h0M419.2 222.3h0M419.8 218.4h0M419.8 223.2h0M420 224.5h0M420 223.7h0M420.1 225.6h0M420.4 223h0M420.4 224h0M420.4 221.8h0M420.4 223.4h0M420.5 225.2h0M420.5 223.8h0M420.7 223.3h0M420.8 220.4h0M421.2 222.5h0M421.4 221.2h0M421.5 224h0M421.8 221.9h0M421.9 223.4h0M421.9 221.5h0M422.1 225.5h0M422.2 221.2h0M422.7 222.9h0M422.8 226.4h0M422.9 223h0M423 221.5h0M423 223.5h0M423.1 224h0M423.4 223.8h0M423.5 219.9h0M423.5 222.9h0M423.8 219.6h0M423.9 225.1h0M424 222.6h0M424.1 221.9h0M424.6 223.3h0M424.8 223h0M425.2 220.7h0M425.6 224.5h0M425.8 221.9h0M425.9 219.7h0M426.5 224h0M426.6 224.2h0M426.6 223.8h0M426.8 222.8h0M427 220.8h0M427 223.3h0M427.1 224.6h0M427.2 223.1h0M427.3 224.2h0M427.3 220.9h0M427.5 223.4h0M427.5 223.3h0M427.6 219.9h0M427.7 219.7h0M427.8 220.9h0M427.9 222h0M427.9 222.5h0M428 221.6h0M428 221.8h0M428 221.8h0M428.8 221.9h0M428.8 222.6h0M429.2 222.5h0M429.2 221.7h0M429.4 222.1h0M429.4 221.1h0M429.6 222.8h0M429.7 221h0M429.7 224h0M430.4 221.6h0M430.6 222h0M430.6 220.5h0M430.6 221.1h0M431.1 221.8h0M431.3 221.5h0M431.5 220.6h0M431.5 219.9h0M431.6 221.5h0M431.7 221.7h0M431.9 219.9h0M432.1 223.1h0M432.2 221h0M432.3 218.6h0M432.6 221.2h0M432.6 218.8h0M432.7 219.6h0M432.7 222.8h0M433.2 222.1h0M433.2 220.4h0M433.3 220.4h0M433.4 220.4h0M433.6 218.8h0M433.8 221.9h0M433.9 220.7h0M434 223.7h0M434.1 219.7h0M434.4 222.5h0M434.5 220.2h0M434.6 222.5h0M434.7 219.7h0M435.1 222.1h0M435.3 220.4h0M435.4 219.9h0M435.6 219.1h0M435.7 221.6h0M435.9 221.5h0M436 223.1h0M436.1 222.1h0M436.1 217.2h0M436.1 220.4h0M436.4 218.1h0M436.6 220.3h0M436.6 221.7h0M436.9 219h0M437 219.2h0M437.1 221h0M437.2 220.4h0M437.4 223h0M437.8 221.2h0M438 221.4h0M438.3 223.1h0M438.3 219.9h0M438.5 220.6h0M438.5 219.2h0M439 220.9h0M439.4 221.9h0M439.4 222.4h0M439.6 220.4h0M440.1 219.4h0M440.1 219.3h0M440.3 218.4h0M440.4 220.5h0M440.7 222.2h0M440.7 217h0M440.8 217.3h0M441.1 222.2h0M441.2 218h0M441.8 220.6h0M441.8 218.4h0M441.9 221.2h0M441.9 221.2h0M442 220.4h0M442.3 221.3h0M442.5 220.1h0M442.5 220.8h0M442.6 222.6h0M442.7 221.6h0M442.9 219.1h0M443 218.9h0M443 219.7h0M443.3 219.6h0M443.3 220.1h0M443.4 219.1h0M443.5 220.8h0M444.3 219.9h0M444.6 218.2h0M444.7 219.8h0M444.9 220.6h0M445.3 217.1h0M445.6 221.8h0M445.7 220.1h0M445.7 220.3h0M445.8 220.5h0M445.8 221.1h0M445.9 220.6h0M445.9 219.9h0M446.1 219.3h0M446.3 217.2h0M446.4 219.8h0M446.5 219.1h0M446.5 219.1h0M446.5 222.9h0M446.5 216.9h0M446.7 219.6h0M446.8 221.2h0M447 220.8h0M447.1 221.2h0M447.1 217.7h0M447.3 218.1h0M447.4 220.3h0M447.5 219h0M447.7 221.8h0M447.9 219.7h0M448.1 219.6h0M448.2 219.9h0M448.3 218.9h0M448.3 219.5h0M448.5 218.3h0M448.6 219.2h0M448.9 218.5h0M449 218.7h0M449.4 217.1h0M449.6 216.9h0M449.7 219.6h0M449.8 219.2h0M449.9 217.5h0M449.9 218.6h0M450.5 217.2h0M450.7 221.5h0M450.9 216.4h0M451 221h0M451 217.4h0M451.5 219h0M451.8 218h0M451.9 217.8h0M451.9 219.6h0M451.9 219.5h0M451.9 217.9h0M451.9 217h0M452.3 221.1h0M452.8 220h0M452.9 218.2h0M452.9 217.6h0M452.9 218.4h0M453.2 218h0M453.2 218.6h0M453.7 216.4h0M453.7 217.8h0M453.8 216.7h0M453.8 219.6h0M454.1 220.2h0M454.4 217.4h0M454.5 218.3h0M454.5 219.5h0M454.5 217.1h0M454.6 216.2h0M454.7 218.9h0M454.7 218.2h0M454.7 217.2h0M454.9 219.5h0M454.9 217.7h0M455.1 214.9h0M455.1 217.8h0M455.3 217.2h0M455.4 219.9h0M455.4 217.2h0M455.6 216.9h0M455.6 217.8h0M455.6 217.6h0M455.7 215.2h0M455.7 217.3h0M456 216.6h0M456.1 219h0M456.2 220.4h0M456.6 215.3h0M456.7 215.5h0M456.8 215.7h0M456.8 215.9h0M457.2 215.8h0M457.3 216.8h0M457.3 218.3h0M457.3 214.9h0M457.3 214.6h0M457.4 214.1h0M457.8 218.1h0M458.1 218.3h0M458.2 214.3h0M458.7 214h0M458.8 216.5h0M459.5 217.6h0M459.5 217.5h0M459.5 216.3h0M459.6 217h0M459.7 216.5h0M459.9 215.2h0M460.3 216.5h0M460.3 215.8h0M460.3 214.3h0M460.5 215.1h0M460.5 213.6h0M460.6 215.7h0M460.9 217.1h0M460.9 213.8h0M461.1 217.1h0M461.4 218.3h0M461.5 215.9h0M461.7 213.7h0M462 213.9h0M462.3 214.5h0M462.4 213.2h0M462.4 213.2h0M462.5 214.6h0M462.5 214.7h0M462.6 215.7h0M462.8 213.2h0M463.4 217.2h0M463.4 216h0M463.9 214.3h0M463.9 213.5h0M463.9 216.8h0M464 213.9h0M464.2 216.8h0M464.3 215.7h0M464.4 212.9h0M464.5 213.5h0M464.5 216.7h0M464.8 215.4h0M464.9 213.8h0M465.5 214h0M466 213.8h0M466.1 212.4h0M466.2 213.2h0M466.2 212.5h0M466.4 212.8h0M466.7 213.9h0M466.7 211.9h0M467 214.1h0M467.2 213.2h0M467.2 214.1h0M467.2 214.3h0M468.4 214.3h0M468.5 213.4h0M468.7 213.5h0M468.7 212.2h0M468.8 213.2h0M469.1 211h0M469.2 211.9h0M469.3 213.3h0M469.3 212.1h0M469.5 212.7h0M469.6 210.6h0M469.7 213.9h0M469.8 211.2h0M469.8 212.5h0M469.9 211.9h0M470 213.2h0M470.1 211.4h0M470.1 210.5h0M470.2 209.2h0M470.2 211.4h0M470.7 210h0M471.1 212.2h0M471.1 213.5h0M471.1 208.4h0M471.4 209.5h0M471.8 211.6h0M471.8 212.9h0M471.9 211.6h0M472 211.6h0M472.3 211.7h0M472.3 211.8h0M472.7 213.1h0M472.9 211.6h0M472.9 209h0M473.1 209.9h0M473.2 210.9h0M473.3 209.4h0M473.4 210.1h0M473.5 209.7h0M473.7 209.4h0M473.8 211.3h0M473.9 209.7h0M473.9 208.7h0M474.6 209h0M474.6 210h0M474.9 212.8h0M475 207.8h0M475.2 211.8h0M475.3 210.4h0M475.5 206.6h0M475.7 210h0M476.1 208.1h0M476.9 207.1h0M477 207.4h0M477.2 211.3h0M477.3 206.6h0M477.4 207.9h0M477.5 210.4h0M477.6 209.6h0M477.7 206.2h0M477.8 208.4h0M477.8 207.9h0M478.4 208h0M478.6 209.3h0M478.9 207.3h0M479.2 207.5h0M479.7 209.8h0M480.8 204.7h0M480.9 206.7h0M481.1 207.8h0M481.5 205.2h0M482.6 205.6h0M482.6 204.6h0M482.6 205.7h0M482.6 205.6h0M482.8 207.5h0M482.9 207.8h0M483 206.4h0M483.3 205.7h0M483.8 206.4h0M483.9 206h0M483.9 204.2h0M484.3 207.4h0M484.4 206.1h0M484.4 206.9h0M484.4 203.9h0M484.5 207h0M484.5 208.7h0M484.6 206.6h0M484.9 203.6h0M485.3 205.5h0M485.4 205.3h0M485.5 205.7h0M486 204.9h0M486.3 205.8h0M486.3 204.4h0M486.4 205.4h0M486.5 204.1h0M486.5 205.2h0M486.6 206.4h0M486.6 204.3h0M486.8 205.8h0M486.8 203.6h0M486.9 204.3h0M487 204.5h0M487 206.6h0M487.1 203.7h0M487.3 206.5h0M487.7 202.5h0M488.2 204.2h0M488.2 205.7h0M488.8 205.2h0M488.8 202.7h0M489.2 202.3h0M489.3 205.2h0M489.7 202.1h0M490 204.6h0M490 203h0M490.1 203.7h0M490.1 207h0M490.2 205.8h0M490.7 204.7h0M490.8 201.5h0M490.8 203.9h0M490.8 203.5h0M490.9 203.3h0M491 205.3h0M491.3 200.8h0M491.5 203.6h0M491.7 203.3h0M491.8 202h0M492 205.5h0M492 201.2h0M492.1 203h0M492.1 203.1h0M492.1 199.9h0M492.3 200.9h0M492.3 201.5h0M492.6 203.9h0M492.7 204.1h0M492.7 203.6h0M492.9 201.8h0M493.2 199.4h0M493.2 202.9h0M493.3 201.8h0M493.3 204.2h0M493.6 204.3h0M493.7 205.6h0M494.1 203.2h0M494.1 203.4h0M494.2 200.7h0M494.3 202.3h0M494.5 200.3h0M494.5 203.4h0M494.5 200.4h0M494.5 200h0M494.9 200.8h0M494.9 201.3h0M495 202.6h0M495.2 201.1h0M495.4 202.2h0M495.6 200.4h0M495.9 203.7h0M496.1 200.8h0M496.3 203.1h0M496.6 204.7h0M496.9 198.1h0M497.1 200.1h0M497.1 201.2h0M497.1 203.2h0M497.3 200.8h0M497.5 202h0M497.5 200.4h0M497.7 202.2h0M497.7 199.7h0M497.8 202.6h0M498 197.1h0M498.4 198.6h0M498.6 203.8h0M498.6 201.5h0M498.7 199.9h0M498.7 204.3h0M498.8 202.7h0M498.9 202.8h0M499 200.5h0M499 202h0M499 201.9h0M499 198.8h0M499.3 201.9h0M499.4 200.8h0M499.4 202.9h0M499.5 202.9h0M499.6 200.1h0M499.8 200.1h0M500.2 201.2h0M500.3 201.8h0M500.3 200.3h0M500.8 200.6h0M501 201.6h0M501.2 201.3h0M501.2 202.4h0M501.5 201h0M501.6 199.3h0M501.8 198h0M501.8 201.7h0M502.4 200h0M502.6 199.9h0M503 199.9h0M503.2 198h0M503.3 199.7h0M503.5 196.5h0M503.6 199.6h0M503.7 198.9h0M504.1 202.7h0M504.2 200.7h0M504.5 199.7h0M504.6 200.2h0M504.8 199.4h0M505.1 198.8h0M505.1 199.6h0M505.3 199.4h0M505.5 203.4h0M505.5 199.9h0M505.7 197h0M505.8 200.9h0M505.9 203.5h0M505.9 198.4h0M506.1 204.7h0M506.2 199.6h0M506.2 201.1h0M506.3 198.8h0M506.4 199.2h0M506.6 197.8h0M506.9 198h0M506.9 196.5h0M507.2 201.1h0M507.3 197.8h0M507.6 199.9h0M507.9 199.8h0M507.9 198.4h0M508.1 199.4h0M508.2 199.1h0M508.3 198.5h0M508.3 199.3h0M508.7 199.2h0M508.9 197.7h0M509.7 197.1h0M509.9 197.7h0M510 199.1h0M510 200.9h0M510.1 201h0M510.3 199.3h0M510.4 200.2h0M510.4 199h0M510.5 200.4h0M510.5 199h0M510.7 199.3h0M510.9 198.3h0M511 198.7h0M511 201.4h0M511.1 197h0M511.2 198.7h0M511.2 197.8h0M511.5 200h0M511.9 201.1h0M512 198.1h0M512 194.5h0M512 199.4h0M512.1 199.4h0M512.7 195.9h0M512.8 198h0M513 198.2h0M513.2 194.9h0M513.4 199.2h0M513.5 198.8h0M514.1 198.4h0M514.1 196.5h0M514.1 197h0M514.4 197.1h0M514.4 198.7h0M514.7 196.5h0M514.8 200.1h0M515 198.4h0M515.5 194.6h0M515.7 200.2h0M515.8 198h0M516 196.9h0M516 197.8h0M516.1 195h0M516.1 197.9h0M516.2 194.1h0M516.3 196.1h0M516.5 199.5h0M516.6 199.4h0M517 197h0M517.1 196.1h0M517.3 198.8h0M517.5 197.3h0M517.5 197.7h0M517.5 198.3h0M517.8 195.8h0M517.8 198.5h0M517.9 194.3h0M518.2 199.4h0M518.4 195h0M518.4 196.3h0M518.4 196.3h0M518.5 198.3h0M518.8 198.3h0M519.2 197.7h0M519.7 197.9h0M519.8 197.7h0M519.8 197h0M519.9 194.2h0M520 191.2h0M520.1 193.7h0M520.2 196.9h0M520.4 196.6h0M520.4 196.8h0M520.4 197.3h0M520.7 196.6h0M520.8 193.1h0M520.8 194.7h0M520.8 194.1h0M520.9 198.7h0M520.9 198.2h0M521.5 192.6h0M521.9 196.4h0M522.1 197.4h0M522.3 199h0M522.6 193.6h0M522.7 196.9h0M522.8 198.3h0M522.9 194.1h0M523 195.5h0M523.1 196.5h0M523.1 195.5h0M523.6 199.6h0M524 197.7h0M524.2 196.7h0M524.3 195h0M525.1 197.6h0M525.2 197.2h0M525.2 195.5h0M525.3 195.6h0M525.3 194.1h0M525.3 196.2h0M525.5 197.5h0M525.6 197.7h0M525.6 197.1h0M525.8 197.4h0M525.9 195.3h0M526.3 195.4h0M526.5 197.9h0M526.5 196.8h0M526.6 194.9h0M526.9 196.8h0M527.1 197.2h0M527.2 197h0M527.4 196.1h0M527.5 195.2h0M527.6 196.5h0M527.6 198.4h0M527.7 196.2h0M527.7 195h0M527.8 196.4h0M527.9 194.1h0M527.9 196.2h0M528 195.4h0M528.1 197.3h0M528.2 196h0M528.2 197.4h0M528.4 197.6h0M528.4 195.5h0M528.4 194.6h0M528.5 196.5h0M528.5 195.7h0M528.5 196h0M528.7 194.9h0M528.8 196.6h0M528.8 195.9h0M528.8 192.6h0M529 195.4h0M529.1 196.2h0M529.5 197.4h0M529.5 194.9h0M529.6 192.1h0M529.8 197.3h0M529.9 194.8h0M530 195.8h0M530 196.3h0M530.4 196.7h0M530.4 195.6h0M530.6 194h0M530.7 197.1h0M531 194.9h0M531.2 194.8h0M531.2 198.5h0M531.2 196.8h0M531.3 194h0M532.3 194.8h0M532.3 195.1h0M532.4 194.4h0M532.4 191.8h0M532.5 196.6h0M532.8 196.5h0M532.8 193.3h0M532.9 194.8h0M532.9 195.7h0M533 196.3h0M533.3 193.8h0M533.3 194.9h0M533.8 194.5h0M534.2 196.3h0M534.3 195.7h0M534.6 193.4h0M534.8 194.3h0M535.1 197.8h0M535.3 193.8h0M535.3 195.4h0M535.4 194.3h0M535.8 197h0M536.3 195h0M536.5 194.5h0M536.5 193.4h0M536.7 194.7h0M536.8 196.3h0M536.9 196h0M537.1 193.1h0M537.3 197.3h0M537.3 194.7h0M537.3 193.5h0M537.4 195.2h0M537.6 194.1h0M537.7 194.1h0M537.7 194.1h0M537.8 194.8h0M538 194.2h0M538.1 192.5h0M538.1 195.7h0M538.2 194.2h0M538.9 196.6h0M539.2 195.6h0M539.3 195.7h0M539.4 195.1h0M539.7 196.7h0M539.7 194.3h0M539.9 193.3h0M540.3 195.2h0M540.4 190.8h0M540.4 194.2h0M540.6 195h0M540.7 194.1h0M540.9 196.5h0M541.2 195.7h0M541.4 193.8h0M541.5 194.1h0M541.6 196.2h0M541.9 193.6h0M542 194h0M542.1 195.7h0M542.1 195.5h0M542.5 197.5h0M542.5 194.2h0M542.7 191.8h0M542.9 195.5h0M542.9 196.3h0M542.9 194.3h0M543.3 196.8h0M543.5 197.1h0M543.5 193.5h0M543.9 193.8h0M544 192.6h0M544.1 195.2h0M544.7 195.4h0M544.8 195.3h0M544.8 192.6h0M544.9 193.3h0M545 192.3h0M545.1 192h0M545.2 192.4h0M545.2 190.1h0M545.3 191.7h0M545.3 194.9h0M545.7 195.2h0M545.7 194.3h0M545.8 193.3h0M545.8 194.3h0M546.1 195.1h0M546.1 193.8h0M546.2 194.3h0M546.3 193.8h0M546.3 193.5h0M546.4 194.3h0M546.6 192.6h0M546.7 195.7h0M546.9 191.9h0M547 194.9h0M547.1 192.2h0M547.1 196.4h0M547.5 195.4h0M548.1 192.9h0M548.1 193.5h0M548.1 192.5h0M548.6 194h0M549.2 194.6h0M549.4 197.7h0M549.5 192h0M549.6 195.8h0M549.9 193.1h0M550 194.4h0M550.1 195.2h0M550.4 194.7h0M550.6 192.1h0M550.6 193.6h0M551.4 193.8h0M551.9 194h0M552.1 195.5h0M552.4 191.6h0M552.5 190.9h0M552.6 192h0M553.1 192.3h0M553.2 192.5h0M553.5 195.2h0M553.9 196.7h0M554 195.6h0M554.1 191.9h0M554.2 193.7h0M554.2 192h0M554.7 192.7h0M555 195.3h0M555.5 192.5h0M555.6 194.7h0M555.7 193.2h0M556 190.6h0M556.4 190.5h0M556.8 193.2h0M557.1 194.1h0M557.3 195.1h0M557.9 192.7h0M558.3 193.3h0M558.6 193.5h0M559 194.7h0M559 193h0M559.2 191.5h0M559.3 194.7h0M559.3 193.7h0M560.1 193.6h0M560.2 191.2h0M560.9 192.9h0M561 190.5h0M561.1 190h0M561.2 192.6h0M562.2 192.2h0M562.4 193.6h0M562.8 194.9h0M562.8 192.7h0M562.9 195.4h0M563.2 191.9h0M563.2 193.8h0M563.3 190.9h0M563.4 192.9h0M563.4 192.2h0M563.6 192.4h0M563.8 191.3h0M563.8 189.9h0M564 190.9h0M564 191.4h0M564.3 192.7h0M564.3 193.1h0M565.3 191.8h0M566.3 191.6h0M566.5 190.4h0M566.9 192.9h0M567.3 191h0M567.5 192.6h0M567.6 189.8h0M567.7 193.9h0M567.8 190.4h0M568.2 193.5h0M568.4 191.1h0M568.6 192.5h0M568.7 191.5h0M569 192.7h0M570 191.5h0M570.4 193.3h0M571.4 192.2h0M571.5 192.2h0M571.7 193.7h0M572.1 190h0M572.1 193h0M572.5 191.1h0M573 188.6h0M573 191.6h0M573.5 190.5h0M574 193.3h0M574.1 189.9h0M574.3 189.9h0M574.3 191h0M574.5 187.6h0M575 191.3h0M575.6 188.8h0M576.1 192.3h0M576.2 192.7h0M576.7 189.9h0M577 187.4h0M577.1 190.1h0M577.5 190h0M578 190.7h0M578.2 189h0M578.3 187.6h0M578.3 189.2h0M578.4 188h0M578.5 192.2h0M578.8 188.2h0M579.1 188.2h0M579.4 189h0M579.7 187h0M579.8 188.3h0M580.2 188.6h0M580.4 188h0M581 188.2h0M581.2 190.5h0M581.2 188.1h0M581.5 186.3h0M581.7 187.7h0M581.9 189.5h0M582 187.3h0M582.1 188.4h0M582.3 188.2h0M582.4 189.1h0M582.5 187.9h0M582.7 187.9h0M582.9 186.7h0M583.7 188.5h0M583.7 186.4h0M583.9 190.6h0M584.3 187.7h0M584.6 187.3h0M585.6 188.7h0M586.1 187.1h0M586.7 187.2h0M586.8 187h0M586.9 185.8h0M587 185.5h0M587.6 185.7h0M588 187.5h0M588 185.7h0M588.4 186h0M588.4 185.9h0M588.8 187.7h0M588.9 189.8h0M589.7 184.8h0M589.8 187.2h0M590.1 186.4h0M590.2 185.7h0M590.3 187h0M590.3 184h0M590.4 187.5h0M590.8 186.4h0M590.9 184.3h0M590.9 188.7h0M591.3 187.3h0M591.5 187.8h0M591.7 183.3h0M592.1 185.3h0M592.3 184.8h0M593.2 186.6h0M593.3 187.8h0M593.4 182.3h0M593.4 185.5h0M593.9 185.2h0M593.9 187.1h0M594.1 185.3h0M594.3 183.2h0M594.4 185h0M594.4 183.6h0M594.6 184h0M594.6 185.4h0M595 184.4h0M595 185.7h0M595.1 182.6h0M595.5 189.1h0M596.1 187.2h0M596.3 186.2h0M596.4 182.8h0M597.2 181.1h0M597.4 183.3h0M597.5 184.4h0M597.8 188.6h0M597.9 187h0M598.3 183.7h0M598.3 186.7h0M598.7 186.7h0M598.7 184.6h0M598.9 186.6h0M599.2 185.1h0M599.5 183.3h0M599.6 182.4h0M600 184.1h0M600 186.1h0M600.3 181.9h0M600.6 181.4h0M600.9 185.2h0M600.9 179.4h0M601 187.3h0M601.4 183.3h0M601.5 185.4h0M602 187.3h0M602.9 181.4h0M603.7 182h0M604.5 187.7h0M604.6 183.2h0M605.1 183.5h0M605.1 184.1h0M605.8 185.5h0M605.8 186h0M607.8 183.6h0M608.2 182.8h0M608.7 183.3h0M608.8 183.9h0M608.8 185.7h0M609.3 183.5h0M609.4 186.6h0M609.4 181.7h0M609.5 184.2h0M609.7 186.4h0M609.8 185.6h0M610 183.8h0M610.9 181.5h0M611 181.8h0M611.4 182.8h0M611.7 183.6h0M612.4 182.5h0M612.6 180.3h0M612.8 181.6h0M613.1 181.3h0M613.3 184.4h0M613.4 180.3h0M613.6 182.1h0M613.9 179.7h0M614 181.7h0M614.1 189.2h0M614.2 182.8h0M614.4 182h0M614.4 181.6h0M614.5 180.4h0M614.5 179.2h0M614.7 182.5h0M614.9 182.1h0M615.5 185.2h0M615.6 179.4h0M615.6 183.2h0M616 184.9h0M616.1 178.8h0M617.4 183.4h0M618.6 176.6h0M619.5 182.8h0M620.1 184.5h0M620.1 181.7h0M621.4 182h0M621.7 180.1h0M622.3 181.9h0M622.6 183.4h0M623.1 180.9h0M623.1 181h0M623.2 182h0M626.7 182.5h0M626.7 177.8h0M627.3 181h0M627.5 179.5h0M627.5 181.8h0M627.6 182.8h0M630.1 181.2h0M630.4 183h0M630.8 178.6h0M630.9 179.7h0M631.1 178.6h0M633.9 180.2h0M634.2 180.2h0M635.3 179.4h0M636 177.3h0M637 179.3h0M637.1 178.6h0M639.1 180.2h0M640.5 178.2h0M641 179.2h0M641 179.1h0M642 174.7h0M642 178.1h0M644.1 175.1h0M644.3 179.9h0M644.4 179.3h0M644.4 177.9h0M644.7 178.8h0M644.7 174.9h0M644.7 173.3h0M644.8 176.7h0M644.8 177.3h0M644.9 174.8h0M645 178h0M645.1 178.4h0" fill="none" stroke="#000" stroke-linecap="round" stroke-width="3.3"/><g fill="none" stroke="#0ff" stroke-linecap="round"><path d="M610.9 152.4h0M427.5 330h0M546.1 209.2h0M419.8 223h0M448.3 194.6h0M330.9 277.9h0M573 231.1h0M406.7 212.1h0M532.8 226.1h0M621.4 137.3h0M192 319.5h0M439.6 258.4h0M203.5 270.3h0M342 92.7h0M271.1 316.3h0M430.6 180.1h0M504.8 330.7h0M117.3 279.3h0M275.2 336.9h0M542.1 301.9h0M452.3 226.9h0M609.4 319.1h0M339.8 195.7h0M376.4 214.4h0M209.9 263.2h0M501.6 190h0M331.2 265.9h0M140.4 302.3h0M394.8 246.8h0M478.6 176.6h0M566.3 188.2h0M586.1 81.2h0M411.9 204.4h0M464.8 147.3h0M497.8 239h0M548.1 227h0M557.3 67.8h0M584.3 233.1h0M590.9 85.9h0M110.1 326.1h0M417.7 263.9h0M527.6 256.5h0M429.2 274.7h0M375.9 200.4h0M486.3 265.2h0M516 243.4h0M359.2 247.5h0M436.4 89h0M590.4 284.5h0M572.1 148.8h0M169.1 170.2h0M433.9 324.5h0M511.5 252.9h0M405 206.8h0M544 283.5h0M269.2 220.7h0M609.7 114.9h0M498 229h0M335 206.2h0M616 132.8h0M499.8 138.7h0M429.2 166.7h0M447.9 127.1h0M386.8 294.3h0M295.4 309.1h0M453.2 274.1h0M391.3 244.9h0M562.4 84h0M543.5 251.3h0M225.4 247.2h0M281.4 292.5h0M262.6 238.6h0M380.4 112h0M369.2 233.6h0M474.6 238.8h0M446.5 263.6h0M462.8 302.6h0M243.1 308.4h0M350.2 295.7h0M386 299.3h0M495.6 321.5h0M434.6 263.3h0M427.2 209.5h0M466 245.1h0M567.8 254.2h0M247.3 348.2h0M258.4 330.1h0M459.9 128.1h0M478.9 256.8h0M421.8 307.5h0M520.8 331.3h0M318.6 243.4h0M446.5 167.1h0M527.6 93.1h0M529.1 167.6h0M529.5 218.4h0M408.9 336.8h0M556 285.8h0M434.4 310.9h0M402 292.6h0M503.7 230.1h0M535.3 166.1h0M563.4 72.9h0M511.2 291.4h0M385.8 134.5h0M533.8 312.9h0M457.2 229.1h0M397.1 310.1h0M370.5 215.4h0M433.2 268.6h0M432.2 308.4h0M456.1 232.5h0M306.1 246.7h0M595 132.1h0M254.7 244.4h0M377.4 295.5h0M337.7 259.4h0M571.5 111.8h0M327.2 300.9h0M415.5 124.1h0M301.5 327.5h0M587.6 301.6h0M310.2 344.1h0M622.3 122.5h0M326.2 302.2h0M451 157.6h0M644.8 238h0M573.5 192.7h0M505.7 158.2h0M222.1 285.7h0M549.6 329.2h0M469.8 284.8h0M571.4 155h0M427.9 282.8h0M498.8 306.5h0M356.5 265.1h0M366.3 207.7h0M291.9 265.9h0M533.3 171.1h0M561 104.9h0M534.6 208.6h0M206.5 280.9h0M380 228.4h0M419.1 286.5h0M343.7 265.7h0M471.1 279.2h0M430.4 245.9h0M600 112.9h0M435.3 189.5h0M547.1 297.8h0M344.2 325.3h0M176.5 247.2h0M195.5 312.6h0M635.3 213.7h0M376.1 167.6h0M139 305.8h0M586.8 202.4h0M265.9 242.9h0M270.8 315.1h0M297.7 224.9h0M508.3 292.7h0M406.4 297h0M321.8 208.1h0M376.1 342.5h0M466.7 163h0M501 301.6h0M492.7 321.3h0M511.1 288.8h0M427.8 266.2h0M272.1 246h0M552.4 136.4h0M271.4 263.8h0M396.7 110.7h0M553.9 224.9h0M542.5 236.3h0M454.1 93.9h0M575 198.4h0M187.9 313.3h0M445.7 284.8h0M464 333.8h0M381.9 317.3h0M259 254.4h0M518.4 300.7h0M393.9 185.7h0M136.9 330.9h0M248.8 301.1h0M519.8 100.2h0M261.5 333.7h0M363.5 157.2h0M519.8 317.2h0M540.4 91.9h0M511.9 145.4h0M537.3 194.9h0M292 131h0M436.1 312h0M469.3 266.2h0M280.5 230.5h0M449.4 68.7h0M558.6 128.9h0M402.2 324.6h0M423.1 164.7h0M469.6 158.3h0M420.8 214.4h0M281.7 309.9h0M353.5 124.4h0M396.6 201.8h0M494.3 94.3h0M554.1 158.3h0M482.6 294.9h0M463.9 314.7h0M515.7 285.2h0M510.5 184.5h0M455.6 237.4h0M579.8 150.4h0M207.2 277.3h0M614.9 106.4h0M332.1 284.8h0M542.9 162.1h0M528.4 187.4h0M476.9 79.5h0M393.2 233.8h0M237 327.3h0M414.6 297.2h0M582 168h0M393.8 215.4h0M630.8 181.7h0M412.7 72.2h0M405.6 187.2h0M525.2 139.3h0M491.3 261h0M166.6 152h0M449.8 135.9h0M471.1 144.7h0M602 275.9h0M578.3 267.8h0M604.5 274.6h0M471.8 165h0M516.2 227.6h0M422.1 267.4h0M486.5 341.4h0M556.8 95.3h0M337.8 221.3h0M221.9 327.9h0M574 189.9h0M398.9 215.1h0M457.8 264.8h0M472.3 170.2h0M490.9 141.5h0M622.6 286.8h0M590.8 287.2h0M388.6 234h0M540.3 157.2h0M602.9 249.1h0M463.4 272.7h0M428.8 255.7h0M201.7 307.3h0M443.3 283.4h0M512 324.2h0M414 47h0M453.2 115.2h0M456.8 162.1h0M388.3 261.6h0M503 89.3h0M529.5 258.6h0M326 260.7h0M373.6 222.9h0M440.1 129.3h0M582.9 87.7h0M552.6 212.3h0M237.9 166.8h0M458.2 120h0M372.5 266.5h0M420 105.2h0M273.8 325.1h0M545 313.1h0M438 210.7h0M473.3 122.8h0M427 182.5h0M418.7 259.1h0M423.5 235.3h0M329.5 270.1h0M510.3 226.6h0M525.8 217.1h0M568.4 305.2h0M219.1 325h0M384.3 126.2h0M409.4 213.2h0M585.6 98h0M268.8 324.7h0M376.3 285.7h0M597.2 258.3h0M275.3 231h0M611.7 161.9h0M427.6 286.9h0M424.8 113.4h0M167.2 198h0M262.3 277h0M433.4 266.3h0M283.6 237.2h0M288.9 238.9h0M499.4 295.1h0M439.4 74.4h0M550.4 164.3h0M539.7 252.6h0M429.7 129.8h0M498.6 281.7h0M412.8 92.5h0M456.6 257.8h0M454.9 94.3h0M609.5 312h0M416.4 321.4h0M454.4 168.6h0M380.7 302.7h0M548.1 159.3h0M342.9 315.3h0M614.4 145.9h0M495.9 283.9h0M536.5 192.4h0M524.2 165.8h0M486.3 57.6h0M568.6 106.2h0M237.7 281.2h0M484.4 80.6h0M297.8 295.7h0M376.7 276.5h0M285.4 225.3h0M644.1 265h0M614.5 118.9h0M409.8 337h0M478.4 196.5h0M467 328.2h0M206.1 272.1h0M402.5 305.2h0M252.4 209.5h0M267.2 289.5h0M484.5 126.7h0M325.6 224.4h0M526.5 219.3h0M443.3 242.9h0M477.7 147.9h0M384.8 180.6h0M612.4 185.6h0M582.3 116h0M528.8 81.8h0M559.2 76.2h0M308.1 318.8h0M588.9 74.7h0M310.5 320.6h0M390.6 267.1h0M631.1 136.6h0M454.5 233.8h0M442.7 63.3h0M475.3 335.4h0M503.2 248h0M508.2 149.3h0M256 301.1h0M490.8 258.9h0M492.1 278.7h0M545.2 85.9h0M184.4 305.1h0M365.3 115.4h0M442.9 297.1h0M531.2 265.1h0M224.6 299.5h0M294.6 331.2h0M593.3 141.4h0M462.6 175.6h0M538.2 291.3h0M307.1 175.4h0M494.1 276.5h0M483 150.4h0M330.5 173.8h0M267.4 334h0M412.2 82.8h0M383.7 304.5h0M432.6 107.8h0M382.7 253.8h0M397.6 266.7h0M543.3 118.4h0M517.5 276.6h0M580.4 203.9h0M299.3 307.2h0M519.9 228.6h0M455.7 311.1h0M492.6 130.1h0M615.5 166.1h0M522.3 239.7h0M612.6 203.5h0M494.5 249.5h0M525.6 110.8h0M581.2 185.4h0M423.5 226h0M337.8 244h0M260.4 208.7h0M525.6 276.6h0M182.4 316.4h0M627.3 121.1h0M519.7 286.2h0M192 277h0M569 297.7h0M431.3 103h0M493.7 260h0M248.3 337.6h0M480.9 234.1h0M207.4 303.7h0M620.1 167.2h0M578.3 317h0M482.6 131.9h0M409.1 267.2h0M214.2 187h0M501.2 77.2h0M388.6 253.5h0M594.6 317.6h0M555.6 164.3h0M448.2 302.4h0M462 307.9h0M262.3 242.2h0M420.4 305.3h0M445.8 160.2h0M499.3 108.6h0M510.4 296.8h0M407.5 156h0M605.8 284.7h0M576.1 297h0M406.4 186.5h0M576.7 74.6h0M516.1 160.4h0M644.7 224h0M473.7 236.3h0M435.7 303.7h0M595.1 85.9h0M470.1 161.9h0M443 276h0M305.8 285.7h0M446.5 310.7h0M461.5 268.5h0M595 275.6h0M412 286.1h0M522.1 280.8h0M542.9 328.1h0M219.6 309.9h0M445.3 289.4h0M273.7 267.2h0M590.3 324.7h0M334.9 284.6h0M237.8 309.9h0M468.7 286.6h0M313.8 274.7h0M515.5 261.9h0M456.8 290.7h0M186.9 328.1h0M544.9 178.9h0M500.3 106.7h0M409.8 287.7h0M209.8 241.6h0M420.7 289.7h0M240.5 242.7h0M451.5 183.6h0M415.1 146.4h0M151.7 309.9h0M369.4 107.6h0M494.5 108.5h0M432.7 259.1h0M563.8 302.6h0M460.3 250.4h0M554.2 272h0M563.2 132.7h0M428 227.5h0M488.8 243.5h0M596.3 73.3h0M384.3 301.6h0M297.8 316.7h0M358.1 257.3h0M477.8 288.7h0M489.2 245.2h0M436 255.5h0M338.2 125.1h0M572.5 147.2h0M377.3 184.9h0M537.7 126.7h0M436.6 305.6h0M364.9 158.7h0" stroke-width="3.3" stroke-opacity=".5"/><path d="M610.9 152.4h0M427.5 330h0M546.1 209.2h0M419.8 223h0M448.3 194.6h0M330.9 277.9h0M573 231.1h0M406.7 212.1h0M532.8 226.1h0M621.4 137.3h0M192 319.5h0M439.6 258.4h0M203.5 270.3h0M342 92.7h0M271.1 316.3h0M430.6 180.1h0M504.8 330.7h0M117.3 279.3h0M275.2 336.9h0M542.1 301.9h0M452.3 226.9h0M609.4 319.1h0M339.8 195.7h0M376.4 214.4h0M209.9 263.2h0M501.6 190h0M331.2 265.9h0M140.4 302.3h0M394.8 246.8h0M478.6 176.6h0M566.3 188.2h0M586.1 81.2h0M411.9 204.4h0M464.8 147.3h0M497.8 239h0M548.1 227h0M557.3 67.8h0M584.3 233.1h0M590.9 85.9h0M110.1 326.1h0M417.7 263.9h0M527.6 256.5h0M429.2 274.7h0M375.9 200.4h0M486.3 265.2h0M516 243.4h0M359.2 247.5h0M436.4 89h0M590.4 284.5h0M572.1 148.8h0M169.1 170.2h0M433.9 324.5h0M511.5 252.9h0M405 206.8h0M544 283.5h0M269.2 220.7h0M609.7 114.9h0M498 229h0M335 206.2h0M616 132.8h0M499.8 138.7h0M429.2 166.7h0M447.9 127.1h0M386.8 294.3h0M295.4 309.1h0M453.2 274.1h0M391.3 244.9h0M562.4 84h0M543.5 251.3h0M225.4 247.2h0M281.4 292.5h0M262.6 238.6h0M380.4 112h0M369.2 233.6h0M474.6 238.8h0M446.5 263.6h0M462.8 302.6h0M243.1 308.4h0M350.2 295.7h0M386 299.3h0M495.6 321.5h0M434.6 263.3h0M427.2 209.5h0M466 245.1h0M567.8 254.2h0M247.3 348.2h0M258.4 330.1h0M459.9 128.1h0M478.9 256.8h0M421.8 307.5h0M520.8 331.3h0M318.6 243.4h0M446.5 167.1h0M527.6 93.1h0M529.1 167.6h0M529.5 218.4h0M408.9 336.8h0M556 285.8h0M434.4 310.9h0M402 292.6h0M503.7 230.1h0M535.3 166.1h0M563.4 72.9h0M511.2 291.4h0M385.8 134.5h0M533.8 312.9h0M457.2 229.1h0M397.1 310.1h0M370.5 215.4h0M433.2 268.6h0M432.2 308.4h0M456.1 232.5h0M306.1 246.7h0M595 132.1h0M254.7 244.4h0M377.4 295.5h0M337.7 259.4h0M571.5 111.8h0M327.2 300.9h0M415.5 124.1h0M301.5 327.5h0M587.6 301.6h0M310.2 344.1h0M622.3 122.5h0M326.2 302.2h0M451 157.6h0M644.8 238h0M573.5 192.7h0M505.7 158.2h0M222.1 285.7h0M549.6 329.2h0M469.8 284.8h0M571.4 155h0M427.9 282.8h0M498.8 306.5h0M356.5 265.1h0M366.3 207.7h0M291.9 265.9h0M533.3 171.1h0M561 104.9h0M534.6 208.6h0M206.5 280.9h0M380 228.4h0M419.1 286.5h0M343.7 265.7h0M471.1 279.2h0M430.4 245.9h0M600 112.9h0M435.3 189.5h0M547.1 297.8h0M344.2 325.3h0M176.5 247.2h0M195.5 312.6h0M635.3 213.7h0M376.1 167.6h0M139 305.8h0M586.8 202.4h0M265.9 242.9h0M270.8 315.1h0M297.7 224.9h0M508.3 292.7h0M406.4 297h0M321.8 208.1h0M376.1 342.5h0M466.7 163h0M501 301.6h0M492.7 321.3h0M511.1 288.8h0M427.8 266.2h0M272.1 246h0M552.4 136.4h0M271.4 263.8h0M396.7 110.7h0M553.9 224.9h0M542.5 236.3h0M454.1 93.9h0M575 198.4h0M187.9 313.3h0M445.7 284.8h0M464 333.8h0M381.9 317.3h0M259 254.4h0M518.4 300.7h0M393.9 185.7h0M136.9 330.9h0M248.8 301.1h0M519.8 100.2h0M261.5 333.7h0M363.5 157.2h0M519.8 317.2h0M540.4 91.9h0M511.9 145.4h0M537.3 194.9h0M292 131h0M436.1 312h0M469.3 266.2h0M280.5 230.5h0M449.4 68.7h0M558.6 128.9h0M402.2 324.6h0M423.1 164.7h0M469.6 158.3h0M420.8 214.4h0M281.7 309.9h0M353.5 124.4h0M396.6 201.8h0M494.3 94.3h0M554.1 158.3h0M482.6 294.9h0M463.9 314.7h0M515.7 285.2h0M510.5 184.5h0M455.6 237.4h0M579.8 150.4h0M207.2 277.3h0M614.9 106.4h0M332.1 284.8h0M542.9 162.1h0M528.4 187.4h0M476.9 79.5h0M393.2 233.8h0M237 327.3h0M414.6 297.2h0M582 168h0M393.8 215.4h0M630.8 181.7h0M412.7 72.2h0M405.6 187.2h0M525.2 139.3h0M491.3 261h0M166.6 152h0M449.8 135.9h0M471.1 144.7h0M602 275.9h0M578.3 267.8h0M604.5 274.6h0M471.8 165h0M516.2 227.6h0M422.1 267.4h0M486.5 341.4h0M556.8 95.3h0M337.8 221.3h0M221.9 327.9h0M574 189.9h0M398.9 215.1h0M457.8 264.8h0M472.3 170.2h0M490.9 141.5h0M622.6 286.8h0M590.8 287.2h0M388.6 234h0M540.3 157.2h0M602.9 249.1h0M463.4 272.7h0M428.8 255.7h0M201.7 307.3h0M443.3 283.4h0M512 324.2h0M414 47h0M453.2 115.2h0M456.8 162.1h0M388.3 261.6h0M503 89.3h0M529.5 258.6h0M326 260.7h0M373.6 222.9h0M440.1 129.3h0M582.9 87.7h0M552.6 212.3h0M237.9 166.8h0M458.2 120h0M372.5 266.5h0M420 105.2h0M273.8 325.1h0M545 313.1h0M438 210.7h0M473.3 122.8h0M427 182.5h0M418.7 259.1h0M423.5 235.3h0M329.5 270.1h0M510.3 226.6h0M525.8 217.1h0M568.4 305.2h0M219.1 325h0M384.3 126.2h0M409.4 213.2h0M585.6 98h0M268.8 324.7h0M376.3 285.7h0M597.2 258.3h0M275.3 231h0M611.7 161.9h0M427.6 286.9h0M424.8 113.4h0M167.2 198h0M262.3 277h0M433.4 266.3h0M283.6 237.2h0M288.9 238.9h0M499.4 295.1h0M439.4 74.4h0M550.4 164.3h0M539.7 252.6h0M429.7 129.8h0M498.6 281.7h0M412.8 92.5h0M456.6 257.8h0M454.9 94.3h0M609.5 312h0M416.4 321.4h0M454.4 168.6h0M380.7 302.7h0M548.1 159.3h0M342.9 315.3h0M614.4 145.9h0M495.9 283.9h0M536.5 192.4h0M524.2 165.8h0M486.3 57.6h0M568.6 106.2h0M237.7 281.2h0M484.4 80.6h0M297.8 295.7h0M376.7 276.5h0M285.4 225.3h0M644.1 265h0M614.5 118.9h0M409.8 337h0M478.4 196.5h0M467 328.2h0M206.1 272.1h0M402.5 305.2h0M252.4 209.5h0M267.2 289.5h0M484.5 126.7h0M325.6 224.4h0M526.5 219.3h0M443.3 242.9h0M477.7 147.9h0M384.8 180.6h0M612.4 185.6h0M582.3 116h0M528.8 81.8h0M559.2 76.2h0M308.1 318.8h0M588.9 74.7h0M310.5 320.6h0M390.6 267.1h0M631.1 136.6h0M454.5 233.8h0M442.7 63.3h0M475.3 335.4h0M503.2 248h0M508.2 149.3h0M256 301.1h0M490.8 258.9h0M492.1 278.7h0M545.2 85.9h0M184.4 305.1h0M365.3 115.4h0M442.9 297.1h0M531.2 265.1h0M224.6 299.5h0M294.6 331.2h0M593.3 141.4h0M462.6 175.6h0M538.2 291.3h0M307.1 175.4h0M494.1 276.5h0M483 150.4h0M330.5 173.8h0M267.4 334h0M412.2 82.8h0M383.7 304.5h0M432.6 107.8h0M382.7 253.8h0M397.6 266.7h0M543.3 118.4h0M517.5 276.6h0M580.4 203.9h0M299.3 307.2h0M519.9 228.6h0M455.7 311.1h0M492.6 130.1h0M615.5 166.1h0M522.3 239.7h0M612.6 203.5h0M494.5 249.5h0M525.6 110.8h0M581.2 185.4h0M423.5 226h0M337.8 244h0M260.4 208.7h0M525.6 276.6h0M182.4 316.4h0M627.3 121.1h0M519.7 286.2h0M192 277h0M569 297.7h0M431.3 103h0M493.7 260h0M248.3 337.6h0M480.9 234.1h0M207.4 303.7h0M620.1 167.2h0M578.3 317h0M482.6 131.9h0M409.1 267.2h0M214.2 187h0M501.2 77.2h0M388.6 253.5h0M594.6 317.6h0M555.6 164.3h0M448.2 302.4h0M462 307.9h0M262.3 242.2h0M420.4 305.3h0M445.8 160.2h0M499.3 108.6h0M510.4 296.8h0M407.5 156h0M605.8 284.7h0M576.1 297h0M406.4 186.5h0M576.7 74.6h0M516.1 160.4h0M644.7 224h0M473.7 236.3h0M435.7 303.7h0M595.1 85.9h0M470.1 161.9h0M443 276h0M305.8 285.7h0M446.5 310.7h0M461.5 268.5h0M595 275.6h0M412 286.1h0M522.1 280.8h0M542.9 328.1h0M219.6 309.9h0M445.3 289.4h0M273.7 267.2h0M590.3 324.7h0M334.9 284.6h0M237.8 309.9h0M468.7 286.6h0M313.8 274.7h0M515.5 261.9h0M456.8 290.7h0M186.9 328.1h0M544.9 178.9h0M500.3 106.7h0M409.8 287.7h0M209.8 241.6h0M420.7 289.7h0M240.5 242.7h0M451.5 183.6h0M415.1 146.4h0M151.7 309.9h0M369.4 107.6h0M494.5 108.5h0M432.7 259.1h0M563.8 302.6h0M460.3 250.4h0M554.2 272h0M563.2 132.7h0M428 227.5h0M488.8 243.5h0M596.3 73.3h0M384.3 301.6h0M297.8 316.7h0M358.1 257.3h0M477.8 288.7h0M489.2 245.2h0M436 255.5h0M338.2 125.1h0M572.5 147.2h0M377.3 184.9h0M537.7 126.7h0M436.6 305.6h0M364.9 158.7h0" stroke-width="2.3" stroke-opacity=".32"/><path d="M399.8 268.8h0M620.1 115.4h0M405.7 322.1h0M546.9 324.2h0M401.7 112.7h0M560.9 88.4h0M472.9 197.9h0M527.2 278.4h0M497.3 336.9h0M466.7 175.8h0M440.3 133.9h0M506.4 165.7h0M302.6 152.7h0M528.4 113h0M321.3 342.7h0M345.3 253.2h0M476.1 218h0M96.7 200.1h0M277.4 374.1h0M362.1 144.8h0M241.3 240.1h0M486.8 85.7h0M452.9 291.1h0M545.3 115.6h0M352.4 279.4h0M516.6 287.1h0M328 241.4h0M630.4 244.5h0M526.5 244.1h0M428 264.6h0M369 313h0M470.1 128.8h0M503.3 162.4h0M517.5 73h0M468.5 332.3h0M461.7 242.7h0M449.9 224.3h0M166.2 204.9h0M520.4 294.7h0M473.5 200.6h0M644.3 229h0M614 130.5h0M318.5 309h0M432.7 194.9h0M460.6 236.2h0M273.2 311.3h0M436.9 329.8h0M534.2 323.6h0M293.1 218.8h0M399.9 253h0M424.6 179.6h0M435.6 122.4h0M590.1 313.8h0M450.9 312.3h0M462.5 168.9h0M552.1 287.3h0M459.5 242.8h0M376.8 269.1h0M275.3 288.1h0M462.4 145.8h0M334.8 275.7h0M540.4 140.4h0M432.3 279.4h0M431.7 220h0M351.6 273.7h0M271.4 306.1h0M494.1 319.6h0M356.9 292.1h0M396.5 328.7h0M449.9 310.7h0M397.8 160.4h0M501.2 95.2h0M420.4 214.2h0M280.9 67.3h0M374.1 268.9h0M417 230.4h0M565.3 131h0M464.5 283.2h0M431.1 143.6h0M517.1 124h0M600.9 239.7h0M539.9 72.5h0M522.6 163.8h0M490 220.2h0M333.6 141.9h0M548.6 136.7h0M393.6 312.5h0M142.1 317.8h0M152.4 318.2h0M613.9 290.8h0M293.8 333.4h0M644.8 250h0M511.2 217.4h0M627.5 254.7h0M464.5 197.9h0M273.8 236.3h0M570 306.8h0M523.1 295.5h0M398.5 319.5h0M521.5 96.3h0M544.7 224h0M388.5 316.9h0M538.1 103.4h0M423.4 158h0M515.8 122.9h0M178.9 330.9h0M542.9 220.2h0M611.4 120.3h0M393.6 280.6h0M371.7 203.3h0M454.7 309.4h0M394.8 308.4h0M418.9 342.1h0M578.2 251.7h0M519.2 284.6h0M626.7 177h0M597.5 318.6h0M307.8 288.7h0M490.1 206.7h0M360.9 203.4h0M497.1 212h0M400.4 313.2h0M528.7 229.4h0M445.7 239.8h0M506.2 164.9h0M518.8 179.4h0M250.4 316.6h0M497.1 282h0M611 129.9h0M488.8 177.1h0M282.9 280.3h0M182.7 302.3h0M291.7 327.7h0M258.6 345.2h0M249.7 211.6h0M373.7 235.5h0M235.3 197.2h0M621.7 140.8h0M626.7 198.8h0M591.3 106.2h0M473.9 134.2h0M454.6 179.5h0M526.6 92.8h0M509.9 203.3h0M567.5 305.4h0M332.6 290.2h0M498.6 233.1h0M455.4 223.1h0M529.8 242.3h0M332.1 160.3h0M486.8 292h0M303 160.6h0M309.5 317.5h0M574.1 92h0M528.8 73.1h0M560.2 90h0M594.4 228.6h0M458.8 196.9h0M447.5 158.3h0M431.5 312.7h0M251.8 260.5h0M288.5 350.4h0M211.1 256.8h0M507.9 292.8h0M270.3 340.4h0M460.9 316.9h0M407.7 286h0M316.6 254.8h0M270.5 269.4h0M592.1 185.2h0M220.5 236.8h0M542.7 283h0M410 290.4h0M456.7 230.4h0M453.7 298.7h0M374.6 184.1h0M578 159.3h0M472.7 280.2h0M419.8 234.1h0M470.2 141.1h0M260.3 199h0M363.2 342.1h0M320.1 126.4h0M405.9 158.4h0M371.7 110.7h0M563.6 137.2h0M260.2 241.9h0M301.3 297.9h0M443.5 184.1h0M382.3 137.7h0M314.1 238h0M588 84.2h0M630.1 284.1h0M281.1 326h0M573 59.5h0M483.9 227.7h0M459.5 153.7h0M442.5 223.8h0M418.4 235.3h0M328.6 179.2h0M454.9 288.2h0M350.6 332.6h0M302.8 332h0M467.2 278.7h0M390.5 155.6h0M229.8 244.4h0M359.7 345.3h0M492.1 169.2h0M644.9 214h0M394.5 308.2h0M605.1 302h0M274 221.1h0M507.3 267.1h0M356.5 262.2h0M404.7 139.7h0M517.3 89h0M274.7 302h0M545.1 301.1h0M273.8 274.2h0M503.5 117.8h0M430.6 206.4h0M323.1 265.8h0M333.9 219.2h0M426.8 304.7h0M392.3 285.7h0M271.8 323.5h0M464.4 267.7h0M344.6 199.9h0M642 300h0M306.4 265.3h0M392.5 242.3h0M562.2 119.4h0M342.6 267.8h0M441.1 299h0M301.9 261.2h0M317.9 245.1h0M274 93.8h0M351.4 210.4h0M522.8 200.8h0M402.1 218.1h0M552.5 79h0M608.7 142h0M536.9 299.7h0M517.8 61.8h0M543.9 252.9h0M437.8 171.9h0M497.5 228.1h0M436.1 124.3h0M495.4 256.3h0M375 139.1h0M531.2 252.8h0M455.1 246.2h0M384.3 217.1h0M287.7 316.9h0M319.3 343.8h0M442.6 332.2h0M539.4 123.9h0M408.4 254.2h0M340.5 280.2h0M453.7 331.9h0M607.8 256.7h0M482.6 328.4h0M368.3 174.3h0M203.5 261.6h0M644.4 220h0M290.3 348.6h0M556.4 108.2h0M433.6 248.1h0M545.3 104.3h0M510.1 136.8h0M598.3 260.4h0M427.9 124.6h0M383.9 175.1h0M506.9 257.9h0M473.9 307.5h0M637.1 281.9h0M309.6 313.3h0M561.2 224.6h0M610 178.2h0M396.8 273h0M424.1 156.7h0M329.3 190.7h0M164.5 329.9h0M563.3 131h0M375.5 251.7h0M547 94.8h0M479.7 234.4h0M411.9 167.2h0M484.5 167.5h0M390.7 154.8h0M401.1 288.3h0M537.6 284.7h0M332.8 114.4h0M550.6 89.1h0M553.1 192.6h0M614.4 205.3h0M460.9 154.2h0M486.6 223.3h0M271.4 337.4h0M287 308.1h0M315.6 228.8h0M372.8 297.3h0M71.7 340h0M523 295.3h0M559 196.5h0M487 95.4h0M597.4 288.2h0M456 150h0M414.5 340.9h0M496.1 319.2h0M541.2 187h0M434.7 241.9h0M608.8 215.1h0M274.6 339.1h0M451.9 296.3h0M589.8 147.8h0M587 137.2h0M295.8 341h0M325.5 205.8h0M601.4 146.7h0M336.1 296.3h0M525.1 174.1h0M619.5 125.6h0M406.5 265.8h0M441.8 302.8h0M250.7 307.3h0M600.6 165.5h0M570.4 180.5h0M566.9 99.9h0M549.4 156.1h0M525.3 200.9h0M499 206.7h0M581 265.2h0M491.8 285h0M517.5 173.1h0M505.5 164.4h0M384.8 263.1h0M400.2 77.8h0M340.5 212.1h0M601 221.2h0M338.4 179.8h0M378.1 295.3h0M422.7 154.3h0M354 271.5h0M542 63.7h0M605.8 83.1h0M417.6 304.5h0M538 76.4h0M492.3 86.8h0M298.3 280h0M422.8 135.6h0M497.5 286.2h0M529.9 189.2h0M508.7 211.8h0M525.2 101.7h0M557.1 130h0M499.5 291.6h0M447.1 298.4h0M518.4 318h0M172.4 260h0M392.4 123.9h0M421.2 202h0M423 220.1h0M420.1 306.8h0M593.9 286.9h0M493.6 193.9h0M375.3 81h0M505.3 110.8h0M382.6 160.6h0M410.8 331.6h0M571.7 181.4h0M268.6 271.8h0M564 124.3h0M209.8 255.7h0M118.7 319.9h0M194.1 259.3h0M379.3 133.2h0M614.1 257.8h0M368 153.9h0M609.4 193.3h0M645.1 257h0M623.2 283.2h0M427.7 125.1h0M530.4 230.6h0M205.5 166.1h0M220.1 198.6h0M599.6 266.5h0M245 327.1h0M560.1 216h0M417.4 290.4h0M470.7 189.8h0M286.1 263h0M369.1 304.1h0M410.9 323.1h0M537.8 71.3h0M600.9 202.2h0M332 230.8h0M499.6 142.7h0M455.6 135.6h0M207.8 297.7h0M506.9 298.1h0M609.3 116.2h0M405 149.3h0M615.6 318.9h0M350.3 323.8h0M431.6 321.7h0M451.8 102h0M371.6 148.4h0M437 136.1h0M435.4 208.1h0M597.8 247.4h0M289.6 299h0M599.5 204h0M434.1 148.5h0M463.4 233.7h0M494.5 280.3h0M274.4 299.9h0M512.8 281.6h0M375.7 341.6h0M533 101.4h0M473.8 225.3h0M337.6 182.8h0M379 289.6h0M289.1 306.6h0M263.2 264.1h0M512.7 308.4h0M326.1 322.1h0M416.7 314.1h0M290.1 311.2h0M445.9 159.4h0M249.3 282.7h0M579.7 110.7h0M417 332.8h0M535.3 324.9h0M639.1 286.9h0M495 128.6h0M408.2 261h0M498.9 153.9h0M520.8 163.3h0M467.2 292h0M263.3 271.6h0M392.1 72.3h0M627.5 195.5h0M333.3 284.2h0M586.7 324.9h0M342.8 225.7h0M445.6 333h0M528 63.4h0M263.7 286.9h0M546.6 265.9h0M374.2 299.3h0M381.8 209.9h0M510.4 126.9h0M362.6 339.7h0M548.1 222.2h0M479.2 268.4h0M328.2 311.3h0M446.8 220.5h0M379.6 177h0M437.1 232.9h0M303.1 304.6h0M283.7 314.5h0M226.9 166.8h0M545.8 241.9h0M541.9 97.8h0M369.4 170.4h0M366.8 293.8h0M493.2 181h0M163.5 346.3h0M533.3 183.7h0M138.7 289.6h0M510 161.8h0M536.8 228.1h0M287.4 284.5h0M525.5 136.3h0M349.7 222.1h0M406.2 168.6h0M637 236h0M439.4 245.3h0M290.2 320.1h0M370.3 138.7h0M370.2 239.5h0" stroke-width="3.3" stroke-opacity=".5"/><path d="M399.8 268.8h0M620.1 115.4h0M405.7 322.1h0M546.9 324.2h0M401.7 112.7h0M560.9 88.4h0M472.9 197.9h0M527.2 278.4h0M497.3 336.9h0M466.7 175.8h0M440.3 133.9h0M506.4 165.7h0M302.6 152.7h0M528.4 113h0M321.3 342.7h0M345.3 253.2h0M476.1 218h0M96.7 200.1h0M277.4 374.1h0M362.1 144.8h0M241.3 240.1h0M486.8 85.7h0M452.9 291.1h0M545.3 115.6h0M352.4 279.4h0M516.6 287.1h0M328 241.4h0M630.4 244.5h0M526.5 244.1h0M428 264.6h0M369 313h0M470.1 128.8h0M503.3 162.4h0M517.5 73h0M468.5 332.3h0M461.7 242.7h0M449.9 224.3h0M166.2 204.9h0M520.4 294.7h0M473.5 200.6h0M644.3 229h0M614 130.5h0M318.5 309h0M432.7 194.9h0M460.6 236.2h0M273.2 311.3h0M436.9 329.8h0M534.2 323.6h0M293.1 218.8h0M399.9 253h0M424.6 179.6h0M435.6 122.4h0M590.1 313.8h0M450.9 312.3h0M462.5 168.9h0M552.1 287.3h0M459.5 242.8h0M376.8 269.1h0M275.3 288.1h0M462.4 145.8h0M334.8 275.7h0M540.4 140.4h0M432.3 279.4h0M431.7 220h0M351.6 273.7h0M271.4 306.1h0M494.1 319.6h0M356.9 292.1h0M396.5 328.7h0M449.9 310.7h0M397.8 160.4h0M501.2 95.2h0M420.4 214.2h0M280.9 67.3h0M374.1 268.9h0M417 230.4h0M565.3 131h0M464.5 283.2h0M431.1 143.6h0M517.1 124h0M600.9 239.7h0M539.9 72.5h0M522.6 163.8h0M490 220.2h0M333.6 141.9h0M548.6 136.7h0M393.6 312.5h0M142.1 317.8h0M152.4 318.2h0M613.9 290.8h0M293.8 333.4h0M644.8 250h0M511.2 217.4h0M627.5 254.7h0M464.5 197.9h0M273.8 236.3h0M570 306.8h0M523.1 295.5h0M398.5 319.5h0M521.5 96.3h0M544.7 224h0M388.5 316.9h0M538.1 103.4h0M423.4 158h0M515.8 122.9h0M178.9 330.9h0M542.9 220.2h0M611.4 120.3h0M393.6 280.6h0M371.7 203.3h0M454.7 309.4h0M394.8 308.4h0M418.9 342.1h0M578.2 251.7h0M519.2 284.6h0M626.7 177h0M597.5 318.6h0M307.8 288.7h0M490.1 206.7h0M360.9 203.4h0M497.1 212h0M400.4 313.2h0M528.7 229.4h0M445.7 239.8h0M506.2 164.9h0M518.8 179.4h0M250.4 316.6h0M497.1 282h0M611 129.9h0M488.8 177.1h0M282.9 280.3h0M182.7 302.3h0M291.7 327.7h0M258.6 345.2h0M249.7 211.6h0M373.7 235.5h0M235.3 197.2h0M621.7 140.8h0M626.7 198.8h0M591.3 106.2h0M473.9 134.2h0M454.6 179.5h0M526.6 92.8h0M509.9 203.3h0M567.5 305.4h0M332.6 290.2h0M498.6 233.1h0M455.4 223.1h0M529.8 242.3h0M332.1 160.3h0M486.8 292h0M303 160.6h0M309.5 317.5h0M574.1 92h0M528.8 73.1h0M560.2 90h0M594.4 228.6h0M458.8 196.9h0M447.5 158.3h0M431.5 312.7h0M251.8 260.5h0M288.5 350.4h0M211.1 256.8h0M507.9 292.8h0M270.3 340.4h0M460.9 316.9h0M407.7 286h0M316.6 254.8h0M270.5 269.4h0M592.1 185.2h0M220.5 236.8h0M542.7 283h0M410 290.4h0M456.7 230.4h0M453.7 298.7h0M374.6 184.1h0M578 159.3h0M472.7 280.2h0M419.8 234.1h0M470.2 141.1h0M260.3 199h0M363.2 342.1h0M320.1 126.4h0M405.9 158.4h0M371.7 110.7h0M563.6 137.2h0M260.2 241.9h0M301.3 297.9h0M443.5 184.1h0M382.3 137.7h0M314.1 238h0M588 84.2h0M630.1 284.1h0M281.1 326h0M573 59.5h0M483.9 227.7h0M459.5 153.7h0M442.5 223.8h0M418.4 235.3h0M328.6 179.2h0M454.9 288.2h0M350.6 332.6h0M302.8 332h0M467.2 278.7h0M390.5 155.6h0M229.8 244.4h0M359.7 345.3h0M492.1 169.2h0M644.9 214h0M394.5 308.2h0M605.1 302h0M274 221.1h0M507.3 267.1h0M356.5 262.2h0M404.7 139.7h0M517.3 89h0M274.7 302h0M545.1 301.1h0M273.8 274.2h0M503.5 117.8h0M430.6 206.4h0M323.1 265.8h0M333.9 219.2h0M426.8 304.7h0M392.3 285.7h0M271.8 323.5h0M464.4 267.7h0M344.6 199.9h0M642 300h0M306.4 265.3h0M392.5 242.3h0M562.2 119.4h0M342.6 267.8h0M441.1 299h0M301.9 261.2h0M317.9 245.1h0M274 93.8h0M351.4 210.4h0M522.8 200.8h0M402.1 218.1h0M552.5 79h0M608.7 142h0M536.9 299.7h0M517.8 61.8h0M543.9 252.9h0M437.8 171.9h0M497.5 228.1h0M436.1 124.3h0M495.4 256.3h0M375 139.1h0M531.2 252.8h0M455.1 246.2h0M384.3 217.1h0M287.7 316.9h0M319.3 343.8h0M442.6 332.2h0M539.4 123.9h0M408.4 254.2h0M340.5 280.2h0M453.7 331.9h0M607.8 256.7h0M482.6 328.4h0M368.3 174.3h0M203.5 261.6h0M644.4 220h0M290.3 348.6h0M556.4 108.2h0M433.6 248.1h0M545.3 104.3h0M510.1 136.8h0M598.3 260.4h0M427.9 124.6h0M383.9 175.1h0M506.9 257.9h0M473.9 307.5h0M637.1 281.9h0M309.6 313.3h0M561.2 224.6h0M610 178.2h0M396.8 273h0M424.1 156.7h0M329.3 190.7h0M164.5 329.9h0M563.3 131h0M375.5 251.7h0M547 94.8h0M479.7 234.4h0M411.9 167.2h0M484.5 167.5h0M390.7 154.8h0M401.1 288.3h0M537.6 284.7h0M332.8 114.4h0M550.6 89.1h0M553.1 192.6h0M614.4 205.3h0M460.9 154.2h0M486.6 223.3h0M271.4 337.4h0M287 308.1h0M315.6 228.8h0M372.8 297.3h0M71.7 340h0M523 295.3h0M559 196.5h0M487 95.4h0M597.4 288.2h0M456 150h0M414.5 340.9h0M496.1 319.2h0M541.2 187h0M434.7 241.9h0M608.8 215.1h0M274.6 339.1h0M451.9 296.3h0M589.8 147.8h0M587 137.2h0M295.8 341h0M325.5 205.8h0M601.4 146.7h0M336.1 296.3h0M525.1 174.1h0M619.5 125.6h0M406.5 265.8h0M441.8 302.8h0M250.7 307.3h0M600.6 165.5h0M570.4 180.5h0M566.9 99.9h0M549.4 156.1h0M525.3 200.9h0M499 206.7h0M581 265.2h0M491.8 285h0M517.5 173.1h0M505.5 164.4h0M384.8 263.1h0M400.2 77.8h0M340.5 212.1h0M601 221.2h0M338.4 179.8h0M378.1 295.3h0M422.7 154.3h0M354 271.5h0M542 63.7h0M605.8 83.1h0M417.6 304.5h0M538 76.4h0M492.3 86.8h0M298.3 280h0M422.8 135.6h0M497.5 286.2h0M529.9 189.2h0M508.7 211.8h0M525.2 101.7h0M557.1 130h0M499.5 291.6h0M447.1 298.4h0M518.4 318h0M172.4 260h0M392.4 123.9h0M421.2 202h0M423 220.1h0M420.1 306.8h0M593.9 286.9h0M493.6 193.9h0M375.3 81h0M505.3 110.8h0M382.6 160.6h0M410.8 331.6h0M571.7 181.4h0M268.6 271.8h0M564 124.3h0M209.8 255.7h0M118.7 319.9h0M194.1 259.3h0M379.3 133.2h0M614.1 257.8h0M368 153.9h0M609.4 193.3h0M645.1 257h0M623.2 283.2h0M427.7 125.1h0M530.4 230.6h0M205.5 166.1h0M220.1 198.6h0M599.6 266.5h0M245 327.1h0M560.1 216h0M417.4 290.4h0M470.7 189.8h0M286.1 263h0M369.1 304.1h0M410.9 323.1h0M537.8 71.3h0M600.9 202.2h0M332 230.8h0M499.6 142.7h0M455.6 135.6h0M207.8 297.7h0M506.9 298.1h0M609.3 116.2h0M405 149.3h0M615.6 318.9h0M350.3 323.8h0M431.6 321.7h0M451.8 102h0M371.6 148.4h0M437 136.1h0M435.4 208.1h0M597.8 247.4h0M289.6 299h0M599.5 204h0M434.1 148.5h0M463.4 233.7h0M494.5 280.3h0M274.4 299.9h0M512.8 281.6h0M375.7 341.6h0M533 101.4h0M473.8 225.3h0M337.6 182.8h0M379 289.6h0M289.1 306.6h0M263.2 264.1h0M512.7 308.4h0M326.1 322.1h0M416.7 314.1h0M290.1 311.2h0M445.9 159.4h0M249.3 282.7h0M579.7 110.7h0M417 332.8h0M535.3 324.9h0M639.1 286.9h0M495 128.6h0M408.2 261h0M498.9 153.9h0M520.8 163.3h0M467.2 292h0M263.3 271.6h0M392.1 72.3h0M627.5 195.5h0M333.3 284.2h0M586.7 324.9h0M342.8 225.7h0M445.6 333h0M528 63.4h0M263.7 286.9h0M546.6 265.9h0M374.2 299.3h0M381.8 209.9h0M510.4 126.9h0M362.6 339.7h0M548.1 222.2h0M479.2 268.4h0M328.2 311.3h0M446.8 220.5h0M379.6 177h0M437.1 232.9h0M303.1 304.6h0M283.7 314.5h0M226.9 166.8h0M545.8 241.9h0M541.9 97.8h0M369.4 170.4h0M366.8 293.8h0M493.2 181h0M163.5 346.3h0M533.3 183.7h0M138.7 289.6h0M510 161.8h0M536.8 228.1h0M287.4 284.5h0M525.5 136.3h0M349.7 222.1h0M406.2 168.6h0M637 236h0M439.4 245.3h0M290.2 320.1h0M370.3 138.7h0M370.2 239.5h0" stroke-width="2.3" stroke-opacity=".32"/><path d="M439 186.5h0M477.2 198.2h0M383.3 65.8h0M497.7 69.5h0M514.1 127.7h0M317.9 152.4h0M321.8 173.5h0M582.1 180.9h0M530.4 99.2h0M469.3 225.9h0M398.4 200.1h0M549.9 173.4h0M372.6 254.2h0M578.8 78.8h0M618.6 165.1h0M154.8 296.5h0M466.2 185.4h0M194.4 316.1h0M532.5 292.8h0M370.9 172.8h0M441.2 96.3h0M368.4 239.6h0M361.3 119.4h0M303.3 139.2h0M314.3 339.1h0M506.2 97.9h0M488.2 108.3h0M532.4 130.5h0M202 272.3h0M490.8 119.2h0M209 289.9h0M594.6 105.8h0M299.3 267.5h0M300.6 111.7h0M608.8 153.7h0M431.9 251.7h0M393.1 226h0M291.1 240.9h0M341 311.9h0M161 319.5h0M532.4 127.6h0M401.6 241.2h0M532.9 155.1h0M532.3 310.9h0M291.6 284.6h0M529.6 78.2h0M531.3 113.8h0M636 240h0M310.9 133.4h0M529 298.7h0M317.1 145.2h0M493.3 175.3h0M301.2 275.5h0M405.9 152h0M465.5 158.1h0M326.6 227.3h0M502.6 66.6h0M331.7 337.3h0M487.1 224.2h0M455.3 274.2h0M554.7 165.5h0M375.4 210.4h0M365.7 208.8h0M527.8 60.9h0M582.4 137.7h0M244.6 306.6h0M614.5 175.4h0M598.7 289.4h0M453.8 170.6h0M93.6 189.8h0M562.8 261.8h0M422.9 347.1h0M613.1 113.2h0M263.4 278.9h0M545.7 239.7h0M447.3 220.7h0M233 226.5h0M258.7 277h0M225.2 266.3h0M289.9 278.7h0M508.9 134.1h0M407.5 188.5h0M307.6 279.9h0M505.5 134h0M415.3 261.3h0M574.3 271.9h0M322 280.1h0M421.9 211.5h0M317.9 324.7h0M553.2 296.5h0M324.9 179.9h0M345.4 278.6h0M419.2 124.9h0M335.6 181.9h0M446.4 133.7h0M545.2 331.9h0M581.2 202.5h0M418.8 280.7h0M501.8 167.3h0M579.4 73.2h0M384.2 235.1h0M630.9 198.5h0M492.9 307.3h0M396.9 268.1h0M555.5 143.8h0M320.7 318.1h0M471.8 285.5h0M502.4 204.4h0M511 325.8h0M546.1 233.5h0M243.7 276.6h0M407.8 301h0M528.4 284.3h0M484.4 287.3h0M451 149.2h0M405.1 71.5h0M188.3 169.9h0M452.9 265.7h0M320.5 281.9h0M583.7 301.3h0M528.8 284.3h0M257.4 275.8h0M516.1 132h0M461.4 299.7h0M530 89.1h0M178.6 225.6h0M471.1 293.6h0M388 295.8h0M329.7 227.3h0M381.2 216h0M583.7 150.3h0M456.2 158.9h0M559 297.6h0M200.8 285.8h0M418.6 280.1h0M241.8 281.2h0M387.2 127.7h0M429.6 178.6h0M288.5 341.7h0M350.4 131.1h0M514.4 182.7h0M490.1 165.8h0M110.1 307.1h0M440.7 301.3h0M288.7 217.5h0M505.9 124.5h0M537.4 168.6h0M432.1 170.8h0M449 226.1h0M286.9 344h0M568.7 309.4h0M426.6 117.7h0M525.3 167.4h0M392 175.2h0M240.5 304.2h0M289.2 312.9h0M503.6 102.8h0M378.2 346.6h0M527.7 116.6h0M234.5 337.7h0M499 275.8h0M326 306h0M546.7 191.2h0M288.2 180.9h0M444.9 273.4h0M211.3 347.1h0M640.5 214h0M451.9 183.2h0M517.9 158.7h0M596.1 118h0M346.1 319.1h0M377.3 306.4h0M151.7 196.6h0M221.7 206.6h0M425.8 135.7h0M427.3 282.1h0M506.6 278.1h0M320.7 321.8h0M289.5 51.5h0M593.4 198.8h0M365 303h0M453.8 134.4h0M364.8 144.8h0M432.6 274.6h0M350.7 120.3h0M423.9 271.7h0M425.6 99.2h0M393.1 257h0M176.5 308.5h0M469.2 126.4h0M392.3 307.8h0M550.6 244.9h0M616.1 145.5h0M484.6 277.7h0M544.1 81.2h0M459.5 137.8h0M374.8 197.6h0M481.5 95.5h0M420.5 312h0M358.8 281h0M471.9 199.6h0M391.4 262.3h0M279.3 276.9h0M598.3 185.2h0M505.8 278.2h0M567.3 127.8h0M524.3 257.2h0M237 290.7h0M527.1 109.1h0M381.9 261.2h0M412.9 247.2h0M469.9 220.5h0M446.5 309.6h0M243.3 209.8h0M408 298.5h0M195 279h0M512 264.6h0M270 319.4h0M463.9 256.4h0M489.7 199.4h0M441.8 96.5h0M510.7 83.2h0M360.3 239.5h0M576.2 183.8h0M356.4 338.2h0M539.2 284.9h0M296.4 267.1h0M370.9 140.7h0M214.1 228.5h0M554 114.9h0M322.5 152.9h0M444.7 204.1h0M319.3 203.8h0M483.9 323.5h0M342.4 326.8h0M427.3 149.2h0M497.1 214.8h0M168.6 306.8h0M369.7 308.2h0M514.4 192.7h0M312 305.3h0M505.9 199.8h0M237.2 287.7h0M480.8 198h0M497.7 195.1h0M559.3 102.2h0M229 284.5h0M486.4 187.5h0M494.9 280h0M447 84h0M411.7 318.2h0M383.5 279.2h0M558.3 153.2h0M464.9 259.4h0M438.5 166h0M248.6 69.7h0M464.2 242.2h0M440.1 293h0M374.5 311.6h0M514.7 297.4h0M550.1 303.8h0M274 174.3h0M366.3 281.5h0M319.6 315.5h0M551.9 279.2h0M564 209.9h0M486 237.6h0M284.5 237.6h0M357.5 272.7h0M528.1 259.6h0M520.9 301.9h0M442 131h0M507.9 272.4h0M486.9 179h0M410.7 168.4h0M644.4 244h0M420.5 236.4h0M444.6 296.7h0M623.1 143.7h0M390.6 236.7h0M567.7 74.5h0M379.5 290.2h0M410.2 145.9h0M374.4 187.3h0M518.5 245.5h0M601.5 231.9h0M403.1 328h0M522.9 95.9h0M286.2 262.3h0M554.2 119.4h0M567.6 99.7h0M531.2 134h0M138.7 262.7h0M532.9 208.6h0M487 203h0M484.3 167.6h0M448.3 304.4h0M245.5 302.4h0M429.4 106.4h0M641 230h0M644.7 217h0M593.4 247.4h0M419.2 129.7h0M316.7 104.4h0M487.7 222.5h0M263.7 246.6h0M412.2 273h0M369.2 265.8h0M364.6 322.6h0M401.7 259.9h0M547.1 243.4h0M510.9 179.4h0M464.3 296.1h0M403.6 317.4h0M295.4 260.6h0M485.5 230.5h0M504.2 290.8h0M225.5 252.6h0M482.8 225.2h0M430.6 248.9h0M366.3 284h0M504.6 315.2h0M461.1 179.9h0M564.3 212.2h0M364.9 274h0M415.7 186.2h0M455.7 93.8h0M166.2 298.2h0M372.3 236.8h0M440.7 282.1h0M457.3 181.1h0M484.4 208.1h0M516.3 77.6h0M333.6 284.1h0M397.6 284.6h0M271.5 272.7h0M232 281.6h0M395.4 154.2h0M542.5 291.8h0M259.2 273.2h0M483.8 79.4h0M140.1 175h0M431.5 148.9h0M243.1 311.3h0M524 103.5h0M490.8 52.1h0M178.9 317.1h0M213 218.6h0M516.5 165.7h0M250 331.8h0M511 246.3h0M341.7 324.9h0M482.6 264h0M551.4 266.4h0M531 258.6h0M400 315.5h0M260.7 320.9h0M344.2 294h0M510.5 122.9h0M443.4 157.1h0M385.1 70.3h0M396 299.3h0M584.6 127.8h0M520.2 168.1h0M317.5 198.4h0M338.3 269.3h0M274.6 237.5h0M208.3 170.6h0M588.4 263.7h0M448.6 187.2h0M495.2 171.2h0M265 230.7h0M417.1 284.8h0M441.9 149.2h0M469.1 141.8h0M455.6 239.1h0M397.4 162.8h0M291.1 303.6h0M517.8 282h0M337.5 261.6h0M295.7 285h0M413.6 138h0M527.7 298.6h0M528.2 163h0M486.5 312.1h0M236.7 270h0M361 267.1h0M577.5 166.6h0M477.3 176.6h0M574.3 286.8h0M538.1 155h0M513.4 313.2h0M413.5 322h0M311.5 295.3h0M121.4 341.4h0M370.1 321.5h0M442.3 184.5h0M259.2 234.8h0M594.1 279.5h0M376.7 269.8h0M583.9 113.7h0M609.8 113.2h0M562.8 87.3h0M309.1 225.7h0M318.8 115h0M577.1 114.2h0M534.3 168.1h0M161 305.8h0M491.7 220.1h0M460.5 300.6h0M593.2 115.6h0M289.2 273.7h0M440.4 126.9h0M578.4 115.5h0M470.2 313.4h0M553.5 182.8h0M404.8 246.4h0M380 253.2h0M170.1 158.5h0M491.5 192.2h0M541.4 278.8h0M591.7 86.9h0M397 280.7h0M483.3 167.8h0M388 309.4h0M267.5 272.3h0M504.1 91.5h0M428.8 242.8h0M525.3 247.9h0M535.4 191.2h0M546.3 276.1h0M317 232.4h0M613.3 138.5h0M436.6 301.6h0M627.6 108.9h0M414.5 265.2h0M251.1 266.7h0M563.8 127.8h0M605.1 275.9h0M362.2 224.2h0M568.2 237h0M363.8 340.8h0M454.7 303.4h0M393.5 222.6h0M475.7 275.2h0M546.2 219.8h0M414.2 172.6h0M388.7 269.8h0M540.9 199.2h0M642 312h0M335.3 267.5h0M368.6 210.6h0M559.3 280.2h0M390.1 181h0M279.7 253.8h0M527.4 219.4h0M235.6 203.9h0M490 340.7h0M634.2 142.9h0M451.9 278.6h0M348.3 172.9h0M357.3 157.9h0M474.9 283.7h0M527.9 242.2h0M598.9 102.6h0M545.8 229.3h0M286.1 259h0M540.7 279.3h0M530.7 151.3h0M348.8 265.8h0M272.1 247.7h0M427.1 256.6h0M460.3 186.2h0M389.3 168.4h0M597.9 197h0M269.1 278.3h0M572.1 283.5h0M451.9 230.1h0M208.1 338.2h0M448.9 177.3h0M513 311.9h0M403.7 145.5h0" stroke-width="3.3" stroke-opacity=".5"/><path d="M439 186.5h0M477.2 198.2h0M383.3 65.8h0M497.7 69.5h0M514.1 127.7h0M317.9 152.4h0M321.8 173.5h0M582.1 180.9h0M530.4 99.2h0M469.3 225.9h0M398.4 200.1h0M549.9 173.4h0M372.6 254.2h0M578.8 78.8h0M618.6 165.1h0M154.8 296.5h0M466.2 185.4h0M194.4 316.1h0M532.5 292.8h0M370.9 172.8h0M441.2 96.3h0M368.4 239.6h0M361.3 119.4h0M303.3 139.2h0M314.3 339.1h0M506.2 97.9h0M488.2 108.3h0M532.4 130.5h0M202 272.3h0M490.8 119.2h0M209 289.9h0M594.6 105.8h0M299.3 267.5h0M300.6 111.7h0M608.8 153.7h0M431.9 251.7h0M393.1 226h0M291.1 240.9h0M341 311.9h0M161 319.5h0M532.4 127.6h0M401.6 241.2h0M532.9 155.1h0M532.3 310.9h0M291.6 284.6h0M529.6 78.2h0M531.3 113.8h0M636 240h0M310.9 133.4h0M529 298.7h0M317.1 145.2h0M493.3 175.3h0M301.2 275.5h0M405.9 152h0M465.5 158.1h0M326.6 227.3h0M502.6 66.6h0M331.7 337.3h0M487.1 224.2h0M455.3 274.2h0M554.7 165.5h0M375.4 210.4h0M365.7 208.8h0M527.8 60.9h0M582.4 137.7h0M244.6 306.6h0M614.5 175.4h0M598.7 289.4h0M453.8 170.6h0M93.6 189.8h0M562.8 261.8h0M422.9 347.1h0M613.1 113.2h0M263.4 278.9h0M545.7 239.7h0M447.3 220.7h0M233 226.5h0M258.7 277h0M225.2 266.3h0M289.9 278.7h0M508.9 134.1h0M407.5 188.5h0M307.6 279.9h0M505.5 134h0M415.3 261.3h0M574.3 271.9h0M322 280.1h0M421.9 211.5h0M317.9 324.7h0M553.2 296.5h0M324.9 179.9h0M345.4 278.6h0M419.2 124.9h0M335.6 181.9h0M446.4 133.7h0M545.2 331.9h0M581.2 202.5h0M418.8 280.7h0M501.8 167.3h0M579.4 73.2h0M384.2 235.1h0M630.9 198.5h0M492.9 307.3h0M396.9 268.1h0M555.5 143.8h0M320.7 318.1h0M471.8 285.5h0M502.4 204.4h0M511 325.8h0M546.1 233.5h0M243.7 276.6h0M407.8 301h0M528.4 284.3h0M484.4 287.3h0M451 149.2h0M405.1 71.5h0M188.3 169.9h0M452.9 265.7h0M320.5 281.9h0M583.7 301.3h0M528.8 284.3h0M257.4 275.8h0M516.1 132h0M461.4 299.7h0M530 89.1h0M178.6 225.6h0M471.1 293.6h0M388 295.8h0M329.7 227.3h0M381.2 216h0M583.7 150.3h0M456.2 158.9h0M559 297.6h0M200.8 285.8h0M418.6 280.1h0M241.8 281.2h0M387.2 127.7h0M429.6 178.6h0M288.5 341.7h0M350.4 131.1h0M514.4 182.7h0M490.1 165.8h0M110.1 307.1h0M440.7 301.3h0M288.7 217.5h0M505.9 124.5h0M537.4 168.6h0M432.1 170.8h0M449 226.1h0M286.9 344h0M568.7 309.4h0M426.6 117.7h0M525.3 167.4h0M392 175.2h0M240.5 304.2h0M289.2 312.9h0M503.6 102.8h0M378.2 346.6h0M527.7 116.6h0M234.5 337.7h0M499 275.8h0M326 306h0M546.7 191.2h0M288.2 180.9h0M444.9 273.4h0M211.3 347.1h0M640.5 214h0M451.9 183.2h0M517.9 158.7h0M596.1 118h0M346.1 319.1h0M377.3 306.4h0M151.7 196.6h0M221.7 206.6h0M425.8 135.7h0M427.3 282.1h0M506.6 278.1h0M320.7 321.8h0M289.5 51.5h0M593.4 198.8h0M365 303h0M453.8 134.4h0M364.8 144.8h0M432.6 274.6h0M350.7 120.3h0M423.9 271.7h0M425.6 99.2h0M393.1 257h0M176.5 308.5h0M469.2 126.4h0M392.3 307.8h0M550.6 244.9h0M616.1 145.5h0M484.6 277.7h0M544.1 81.2h0M459.5 137.8h0M374.8 197.6h0M481.5 95.5h0M420.5 312h0M358.8 281h0M471.9 199.6h0M391.4 262.3h0M279.3 276.9h0M598.3 185.2h0M505.8 278.2h0M567.3 127.8h0M524.3 257.2h0M237 290.7h0M527.1 109.1h0M381.9 261.2h0M412.9 247.2h0M469.9 220.5h0M446.5 309.6h0M243.3 209.8h0M408 298.5h0M195 279h0M512 264.6h0M270 319.4h0M463.9 256.4h0M489.7 199.4h0M441.8 96.5h0M510.7 83.2h0M360.3 239.5h0M576.2 183.8h0M356.4 338.2h0M539.2 284.9h0M296.4 267.1h0M370.9 140.7h0M214.1 228.5h0M554 114.9h0M322.5 152.9h0M444.7 204.1h0M319.3 203.8h0M483.9 323.5h0M342.4 326.8h0M427.3 149.2h0M497.1 214.8h0M168.6 306.8h0M369.7 308.2h0M514.4 192.7h0M312 305.3h0M505.9 199.8h0M237.2 287.7h0M480.8 198h0M497.7 195.1h0M559.3 102.2h0M229 284.5h0M486.4 187.5h0M494.9 280h0M447 84h0M411.7 318.2h0M383.5 279.2h0M558.3 153.2h0M464.9 259.4h0M438.5 166h0M248.6 69.7h0M464.2 242.2h0M440.1 293h0M374.5 311.6h0M514.7 297.4h0M550.1 303.8h0M274 174.3h0M366.3 281.5h0M319.6 315.5h0M551.9 279.2h0M564 209.9h0M486 237.6h0M284.5 237.6h0M357.5 272.7h0M528.1 259.6h0M520.9 301.9h0M442 131h0M507.9 272.4h0M486.9 179h0M410.7 168.4h0M644.4 244h0M420.5 236.4h0M444.6 296.7h0M623.1 143.7h0M390.6 236.7h0M567.7 74.5h0M379.5 290.2h0M410.2 145.9h0M374.4 187.3h0M518.5 245.5h0M601.5 231.9h0M403.1 328h0M522.9 95.9h0M286.2 262.3h0M554.2 119.4h0M567.6 99.7h0M531.2 134h0M138.7 262.7h0M532.9 208.6h0M487 203h0M484.3 167.6h0M448.3 304.4h0M245.5 302.4h0M429.4 106.4h0M641 230h0M644.7 217h0M593.4 247.4h0M419.2 129.7h0M316.7 104.4h0M487.7 222.5h0M263.7 246.6h0M412.2 273h0M369.2 265.8h0M364.6 322.6h0M401.7 259.9h0M547.1 243.4h0M510.9 179.4h0M464.3 296.1h0M403.6 317.4h0M295.4 260.6h0M485.5 230.5h0M504.2 290.8h0M225.5 252.6h0M482.8 225.2h0M430.6 248.9h0M366.3 284h0M504.6 315.2h0M461.1 179.9h0M564.3 212.2h0M364.9 274h0M415.7 186.2h0M455.7 93.8h0M166.2 298.2h0M372.3 236.8h0M440.7 282.1h0M457.3 181.1h0M484.4 208.1h0M516.3 77.6h0M333.6 284.1h0M397.6 284.6h0M271.5 272.7h0M232 281.6h0M395.4 154.2h0M542.5 291.8h0M259.2 273.2h0M483.8 79.4h0M140.1 175h0M431.5 148.9h0M243.1 311.3h0M524 103.5h0M490.8 52.1h0M178.9 317.1h0M213 218.6h0M516.5 165.7h0M250 331.8h0M511 246.3h0M341.7 324.9h0M482.6 264h0M551.4 266.4h0M531 258.6h0M400 315.5h0M260.7 320.9h0M344.2 294h0M510.5 122.9h0M443.4 157.1h0M385.1 70.3h0M396 299.3h0M584.6 127.8h0M520.2 168.1h0M317.5 198.4h0M338.3 269.3h0M274.6 237.5h0M208.3 170.6h0M588.4 263.7h0M448.6 187.2h0M495.2 171.2h0M265 230.7h0M417.1 284.8h0M441.9 149.2h0M469.1 141.8h0M455.6 239.1h0M397.4 162.8h0M291.1 303.6h0M517.8 282h0M337.5 261.6h0M295.7 285h0M413.6 138h0M527.7 298.6h0M528.2 163h0M486.5 312.1h0M236.7 270h0M361 267.1h0M577.5 166.6h0M477.3 176.6h0M574.3 286.8h0M538.1 155h0M513.4 313.2h0M413.5 322h0M311.5 295.3h0M121.4 341.4h0M370.1 321.5h0M442.3 184.5h0M259.2 234.8h0M594.1 279.5h0M376.7 269.8h0M583.9 113.7h0M609.8 113.2h0M562.8 87.3h0M309.1 225.7h0M318.8 115h0M577.1 114.2h0M534.3 168.1h0M161 305.8h0M491.7 220.1h0M460.5 300.6h0M593.2 115.6h0M289.2 273.7h0M440.4 126.9h0M578.4 115.5h0M470.2 313.4h0M553.5 182.8h0M404.8 246.4h0M380 253.2h0M170.1 158.5h0M491.5 192.2h0M541.4 278.8h0M591.7 86.9h0M397 280.7h0M483.3 167.8h0M388 309.4h0M267.5 272.3h0M504.1 91.5h0M428.8 242.8h0M525.3 247.9h0M535.4 191.2h0M546.3 276.1h0M317 232.4h0M613.3 138.5h0M436.6 301.6h0M627.6 108.9h0M414.5 265.2h0M251.1 266.7h0M563.8 127.8h0M605.1 275.9h0M362.2 224.2h0M568.2 237h0M363.8 340.8h0M454.7 303.4h0M393.5 222.6h0M475.7 275.2h0M546.2 219.8h0M414.2 172.6h0M388.7 269.8h0M540.9 199.2h0M642 312h0M335.3 267.5h0M368.6 210.6h0M559.3 280.2h0M390.1 181h0M279.7 253.8h0M527.4 219.4h0M235.6 203.9h0M490 340.7h0M634.2 142.9h0M451.9 278.6h0M348.3 172.9h0M357.3 157.9h0M474.9 283.7h0M527.9 242.2h0M598.9 102.6h0M545.8 229.3h0M286.1 259h0M540.7 279.3h0M530.7 151.3h0M348.8 265.8h0M272.1 247.7h0M427.1 256.6h0M460.3 186.2h0M389.3 168.4h0M597.9 197h0M269.1 278.3h0M572.1 283.5h0M451.9 230.1h0M208.1 338.2h0M448.9 177.3h0M513 311.9h0M403.7 145.5h0" stroke-width="2.3" stroke-opacity=".32"/><path d="M532.3 311.9h0M482.9 276.7h0M251.9 303.6h0M469.7 138.4h0M543.5 143.6h0M418.9 171.4h0M341.5 115.1h0M562.9 204h0M374.4 135.8h0M337.1 293.4h0M594.3 285h0M537.3 274.7h0M541.5 290.4h0M395.8 329.5h0M447.4 151.8h0M347.6 133.4h0M203.8 338.5h0M333.2 178.8h0M331.6 323.7h0M258.5 250.7h0M318.5 275.7h0M500.3 242.9h0M470 284.5h0M224 210h0M449.6 100.3h0M343 247.3h0M452.9 117.9h0M466.2 291.1h0M298.8 168.8h0M510 139h0M424 279.8h0M592.3 106.1h0M186.2 314.4h0M361.3 143.4h0M287.6 236.1h0M537.3 203.3h0M417.2 91.5h0M262.9 204h0M468.4 184.2h0M530.6 94h0M325.7 289.6h0M445.9 302.5h0M501.5 200.5h0M409.1 169.9h0M446.7 119.5h0M466.4 160.8h0M513.5 187h0M578.5 211.6h0M428 216.1h0M291.9 292.8h0M152.8 220.7h0M411.1 79.5h0M412.8 142.3h0M398.8 156.2h0M250.9 243.3h0M435.1 198.7h0M463.9 124.4h0M433.2 155.9h0M485.3 203.5h0M426.5 287.6h0M615.6 194.7h0M540.6 277.9h0M450.5 317h0M351.6 317.2h0M547.5 146.2h0M596.4 123.3h0M487.3 179.6h0M459.7 255.2h0M488.2 245h0M392.2 135.3h0M216.1 313.5h0M525.9 140.2h0M354.3 325.5h0M347.5 102.9h0M322.9 255.1h0M329.3 258.7h0M477 205.5h0M536.3 155.4h0M520.4 91.4h0M382.2 316.5h0M390.2 297.8h0M493.3 234.2h0M498.7 265h0M475.2 110.9h0M394.3 200.9h0M257.1 277.5h0M304.2 304.2h0M538.9 177.5h0M211.5 339.5h0M513.2 110.6h0M522.7 245.5h0M315.3 337.8h0M446.1 101.2h0M514.1 146.2h0M122.5 291.3h0M460.5 283.7h0M322.9 169h0M317.1 236.3h0M468.7 268.3h0M527.9 285h0M321.6 320.8h0M374.5 245.5h0M549.2 199.1h0M319.2 287.9h0M359.8 266.9h0M536.7 182.1h0M403.3 111.2h0M413.9 259.2h0M386 293.6h0M472.9 144.3h0M356.4 332.5h0M512 104.8h0M521.9 279.4h0M332.2 153.7h0M210.6 257.3h0M423.8 134.7h0M494.5 191.9h0M500.2 271h0M437.2 100.6h0M410.3 143.7h0M178.6 242.8h0M321.9 264.6h0M612.8 155.6h0M370.1 327.3h0M309.6 291.8h0M458.7 275h0M369.2 338.4h0M462.5 291.1h0M457.3 257.3h0M365.3 257.7h0M501.8 150.1h0M278.5 218.9h0M528.2 320.3h0M197.3 151.3h0M378.4 182.3h0M425.2 251h0M358.5 285.7h0M427 333.1h0M220.6 336.2h0M324.6 330.3h0M181.7 297.2h0M331.2 328.2h0M489.3 105.7h0M486.6 83.9h0M334.7 337.2h0M499 243.8h0M438.3 157h0M520.9 67h0M306.7 340.5h0M435.9 173.2h0M385.3 119.6h0M451.9 326.9h0M613.6 166.3h0M425.9 208.6h0M368.3 291.9h0M517 109.2h0M515 289.8h0M492.3 135.8h0M532.8 325.2h0M544.8 195.5h0M466.1 235h0M581.9 290.4h0M491 121.4h0M537.1 254.8h0M277.5 187h0M307.8 150.3h0M460.3 163.4h0M526.9 247h0M588.4 69.5h0M536.5 283.5h0M218.4 221.5h0M582.5 153h0M485.4 179.6h0M523.1 307.9h0M302.2 265.4h0M327.1 338.4h0M528.5 238.2h0M595.5 93.9h0M380.7 281.2h0M469.5 301.6h0M337.1 288.7h0M416.1 230.2h0M434 298.1h0M386.4 336.6h0M415.7 88.5h0M555 289.7h0M138 333.3h0M387.3 250.7h0M504.5 220.6h0M353.1 276.3h0M577 68.4h0M588.8 201.9h0M416.8 205.6h0M384.7 299.1h0M321.2 324.9h0M416.1 291.4h0M484.9 207.2h0M156.2 236.2h0M366.9 292.4h0M323.4 231.3h0M353.9 207.1h0M381.9 168.7h0M534.8 140.6h0M429.7 305.2h0M398.3 221.4h0M285.4 116.2h0M471.4 215.9h0M347.2 281.1h0M542.1 182.3h0M223.3 298.5h0M508.3 123.1h0M241.7 165.4h0M477.4 222.7h0M477.6 324.5h0M341.8 309.9h0M299.6 270.9h0M392.1 285.7h0M537.7 267.8h0M473.4 150.4h0M171.4 239.3h0M580.2 274.4h0M507.6 193.2h0M229.7 275.1h0M426.6 290.5h0M347.3 236.9h0M564.3 192.4h0M237.5 344h0M528.5 87.3h0M409.4 287.4h0M591.5 305.7h0M514.1 306.3h0M376.4 104.9h0M320.8 328.6h0M475 287.3h0M472.3 321.8h0M590.3 302.7h0M518.2 99.9h0M276.7 262.7h0M506.1 227.1h0M402.3 92.5h0M252.5 245h0M231.6 350.2h0M457.3 307.5h0M493.2 312.9h0M294 272.5h0M492 236.7h0M438.3 107h0M516 258h0M420 307.5h0M225.9 76.6h0M594.4 158.9h0M344.8 326.7h0M477.5 303.7h0M544.8 179.4h0M190.3 310.2h0M306 249.6h0M467.2 135.6h0M603.7 256.9h0M325.3 294.6h0M518.4 279.3h0M348.9 258.7h0M499.4 142.7h0M457.4 314.6h0M374.2 269.6h0M407.3 278.7h0M307 337.5h0M509.7 278.3h0M349.8 271h0M549.5 273.4h0M399.9 341.1h0M232.3 341.1h0M440.8 314.3h0M443 106.3h0M582.7 144.2h0M372.8 232.6h0M436.1 289.8h0M462.3 197.4h0M259.4 326.5h0M374.3 246.3h0M211.4 179.5h0M477.8 199.2h0M340.3 143.2h0M328.5 200.3h0M598.7 305h0M329.8 217.4h0M645 233h0M232.5 250.5h0M514.8 278.1h0M208.2 331.3h0M355.2 226.1h0M614.2 139.1h0M267 239.5h0M462.4 113.9h0M322.7 222.4h0M342.1 215.1h0M494.2 103.3h0M364.3 220.1h0M417.6 233.9h0M422.2 332.5h0M600.3 197.2h0M343.2 301.7h0M535.8 305.3h0M429.4 197.7h0M420.4 298.3h0M346.7 230.3h0M275.4 226.6h0M448.5 262.4h0M334 284.6h0M442.5 227.7h0M356.3 300h0M507.2 121.3h0M512.1 287.3h0M546.3 277.4h0M561.1 125.9h0M520.7 128.7h0M535.1 130h0M550 227.9h0M492 129.6h0M287 250.1h0M250.1 333.2h0M449.7 304.6h0M434.5 326.5h0M202.6 258.6h0M289.2 178.5h0M590.9 256.2h0M379 153.7h0M496.6 238.3h0M520.4 176.4h0M331.9 84.5h0M473.2 134.8h0M490.2 260.2h0M385.2 187.3h0M356.6 278.9h0M445.8 311.9h0M327.1 344.5h0M433.3 228h0M282.1 272.3h0M496.3 68.9h0M407.1 107.4h0M251.5 277h0M421.9 329.8h0M357.9 292.6h0M446.3 187.2h0M452.8 150.7h0M198.9 286.8h0M335 307.9h0M358.8 267.6h0M498.4 180.5h0M447.7 216.3h0M205.9 221.8h0M367.7 295.8h0M377.2 84.9h0M608.2 256.5h0M300.9 286.1h0M498.7 162.6h0M528.5 294.9h0M381.3 217.3h0M588 157.3h0M418 347.9h0M448.1 97.4h0M267.7 300.7h0M221 246.3h0M444.3 295.2h0M309.7 343.6h0M427.5 322.8h0M472 247.6h0M409.5 326.1h0M539.7 315.7h0M581.5 98.4h0M358.4 222.9h0M505.1 271.7h0M496.9 161.3h0M563.4 219.5h0M589.7 181h0M299.9 342.2h0M581.7 165.6h0M364.5 199h0M379.2 85.7h0M473.1 297.6h0M614.7 316.1h0M579.1 308.5h0M454.5 235.5h0M421.4 272.5h0M278.3 343.9h0M289.5 187h0M575.6 241.3h0M145 163.7h0M352.3 210h0M437.4 253.3h0M349.1 130.2h0M492.1 88.8h0M566.5 119.2h0M455.4 301.9h0M368.6 242.7h0M337.6 244.9h0M294.1 304.9h0M405.6 153.7h0M623.1 183.5h0M490.7 132.8h0M599.2 264.3h0M264.1 302.2h0M541.6 134h0M458.1 130.6h0M644.7 240h0M438.5 215.6h0M450.7 270.7h0M387.5 270h0M278.8 226.1h0M459.6 279.6h0M474.6 222.6h0M284.1 311.1h0M454.5 292.7h0M378.1 336.9h0M312.1 324.9h0M505.1 309.5h0M357.9 147.3h0M590.2 140.9h0M339.5 311h0M527.5 184.2h0M381.1 300.6h0M604.6 203.1h0M249.9 314.5h0M337.4 258.6h0M539.3 277.4h0M530 139.1h0M641 150.9h0M523.6 73.6h0M600 71.5h0M520.1 270.3h0M454.7 230.6h0M492.7 277.2h0M322.7 256.6h0M613.4 101h0M520.8 313.8h0M520 256.3h0M586.9 320.2h0M277.8 344.3h0M555.7 148.2h0M557.9 132.6h0M353.4 293.7h0M363.8 116.5h0M362.1 340h0M500.8 325.8h0M494.9 65.2h0M347.8 317.9h0M308.5 171.6h0M633.9 139.4h0M368.7 183.1h0M197.2 285.1h0M289.6 326.8h0M216.4 287.7h0M320.5 342h0M468.8 311.4h0M420.4 195h0M353.6 277.2h0M433.8 109.1h0M423 337.9h0M469.8 304.8h0M506.3 214.4h0M215.3 294.6h0M455.1 268.3h0M499 276.3h0M447.1 178.1h0M574.5 123h0M481.1 240.6h0M421.5 274.1h0M475.5 294.1h0M508.1 154h0M593.9 138h0M300.6 163h0M358.4 293.1h0M546.4 205h0M545.7 332h0M457.3 183.1h0M373.2 253.1h0M327.6 142.7h0M563.2 152.1h0M216.4 303.5h0M526.3 131.7h0M617.4 160.2h0M441.9 84.2h0" stroke-width="3.3" stroke-opacity=".5"/><path d="M532.3 311.9h0M482.9 276.7h0M251.9 303.6h0M469.7 138.4h0M543.5 143.6h0M418.9 171.4h0M341.5 115.1h0M562.9 204h0M374.4 135.8h0M337.1 293.4h0M594.3 285h0M537.3 274.7h0M541.5 290.4h0M395.8 329.5h0M447.4 151.8h0M347.6 133.4h0M203.8 338.5h0M333.2 178.8h0M331.6 323.7h0M258.5 250.7h0M318.5 275.7h0M500.3 242.9h0M470 284.5h0M224 210h0M449.6 100.3h0M343 247.3h0M452.9 117.9h0M466.2 291.1h0M298.8 168.8h0M510 139h0M424 279.8h0M592.3 106.1h0M186.2 314.4h0M361.3 143.4h0M287.6 236.1h0M537.3 203.3h0M417.2 91.5h0M262.9 204h0M468.4 184.2h0M530.6 94h0M325.7 289.6h0M445.9 302.5h0M501.5 200.5h0M409.1 169.9h0M446.7 119.5h0M466.4 160.8h0M513.5 187h0M578.5 211.6h0M428 216.1h0M291.9 292.8h0M152.8 220.7h0M411.1 79.5h0M412.8 142.3h0M398.8 156.2h0M250.9 243.3h0M435.1 198.7h0M463.9 124.4h0M433.2 155.9h0M485.3 203.5h0M426.5 287.6h0M615.6 194.7h0M540.6 277.9h0M450.5 317h0M351.6 317.2h0M547.5 146.2h0M596.4 123.3h0M487.3 179.6h0M459.7 255.2h0M488.2 245h0M392.2 135.3h0M216.1 313.5h0M525.9 140.2h0M354.3 325.5h0M347.5 102.9h0M322.9 255.1h0M329.3 258.7h0M477 205.5h0M536.3 155.4h0M520.4 91.4h0M382.2 316.5h0M390.2 297.8h0M493.3 234.2h0M498.7 265h0M475.2 110.9h0M394.3 200.9h0M257.1 277.5h0M304.2 304.2h0M538.9 177.5h0M211.5 339.5h0M513.2 110.6h0M522.7 245.5h0M315.3 337.8h0M446.1 101.2h0M514.1 146.2h0M122.5 291.3h0M460.5 283.7h0M322.9 169h0M317.1 236.3h0M468.7 268.3h0M527.9 285h0M321.6 320.8h0M374.5 245.5h0M549.2 199.1h0M319.2 287.9h0M359.8 266.9h0M536.7 182.1h0M403.3 111.2h0M413.9 259.2h0M386 293.6h0M472.9 144.3h0M356.4 332.5h0M512 104.8h0M521.9 279.4h0M332.2 153.7h0M210.6 257.3h0M423.8 134.7h0M494.5 191.9h0M500.2 271h0M437.2 100.6h0M410.3 143.7h0M178.6 242.8h0M321.9 264.6h0M612.8 155.6h0M370.1 327.3h0M309.6 291.8h0M458.7 275h0M369.2 338.4h0M462.5 291.1h0M457.3 257.3h0M365.3 257.7h0M501.8 150.1h0M278.5 218.9h0M528.2 320.3h0M197.3 151.3h0M378.4 182.3h0M425.2 251h0M358.5 285.7h0M427 333.1h0M220.6 336.2h0M324.6 330.3h0M181.7 297.2h0M331.2 328.2h0M489.3 105.7h0M486.6 83.9h0M334.7 337.2h0M499 243.8h0M438.3 157h0M520.9 67h0M306.7 340.5h0M435.9 173.2h0M385.3 119.6h0M451.9 326.9h0M613.6 166.3h0M425.9 208.6h0M368.3 291.9h0M517 109.2h0M515 289.8h0M492.3 135.8h0M532.8 325.2h0M544.8 195.5h0M466.1 235h0M581.9 290.4h0M491 121.4h0M537.1 254.8h0M277.5 187h0M307.8 150.3h0M460.3 163.4h0M526.9 247h0M588.4 69.5h0M536.5 283.5h0M218.4 221.5h0M582.5 153h0M485.4 179.6h0M523.1 307.9h0M302.2 265.4h0M327.1 338.4h0M528.5 238.2h0M595.5 93.9h0M380.7 281.2h0M469.5 301.6h0M337.1 288.7h0M416.1 230.2h0M434 298.1h0M386.4 336.6h0M415.7 88.5h0M555 289.7h0M138 333.3h0M387.3 250.7h0M504.5 220.6h0M353.1 276.3h0M577 68.4h0M588.8 201.9h0M416.8 205.6h0M384.7 299.1h0M321.2 324.9h0M416.1 291.4h0M484.9 207.2h0M156.2 236.2h0M366.9 292.4h0M323.4 231.3h0M353.9 207.1h0M381.9 168.7h0M534.8 140.6h0M429.7 305.2h0M398.3 221.4h0M285.4 116.2h0M471.4 215.9h0M347.2 281.1h0M542.1 182.3h0M223.3 298.5h0M508.3 123.1h0M241.7 165.4h0M477.4 222.7h0M477.6 324.5h0M341.8 309.9h0M299.6 270.9h0M392.1 285.7h0M537.7 267.8h0M473.4 150.4h0M171.4 239.3h0M580.2 274.4h0M507.6 193.2h0M229.7 275.1h0M426.6 290.5h0M347.3 236.9h0M564.3 192.4h0M237.5 344h0M528.5 87.3h0M409.4 287.4h0M591.5 305.7h0M514.1 306.3h0M376.4 104.9h0M320.8 328.6h0M475 287.3h0M472.3 321.8h0M590.3 302.7h0M518.2 99.9h0M276.7 262.7h0M506.1 227.1h0M402.3 92.5h0M252.5 245h0M231.6 350.2h0M457.3 307.5h0M493.2 312.9h0M294 272.5h0M492 236.7h0M438.3 107h0M516 258h0M420 307.5h0M225.9 76.6h0M594.4 158.9h0M344.8 326.7h0M477.5 303.7h0M544.8 179.4h0M190.3 310.2h0M306 249.6h0M467.2 135.6h0M603.7 256.9h0M325.3 294.6h0M518.4 279.3h0M348.9 258.7h0M499.4 142.7h0M457.4 314.6h0M374.2 269.6h0M407.3 278.7h0M307 337.5h0M509.7 278.3h0M349.8 271h0M549.5 273.4h0M399.9 341.1h0M232.3 341.1h0M440.8 314.3h0M443 106.3h0M582.7 144.2h0M372.8 232.6h0M436.1 289.8h0M462.3 197.4h0M259.4 326.5h0M374.3 246.3h0M211.4 179.5h0M477.8 199.2h0M340.3 143.2h0M328.5 200.3h0M598.7 305h0M329.8 217.4h0M645 233h0M232.5 250.5h0M514.8 278.1h0M208.2 331.3h0M355.2 226.1h0M614.2 139.1h0M267 239.5h0M462.4 113.9h0M322.7 222.4h0M342.1 215.1h0M494.2 103.3h0M364.3 220.1h0M417.6 233.9h0M422.2 332.5h0M600.3 197.2h0M343.2 301.7h0M535.8 305.3h0M429.4 197.7h0M420.4 298.3h0M346.7 230.3h0M275.4 226.6h0M448.5 262.4h0M334 284.6h0M442.5 227.7h0M356.3 300h0M507.2 121.3h0M512.1 287.3h0M546.3 277.4h0M561.1 125.9h0M520.7 128.7h0M535.1 130h0M550 227.9h0M492 129.6h0M287 250.1h0M250.1 333.2h0M449.7 304.6h0M434.5 326.5h0M202.6 258.6h0M289.2 178.5h0M590.9 256.2h0M379 153.7h0M496.6 238.3h0M520.4 176.4h0M331.9 84.5h0M473.2 134.8h0M490.2 260.2h0M385.2 187.3h0M356.6 278.9h0M445.8 311.9h0M327.1 344.5h0M433.3 228h0M282.1 272.3h0M496.3 68.9h0M407.1 107.4h0M251.5 277h0M421.9 329.8h0M357.9 292.6h0M446.3 187.2h0M452.8 150.7h0M198.9 286.8h0M335 307.9h0M358.8 267.6h0M498.4 180.5h0M447.7 216.3h0M205.9 221.8h0M367.7 295.8h0M377.2 84.9h0M608.2 256.5h0M300.9 286.1h0M498.7 162.6h0M528.5 294.9h0M381.3 217.3h0M588 157.3h0M418 347.9h0M448.1 97.4h0M267.7 300.7h0M221 246.3h0M444.3 295.2h0M309.7 343.6h0M427.5 322.8h0M472 247.6h0M409.5 326.1h0M539.7 315.7h0M581.5 98.4h0M358.4 222.9h0M505.1 271.7h0M496.9 161.3h0M563.4 219.5h0M589.7 181h0M299.9 342.2h0M581.7 165.6h0M364.5 199h0M379.2 85.7h0M473.1 297.6h0M614.7 316.1h0M579.1 308.5h0M454.5 235.5h0M421.4 272.5h0M278.3 343.9h0M289.5 187h0M575.6 241.3h0M145 163.7h0M352.3 210h0M437.4 253.3h0M349.1 130.2h0M492.1 88.8h0M566.5 119.2h0M455.4 301.9h0M368.6 242.7h0M337.6 244.9h0M294.1 304.9h0M405.6 153.7h0M623.1 183.5h0M490.7 132.8h0M599.2 264.3h0M264.1 302.2h0M541.6 134h0M458.1 130.6h0M644.7 240h0M438.5 215.6h0M450.7 270.7h0M387.5 270h0M278.8 226.1h0M459.6 279.6h0M474.6 222.6h0M284.1 311.1h0M454.5 292.7h0M378.1 336.9h0M312.1 324.9h0M505.1 309.5h0M357.9 147.3h0M590.2 140.9h0M339.5 311h0M527.5 184.2h0M381.1 300.6h0M604.6 203.1h0M249.9 314.5h0M337.4 258.6h0M539.3 277.4h0M530 139.1h0M641 150.9h0M523.6 73.6h0M600 71.5h0M520.1 270.3h0M454.7 230.6h0M492.7 277.2h0M322.7 256.6h0M613.4 101h0M520.8 313.8h0M520 256.3h0M586.9 320.2h0M277.8 344.3h0M555.7 148.2h0M557.9 132.6h0M353.4 293.7h0M363.8 116.5h0M362.1 340h0M500.8 325.8h0M494.9 65.2h0M347.8 317.9h0M308.5 171.6h0M633.9 139.4h0M368.7 183.1h0M197.2 285.1h0M289.6 326.8h0M216.4 287.7h0M320.5 342h0M468.8 311.4h0M420.4 195h0M353.6 277.2h0M433.8 109.1h0M423 337.9h0M469.8 304.8h0M506.3 214.4h0M215.3 294.6h0M455.1 268.3h0M499 276.3h0M447.1 178.1h0M574.5 123h0M481.1 240.6h0M421.5 274.1h0M475.5 294.1h0M508.1 154h0M593.9 138h0M300.6 163h0M358.4 293.1h0M546.4 205h0M545.7 332h0M457.3 183.1h0M373.2 253.1h0M327.6 142.7h0M563.2 152.1h0M216.4 303.5h0M526.3 131.7h0M617.4 160.2h0M441.9 84.2h0" stroke-width="2.3" stroke-opacity=".32"/></g><polygon points="72.1,225.4 93.4,212.5 96.9,212.7 110.3,221.6 115.7,223 119.1,213 121.2,219.1 122.9,223.7 137,216.8 137.5,215.9 138.5,214.1 140,211.4 141,209.7 142,211.2 143.5,216 145,220.8 151.7,219.8 152.4,219.2 152.8,218.9 154.8,218.1 156.2,216.7 156.8,216.6 157.9,203.4 159,217.3 161,217.1 163.4,216.5 163.5,215.7 164.5,207.4 164.6,207.6 165.7,217 166.2,217.3 166.6,217.2 167.2,216.9 168.6,216.7 169.1,217 170.1,217.5 171.4,214.2 172.4,215.9 176.5,215.3 178.6,214.6 178.9,213.6 181.7,212 182.4,214.1 182.7,213.9 184.4,214.4 186.2,210.2 186.9,213 187.4,214.2 187.9,210.7 188.3,208.5 188.8,206.3 190.1,214.6 190.3,214.3 192,214.5 194.1,214 194.4,215.1 195,214.4 195.5,214.1 197.2,213.9 197.3,214.1 198.9,214.5 200.8,214.3 201.7,213.7 202,214 202.6,213.8 203.5,213.9 203.8,213.7 205.5,213.6 205.9,213.1 206.1,214.1 206.2,212.9 206.5,210.7 207.2,205.3 207.4,203.8 207.5,203.2 207.8,204.5 208,205.6 208.1,206.4 208.2,205.9 208.3,205.5 208.7,204.8 208.9,202.7 209,200.9 209.1,199.1 209.3,199.2 209.8,193.7 209.9,193.9 210.2,190.9 210.6,190.3 210.7,190.9 211.1,197.3 211.3,201.8 211.4,203.6 211.5,205.5 211.6,207.4 212,211.2 213,211.1 213.9,210.2 214.1,208.8 214.2,208.2 215.3,200.3 215.5,199.4 216.1,204.2 216.4,206 217,210.3 218,210.2 218.4,209.1 219.1,207.3 219.4,205.3 219.6,205.4 220.1,208.3 220.5,208.9 220.6,208.4 220.8,210.2 221,210 221.7,209.9 221.9,210.1 222.1,209.6 223.3,206.7 224,206 224.5,208 224.6,207.9 225.2,203.2 225.4,202 225.5,201.2 225.9,198 226,197.5 226.9,205.5 227.4,208.6 229,208.2 229.7,207.9 229.8,208.6 231.6,208.5 232,208.8 232.3,208.4 232.5,208.6 233,208.4 234.5,207.3 234.6,207.3 235.2,201.3 235.3,199.2 235.6,193.8 235.7,192.1 236.3,193.9 236.7,201.6 236.8,203.6 237,205.7 237.2,206.6 237.4,207.4 237.5,208.3 237.7,208.9 237.8,208.4 237.9,207.9 238.7,207.8 240.3,202 240.5,202.5 241.3,204.7 241.7,207.4 241.8,207.9 241.9,207.2 243.1,205.9 243.3,205.4 243.7,206.4 244.6,208.2 245,208 245.5,207.5 247.3,207.1 248.3,207.1 248.6,206.9 248.8,206.7 249.3,206.7 249.7,207.1 249.9,206.5 250,207.4 250.1,206.8 250.4,206.8 250.7,206.9 250.9,206.7 251.1,206.9 251.5,207.2 251.8,207.9 251.9,206.3 252.4,207 252.5,207.1 253.1,207.5 254.6,196 254.7,196.4 256,206.3 256.1,206.6 257.1,206.9 257.4,206.4 258.4,206.7 258.5,206.5 258.6,206.6 258.7,205.6 259,203.6 259.1,203.3 259.2,201.2 259.4,198.6 260,193.3 260.2,193.4 260.3,194.3 260.4,194.4 260.6,194.1 260.7,196 261.3,201.7 261.5,203.4 261.6,202.7 262.1,200.4 262.3,198.1 262.6,194.8 262.8,192.3 262.9,192 263.2,194.1 263.3,195.2 263.4,195 263.7,197.2 264.1,200.2 264.4,200.5 265,199.9 265.5,197.8 265.6,198 265.9,200 266.6,203.9 267,204.1 267.1,204 267.2,202.6 267.4,201.1 267.5,199.1 267.7,197.7 268.3,191.8 268.6,193.5 268.8,194.9 269.1,196.1 269.2,196.1 269.5,198 269.9,196.5 270,197.3 270.3,197.9 270.5,198.7 270.8,200.8 271.1,201.7 271.4,202.9 271.5,203.2 271.8,202.3 271.9,203.5 272.1,202 273.2,196.3 273.5,194.5 273.7,196.1 273.8,196.5 274,196.9 274.4,199.8 274.6,200.6 274.7,201 274.8,201.1 275.1,199.5 275.2,198.2 275.3,196.3 275.4,194.8 276.2,182.5 276.6,184.5 276.7,185.9 277.4,196.2 277.5,198.3 277.7,200.8 277.8,201 278,202.6 278.3,203.1 278.5,202.7 278.8,201.2 279.3,196.8 279.6,195.3 279.7,195.1 280.5,202.4 280.7,202.2 280.9,202.5 281.1,202.6 281.2,201.7 281.4,199.2 281.7,195.2 282.1,190 282.2,189.3 282.5,190.1 282.9,194.8 283.3,199.9 283.6,201.3 283.7,201.2 283.8,202.3 284.1,202.2 284.5,202.2 285.4,201.7 286.1,201.7 286.2,201.8 286.9,201.5 287,200.9 287.4,198 287.6,195.5 287.7,194.9 287.9,193.1 288.2,187.6 288.5,187.8 288.7,187.4 288.9,187 289.1,186.9 289.2,186.2 289.3,187.4 289.4,189.8 289.5,190.4 289.6,192 289.9,195.1 290.1,196.7 290.2,198 290.3,198.7 290.6,201.2 291.1,201.5 291.4,201.7 291.6,200.7 291.7,201 291.9,199.9 292,199.8 292.8,197.2 293.1,197.9 293.8,199.6 294,200.5 294.1,200.6 294.3,200.8 294.6,200.7 295.4,199.9 295.7,199.5 295.8,199.6 296.4,199.6 297.7,198.4 297.8,198.3 298.3,198.1 298.8,197.6 299.3,197.3 299.6,197.3 299.9,197 300.6,197 300.9,196.2 301.2,196.5 301.3,195.6 301.5,196.1 301.9,196 302.2,195.9 302.6,195.6 302.8,196 303,195.2 303.1,195.4 303.3,196 304.2,192 304.4,192.1 305.2,186.8 305.7,181.1 305.8,182.1 306,182.1 306.1,182.2 306.4,182.6 306.7,181.8 306.8,182.5 306.9,183.9 307,184.4 307.1,185.5 307.6,189 307.8,191.1 308.1,193 308.4,194.8 308.5,195.1 309.1,195 309.5,195 309.6,195.3 309.7,194.9 310.2,194.1 310.5,193.6 310.9,194.1 311.5,193.1 312,193.1 312.1,192.4 313,191.6 313.8,185.5 314.1,183.5 314.3,182.2 314.5,180.6 315.3,185.7 315.6,187 316,189.1 316.6,188.6 316.7,189.4 317,188.1 317.1,188.1 317.4,187.8 317.5,186.4 317.9,183.3 318.1,183.1 318.5,180.3 318.6,179.9 318.8,178.6 318.9,177.9 319.2,177.6 319.3,177.7 319.6,177 320.1,181.5 320.3,182.3 320.5,183.7 320.7,184.9 320.8,184.5 321.1,185.9 321.2,186.3 321.3,186 321.6,186.5 321.8,186.4 321.9,186.5 322,185.4 322.5,184.2 322.7,182.9 322.9,181.9 323.1,181.8 323.4,182.6 324.3,184.9 324.4,183.9 324.6,182.5 324.9,178.6 325.3,172.5 325.5,168.4 325.6,167.5 325.7,165.2 326,168.5 326.1,169.2 326.2,170.7 326.6,176.3 327.1,183.2 327.2,183.8 327.6,184.1 328,183.6 328.2,184.2 328.5,184 328.6,183.7 328.7,184.4 329.3,182.6 329.5,182.5 329.7,182.2 329.8,182.7 330,182.1 330.5,181.7 330.9,181.6 331.2,182.3 331.3,181.6 331.6,181.2 331.7,181.6 331.9,181.6 332,181.4 332.1,182 332.2,181.5 332.6,180.5 332.8,181.2 333.2,180.5 333.3,179.8 333.6,179.7 333.9,179.8 334,179.4 334.7,178.7 334.8,178.9 334.9,178.3 335,177.9 335.3,176.1 335.6,175.7 336,175.1 336.1,175.3 337,175.1 337.1,175.2 337.4,174.9 337.5,174.9 337.6,175.4 337.7,175.5 337.8,175.9 338.2,176.1 338.3,176.1 338.4,176.1 339.2,174.2 339.5,174.8 339.8,175.4 340.1,175.9 340.3,175 340.5,174.8 341,172.4 341.5,173.5 341.7,174.9 341.8,174.8 342,175.5 342.1,176.2 342.4,176.1 342.6,175.9 342.8,175.4 342.9,175.6 343,175.9 343.2,175.5 343.7,175.7 344.2,174.9 344.6,175.2 344.8,175.6 345.3,175.4 345.4,174.9 346.1,175.3 346.7,175.4 347.2,175.1 347.3,175.2 347.5,174.9 347.6,174.5 347.8,175.3 348.3,174.9 348.8,174.9 348.9,174.8 349.1,174.9 349.7,174.2 349.8,173.9 350.2,173.4 350.3,173.5 350.4,173.5 350.6,174.4 350.7,174.2 351.4,174.4 351.6,174 352.3,173.7 352.4,173.7 353.1,172.8 353.4,173.2 353.5,173.5 353.6,173.2 353.9,173.1 354,173.2 354.3,172.8 355.2,172.6 356.3,168.7 356.4,167.8 356.5,168.2 356.6,168.5 356.9,169.5 357.3,171.3 357.5,172 357.9,171.8 358.1,172.6 358.4,172.8 358.5,172.2 358.8,173 359.2,172.1 359.7,172.5 359.8,172.5 360.3,172.5 360.9,172 361,171.7 361.3,171.4 362.1,171.5 362.2,171.2 362.6,171.8 363.2,170.7 363.5,170.6 363.8,170.5 364.3,170.2 364.5,169.4 364.6,169.7 364.8,169.2 364.9,169.4 365,169.8 365.3,169.1 365.7,169.8 366.3,169.5 366.8,169.4 366.9,168.8 367.7,169.5 368,169.3 368.3,168.7 368.4,168.4 368.6,169.3 368.7,168.4 369,168.6 369.1,168.2 369.2,168.7 369.4,168.4 369.7,167.6 370.1,167.7 370.2,168.2 370.3,167.6 370.5,168.1 370.9,167.5 371.6,167.5 371.7,167.3 372.3,167.5 372.5,167.6 372.6,167.7 372.8,167.4 373.2,166.9 373.4,166.5 373.6,166.3 373.7,166.2 374.1,164.6 374.2,164.2 374.3,164.4 374.4,163.6 374.5,163.8 374.6,164.2 374.8,164 375,164.5 375.2,164.5 375.3,164.5 375.4,165.1 375.5,165.7 375.7,165.4 375.9,165.9 376.1,165.9 376.3,166.2 376.4,165.7 376.7,166.2 376.8,166.4 377.2,165.9 377.3,165.6 377.4,165.5 378.1,165.1 378.2,165.5 378.4,164.7 379,163.5 379.2,163.4 379.3,162.7 379.5,162.5 379.6,162.6 380,163.8 380.4,163.1 380.7,164.1 381.1,163.6 381.2,163.5 381.3,162.9 381.8,162.8 381.9,162.2 382.2,163.2 382.3,162.3 382.6,162 382.7,162.1 383.3,162 383.5,161.6 383.7,161.7 383.9,162.3 384.2,161.8 384.3,160.9 384.7,160.9 384.8,161.3 385.1,160.9 385.2,160.8 385.3,160.6 385.8,160.9 386,160.8 386.4,160.1 386.8,159.9 387.2,159.7 387.3,159.3 387.5,159.3 388,159.2 388.3,158.3 388.5,159.2 388.6,158.6 388.7,158.9 389.3,158.5 390.1,157.5 390.2,157.6 390.5,157.2 390.6,157.4 390.7,157.2 391.3,156.8 391.4,156.9 392,155.6 392.1,155.1 392.2,155.8 392.3,154.9 392.4,154.7 392.5,154.7 393.1,154.2 393.2,154.9 393.5,155.5 393.6,155.3 393.8,155.3 393.9,155.4 394.3,153.9 394.5,154.1 394.8,153.3 395.4,153.5 395.8,152.7 396,152.9 396.5,152.6 396.6,152.5 396.7,152.8 396.8,152.4 396.9,152.5 397,152.6 397.1,152.5 397.4,152.4 397.6,151.9 397.8,152.2 398.3,151.7 398.4,151.8 398.5,151.6 398.8,151.4 398.9,151.8 399.8,151.8 399.9,151.2 400,150.9 400.2,150.6 400.4,151.2 401.1,151 401.6,150.4 401.7,150.8 402,150.2 402.1,150.5 402.2,150.3 402.3,150.8 402.4,150.7 402.5,150.2 403.1,148.2 403.3,148.6 403.4,148.1 403.6,148.4 403.7,148.8 404.5,150.1 404.7,149.9 404.8,149.9 405,150.1 405.1,150.2 405.6,149.3 405.7,149.1 405.9,149 406.2,149.2 406.4,149.4 406.5,149.3 406.7,149.5 407.1,148.7 407.3,149 407.5,148 407.7,146.7 407.8,146.7 408,144.7 408.2,144.9 408.4,146.3 408.9,148.3 409.1,148.3 409.4,147.5 409.5,147.6 409.8,146.6 410,146.8 410.2,148 410.3,147.6 410.7,148.3 410.8,147.7 410.9,148.2 411.1,147.6 411.7,147.9 411.9,148 412,147.6 412.2,147.7 412.7,147.6 412.8,147.8 412.9,146.9 413.5,147 413.6,147.1 413.9,146.9 414,146.9 414.2,147.1 414.5,146.6 414.6,146.6 415.1,146.2 415.3,147.2 415.5,146.4 415.7,146.7 416.1,146.6 416.4,146.3 416.7,146.8 416.8,146.8 417,146.4 417.1,147.3 417.2,146.5 417.4,147.2 417.6,146.5 417.7,146.5 418,146.8 418.4,146.6 418.6,146 418.7,146.2 418.8,146 418.9,145.7 419.1,144.6 419.2,145.6 419.8,145.5 420,146 420.1,145.5 420.4,145.4 420.5,145.9 420.7,145.9 420.8,145.3 421.2,145.8 421.4,146 421.5,146.2 421.8,145.9 421.9,146.7 422.1,146.5 422.2,146.2 422.7,146.5 422.8,146.3 422.9,146.4 423,146.7 423.1,146.9 423.4,146.2 423.5,145.8 423.8,146.1 423.9,145.8 424,145.8 424.1,145.7 424.6,145.9 424.8,145.9 425.2,144.8 425.6,146 425.8,145.7 425.9,145.5 426.5,144.4 426.6,145 426.8,145.5 427,145.3 427.1,144.9 427.2,145 427.3,144.8 427.5,145.4 427.6,144.6 427.7,144.9 427.8,144.5 427.9,145.5 428,145.4 428.8,144.7 429.2,144.6 429.4,145 429.6,144.8 429.7,144.5 430.4,144.8 430.6,144.5 430.9,144 431.1,143.2 431.3,142.7 431.5,142.5 431.6,141.9 431.7,142.3 431.9,141.8 432.1,142.4 432.2,142.6 432.3,142.3 432.6,142.7 432.7,143 433,143.2 433.2,143.3 433.3,143.1 433.4,143.4 433.6,143.6 433.8,143.7 433.9,143.6 434,143.6 434.1,143.1 434.4,143.3 434.5,143.7 434.6,143.2 434.7,142.9 435.1,143 435.3,142.5 435.4,142.1 435.6,142.7 435.7,143.2 435.9,142.6 436,142.2 436.1,142.3 436.4,142.4 436.6,142.6 436.9,142.3 437,142.4 437.1,142.5 437.2,142.7 437.4,142.3 437.8,142.5 438,142.1 438.3,142.2 438.5,142.2 439,141.6 439.4,141.5 439.6,141.8 440.1,141.6 440.3,142.1 440.4,142.7 440.7,143.5 440.8,143.2 441.1,142.7 441.2,142.4 441.8,142.7 441.9,142.3 442,141.7 442.3,141.9 442.5,141.5 442.6,141.4 442.7,141.4 442.9,141.6 443,141.3 443.3,140.9 443.4,141.7 443.5,141.9 444.3,141.5 444.6,141.3 444.7,141.5 444.9,140.9 445.3,140.9 445.6,141.3 445.7,141.3 445.8,141.5 445.9,141.2 446.1,141.2 446.3,141.9 446.4,140.9 446.5,141.6 446.7,140.9 446.8,140.2 447,140.4 447.1,140.3 447.3,140.8 447.4,140.8 447.5,141.2 447.7,140.9 447.9,140.5 448,141.1 448.1,140.9 448.2,140.3 448.3,140.7 448.5,140.2 448.6,139.6 448.9,139.1 449,138.7 449.4,139.3 449.6,140 449.7,140.1 449.8,139.6 449.9,139.6 450.5,139.6 450.7,140.4 450.9,139.7 451,140.4 451.5,140.3 451.8,139.7 451.9,140.4 452.3,140.7 452.8,140.6 452.9,140.2 453.2,140.2 453.7,139.8 453.8,140.2 454.1,140.3 454.4,139.9 454.5,139.9 454.6,139.8 454.7,139.8 454.9,139.6 455.1,139.2 455.2,138.9 455.3,138.6 455.4,138.4 455.6,137.9 455.7,137.8 456,137.1 456.1,136.6 456.2,136.7 456.3,136.1 456.6,137.3 456.7,137.5 456.8,137.8 457.2,138.4 457.3,138 457.4,139.1 457.8,138.3 458.1,138.3 458.2,137.6 458.7,137.6 458.8,138.1 459.5,137.5 459.6,137.7 459.7,137.3 459.9,137.4 460.3,137.4 460.5,136.7 460.6,136.6 460.9,136.4 461.1,136.7 461.4,135.7 461.5,136.3 461.7,137.1 462,136.3 462.3,136.8 462.4,136.6 462.5,136.6 462.6,136.7 462.8,136.7 463.4,136.2 463.9,136.4 464,136.7 464.2,136.1 464.3,136 464.4,136.3 464.5,135.8 464.6,136 464.8,135 464.9,135.1 465.5,133.6 466,134.1 466.1,134.1 466.2,134.5 466.4,133.6 466.7,133.1 466.8,132.9 467,132.8 467.2,132.9 467.7,132.2 468.4,132.9 468.5,133.3 468.7,133.4 468.8,133.5 469.1,133.4 469.2,133.7 469.3,133.5 469.5,132.9 469.6,133.3 469.7,133.2 469.8,132.4 469.9,133 470,132.8 470.1,132.9 470.2,132.9 470.7,132.6 471.1,132 471.2,132.1 471.4,131.9 471.8,131.4 471.9,130.9 472,130.8 472.3,130.5 472.7,131.2 472.9,131.9 473.1,131 473.2,131.8 473.3,130.8 473.4,130.7 473.5,130.8 473.7,130.5 473.8,130 473.9,130.9 474.6,130.1 474.9,129.1 475,129.2 475.2,128.1 475.3,128.9 475.5,129.1 475.7,129.3 476.1,128.9 476.9,128.4 477,128.2 477.2,127.8 477.3,127.9 477.4,128.3 477.5,128 477.6,128 477.7,128.3 477.8,127.6 478.4,127.4 478.6,127.5 478.9,127.5 479.2,127.2 479.7,127.4 480.8,126.8 480.9,125.7 481.1,125.6 481.5,125.5 482.6,124.6 482.8,124.9 482.9,125.2 483,123.7 483.3,124.1 483.8,124.1 483.9,123.6 484.3,124 484.4,123.9 484.5,123.6 484.6,122.9 484.9,122.9 485.3,123.7 485.4,122.4 485.5,123.3 486,122.9 486.3,123.2 486.4,121.8 486.5,122.8 486.6,122.1 486.8,122.7 486.9,121.7 487,121.8 487.1,121.8 487.3,122 487.7,121.9 488.2,122 488.8,121.6 489.2,121 489.3,120.8 489.7,121.9 490,121.1 490.1,120.9 490.2,121.2 490.3,120.6 490.7,118.7 490.8,118.1 490.9,117.5 491,117.4 491.3,118.4 491.5,119.1 491.6,119.1 491.7,119.4 491.8,119.6 491.9,120.1 492,120.1 492.1,119.5 492.3,120.5 492.6,120.8 492.7,120.3 492.9,120.6 493.2,120.8 493.3,119.9 493.6,118.9 493.7,119 494.1,117.8 494.2,117.2 494.3,117.3 494.5,117 494.9,117.5 495,117.5 495.2,118.5 495.4,119.8 495.6,119.9 495.8,120.5 495.9,120.9 496.1,119.5 496.3,120.7 496.6,120.4 496.9,119.9 497.1,120 497.3,119.1 497.5,119.6 497.7,119.2 497.8,118.7 498,117.9 498.4,116.7 498.5,116 498.6,115 498.7,114.6 498.8,115.1 498.9,115.3 499,115.6 499.3,115.5 499.4,115.7 499.5,116 499.6,116.5 499.8,115.1 500.2,116.7 500.3,115.4 500.8,114.8 501,114.4 501.2,115.7 501.5,116.2 501.6,116.7 501.8,117.1 502.4,117 502.6,117.2 503,117.6 503.2,116.9 503.3,117.2 503.5,117.2 503.6,118.1 503.7,117.7 504.1,117.8 504.2,118.1 504.5,118.1 504.6,116.8 504.8,117.4 505.1,116 505.3,117.2 505.5,117.4 505.7,117.4 505.8,117.8 505.9,118.2 506.1,117.9 506.2,118 506.3,118.1 506.4,117.4 506.6,117.2 506.9,116.2 507.2,115.4 507.3,114.7 507.6,115.6 507.9,116.3 508.1,117.1 508.2,117.2 508.3,117.1 508.7,116.4 508.9,117.5 509.7,117.5 509.9,116.1 510,116.7 510.1,116.8 510.3,116.9 510.4,117 510.5,118.1 510.7,118 510.9,117 511,116.7 511.1,117 511.2,117.4 511.5,117.3 511.9,117.4 512,117 512.1,117.7 512.7,116.6 512.8,115.8 513,116.3 513.2,115.7 513.4,115.5 513.5,115.6 514.1,113.4 514.4,113.1 514.7,113.6 514.8,113.7 515,113.9 515.5,114.9 515.7,115.5 515.8,114.9 516,115.6 516.1,115.2 516.2,115.7 516.3,116.2 516.5,115.8 516.6,116.1 517,115.6 517.1,115.4 517.3,115.3 517.5,115.2 517.8,115.1 517.9,115.6 518.2,115.9 518.4,115.5 518.5,115.6 518.8,115.5 519.2,115.6 519.7,115.4 519.8,114.2 519.9,115.1 520,114.9 520.1,114.1 520.2,115 520.4,114.9 520.7,113.7 520.8,113.8 520.9,113.6 521.1,113 521.5,113.6 521.9,114.2 522.1,115.2 522.2,115.1 522.3,114.6 522.6,115 522.7,114.5 522.8,115.2 522.9,115.3 523,115.1 523.1,115 523.6,114.9 524,115.3 524.2,115.4 524.3,114.6 525.1,113.7 525.2,115.1 525.3,114 525.5,114 525.6,113.5 525.8,114.5 525.9,113.2 526.3,114.3 526.5,114.1 526.6,113.3 526.9,114.1 527.1,115.1 527.2,114 527.4,114.4 527.5,114.4 527.6,114.7 527.7,114.8 527.8,113.7 527.9,114.1 528,115.1 528.1,114.5 528.2,114.7 528.4,113.7 528.5,114.6 528.7,113.7 528.8,113.6 529,114.2 529.1,114.1 529.5,114.1 529.6,113.2 529.8,114 529.9,114.1 530,114.1 530.4,113.3 530.6,112.7 530.7,113 531,110.5 531.2,109.7 531.3,109.2 532.3,114 532.4,113.6 532.5,114 532.8,113 532.9,113.6 533,113.1 533.3,113.6 533.8,112.6 534.2,113.6 534.3,112.7 534.6,114.5 534.8,113.4 535.1,113.1 535.3,114 535.4,113.8 535.8,113.1 536.3,112.6 536.5,112.5 536.7,113.5 536.8,113.2 536.9,113.4 537.1,112.4 537.3,113.2 537.4,112.5 537.6,112.7 537.7,112.7 537.8,111.8 538,112.9 538.1,112.2 538.2,112.5 538.9,112.3 539.2,112.3 539.3,112.1 539.4,111.7 539.7,112 539.9,112.2 540.3,111.2 540.4,111.4 540.6,111.4 540.7,111.4 540.9,112.2 541.2,111.9 541.4,112 541.5,112 541.6,111.8 541.9,111.3 542,111.9 542.1,111.9 542.4,111.6 542.5,111.7 542.7,111.8 542.9,111.1 543.3,109.8 543.5,109.9 543.7,109.7 543.9,110.2 544,109.6 544.1,108.6 544.7,108.5 544.8,108.8 544.9,108.3 545,108.2 545.1,108.6 545.2,108.8 545.3,109.4 545.7,109.3 545.8,109.7 546.1,110.9 546.2,111 546.3,112 546.4,110.5 546.6,111.5 546.7,111.5 546.9,111.8 547,111.6 547.1,111.4 547.5,110.6 548.1,109.1 548.3,109.5 548.6,108.8 549.2,106.1 549.4,106.4 549.5,106.4 549.6,107.3 549.9,108.7 550,109.2 550.1,109.8 550.4,110.4 550.6,110.9 551.4,111 551.9,110.7 552.1,111.1 552.4,111.2 552.5,110.4 552.6,111.5 553.1,111.6 553.2,110 553.5,110.6 553.9,111.2 554,110.5 554.1,110.3 554.2,110.7 554.7,111.9 555,111.3 555.3,110.8 555.5,109.7 555.6,110 555.7,108.5 556,108 556.4,107 556.8,108.8 557.1,109.8 557.3,111 557.5,112 557.9,111.4 558.3,111.6 558.6,112.3 559,110.8 559.2,111.2 559.3,111.5 560.1,111.2 560.2,111.5 560.9,111.4 561,111.7 561.1,110.3 561.2,110.6 561.4,110.9 562.2,107.4 562.3,106.3 562.4,107.3 562.8,109.6 562.9,109.9 563.1,110.2 563.2,109.7 563.3,110.3 563.4,110.3 563.6,110.2 563.8,109.9 564,110 564.3,109.5 565.3,109.5 566.3,108 566.5,107.5 566.9,103.9 567.3,105.9 567.5,107.4 567.6,107.8 567.7,108.3 567.8,108 568.2,109 568.4,108.4 568.6,108.4 568.7,109.1 569,107.8 570,109.1 570.4,108.1 570.5,108.1 571.4,107 571.5,106.8 571.7,107.6 572.1,107.7 572.5,107.3 572.6,107.7 573,108.2 573.2,108 573.5,108.1 574,107.7 574.1,107 574.3,107.1 574.4,107.3 574.5,106.7 575,107.7 575.6,108.3 576.1,108.9 576.2,107.6 576.7,108 576.9,108.5 577,108.2 577.1,108.5 577.5,106.1 577.9,106.4 578,106.2 578.2,106.8 578.3,106.2 578.4,106.8 578.5,107 578.8,106.9 578.9,107.3 579.1,108 579.4,107.4 579.7,107.8 579.8,107.4 580.2,106.9 580.4,107.4 581,105.1 581.2,103.9 581.5,105.4 581.7,106.4 581.9,106.9 582,107.1 582.1,107.5 582.3,107.5 582.4,107.5 582.5,108.1 582.7,108.2 582.9,108.2 583.7,107.5 583.9,107.1 584.3,106.8 584.6,107.9 585.6,106.3 586.1,107.5 586.7,107 586.8,106.9 586.9,107.3 587,107.1 587.6,106.5 587.9,105.7 588,105.3 588.1,105.3 588.4,102.4 588.8,99.5 588.9,99.2 589,99.5 589.2,99.1 589.7,103.8 589.8,104.1 590,106.1 590.1,105.1 590.2,105.6 590.3,105.3 590.4,107.2 590.8,105.1 590.9,105.8 591.3,105.9 591.5,106 591.7,105.4 592.1,105.6 592.3,105.8 592.9,105.5 593.2,105.1 593.3,104.8 593.4,105.2 593.9,105 594.1,104.9 594.3,103.8 594.4,103.8 594.6,104.6 595,104.5 595.1,103.9 595.5,104.9 595.6,104.9 596.1,104.9 596.3,104.6 596.4,105.9 596.9,106.9 597,105.6 597.2,105.1 597.3,105.4 597.4,105.7 597.5,103.6 597.8,102.9 597.9,102.7 598,102.5 598.3,101.4 598.6,101.6 598.7,101.5 598.9,103.2 599,103.9 599.2,103.8 599.5,104 599.6,105.7 600,105.8 600.3,105.9 600.6,104.8 600.7,105.7 600.9,105.6 601,104.6 601.4,103.9 601.5,103.6 602,102.3 602.9,104.8 603.3,105.8 603.7,104.8 604.5,105.5 604.6,105.6 605.1,104.8 605.8,104.8 607.8,105.9 608.2,105.5 608.7,105.3 608.8,105.9 609.3,104.9 609.4,105.5 609.5,105.5 609.7,104.9 609.8,104.8 610,104.6 610.9,105.2 611,104.6 611.4,105.7 611.7,104.3 612.4,105.1 612.6,104.5 612.8,104.7 613.1,104.4 613.3,104.5 613.4,105.7 613.6,106.1 613.9,105.4 614,105 614.1,104.9 614.2,104.7 614.4,104.6 614.5,104 614.7,104.4 614.9,104.9 615.5,104.5 615.6,104.2 616,105.7 616.1,104.5 617.4,104.8 618.6,104.6 619.5,104.2 620.1,103.6 620.7,102.9 621.4,103.6 621.7,104.7 621.8,104.5 621.9,103.7 622.3,104.6 622.6,103.2 623,102.1 623.1,102 623.2,100.9 624.2,102.4 624.3,101.7 624.9,104.4 625.3,103.6 626.2,103.4 626.7,102.7 627.1,103.5 627.2,103.4 627.3,103.4 627.5,102.6 627.6,102.9 627.9,101.9 628,101.2 628.2,101.3 628.9,103.8 629.4,105.3 630.1,104.5 630.4,104.2 630.8,103.8 630.9,103.8 631.1,104.5 632.7,104.5 633.7,101.5 633.9,101.1 634.1,100.6 634.2,98.8 634.5,99 635.3,104.3 635.4,103.6 636,105.3 637,104.2 637.1,105.9 637.2,104.7 638.5,103.3 639.1,104.5 639.7,104 640.5,103.4 641,105 641.8,104.4 642,104 642.7,101 642.8,101.5 643.7,102.9 644,102 644.1,103 644.3,103.5 644.4,105 644.7,105 644.8,104.8 644.9,106.1 645,105.6 645,250.3 644.9,249.7 644.8,250.9 644.7,250.6 644.4,250.2 644.3,251.7 644.1,251.9 644,252.8 643.7,252.4 642.8,253.6 642.7,254.2 642,252.7 641.8,252.8 641,252.4 640.5,251.7 639.7,250.8 639.1,253 638.5,254.1 637.2,253.9 637.1,252.9 637,254.5 636,254.4 635.4,256.7 635.3,255.9 634.5,259.3 634.2,260.1 634.1,258.5 633.9,258.7 633.7,259.1 632.7,257.9 631.1,258.1 630.9,258.8 630.8,258.8 630.4,258.4 630.1,258.3 629.4,257.5 628.9,258.6 628.2,259.9 628,260.1 627.9,259.6 627.6,259 627.5,259.3 627.3,258.6 627.2,258.7 627.1,258.5 626.7,259.3 626.2,258.6 625.3,259.4 624.9,258.4 624.3,260.1 624.2,259.2 623.2,260.9 623.1,259.9 623,259.7 622.6,259.2 622.3,258.4 621.9,259.9 621.8,259.2 621.7,259 621.4,259.9 620.7,260.2 620.1,260.1 619.5,260 618.6,259.8 617.4,259.8 616.1,260.3 616,259.2 615.6,260.7 615.5,260.4 614.9,260.2 614.7,260.7 614.5,261.1 614.4,260.6 614.2,260.5 614.1,260.3 614,260.2 613.9,259.8 613.6,259.2 613.4,259.7 613.3,260.9 613.1,261 612.8,260.8 612.6,261 612.4,260.4 611.7,261.4 611.4,260.1 611,261.3 610.9,260.7 610,261.5 609.8,261.4 609.7,261.4 609.5,260.9 609.4,260.9 609.3,261.6 608.8,260.7 608.7,261.4 608.2,261.4 607.8,261.2 605.8,263.1 605.1,263.4 604.6,262.9 604.5,263 603.7,264.1 603.3,263.2 602.9,263.9 602,265.8 601.5,265.2 601.4,265.1 601,265.1 600.9,264.2 600.7,264.5 600.6,265.4 600.3,264.4 600,264.7 599.6,264.6 599.5,266.2 599.2,266.1 599,265.9 598.9,266.4 598.7,267.6 598.6,267.4 598.3,267.7 598,266.7 597.9,266.9 597.8,267 597.5,267.2 597.4,265.4 597.3,266 597.2,266.5 597,266.4 596.9,265.1 596.4,266 596.3,267.3 596.1,266.9 595.6,266.8 595.5,266.8 595.1,268.1 595,267.5 594.6,267.6 594.4,268.6 594.3,268.6 594.1,267.8 593.9,267.9 593.4,268.2 593.3,268.8 593.2,268.6 592.9,268.5 592.3,268.6 592.1,268.9 591.7,269.3 591.5,268.9 591.3,269.1 590.9,269.3 590.8,270.1 590.4,268.2 590.3,269.9 590.2,269.5 590.1,270 590,268.9 589.8,270.4 589.7,270.4 589.2,273.4 589,272.9 588.9,273.2 588.8,273.1 588.4,272 588.1,270.4 588,270.9 587.9,270.7 587.6,270.2 587,269.8 586.9,269.7 586.8,270.1 586.7,270 586.1,269.9 585.6,271.2 584.6,270.1 584.3,271.4 583.9,271.3 583.7,270.9 582.9,270.6 582.7,270.7 582.5,270.9 582.4,271.5 582.3,271.5 582.1,271.6 582,272.1 581.9,272.2 581.7,271 581.5,270.3 581.2,269.2 581,269.6 580.4,272.4 580.2,273 579.8,272.6 579.7,272.2 579.4,272.6 579.1,272.2 578.9,272.9 578.8,273.3 578.5,272.9 578.4,273 578.3,273.6 578.2,272.9 578,273.4 577.9,273.1 577.5,273.9 577.1,272 577,272.4 576.9,272.3 576.7,272.8 576.2,273.3 576.1,272.1 575.6,272.8 575,273.2 574.5,274 574.4,273.4 574.3,273.7 574.1,274 574,273.3 573.5,273.3 573.2,273.8 573,273.6 572.6,274.2 572.5,274.5 572.1,274 571.7,273.9 571.5,274.7 571.4,274.5 570.5,274.3 570.4,274.4 570,273.5 569,274.9 568.7,273.8 568.6,274.5 568.4,274.5 568.2,274 567.8,274.4 567.7,273.3 567.6,273 567.5,272.6 567.3,272.4 566.9,272.7 566.5,272.5 566.3,273.8 565.3,274.1 564.3,274.3 564,273.9 563.8,274 563.6,273.7 563.4,273.7 563.3,273.7 563.2,274.4 563.1,273.9 562.9,273.8 562.8,273.9 562.4,275.4 562.3,276.2 562.2,275.1 561.4,273.6 561.2,274 561.1,274.3 561,272.9 560.9,273.3 560.2,273.3 560.1,273.6 559.3,273.6 559.2,273.8 559,274.3 558.6,272.9 558.3,273.7 557.9,274 557.5,273.5 557.3,274.3 557.1,274.9 556.8,274.5 556.4,274.5 556,273.5 555.7,274.5 555.6,273.6 555.5,274.4 555.3,274.2 555,274.8 554.7,274.2 554.2,275.5 554.1,276 554,275.8 553.9,275.1 553.5,275.8 553.2,276.4 553.1,274.9 552.6,275.1 552.5,276.2 552.4,275.4 552.1,275.6 551.9,276.1 551.4,275.9 550.6,276.1 550.4,276 550.1,274.4 550,274.4 549.9,274.2 549.6,273.4 549.5,273.6 549.4,273 549.2,274.6 548.6,276 548.3,277.2 548.1,277.8 547.5,277 547.1,276.6 547,276.4 546.9,276.3 546.7,276.6 546.6,276.6 546.4,277.6 546.3,276.2 546.2,277.2 546.1,277.3 545.8,278.1 545.7,278.4 545.3,277.8 545.2,278.3 545.1,278.4 545,278.7 544.9,278.6 544.8,278.3 544.7,278.7 544.1,279.1 544,278.2 543.9,277.7 543.7,278.3 543.5,278 543.3,278.4 542.9,277.6 542.7,277.1 542.5,277.5 542.4,277.6 542.1,277.5 542,277.4 541.9,278.1 541.6,277.6 541.5,277.5 541.4,277.5 541.2,277.7 540.9,277.5 540.7,278.3 540.6,278.3 540.4,278.4 540.3,278.6 539.9,277.7 539.7,278 539.4,278.4 539.3,278 539.2,277.8 538.9,277.9 538.2,277.8 538.1,278.1 538,277.5 537.8,278.7 537.7,277.7 537.6,277.7 537.4,278 537.3,277.4 537.1,278.2 536.9,277.2 536.8,277.5 536.7,277.1 536.5,278.2 536.3,278.2 535.8,277.8 535.4,277.2 535.3,277.1 535.1,277.9 534.8,277.7 534.6,276.7 534.3,278.6 534.2,277.6 533.8,278.7 533.3,277.8 533,278.4 532.9,278 532.8,278.6 532.5,277.7 532.4,278.1 532.3,277.4 531.3,275.4 531.2,275.6 531,276.4 530.7,276.1 530.6,277.2 530.4,278.1 530,278.1 529.9,278.1 529.8,278.3 529.6,279.1 529.5,278.2 529.1,278.3 529,278.3 528.8,278.8 528.7,278.8 528.5,277.9 528.4,278.9 528.2,277.9 528.1,278.1 528,277.6 527.9,278.6 527.8,279 527.7,277.9 527.6,278 527.5,278.4 527.4,278.4 527.2,278.9 527.1,277.7 526.9,278.8 526.6,279.7 526.5,278.9 526.3,278.7 525.9,279.9 525.8,278.6 525.6,279.7 525.5,279.2 525.3,279.3 525.2,278.2 525.1,279.6 524.3,278.8 524.2,278.1 524,278.3 523.6,278.7 523.1,278.7 523,278.7 522.9,278.5 522.8,278.6 522.7,279.4 522.6,278.8 522.3,279.3 522.2,278.8 522.1,278.7 521.9,279.6 521.5,279.9 521.1,280.3 520.9,279.9 520.8,279.8 520.7,280 520.4,279.1 520.2,279.2 520.1,280.2 520,279.5 519.9,279.4 519.8,280.3 519.7,279.1 519.2,279 518.8,279.3 518.5,279.3 518.4,279.4 518.2,279 517.9,279.5 517.8,280 517.5,279.9 517.3,279.9 517.1,279.9 517,279.7 516.6,279.3 516.5,279.7 516.3,279.3 516.2,279.8 516.1,280.4 516,280 515.8,280.8 515.7,280.3 515.5,280.7 515,281.3 514.8,281.3 514.7,281.3 514.4,281.6 514.1,281.7 513.5,280.4 513.4,280.7 513.2,280.8 513,280.3 512.8,280.8 512.7,280 512.1,279.2 512,279.9 511.9,279.6 511.5,279.8 511.2,279.7 511.1,280.1 511,280.5 510.9,280.3 510.7,279.3 510.5,279.3 510.4,280.4 510.3,280.5 510.1,280.7 510,280.8 509.9,281.4 509.7,280.1 508.9,280.3 508.7,281.6 508.3,280.9 508.2,280.8 508.1,280.9 507.9,281.4 507.6,281.9 507.3,282.7 507.2,282.1 506.9,281.7 506.6,281.1 506.4,281.2 506.3,280.5 506.2,280.7 506.1,280.7 505.9,280 505.8,280.3 505.7,280.5 505.5,280.1 505.3,279.9 505.1,280.8 504.8,279.8 504.6,281 504.5,279.9 504.2,280.7 504.1,281.2 503.7,281.8 503.6,281.4 503.5,282.4 503.3,282.4 503.2,282.7 503,282.1 502.6,282.7 502.4,282.9 501.8,283.1 501.6,283.3 501.5,283.7 501.2,284 501,285 500.8,284.7 500.3,284.5 500.2,283.3 499.8,284.8 499.6,283.6 499.5,284.1 499.4,284.3 499.3,284.5 499,284.3 498.9,284.6 498.8,284.7 498.7,285.1 498.6,285 498.5,284.3 498.4,283.8 498,283.5 497.8,283.1 497.7,282.7 497.5,282.4 497.3,283 497.1,282.2 496.9,282.5 496.6,282.1 496.3,281.9 496.1,283.3 495.9,282 495.8,282.4 495.6,282.8 495.4,282.8 495.2,283.9 495,284.7 494.9,284.6 494.5,284.8 494.3,284.9 494.2,285.2 494.1,284.8 493.7,284.4 493.6,284.7 493.3,284.2 493.2,283.6 492.9,283.9 492.7,284.2 492.6,283.7 492.3,284 492.1,285 492,284.4 491.9,284.4 491.8,284.7 491.7,284.7 491.6,284.9 491.5,284.7 491.3,285.4 491,286.3 490.9,286.3 490.8,286 490.7,285.7 490.3,285 490.2,284.7 490.1,285.2 490,285.3 489.7,284.7 489.3,286.1 489.2,285.9 488.8,285.6 488.2,285.6 487.7,286.1 487.3,286.4 487.1,286.7 487,286.8 486.9,287 486.8,286.1 486.6,286.8 486.5,286.2 486.4,287.3 486.3,285.9 486,286.5 485.5,286.5 485.4,287.5 485.3,286.3 484.9,287.4 484.6,287.6 484.5,287 484.4,286.8 484.3,286.7 483.9,287.6 483.8,287.1 483.3,287.7 483,288.4 482.9,287 482.8,287.4 482.6,288 481.5,288.3 481.1,288.7 480.9,288.8 480.8,287.8 479.7,288.5 479.2,289.3 478.9,289.3 478.6,289.6 478.4,289.9 477.8,290.4 477.7,289.8 477.6,290.2 477.5,290.4 477.4,290.1 477.3,290.7 477.2,290.8 477,290.7 476.9,290.6 476.1,290.9 475.7,291 475.5,291.3 475.3,291.8 475.2,292.7 475,291.8 474.9,291.9 474.6,291.3 473.9,291.2 473.8,292.2 473.7,291.8 473.5,291.7 473.4,291.9 473.3,291.9 473.2,291 473.1,292 472.9,291.3 472.7,292 472.3,292.7 472,292.5 471.9,292.6 471.8,292.3 471.4,292.6 471.2,292.8 471.1,293 470.7,292.9 470.2,293 470.1,293.1 470,293.3 469.9,293.3 469.8,293.9 469.7,293.2 469.6,293.3 469.5,293.7 469.3,293.3 469.2,293.2 469.1,293.6 468.8,293.8 468.7,294 468.5,294.1 468.4,294.3 467.7,293.4 467.2,294.4 467,295.2 466.8,295.1 466.7,295.2 466.4,295.3 466.2,294.7 466.1,295.2 466,295.4 465.5,296 464.9,295.3 464.8,295.6 464.6,294.9 464.5,295.2 464.4,294.7 464.3,295.1 464.2,295.1 464,294.6 463.9,295 463.4,295.6 462.8,295.6 462.6,295.7 462.5,295.8 462.4,295.9 462.3,295.8 462,296.5 461.7,295.8 461.5,296.8 461.4,297.4 461.1,296.6 460.9,297 460.6,297 460.5,296.9 460.3,296.3 459.9,296.6 459.7,296.8 459.6,296.5 459.5,296.7 458.8,296.5 458.7,297.1 458.2,297.3 458.1,296.7 457.8,296.8 457.4,296.2 457.3,297.3 457.2,296.9 456.8,297.3 456.7,297.6 456.6,297.7 456.3,298.8 456.2,298.4 456.1,298.6 456,298.2 455.7,297.9 455.6,297.8 455.4,297.6 455.3,297.5 455.2,297.4 455.1,297.1 454.9,296.8 454.7,296.7 454.6,296.8 454.5,296.7 454.4,296.7 454.1,296.5 453.8,296.7 453.7,297.2 453.2,297 452.9,297.1 452.8,296.8 452.3,296.9 451.9,297.4 451.8,298.1 451.5,297.7 451,297.8 450.9,298.6 450.7,297.9 450.5,298.9 449.9,299.1 449.8,299.1 449.7,298.7 449.6,298.7 449.4,299.4 449,300 448.9,299.6 448.6,299.3 448.5,298.9 448.3,298.6 448.2,299.1 448.1,298.6 448,298.5 447.9,299 447.7,298.6 447.5,298.3 447.4,298.7 447.3,298.7 447.1,299.3 447,299.2 446.8,299.6 446.7,299 446.5,298.4 446.4,299.2 446.3,298.3 446.1,299.2 445.9,299.3 445.8,299.1 445.7,299.2 445.6,299.3 445.3,299.8 444.9,300 444.7,299.4 444.6,299.7 444.3,299.6 443.5,299.5 443.4,299.7 443.3,300.5 443,300.3 442.9,300 442.7,300.3 442.6,300.3 442.5,300.3 442.3,300 442,300.2 441.9,299.6 441.8,299.3 441.2,299.8 441.1,299.6 440.8,299.1 440.7,298.9 440.4,299.8 440.3,300.3 440.1,300.7 439.6,300.4 439.4,300.6 439,300.9 438.5,300.7 438.3,300.9 438,301.1 437.8,300.8 437.4,301.1 437.2,300.7 437.1,301 437,301.2 436.9,301.2 436.6,301 436.4,301.3 436.1,301.5 436,301.6 435.9,301.3 435.7,300.7 435.6,301.2 435.4,301.9 435.3,301.5 435.1,301.1 434.7,301.4 434.6,301.1 434.5,300.6 434.4,301 434.1,301.3 434,300.9 433.9,300.9 433.8,300.9 433.6,301 433.4,301.3 433.3,301.6 433.2,301.4 433,301.6 432.7,301.6 432.6,301.8 432.3,302.1 432.2,301.6 432.1,301.8 431.9,302.3 431.7,302 431.6,302.6 431.5,302.2 431.3,302.2 431.1,302 430.9,301.5 430.6,301 430.4,300.8 429.7,301.4 429.6,301.1 429.4,301 429.2,301.4 428.8,301.5 428,301.1 427.9,301 427.8,302 427.7,301.6 427.6,302 427.5,301.2 427.3,301.9 427.2,301.7 427.1,301.8 427,301.4 426.8,301.4 426.6,301.9 426.5,302.5 425.9,301.6 425.8,301.5 425.6,301.3 425.2,302.6 424.8,301.6 424.6,301.6 424.1,302 424,302 423.9,302 423.8,301.8 423.5,302.1 423.4,301.8 423.1,301.2 423,301.4 422.9,301.7 422.8,301.9 422.7,301.7 422.2,302.2 422.1,301.9 421.9,301.8 421.8,302.6 421.5,302.4 421.4,302.7 421.2,302.9 420.8,303.5 420.7,303 420.5,303.1 420.4,303.6 420.1,303.6 420,303.1 419.8,303.7 419.2,303.8 419.1,304.8 418.9,303.8 418.8,303.6 418.7,303.3 418.6,303.6 418.4,303 418,303 417.7,303.4 417.6,303.4 417.4,302.9 417.2,303.6 417.1,302.8 417,303.7 416.8,303.5 416.7,303.5 416.4,304.1 416.1,303.9 415.7,304 415.5,304.4 415.3,303.6 415.1,304.7 414.6,304.5 414.5,304.6 414.2,304.2 414,304.5 413.9,304.6 413.6,304.5 413.5,304.6 412.9,304.9 412.8,304.1 412.7,304.4 412.2,304.4 412,304.6 411.9,304.2 411.7,304.4 411.1,305 410.9,304.4 410.8,305 410.7,304.5 410.3,304.5 410.2,303.9 410,304.4 409.8,303.9 409.5,304.1 409.4,304.6 409.1,305 408.9,305.2 408.4,303.6 408.2,303.5 408,303.6 407.8,303.3 407.7,304.1 407.5,304.5 407.3,305.1 407.1,305.8 406.7,305.2 406.5,305.6 406.4,305.5 406.2,305.7 405.9,306.1 405.7,306.1 405.6,306 405.1,305.3 405,305.5 404.8,305.8 404.7,305.8 404.5,305.7 403.7,306.7 403.6,307.1 403.4,307.4 403.3,307.1 403.1,307.8 402.5,306.7 402.4,306.5 402.3,306.4 402.2,307 402.1,306.8 402,307.2 401.7,306.8 401.6,307.3 401.1,306.9 400.4,307.2 400.2,307.9 400,307.8 399.9,307.5 399.8,307 398.9,307.6 398.8,308.1 398.5,308.1 398.4,307.9 398.3,308.1 397.8,307.9 397.6,308.4 397.4,308 397.1,308.1 397,308 396.9,308.2 396.8,308.4 396.7,308 396.6,308.4 396.5,308.4 396,308.6 395.8,309 395.4,308.6 394.8,309.4 394.5,308.9 394.3,309.4 393.9,308.3 393.8,308.5 393.6,308.7 393.5,308.6 393.2,309.4 393.1,310.1 392.5,309.8 392.4,309.9 392.3,309.8 392.2,309.2 392.1,310 392,309.7 391.4,309.4 391.3,309.6 390.7,309.9 390.6,309.8 390.5,310.1 390.2,310.1 390.1,310.2 389.3,310.2 388.7,310.5 388.6,310.9 388.5,310.4 388.3,311.5 388,310.9 387.5,311.4 387.3,311.6 387.2,311.3 386.8,311.5 386.4,311.7 386,311.4 385.8,311.5 385.3,312.3 385.2,312.2 385.1,312.3 384.8,312.1 384.7,312.7 384.3,313 384.2,312.3 383.9,312.1 383.7,312.8 383.5,313.2 383.3,313 382.7,313.5 382.6,313.7 382.3,313.8 382.2,313 381.9,314.3 381.8,313.7 381.3,314.1 381.2,313.7 381.1,313.6 380.7,313.6 380.4,314.5 380,313.1 379.6,313.4 379.5,313.2 379.3,312.7 379.2,312.3 379,312.9 378.4,313.9 378.2,313.8 378.1,314.3 377.4,314.3 377.3,314.3 377.2,314 376.8,313.8 376.7,314 376.4,314.7 376.3,314.2 376.1,314.7 375.9,314.6 375.7,315.2 375.5,314.9 375.4,315.3 375.3,315.8 375.2,315.8 375,315.7 374.8,316.2 374.6,315.9 374.5,316.4 374.4,316.6 374.3,316 374.2,316.4 374.1,316.2 373.7,315.2 373.6,315.3 373.4,315.4 373.2,315.2 372.8,314.9 372.6,314.7 372.5,314.9 372.3,315.1 371.7,315.6 371.6,315.4 370.9,315.9 370.5,315.4 370.3,316 370.2,315.5 370.1,316.1 369.7,316.4 369.4,315.8 369.2,315.5 369.1,316.1 369,315.7 368.7,316.1 368.6,315.2 368.4,316.2 368.3,316 368,315.5 367.7,315.4 366.9,316.4 366.8,316 366.3,316 365.7,316 365.3,316.9 365,316.4 364.9,316.8 364.8,317 364.6,316.6 364.5,316.9 364.3,316.3 363.8,316.2 363.5,316.3 363.2,316.2 362.6,315.4 362.2,316.2 362.1,316 361.3,316.4 361,316.2 360.9,316 360.3,315.8 359.8,316 359.7,316 359.2,316.7 358.8,316 358.5,316.8 358.4,316.3 358.1,316.6 357.9,317.5 357.5,317.3 357.3,316.8 356.9,316.3 356.6,315.6 356.5,315.4 356.4,315.7 356.3,315.4 355.2,318 354.3,318.1 354,317.9 353.9,318 353.6,318.1 353.5,317.8 353.4,318.1 353.1,318.7 352.4,318.1 352.3,318.2 351.6,318.2 351.4,317.9 350.7,318.4 350.6,318.2 350.4,319.3 350.3,319.3 350.2,319.4 349.8,319.1 349.7,318.8 349.1,318.4 348.9,318.5 348.8,318.5 348.3,318.7 347.8,318.4 347.6,319.3 347.5,319 347.3,318.7 347.2,318.9 346.7,318.7 346.1,319 345.4,319.7 345.3,319.2 344.8,319.2 344.6,319.7 344.2,320.1 343.7,319.5 343.2,319.9 343,319.6 342.9,319.9 342.8,320.2 342.6,319.7 342.4,319.6 342.1,319 342,319.2 341.8,318.8 341.7,318.3 341.5,318.6 341,318.4 340.5,319 340.3,319.9 340.1,320.2 339.8,320.8 339.5,321.3 339.2,321.7 338.4,320.9 338.3,321.2 338.2,321.2 337.8,320.9 337.7,321 337.6,321 337.5,321.3 337.4,321.2 337.1,320.4 337,320.8 336.1,322.1 336,322.2 335.6,320.4 335.3,321.6 335,321.8 334.9,321.9 334.8,321.9 334.7,322.2 334,322.2 333.9,321.9 333.6,322.3 333.3,322.5 333.2,321.9 332.8,321.6 332.6,322.5 332.2,321.9 332.1,321.5 332,322.2 331.9,322.1 331.7,322.3 331.6,322.8 331.3,322.7 331.2,322.1 330.9,322.9 330.5,323.1 330,323 329.8,322.7 329.7,323.3 329.5,323.2 329.3,323.4 328.7,322.5 328.6,323.3 328.5,323.1 328.2,323.1 328,323.9 327.6,323.6 327.2,323 327.1,323.2 326.6,324.9 326.2,325.3 326.1,326.1 326,326 325.7,327.2 325.6,326.5 325.5,327.3 325.3,326.6 324.9,326.2 324.6,325.6 324.4,325.3 324.3,324.7 323.4,326.4 323.1,326.9 322.9,327.2 322.7,326.7 322.5,325.8 322,325.6 321.9,324.8 321.8,325 321.6,325.1 321.3,325.8 321.2,325.6 321.1,326 320.8,326.9 320.7,326.3 320.5,327.1 320.3,328.2 320.1,328.2 319.6,331 319.3,330.7 319.2,330.8 318.9,330.8 318.8,330 318.6,328.6 318.5,328.2 318.1,325.2 317.9,325.8 317.5,325.9 317.4,325.2 317.1,326.6 317,326.7 316.7,325.6 316.6,326.5 316,326.6 315.6,327.8 315.3,328.3 314.5,331.5 314.3,330.7 314.1,330.2 313.8,329.6 313,327.1 312.1,327.4 312,326.8 311.5,327.4 310.9,327 310.5,328 310.2,327.8 309.7,327.6 309.6,327.2 309.5,327.7 309.1,328 308.5,328.2 308.4,328.5 308.1,329.4 307.8,330.2 307.6,331.6 307.1,333.3 307,334.1 306.9,334.2 306.8,334.8 306.7,335.6 306.4,334.7 306.1,335 306,335.2 305.8,335.2 305.7,336.1 305.2,332 304.4,326.1 304.2,327.5 303.3,329.4 303.1,330 303,330.3 302.8,329.6 302.6,330 302.2,329.9 301.9,330 301.5,330 301.3,330.7 301.2,329.8 300.9,330.3 300.6,329.6 299.9,330 299.6,329.8 299.3,330 298.8,330 298.3,329.8 297.8,329.8 297.7,329.8 296.4,329.7 295.8,330.3 295.7,330.5 295.4,330.4 294.6,330.5 294.3,330.7 294.1,330.8 294,330.7 293.8,331.5 293.1,332.3 292.8,332.8 292,331.5 291.9,331.6 291.7,330.8 291.6,331.2 291.4,330.5 291.1,330.8 290.6,331.2 290.3,332.4 290.2,332.5 290.1,333.3 289.9,334 289.6,335.6 289.5,336.7 289.4,336.6 289.3,338.1 289.2,338.9 289.1,338.3 288.9,338.4 288.7,338.2 288.5,338 288.2,338.5 287.9,335.5 287.7,334.6 287.6,334.5 287.4,332.9 287,331.9 286.9,331.8 286.2,331.5 286.1,331.7 285.4,331.9 284.5,331.5 284.1,331.6 283.8,331.5 283.7,332.5 283.6,332.2 283.3,333.1 282.9,335.8 282.5,338.2 282.2,338.4 282.1,338.3 281.7,335.6 281.4,333.5 281.2,332.2 281.1,331.8 280.9,332 280.7,332.4 280.5,331.5 279.7,336 279.6,335.4 279.3,335.1 278.8,332.8 278.5,332.3 278.3,332.1 278,332.5 277.8,333.5 277.7,333.5 277.5,334.7 277.4,336.1 276.7,341.3 276.6,341.9 276.2,343.1 275.4,337 275.3,336.3 275.2,335.2 275.1,334.6 274.8,333.9 274.7,333.9 274.6,334.1 274.4,334.5 274,336.4 273.8,336.2 273.7,336.4 273.5,337.5 273.2,336.7 272.1,334.1 271.9,333.1 271.8,334.4 271.5,333.5 271.4,333.8 271.1,334.3 270.8,334.6 270.5,336.1 270.3,336.5 270,336.5 269.9,337.1 269.5,336.4 269.2,337.6 269.1,337.4 268.8,337.9 268.6,338.8 268.3,339.9 267.7,336.9 267.5,336.5 267.4,335 267.2,334.5 267.1,333.7 267,333.7 266.6,334 265.9,336.2 265.6,337.5 265.5,337.4 265,336 264.4,336.1 264.1,336 263.7,337.7 263.4,338.9 263.3,338.4 263.2,339.2 262.9,340.3 262.8,340.1 262.6,339.1 262.3,337.4 262.1,336.1 261.6,335.6 261.5,334.9 261.3,336.1 260.7,338.7 260.6,340.1 260.4,339.5 260.3,339.5 260.2,340.3 260,340.2 259.4,338.2 259.2,336.7 259.1,335.2 259,335.3 258.7,334.4 258.6,333.7 258.5,333.8 258.4,333.6 257.4,334.3 257.1,333.8 256.1,334.3 256,334.2 254.7,339.4 254.6,339.5 253.1,333.9 252.5,334.5 252.4,334.6 251.9,335.4 251.8,333.8 251.5,334.5 251.1,334.8 250.9,335.1 250.7,334.9 250.4,335.1 250.1,335.1 250,334.5 249.9,335.4 249.7,334.9 249.3,335.3 248.8,335.3 248.6,335.2 248.3,335 247.3,335.1 245.5,334.9 245,334.5 244.6,334.4 243.7,334 243.3,333.5 243.1,332.9 241.9,335.7 241.8,334.9 241.7,335.2 241.3,337.2 240.5,337.8 240.3,338 238.7,335.3 237.9,335.3 237.8,334.8 237.7,334.4 237.5,334.9 237.4,335.8 237.2,336 237,336 236.8,337.3 236.7,338.3 236.3,342.1 235.7,342.6 235.6,341.5 235.3,337.9 235.2,336.5 234.6,334.1 234.5,334.5 233,335.1 232.5,335 232.3,335.2 232,334.8 231.6,335.2 229.8,335.1 229.7,335.9 229,335.6 227.4,335.4 226.9,336.7 226,341.2 225.9,340.7 225.5,339.1 225.4,338.7 225.2,338.2 224.6,334.6 224.5,334.1 224,333 223.3,333.1 222.1,334.7 221.9,334.2 221.7,334.4 221,334.3 220.8,334.2 220.6,335.6 220.5,335 220.1,335.1 219.6,337.3 219.4,337.2 219.1,335.6 218.4,334.8 218,334.3 217,334.3 216.4,336.4 216.1,337.3 215.5,339.9 215.3,339.5 214.2,335.8 214.1,335.5 213.9,334.8 213,334.3 212,334.7 211.6,336.8 211.5,337.8 211.4,338.9 211.3,339.9 211.1,342.7 210.7,345.8 210.6,346 210.2,345.7 209.9,344.2 209.8,344.9 209.3,341.7 209.1,342 209,341.1 208.9,340.2 208.7,339.2 208.3,338.9 208.2,338.7 208.1,338.3 208,339.2 207.8,339.6 207.5,339.9 207.4,339.8 207.2,339.1 206.5,336.5 206.2,335.6 206.1,334.5 205.9,335.6 205.5,335.1 203.8,335.4 203.5,335.3 202.6,335.7 202,335.7 201.7,336.1 200.8,335.8 198.9,336.4 197.3,337.3 197.2,337.5 195.5,337.6 195,337.2 194.4,336.3 194.1,337.3 192,335.3 190.3,335.9 190.1,335.4 188.8,339.8 188.3,338.9 187.9,338.1 187.4,336.3 186.9,335.2 186.2,334 184.4,336.7 182.7,337 182.4,335.8 181.7,335.8 178.9,336.6 178.6,338 176.5,338.5 172.4,338.7 171.4,337.3 170.1,337.4 169.1,338 168.6,338.4 167.2,338.2 166.6,337.9 166.2,337.7 165.7,337.8 164.6,342.2 164.5,342.5 163.5,337.9 163.4,337 161,337.5 159,337.5 157.9,345 156.8,338.4 156.2,338.5 154.8,338.2 152.8,339 152.4,338.9 151.7,338.7 145,340.9 143.5,343.7 142,346.5 141,348.3 140,346.5 138.5,343.1 137.5,341.1 137,340.5 122.9,343.6 121.2,346.6 119.1,350.2 115.7,342.8 110.3,341.8 96.9,347.9 93.4,347.8 72.1,342.7" fill="#333" fill-opacity=".3"/><path d="M83 389.75v3.67M199.4 389.75v3.67M315.7 389.75v3.67M432.1 389.75v3.67M548.5 389.75v3.67M664.9 389.75v3.67M44 374.3h-3.67M44 299.4h-3.67M44 224.5h-3.67M44 149.6h-3.67M44 74.7h-3.67" stroke="#333" stroke-width="1.42" fill="none"/><g font-size="11.73" fill="#4d4d4d"><text x="83" y="405.9" text-anchor="middle">-3</text><text x="199.4" y="405.9" text-anchor="middle">-2</text><text x="315.7" y="405.9" text-anchor="middle">-1</text><text x="432.1" y="405.9" text-anchor="middle">0</text><text x="548.5" y="405.9" text-anchor="middle">1</text><text x="664.9" y="405.9" text-anchor="middle">2</text><text x="37.1" y="378.5" text-anchor="end">-2</text><text x="37.1" y="303.6" text-anchor="end">-1</text><text x="37.1" y="228.7" text-anchor="end">0</text><text x="37.1" y="153.8" text-anchor="end">1</text><text x="37.1" y="78.9" text-anchor="end">2</text></g><text x="359.5" y="425" text-anchor="middle" font-size="14.67">RH (scaled)</text><text transform="translate(17.9,210.8) rotate(-90)" text-anchor="middle" font-size="14.67">Energy output (scaled)</text><text x="44" y="20" font-size="17.9">Predictive uncertainty</text></g>
</svg>
</body></html>
